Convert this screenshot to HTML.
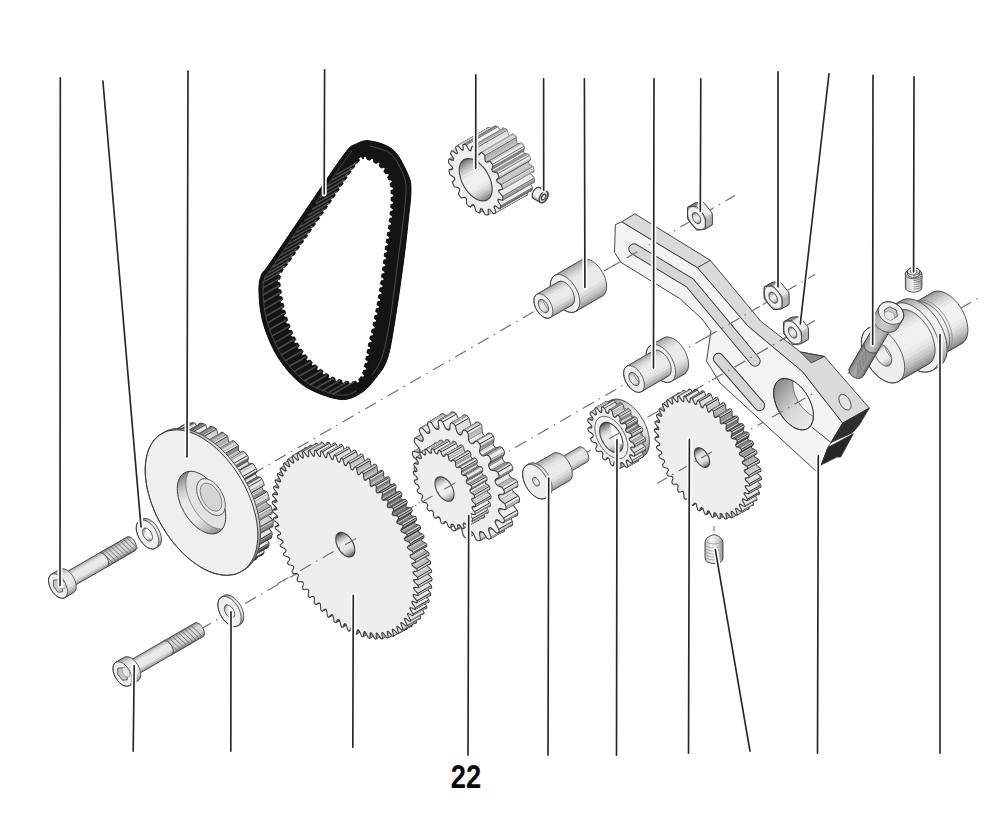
<!DOCTYPE html>
<html><head><meta charset="utf-8"><style>
html,body{margin:0;padding:0;background:#fff;}
svg{display:block;}
.num{font-family:"Liberation Sans",sans-serif;font-weight:bold;}
</style></head><body>
<svg width="1000" height="825" viewBox="0 0 1000 825">
<rect width="1000" height="825" fill="#fff"/>
<line x1="140.0" y1="538.9" x2="735.0" y2="195.4" stroke="#707070" stroke-width="1.2" stroke-dasharray="12.5 6 1.5 6"/>
<line x1="200.0" y1="629.6" x2="815.0" y2="274.5" stroke="#707070" stroke-width="1.2" stroke-dasharray="12.5 6 1.5 6"/>
<line x1="580.0" y1="456.3" x2="815.0" y2="320.6" stroke="#707070" stroke-width="1.2" stroke-dasharray="12.5 6 1.5 6"/>
<line x1="690.0" y1="464.5" x2="980.0" y2="297.1" stroke="#707070" stroke-width="1.2" stroke-dasharray="12.5 6 1.5 6"/>
<path d="M369.6 140.8 373.1 141.4 377.1 142.3 381.3 143.6 385.5 145.3 389.5 147.3 393 149.8 396 152.9 398.9 156.8 401.4 161.1 403.7 165.4 405.7 169.6 407.4 173.2 408.7 176.2 409.6 178.6 410.3 180.8 410.7 183.2 410.9 185.9 411 189.4 410.9 193.6 410.6 198.2 410.2 203.2 409.6 208.6 408.9 214.2 408.3 220 407.7 225.8 407.1 231.8 406.4 237.9 405.7 244.5 404.8 251.7 403.8 259.6 402.6 268.7 401.1 279 399.6 289.9 398 300.7 396.4 311 395 320 393.7 327.9 392.5 335.2 391.4 341.9 390.2 348 388.9 353.5 387.4 358.6 385.7 363 384 366.6 382.1 369.7 380.1 372.5 378 375.2 375.8 378 373.5 380.9 371.1 383.8 368.6 386.6 366 389.2 363.2 391.5 360.2 393.5 357.2 395.3 354.1 396.9 350.8 398.2 347.3 399.2 343.4 399.6 339 399.3 333.9 398.3 328 396.7 321.8 394.6 315.5 392 309.4 389.1 304 385.8 299.1 382.1 294.5 378 290.2 373.5 286.1 368.7 282.3 363.7 278.8 358.6 275.5 353.2 272.5 347.4 269.7 341.4 267.3 335.3 265.1 329.4 263.3 323.7 261.9 318.2 260.8 312.6 260 307.1 259.5 301.9 259.2 297 259 292.7 258.9 289 259 285.7 259.3 282.9 259.7 280.2 260.4 277.7 261.3 275.2 262 273.4 262.5 272.6 263.2 271.9 264.5 270.5 267 267.3 271 261.6 277.3 252.3 285.6 240 295 226 304.7 211.7 313.6 198.4 321 187.6 326.8 179.1 331.8 171.7 336.2 165.4 339.9 160.1 343.2 155.5 346.2 151.6 348.6 148.7 350.2 146.9 351.4 146 352.4 145.5 353.6 145.1 355.2 144.4 357.2 143.4 359.3 142.5 361.5 141.6 363.9 140.9 366.6 140.6zM364 156.4 365.2 156.5 366.4 156.6 367 159.4 367.9 159.6 368.9 160 369.8 160.3 371.8 158.3 372.8 158.8 373.7 159.2 373.4 162 374.3 162.5 375.2 163 376 163.6 378.3 162 379.2 162.7 380.1 163.4 379.2 166 379.9 166.7 380.6 167.4 381.3 168.1 383.9 167.2 384.6 168 385.3 168.8 383.8 171.2 384.4 172 385 172.9 385.6 173.7 388.3 173.2 388.8 174.1 389.4 175 387.6 177.2 388 178 388.4 179 388.8 179.9 391.6 179.9 392 181 392.3 182 390 183.7 390.2 184.7 390.4 185.7 390.6 186.6 393.2 187.4 393.4 188.4 393.4 189.4 390.9 190.6 391 191.6 391 192.6 391.1 193.6 393.7 194.6 393.7 195.6 393.7 196.6 391.1 197.6 391.1 198.6 391.1 199.6 391 200.6 393.6 201.7 393.6 202.8 393.5 203.8 390.9 204.6 390.8 205.6 390.7 206.6 390.7 207.6 393.2 208.8 393.1 209.8 393 210.9 390.3 211.6 390.2 212.6 390.1 213.6 390 214.6 392.5 215.9 392.4 216.9 392.3 217.9 389.6 218.6 389.5 219.6 389.3 220.6 389.2 221.6 391.6 222.9 391.5 223.9 391.4 224.9 388.6 225.5 388.5 226.5 388.4 227.5 388.2 228.5 390.6 229.9 390.5 230.9 390.3 231.9 387.6 232.5 387.5 233.5 387.3 234.4 387.2 235.4 389.6 236.8 389.4 237.8 389.3 238.8 386.6 239.4 386.4 240.4 386.3 241.4 386.1 242.4 388.5 243.7 388.4 244.7 388.2 245.7 385.5 246.3 385.4 247.3 385.2 248.3 385.1 249.3 387.5 250.6 387.4 251.6 387.3 252.6 384.6 253.3 384.4 254.3 384.3 255.2 384.2 256.2 386.6 257.6 386.5 258.5 386.4 259.5 383.7 260.2 383.6 261.2 383.4 262.2 383.3 263.2 385.8 264.5 385.6 265.5 385.5 266.5 382.8 267.2 382.7 268.2 382.6 269.1 382.4 270.1 384.9 271.5 384.8 272.5 384.6 273.4 381.9 274.1 381.8 275.1 381.7 276.1 381.5 277.1 384 278.4 383.9 279.4 383.7 280.4 381 281.1 380.9 282.1 380.7 283 380.6 284 383 285.4 382.9 286.4 382.7 287.4 380 288 379.8 289 379.7 290 379.5 291 381.9 292.4 381.8 293.4 381.6 294.4 378.9 294.9 378.7 295.9 378.5 296.9 378.3 297.9 380.7 299.3 380.5 300.3 380.3 301.3 377.6 301.8 377.4 302.8 377.2 303.8 377.1 304.8 379.4 306.2 379.2 307.2 379 308.2 376.3 308.7 376.1 309.7 375.9 310.6 375.7 311.6 378 313.1 377.8 314.1 377.7 315.1 374.9 315.6 374.7 316.5 374.5 317.5 374.3 318.5 376.7 320 376.4 321 376.2 322 373.5 322.4 373.3 323.4 373.1 324.4 372.9 325.4 375.2 326.9 375 327.9 374.8 328.8 372 329.3 371.8 330.2 371.6 331.2 371.3 332.2 373.6 333.7 373.4 334.7 373.2 335.7 370.4 336.1 370.2 337.1 370 338 369.8 339 372.1 340.6 371.9 341.5 371.6 342.5 368.9 342.9 368.7 343.9 368.5 344.9 368.2 345.9 370.6 347.4 370.4 348.3 370.2 349.3 367.5 349.8 367.3 350.8 367.1 351.7 366.9 352.7 369.3 354.2 369.1 355.2 369 356.1 366.2 356.7 366.1 357.7 365.9 358.7 365.7 359.6 368.1 361.1 367.9 362.1 367.8 363.1 365 363.6 364.8 364.6 364.6 365.5 364.4 366.5 366.8 368.1 366.5 369.1 366.2 370.1 363.5 370.4 363.2 371.4 362.9 372.3 362.5 373.3 364.5 375.2 364 376.2 363.5 377.2 360.7 376.8 360.2 377.7 359.5 378.4 358.8 379.1 359.6 381.8 358.6 382.5 357.5 383.1 355.4 381.2 354.5 381.6 353.5 381.8 352.5 381.9 351.5 384.6 350.4 384.5 349.2 384.5 348.6 381.7 347.6 381.6 346.6 381.4 345.6 381.1 344 383.4 343.1 383.2 342.1 383 341.7 380.2 340.7 380 339.8 379.7 338.8 379.4 337.1 381.6 336.1 381.3 335 380.9 335 378.2 334.1 377.8 333.2 377.4 332.3 377 330.2 378.9 329.2 378.4 328.3 377.8 328.7 375.1 327.9 374.5 327 374 326.2 373.4 323.9 375 323.1 374.4 322.2 373.8 323 371.1 322.2 370.5 321.4 369.9 320.6 369.3 318.2 370.7 317.4 370 316.6 369.4 317.5 366.7 316.7 366.1 316 365.4 315.2 364.8 312.7 366 312 365.3 311.2 364.6 312.3 362.1 311.5 361.4 310.8 360.7 310.1 360 307.6 361 306.9 360.3 306.2 359.6 307.4 357.1 306.7 356.3 306.1 355.5 305.5 354.8 302.8 355.6 302.1 354.8 301.5 353.9 303 351.6 302.4 350.8 301.9 349.9 301.3 349.1 298.5 349.7 298 348.8 297.5 347.9 299.2 345.7 298.6 344.9 298.1 344 297.6 343.1 294.9 343.5 294.4 342.6 293.9 341.7 295.8 339.6 295.3 338.7 294.9 337.8 294.4 336.9 291.7 337.1 291.2 336.2 290.8 335.3 292.8 333.3 292.4 332.4 292 331.4 291.6 330.5 288.8 330.6 288.4 329.6 288 328.7 290.1 326.8 289.7 325.9 289.4 324.9 289 324 286.2 323.9 285.9 322.9 285.6 322 287.7 320.2 287.4 319.3 287.1 318.3 286.8 317.3 284.1 317.1 283.8 316.1 283.5 315.2 285.7 313.5 285.5 312.5 285.2 311.6 285 310.6 282.2 310.2 282 309.3 281.8 308.3 284 306.7 283.8 305.7 283.6 304.7 283.4 303.8 280.7 303.3 280.5 302.3 280.2 301.3 282.6 299.8 282.4 298.9 282.2 297.9 282 296.9 279.3 296.4 279.1 295.4 278.9 294.4 281.3 292.9 281.2 292 281 291 280.8 290 278.1 289.4 278 288.4 277.8 287.4 280.3 286 280.1 285 280 284 279.9 283 277.3 282.2 277.2 281 277.3 280 279.9 279 280 278.1 280.2 277.1 280.4 276.1 278.2 274.4 278.5 273.4 278.9 272.3 281.7 272.3 282.1 271.4 282.6 270.5 283.1 269.7 281.7 267.3 282.4 266.5 283 265.7 285.7 266.6 286.3 265.8 286.9 265 287.5 264.2 286 261.9 286.6 261.1 287.2 260.3 289.9 261 290.5 260.2 291 259.4 291.6 258.5 290.1 256.2 290.6 255.4 291.2 254.6 293.9 255.2 294.5 254.4 295 253.6 295.6 252.8 294 250.5 294.6 249.6 295.2 248.8 297.9 249.5 298.4 248.7 299 247.8 299.6 247 298 244.7 298.6 243.9 299.1 243.1 301.8 243.7 302.4 242.9 303 242.1 303.6 241.2 302 238.9 302.5 238.1 303.1 237.3 305.8 237.9 306.4 237.1 307 236.3 307.5 235.5 306 233.2 306.5 232.3 307.1 231.5 309.8 232.2 310.4 231.3 310.9 230.5 311.5 229.7 309.9 227.4 310.5 226.6 311.1 225.7 313.8 226.4 314.3 225.6 314.9 224.8 315.5 223.9 313.9 221.6 314.5 220.8 315 220 317.8 220.6 318.3 219.8 318.9 219 319.5 218.2 317.9 215.9 318.5 215 319 214.2 321.7 214.9 322.3 214 322.9 213.2 323.4 212.4 321.9 210.1 322.4 209.3 323 208.4 325.7 209.1 326.3 208.3 326.8 207.4 327.4 206.6 325.8 204.3 326.4 203.5 327 202.7 329.7 203.3 330.2 202.5 330.8 201.7 331.4 200.8 329.8 198.5 330.4 197.7 330.9 196.9 333.6 197.5 334.2 196.7 334.8 195.9 335.3 195 333.7 192.8 334.3 191.9 334.8 191.1 337.6 191.7 338.1 190.9 338.7 190.1 339.2 189.2 337.6 187 338.2 186.1 338.7 185.3 341.4 185.9 342 185.1 342.6 184.2 343.1 183.4 341.5 181.1 342 180.3 342.6 179.5 345.3 180 345.8 179.2 346.4 178.4 347 177.5 345.3 175.3 345.9 174.4 346.4 173.6 349.2 174.2 349.7 173.4 350.3 172.5 350.9 171.7 349.3 169.4 349.9 168.6 350.5 167.7 353.2 168.5 353.8 167.7 354.4 166.9 355 166 353.5 163.7 354.2 162.9 354.8 162.1 357.5 162.9 358.1 162.1 358.7 161.4 359.4 160.7 358.7 157.9 360 157.1 361.5 156.7 363 159.1z" fill="#141414" fill-rule="evenodd" stroke="#000" stroke-width=".9"/>
<path d="M353.6 382.1 332.4 394.3M346.7 382.1 327.6 393.1M339.9 380.5 321.7 391M333.2 378.3 315.9 388.3M327 375 309.7 385M321.3 371 304 381M315.9 366.6 299 376.3M310.7 361.9 293.8 371.6M305.9 356.8 289.4 366.3M301.6 351.3 285.5 360.5M297.8 345.4 281.3 354.9M294.4 339.2 278 348.7M291.5 332.9 275.1 342.4M288.9 326.4 272 336.1M286.5 319.8 269.7 329.5M284.6 313 267.3 323M283 306.2 265.7 316.2M281.5 299.4 264.2 309.4M280.3 292.5 263.4 302.2M279.3 285.5 262.8 295M279.2 278.6 262.7 288.1M281.2 271.9 262.6 282.6M285.4 266.3 264.2 278.5M289.6 260.7 268.4 272.9M293.6 254.9 272.4 267.2M297.6 249.2 276.4 261.4M301.6 243.4 280.3 255.6M305.5 237.6 284.3 249.9M309.5 231.8 288.3 244.1M313.5 226.1 292.3 238.3M317.5 220.3 296.2 232.6M321.4 214.5 300.2 226.8M325.4 208.8 304.2 221M329.4 203 308.2 215.2M333.3 197.2 312.1 209.5M337.3 191.4 316 203.7M341.1 185.6 319.9 197.8M345 179.7 323.8 192M348.9 173.9 327.6 186.1M352.9 168.2 331.7 180.4M357.2 162.6 336 174.9" fill="none" stroke="#4a4a4a" stroke-width="1.6"/>
<path d="M352.1 151 351.2 152.1 350.3 153.2 349.4 154.3 348.6 155.4 347.6 156.6 346.8 157.8 345.9 159 345 160.2 344.1 161.4 343.3 162.6 342.4 163.8 341.6 165 340.7 166.2 339.9 167.5 339 168.7 338.2 169.9 337.3 171.2 336.5 172.4 335.6 173.6 334.8 174.9 333.9 176.1 333.1 177.3 332.2 178.6 331.4 179.8 330.5 181.1 329.7 182.3 328.8 183.5 328 184.8 327.2 186 326.3 187.3 325.5 188.5 324.6 189.8 323.8 191 322.9 192.2 322.1 193.5 321.2 194.7 320.4 196 319.5 197.2 318.7 198.4 317.9 199.7 317 200.9 316.2 202.2" fill="none" stroke="#505050" stroke-width=".9"/>
<path d="M302.7 222.1 301.9 223.3 301 224.6 300.2 225.8 299.4 227.1 298.5 228.3 297.7 229.6 296.9 230.8 296 232.1 295.2 233.3 294.3 234.6 293.5 235.8 292.7 237 291.8 238.3 291 239.5 290.1 240.8 289.3 242 288.5 243.3 287.6 244.5 286.8 245.8 285.9 247 285.1 248.3 284.3 249.5 283.4 250.8 282.6 252 281.7 253.2 280.9 254.5 280 255.7 279.2 257 278.4 258.2 277.5 259.5 276.7 260.7 275.8 262 275 263.2 274.1 264.5 273.2 265.7 272.4 267 271.5 268.2 270.6 269.5 269.6 270.8 268.7 272 267.6 273.3 266.5 274.5 265.9 275.1 265.6 275.8 265.1 277 264.7 278.3 264.3 279.5 263.9 280.8 263.7 282.1 263.5 283.3 263.3 284.7 263.2 286 263.2 287.4 263.1 288.8 263.1 290.2 263.2 291.7 263.2 293.1 263.3 294.6 263.4 296.1 263.4 297.5 263.5 299 263.6 300.5 263.8 301.9 263.9 303.4 264 304.9 264.2 306.3 264.4 307.7 264.6 309.2 264.8 310.6 265 312 265.2 313.4 265.5 314.9 265.8 316.3 266.1 317.6 266.4 319 266.8 320.5 267.2 321.9 267.5 323.2 268 324.6 268.4 326 268.9 327.4 269.4 328.7 269.9 330.1 270.4 331.5 270.9 332.9 271.4 334.2 271.9 335.6 272.5 337 273.1 338.4 273.6 339.7 274.2 341 274.8 342.3 275.4 343.7 276 345 276.6 346.3 277.3 347.5 278 348.9 278.7 350.2 279.3 351.4 280.1 352.6 280.8 353.9 281.6 355.2 282.3 356.3 283.1 357.5 284 358.7 284.8 360 285.6 361.1 286.5 362.3 287.4 363.4 288.3 364.6 289.1 365.8 290 366.8 291 368 291.9 369.1 292.9 370.2 293.8 371.2 294.8 372.3 295.8 373.3 296.8 374.4 297.8 375.3 298.8 376.3 299.9 377.3 301 378.2 302 379.1 303.1 379.9 304.3 380.8 305.5 381.7 306.5 382.4 307.7 383.1 309 383.9 310.3 384.7 311.4 385.4 312.6 385.9 313.9 386.6 315.3 387.3 316.6 387.9 317.8 388.5 319.1 389 320.5 389.6 321.9 390.1 323.2 390.7 324.5 391.1 325.9 391.6 327.3 392.1 328.7 392.5 330 392.9 331.4 393.3 332.8 393.7 334.2 394.1 335.5 394.4 336.9 394.6 338.4 394.9 339.6 395.1 340.8 395.2 342.3 395.3 343.4 395.3 344.6 395.2 346 395.1 347.1 394.9 348.4 394.5 349.6 394.2 350.7 393.7 352 393.2 353.2 392.6 354.4 391.9 355.7 391.3 356.9 390.5" fill="none" stroke="#505050" stroke-width=".9"/>
<path d="M370 146 372.4 146.7 375.8 147.6 379.8 148.8 383.9 150.1 387.8 151.9 391 154 393.6 156.7 396 159.9 398.1 163.5 400 167.2 401.6 170.8 403 174 404.1 176.7 404.9 179 405.4 181.2 405.8 183.6 406 186.5 406 190 405.9 194.3 405.5 199.3 405 204.6 404.4 210.3 403.7 216.1 403 222 402.3 227.7 401.6 233.4 400.8 239.2 400 245.5 399 252.3 398 260 396.8 269 395.6 279.2 394.2 290.1 392.8 300.9 391.4 311.1 390 320 388.7 327.7 387.4 334.7 386.2 341 384.9 346.8 383.5 352.1 382 357 380.2 361.5 378.1 365.7 376 369.3 374 372.4 372.2 375" fill="none" stroke="#555" stroke-width=".9"/>
<path fill="#bbb" stroke="#2a2a2a" stroke-width="2" stroke-linejoin="round" d="M165.1 461.6 165.1 460 165.5 458.6 169.3 459.5 169.7 458.3 169.6 456.7 166.1 452.5 166 450.8 166.3 449.4 166.6 448 167.3 446.9 171.2 448.8 171.8 447.8 172 446.4 169 441.8 169.2 440.2 169.8 439.1 170.4 437.9 171.3 437.2 175.2 440 176 439.4 176.5 438.2 174.1 433.2 174.6 431.9 175.4 431.1 176.2 430.3 177.4 429.9 181 433.5 182.1 433.2 182.8 432.3 181.1 427.3 181.9 426.3 182.9 425.8 183.9 425.3 185.2 425.3 188.6 429.6 189.8 429.7 190.7 429.1 189.8 424.2 190.8 423.5 192 423.4 193.2 423.3 194.6 423.7 197.4 428.5 198.7 428.9 199.8 428.6 199.7 424 200.9 423.8 202.2 424.1 203.6 424.3 205 425.1 207.2 430.1 208.5 430.9 209.8 431 210.5 426.9 211.8 427.1 213.2 427.7 214.6 428.4 216 429.5 217.5 434.5 218.8 435.6 220.1 436 221.6 432.7 223 433.2 224.4 434.2 225.8 435.2 227.2 436.6 227.9 441.4 229.1 442.7 230.4 443.5 232.6 441.1 234.1 442 235.4 443.2 236.7 444.5 237.9 446.1 237.8 450.6 238.9 452.1 240.2 453.2 243 451.7 244.4 452.9 245.7 454.4 246.9 455.9 247.9 457.7 247 461.6 247.9 463.2 249.1 464.5 252.4 464.1 253.7 465.6 254.7 467.3 255.8 469 256.5 470.8 254.9 473.9 255.5 475.6 256.6 477.2 260.3 477.8 261.4 479.5 262.3 481.2 263.1 483 263.6 484.9 261.2 487.1 261.6 488.8 262.5 490.4 266.4 492.1 267.3 493.9 267.9 495.7 268.4 497.5 268.6 499.3 265.7 500.5 265.8 502.1 266.5 503.8 270.4 506.4 271 508.3 271.3 510 271.6 511.8 271.5 513.4 268.1 513.6 268 515 268.4 516.7 272.1 520.1 272.5 522 272.5 523.6 272.5 525.2 272.1 526.6 268.4 525.7 268 526.9 268.1 528.5 271.5 532.7 271.6 534.4 271.3 535.8 271 537.2 270.4 538.3 266.5 536.4 265.8 537.4 265.7 538.8 268.6 543.4 268.4 545 267.9 546.1 267.3 547.3 266.4 548 262.5 545.2 261.6 545.8 261.2 547 263.6 552 263.1 553.3 262.3 554.1 261.4 554.9 260.3 555.3 256.6 551.7 255.5 552 254.9 552.9 256.5 557.9 255.8 558.9 254.7 559.4 253.7 559.9 252.4 559.9 249.1 555.6 247.9 555.5 247 556.1 247.9 561 246.9 561.7 245.7 561.8 244.4 561.9 243 561.5 240.2 556.7 238.9 556.3 237.8 556.6 237.9 561.2 236.7 561.4 235.4 561.1 234.1 560.9 232.6 560.1 230.4 555.1 229.1 554.3 227.9 554.2 227.2 558.3 225.8 558.1 224.4 557.5 223 556.8 221.6 555.7 220.1 550.7 218.8 549.6 217.5 549.2 216 552.5 214.6 552 213.2 551 211.8 550 210.5 548.6 209.8 543.8 208.5 542.5 207.2 541.7 205 544.1 203.6 543.2 202.2 542 200.9 540.7 199.7 539.1 199.8 534.6 198.7 533.1 197.4 532 194.6 533.5 193.2 532.3 192 530.8 190.8 529.3 189.8 527.5 190.7 523.6 189.8 522 188.6 520.7 185.2 521.1 183.9 519.6 182.9 517.9 181.9 516.2 181.1 514.4 182.8 511.3 182.1 509.6 181 508 177.4 507.4 176.2 505.7 175.4 504 174.6 502.2 174.1 500.3 176.5 498.1 176 496.4 175.2 494.8 171.3 493.1 170.4 491.3 169.8 489.5 169.2 487.7 169 485.9 172 484.7 171.8 483.1 171.2 481.4 167.3 478.8 166.6 476.9 166.3 475.2 166 473.4 166.1 471.8 169.6 471.6 169.7 470.2 169.3 468.5 165.5 465.1 165.1 463.2z"/>
<g stroke-linejoin="round">
<path fill="none" stroke="#2a2a2a" stroke-width=".90" d="M154.3 494.4 169 485.9"/>
<path fill="#424242" stroke="#424242" stroke-width=".6" d="M154.3 494.4 157.3 493.2 172 484.7 169 485.9z"/>
<path fill="none" stroke="#2a2a2a" stroke-width=".90" d="M190.3 552.6 205 544.1M157.3 493.2 172 484.7"/>
<path fill="#333333" stroke="#333333" stroke-width=".6" d="M192.5 550.2 190.3 552.6 205 544.1 207.2 541.7z"/>
<path fill="none" stroke="#2a2a2a" stroke-width=".90" d="M151.4 480.3 166.1 471.8M192.5 550.2 207.2 541.7"/>
<path fill="#545454" stroke="#545454" stroke-width=".6" d="M151.4 480.3 154.8 480.1 169.6 471.6 166.1 471.8z"/>
<path fill="none" stroke="#2a2a2a" stroke-width=".90" d="M201.3 561 216 552.5M154.8 480.1 169.6 471.6"/>
<path fill="#4b4b4b" stroke="#4b4b4b" stroke-width=".6" d="M202.8 557.7 201.3 561 216 552.5 217.5 549.2z"/>
<path fill="none" stroke="#2a2a2a" stroke-width=".90" d="M202.8 557.7 217.5 549.2M150.8 467.1 165.5 458.6"/>
<path fill="#727272" stroke="#727272" stroke-width=".6" d="M150.8 467.1 154.6 468 169.3 459.5 165.5 458.6z"/>
<path fill="none" stroke="#2a2a2a" stroke-width=".90" d="M154.6 468 169.3 459.5M212.4 566.8 227.2 558.3"/>
<path fill="#6f6f6f" stroke="#6f6f6f" stroke-width=".6" d="M213.2 562.7 212.4 566.8 227.2 558.3 227.9 554.2z"/>
<path fill="none" stroke="#2a2a2a" stroke-width=".90" d="M213.2 562.7 227.9 554.2M152.6 455.4 167.3 446.9"/>
<path fill="#969696" stroke="#969696" stroke-width=".6" d="M152.6 455.4 156.5 457.3 171.2 448.8 167.3 446.9z"/>
<path fill="none" stroke="#2a2a2a" stroke-width=".90" d="M156.5 457.3 171.2 448.8M223.2 569.7 237.9 561.2"/>
<path fill="#999999" stroke="#999999" stroke-width=".6" d="M223.1 565.1 223.2 569.7 237.9 561.2 237.8 556.6z"/>
<path fill="none" stroke="#2a2a2a" stroke-width=".90" d="M223.1 565.1 237.8 556.6M156.6 445.7 171.3 437.2"/>
<path fill="#bababa" stroke="#bababa" stroke-width=".6" d="M156.6 445.7 160.4 448.5 175.2 440 171.3 437.2z"/>
<path fill="none" stroke="#2a2a2a" stroke-width=".90" d="M160.4 448.5 175.2 440M232.2 570.2 246.9 561.7"/>
<path fill="#333333" stroke="#333333" stroke-width=".6" d="M233.2 569.5 232.2 570.2 246.9 561.7 247.9 561z"/>
<path fill="none" stroke="#2a2a2a" stroke-width=".90" d="M233.2 569.5 247.9 561"/>
<path fill="#bdbdbd" stroke="#bdbdbd" stroke-width=".6" d="M232.2 564.6 233.2 569.5 247.9 561 247 556.1z"/>
<path fill="none" stroke="#2a2a2a" stroke-width=".90" d="M232.2 564.6 247 556.1"/>
<path fill="#333333" stroke="#333333" stroke-width=".6" d="M233.1 564 232.2 564.6 247 556.1 247.9 555.5z"/>
<path fill="none" stroke="#2a2a2a" stroke-width=".90" d="M233.1 564 247.9 555.5M161.5 438.8 176.2 430.3"/>
<path fill="#454545" stroke="#454545" stroke-width=".6" d="M161.5 438.8 162.6 438.4 177.4 429.9 176.2 430.3z"/>
<path fill="none" stroke="#2a2a2a" stroke-width=".90" d="M162.6 438.4 177.4 429.9"/>
<path fill="#d8d8d8" stroke="#d8d8d8" stroke-width=".6" d="M162.6 438.4 166.3 442 181 433.5 177.4 429.9z"/>
<path fill="none" stroke="#2a2a2a" stroke-width=".90" d="M166.3 442 181 433.5"/>
<path fill="#454545" stroke="#454545" stroke-width=".6" d="M166.3 442 167.4 441.7 182.1 433.2 181 433.5z"/>
<path fill="none" stroke="#2a2a2a" stroke-width=".90" d="M167.4 441.7 182.1 433.2M241.1 567.4 255.8 558.9"/>
<path fill="#363636" stroke="#363636" stroke-width=".6" d="M241.8 566.4 241.1 567.4 255.8 558.9 256.5 557.9z"/>
<path fill="none" stroke="#2a2a2a" stroke-width=".90" d="M241.8 566.4 256.5 557.9"/>
<path fill="#dbdbdb" stroke="#dbdbdb" stroke-width=".6" d="M240.1 561.4 241.8 566.4 256.5 557.9 254.9 552.9z"/>
<path fill="none" stroke="#2a2a2a" stroke-width=".90" d="M240.1 561.4 254.9 552.9M167.1 434.8 181.9 426.3"/>
<path fill="#393939" stroke="#393939" stroke-width=".6" d="M240.8 560.5 240.1 561.4 254.9 552.9 255.5 552z"/>
<path fill="#3f3f3f" stroke="#3f3f3f" stroke-width=".6" d="M167.1 434.8 168.2 434.3 182.9 425.8 181.9 426.3z"/>
<path fill="none" stroke="#2a2a2a" stroke-width=".90" d="M240.8 560.5 255.5 552"/>
<path fill="#424242" stroke="#424242" stroke-width=".6" d="M168.2 434.3 169.2 433.8 183.9 425.3 182.9 425.8z"/>
<path fill="none" stroke="#2a2a2a" stroke-width=".90" d="M169.2 433.8 183.9 425.3"/>
<path fill="#5a5a5a" stroke="#5a5a5a" stroke-width=".6" d="M169.2 433.8 170.5 433.8 185.2 425.3 183.9 425.3z"/>
<path fill="none" stroke="#2a2a2a" stroke-width=".90" d="M170.5 433.8 185.2 425.3"/>
<path fill="#e7e7e7" stroke="#e7e7e7" stroke-width=".6" d="M170.5 433.8 173.8 438.1 188.6 429.6 185.2 425.3z"/>
<path fill="none" stroke="#2a2a2a" stroke-width=".90" d="M173.8 438.1 188.6 429.6M246.7 563.4 261.4 554.9"/>
<path fill="#5d5d5d" stroke="#5d5d5d" stroke-width=".6" d="M173.8 438.1 175.1 438.2 189.8 429.7 188.6 429.6z"/>
<path fill="#333333" stroke="#333333" stroke-width=".6" d="M247.5 562.6 246.7 563.4 261.4 554.9 262.3 554.1z"/>
<path fill="none" stroke="#2a2a2a" stroke-width=".90" d="M175.1 438.2 189.8 429.7"/>
<path fill="#333333" stroke="#333333" stroke-width=".6" d="M248.3 561.8 247.5 562.6 262.3 554.1 263.1 553.3z"/>
<path fill="none" stroke="#2a2a2a" stroke-width=".90" d="M248.3 561.8 263.1 553.3"/>
<path fill="#515151" stroke="#515151" stroke-width=".6" d="M248.8 560.5 248.3 561.8 263.1 553.3 263.6 552z"/>
<path fill="none" stroke="#2a2a2a" stroke-width=".90" d="M248.8 560.5 263.6 552"/>
<path fill="#e7e7e7" stroke="#e7e7e7" stroke-width=".6" d="M246.5 555.5 248.8 560.5 263.6 552 261.2 547z"/>
<path fill="none" stroke="#2a2a2a" stroke-width=".90" d="M246.5 555.5 261.2 547"/>
<path fill="#575757" stroke="#575757" stroke-width=".6" d="M246.9 554.3 246.5 555.5 261.2 547 261.6 545.8z"/>
<path fill="none" stroke="#2a2a2a" stroke-width=".90" d="M176 432 190.8 423.5M246.9 554.3 261.6 545.8"/>
<path fill="#515151" stroke="#515151" stroke-width=".6" d="M176 432 177.3 431.9 192 423.4 190.8 423.5z"/>
<path fill="#333333" stroke="#333333" stroke-width=".6" d="M247.8 553.7 246.9 554.3 261.6 545.8 262.5 545.2z"/>
<path fill="none" stroke="#2a2a2a" stroke-width=".90" d="M247.8 553.7 262.5 545.2"/>
<path fill="#545454" stroke="#545454" stroke-width=".6" d="M177.3 431.9 178.5 431.8 193.2 423.3 192 423.4z"/>
<path fill="none" stroke="#2a2a2a" stroke-width=".90" d="M178.5 431.8 193.2 423.3"/>
<path fill="#7b7b7b" stroke="#7b7b7b" stroke-width=".6" d="M178.5 431.8 179.9 432.2 194.6 423.7 193.2 423.3z"/>
<path fill="none" stroke="#2a2a2a" stroke-width=".90" d="M179.9 432.2 194.6 423.7M251.6 556.5 266.4 548"/>
<path fill="#e7e7e7" stroke="#e7e7e7" stroke-width=".6" d="M179.9 432.2 182.7 437 197.4 428.5 194.6 423.7z"/>
<path fill="none" stroke="#2a2a2a" stroke-width=".90" d="M182.7 437 197.4 428.5"/>
<path fill="#7e7e7e" stroke="#7e7e7e" stroke-width=".6" d="M182.7 437 184 437.4 198.7 428.9 197.4 428.5z"/>
<path fill="#333333" stroke="#333333" stroke-width=".6" d="M252.6 555.8 251.6 556.5 266.4 548 267.3 547.3z"/>
<path fill="none" stroke="#2a2a2a" stroke-width=".90" d="M184 437.4 198.7 428.9M252.6 555.8 267.3 547.3"/>
<path fill="#484848" stroke="#484848" stroke-width=".6" d="M184 437.4 185.1 437.1 199.8 428.6 198.7 428.9z"/>
<path fill="#454545" stroke="#454545" stroke-width=".6" d="M253.1 554.6 252.6 555.8 267.3 547.3 267.9 546.1z"/>
<path fill="none" stroke="#2a2a2a" stroke-width=".90" d="M185.1 437.1 199.8 428.6"/>
<path fill="#484848" stroke="#484848" stroke-width=".6" d="M253.7 553.5 253.1 554.6 267.9 546.1 268.4 545z"/>
<path fill="none" stroke="#2a2a2a" stroke-width=".90" d="M253.7 553.5 268.4 545"/>
<path fill="#787878" stroke="#787878" stroke-width=".6" d="M253.9 551.9 253.7 553.5 268.4 545 268.6 543.4z"/>
<path fill="none" stroke="#2a2a2a" stroke-width=".90" d="M250.9 547.3 265.7 538.8"/>
<path fill="#e7e7e7" stroke="#e7e7e7" stroke-width=".6" d="M250.9 547.3 253.9 551.9 268.6 543.4 265.7 538.8z"/>
<path fill="none" stroke="#2a2a2a" stroke-width=".90" d="M185 432.5 199.7 424M253.9 551.9 268.6 543.4"/>
<path fill="#7e7e7e" stroke="#7e7e7e" stroke-width=".6" d="M251.1 545.9 250.9 547.3 265.7 538.8 265.8 537.4z"/>
<path fill="#4b4b4b" stroke="#4b4b4b" stroke-width=".6" d="M185 432.5 186.2 432.3 200.9 423.8 199.7 424z"/>
<path fill="none" stroke="#2a2a2a" stroke-width=".90" d="M251.1 545.9 265.8 537.4"/>
<path fill="#393939" stroke="#393939" stroke-width=".6" d="M251.7 544.9 251.1 545.9 265.8 537.4 266.5 536.4z"/>
<path fill="none" stroke="#2a2a2a" stroke-width=".90" d="M186.2 432.3 200.9 423.8M251.7 544.9 266.5 536.4"/>
<path fill="#6c6c6c" stroke="#6c6c6c" stroke-width=".6" d="M186.2 432.3 187.5 432.6 202.2 424.1 200.9 423.8z"/>
<path fill="#727272" stroke="#727272" stroke-width=".6" d="M187.5 432.6 188.8 432.8 203.6 424.3 202.2 424.1z"/>
<path fill="none" stroke="#2a2a2a" stroke-width=".90" d="M188.8 432.8 203.6 424.3M192.5 438.6 207.2 430.1"/>
<path fill="#9f9f9f" stroke="#9f9f9f" stroke-width=".6" d="M188.8 432.8 190.3 433.6 205 425.1 203.6 424.3z"/>
<path fill="#e7e7e7" stroke="#e7e7e7" stroke-width=".6" d="M190.3 433.6 192.5 438.6 207.2 430.1 205 425.1z"/>
<path fill="#a2a2a2" stroke="#a2a2a2" stroke-width=".6" d="M192.5 438.6 193.8 439.4 208.5 430.9 207.2 430.1z"/>
<path fill="none" stroke="#2a2a2a" stroke-width=".90" d="M190.3 433.6 205 425.1M255.6 546.8 270.4 538.3M193.8 439.4 208.5 430.9"/>
<path fill="#3c3c3c" stroke="#3c3c3c" stroke-width=".6" d="M256.3 545.7 255.6 546.8 270.4 538.3 271 537.2z"/>
<path fill="#606060" stroke="#606060" stroke-width=".6" d="M193.8 439.4 195 439.5 209.8 431 208.5 430.9z"/>
<path fill="none" stroke="#2a2a2a" stroke-width=".90" d="M256.3 545.7 271 537.2M195 439.5 209.8 431"/>
<path fill="#696969" stroke="#696969" stroke-width=".6" d="M256.6 544.3 256.3 545.7 271 537.2 271.3 535.8z"/>
<path fill="#6c6c6c" stroke="#6c6c6c" stroke-width=".6" d="M256.9 542.9 256.6 544.3 271.3 535.8 271.6 534.4z"/>
<path fill="none" stroke="#2a2a2a" stroke-width=".90" d="M253.4 537 268.1 528.5M256.9 542.9 271.6 534.4"/>
<path fill="#a5a5a5" stroke="#a5a5a5" stroke-width=".6" d="M253.2 535.4 253.4 537 268.1 528.5 268 526.9z"/>
<path fill="#e7e7e7" stroke="#e7e7e7" stroke-width=".6" d="M253.4 537 256.8 541.2 271.5 532.7 268.1 528.5z"/>
<path fill="#9f9f9f" stroke="#9f9f9f" stroke-width=".6" d="M256.8 541.2 256.9 542.9 271.6 534.4 271.5 532.7z"/>
<path fill="none" stroke="#2a2a2a" stroke-width=".90" d="M253.2 535.4 268 526.9M195.8 435.4 210.5 426.9M256.8 541.2 271.5 532.7"/>
<path fill="#5a5a5a" stroke="#5a5a5a" stroke-width=".6" d="M253.6 534.2 253.2 535.4 268 526.9 268.4 525.7z"/>
<path fill="#636363" stroke="#636363" stroke-width=".6" d="M195.8 435.4 197.1 435.6 211.8 427.1 210.5 426.9z"/>
<path fill="none" stroke="#2a2a2a" stroke-width=".90" d="M253.6 534.2 268.4 525.7M197.1 435.6 211.8 427.1"/>
<path fill="#909090" stroke="#909090" stroke-width=".6" d="M197.1 435.6 198.5 436.2 213.2 427.7 211.8 427.1z"/>
<path fill="none" stroke="#2a2a2a" stroke-width=".90" d="M202.8 443 217.5 434.5"/>
<path fill="#939393" stroke="#939393" stroke-width=".6" d="M198.5 436.2 199.9 436.9 214.6 428.4 213.2 427.7z"/>
<path fill="#c6c6c6" stroke="#c6c6c6" stroke-width=".6" d="M202.8 443 204.1 444.1 218.8 435.6 217.5 434.5z"/>
<path fill="none" stroke="#2a2a2a" stroke-width=".90" d="M199.9 436.9 214.6 428.4M204.1 444.1 218.8 435.6"/>
<path fill="#d5d5d5" stroke="#d5d5d5" stroke-width=".6" d="M201.3 438 202.8 443 217.5 434.5 216 429.5z"/>
<path fill="#c0c0c0" stroke="#c0c0c0" stroke-width=".6" d="M199.9 436.9 201.3 438 216 429.5 214.6 428.4z"/>
<path fill="#818181" stroke="#818181" stroke-width=".6" d="M204.1 444.1 205.4 444.5 220.1 436 218.8 435.6z"/>
<path fill="none" stroke="#2a2a2a" stroke-width=".90" d="M201.3 438 216 429.5M257.4 535.1 272.1 526.6M205.4 444.5 220.1 436"/>
<path fill="#5d5d5d" stroke="#5d5d5d" stroke-width=".6" d="M257.8 533.7 257.4 535.1 272.1 526.6 272.5 525.2z"/>
<path fill="none" stroke="#2a2a2a" stroke-width=".90" d="M257.8 533.7 272.5 525.2"/>
<path fill="#909090" stroke="#909090" stroke-width=".6" d="M257.8 532.1 257.8 533.7 272.5 525.2 272.5 523.6z"/>
<path fill="none" stroke="#2a2a2a" stroke-width=".90" d="M253.6 525.2 268.4 516.7"/>
<path fill="#c9c9c9" stroke="#c9c9c9" stroke-width=".6" d="M253.2 523.5 253.6 525.2 268.4 516.7 268 515z"/>
<path fill="none" stroke="#2a2a2a" stroke-width=".90" d="M253.2 523.5 268 515"/>
<path fill="#969696" stroke="#969696" stroke-width=".6" d="M257.8 530.5 257.8 532.1 272.5 523.6 272.5 522z"/>
<path fill="#d2d2d2" stroke="#d2d2d2" stroke-width=".6" d="M253.6 525.2 257.4 528.6 272.1 520.1 268.4 516.7z"/>
<path fill="#818181" stroke="#818181" stroke-width=".6" d="M253.4 522.1 253.2 523.5 268 515 268.1 513.6z"/>
<path fill="none" stroke="#2a2a2a" stroke-width=".90" d="M257.8 530.5 272.5 522"/>
<path fill="#c3c3c3" stroke="#c3c3c3" stroke-width=".6" d="M257.4 528.6 257.8 530.5 272.5 522 272.1 520.1z"/>
<path fill="none" stroke="#2a2a2a" stroke-width=".90" d="M253.4 522.1 268.1 513.6M206.9 441.2 221.6 432.7M257.4 528.6 272.1 520.1"/>
<path fill="#878787" stroke="#878787" stroke-width=".6" d="M206.9 441.2 208.3 441.7 223 433.2 221.6 432.7z"/>
<path fill="none" stroke="#2a2a2a" stroke-width=".90" d="M208.3 441.7 223 433.2M213.2 449.9 227.9 441.4"/>
<path fill="#e1e1e1" stroke="#e1e1e1" stroke-width=".6" d="M213.2 449.9 214.4 451.2 229.1 442.7 227.9 441.4z"/>
<path fill="#b4b4b4" stroke="#b4b4b4" stroke-width=".6" d="M208.3 441.7 209.7 442.7 224.4 434.2 223 433.2z"/>
<path fill="none" stroke="#2a2a2a" stroke-width=".90" d="M214.4 451.2 229.1 442.7"/>
<path fill="#a5a5a5" stroke="#a5a5a5" stroke-width=".6" d="M214.4 451.2 215.7 452 230.4 443.5 229.1 442.7z"/>
<path fill="#b4b4b4" stroke="#b4b4b4" stroke-width=".6" d="M212.4 445.1 213.2 449.9 227.9 441.4 227.2 436.6z"/>
<path fill="#bababa" stroke="#bababa" stroke-width=".6" d="M209.7 442.7 211.1 443.7 225.8 435.2 224.4 434.2z"/>
<path fill="none" stroke="#2a2a2a" stroke-width=".90" d="M215.7 452 230.4 443.5M211.1 443.7 225.8 435.2"/>
<path fill="#dedede" stroke="#dedede" stroke-width=".6" d="M211.1 443.7 212.4 445.1 227.2 436.6 225.8 435.2z"/>
<path fill="none" stroke="#2a2a2a" stroke-width=".90" d="M212.4 445.1 227.2 436.6M256.8 521.9 271.5 513.4M251.7 512.3 266.5 503.8"/>
<path fill="#848484" stroke="#848484" stroke-width=".6" d="M256.9 520.3 256.8 521.9 271.5 513.4 271.6 511.8z"/>
<path fill="#e4e4e4" stroke="#e4e4e4" stroke-width=".6" d="M251.1 510.6 251.7 512.3 266.5 503.8 265.8 502.1z"/>
<path fill="none" stroke="#2a2a2a" stroke-width=".90" d="M251.1 510.6 265.8 502.1M256.9 520.3 271.6 511.8"/>
<path fill="#a8a8a8" stroke="#a8a8a8" stroke-width=".6" d="M250.9 509 251.1 510.6 265.8 502.1 265.7 500.5z"/>
<path fill="#b7b7b7" stroke="#b7b7b7" stroke-width=".6" d="M256.6 518.5 256.9 520.3 271.6 511.8 271.3 510z"/>
<path fill="none" stroke="#2a2a2a" stroke-width=".90" d="M250.9 509 265.7 500.5"/>
<path fill="#b1b1b1" stroke="#b1b1b1" stroke-width=".6" d="M251.7 512.3 255.6 514.9 270.4 506.4 266.5 503.8z"/>
<path fill="#bababa" stroke="#bababa" stroke-width=".6" d="M256.3 516.8 256.6 518.5 271.3 510 271 508.3z"/>
<path fill="none" stroke="#2a2a2a" stroke-width=".90" d="M256.3 516.8 271 508.3M223.1 459.1 237.8 450.6"/>
<path fill="#e1e1e1" stroke="#e1e1e1" stroke-width=".6" d="M255.6 514.9 256.3 516.8 271 508.3 270.4 506.4z"/>
<path fill="#e7e7e7" stroke="#e7e7e7" stroke-width=".6" d="M223.1 459.1 224.2 460.6 238.9 452.1 237.8 450.6z"/>
<path fill="none" stroke="#2a2a2a" stroke-width=".90" d="M224.2 460.6 238.9 452.1M217.9 449.6 232.6 441.1M255.6 514.9 270.4 506.4"/>
<path fill="#c9c9c9" stroke="#c9c9c9" stroke-width=".6" d="M224.2 460.6 225.5 461.7 240.2 453.2 238.9 452.1z"/>
<path fill="#ababab" stroke="#ababab" stroke-width=".6" d="M217.9 449.6 219.3 450.5 234.1 442 232.6 441.1z"/>
<path fill="none" stroke="#2a2a2a" stroke-width=".90" d="M225.5 461.7 240.2 453.2M219.3 450.5 234.1 442"/>
<path fill="#8d8d8d" stroke="#8d8d8d" stroke-width=".6" d="M223.2 454.6 223.1 459.1 237.8 450.6 237.9 446.1z"/>
<path fill="#d5d5d5" stroke="#d5d5d5" stroke-width=".6" d="M219.3 450.5 220.7 451.7 235.4 443.2 234.1 442z"/>
<path fill="none" stroke="#2a2a2a" stroke-width=".90" d="M247.8 498.9 262.5 490.4"/>
<path fill="#e7e7e7" stroke="#e7e7e7" stroke-width=".6" d="M246.9 497.3 247.8 498.9 262.5 490.4 261.6 488.8z"/>
<path fill="none" stroke="#2a2a2a" stroke-width=".90" d="M246.9 497.3 261.6 488.8"/>
<path fill="#cccccc" stroke="#cccccc" stroke-width=".6" d="M246.5 495.6 246.9 497.3 261.6 488.8 261.2 487.1z"/>
<path fill="#d8d8d8" stroke="#d8d8d8" stroke-width=".6" d="M220.7 451.7 222 453 236.7 444.5 235.4 443.2z"/>
<path fill="none" stroke="#2a2a2a" stroke-width=".90" d="M246.5 495.6 261.2 487.1M222 453 236.7 444.5"/>
<path fill="#e7e7e7" stroke="#e7e7e7" stroke-width=".6" d="M222 453 223.2 454.6 237.9 446.1 236.7 444.5z"/>
<path fill="none" stroke="#2a2a2a" stroke-width=".90" d="M223.2 454.6 237.9 446.1M253.9 507.8 268.6 499.3"/>
<path fill="#3f3f3f" stroke="#3f3f3f" stroke-width=".6" d="M225.5 461.7 228.3 460.2 243 451.7 240.2 453.2z"/>
<path fill="none" stroke="#2a2a2a" stroke-width=".90" d="M233.1 471.7 247.9 463.2"/>
<path fill="#e7e7e7" stroke="#e7e7e7" stroke-width=".6" d="M232.2 470.1 233.1 471.7 247.9 463.2 247 461.6z"/>
<path fill="none" stroke="#2a2a2a" stroke-width=".90" d="M232.2 470.1 247 461.6"/>
<path fill="#e1e1e1" stroke="#e1e1e1" stroke-width=".6" d="M233.1 471.7 234.3 473 249.1 464.5 247.9 463.2z"/>
<path fill="#aeaeae" stroke="#aeaeae" stroke-width=".6" d="M253.7 506 253.9 507.8 268.6 499.3 268.4 497.5z"/>
<path fill="#8d8d8d" stroke="#8d8d8d" stroke-width=".6" d="M247.8 498.9 251.6 500.6 266.4 492.1 262.5 490.4z"/>
<path fill="none" stroke="#2a2a2a" stroke-width=".90" d="M234.3 473 249.1 464.5M240.8 484.1 255.5 475.6"/>
<path fill="#e7e7e7" stroke="#e7e7e7" stroke-width=".6" d="M240.8 484.1 241.9 485.7 256.6 477.2 255.5 475.6z"/>
<path fill="#e4e4e4" stroke="#e4e4e4" stroke-width=".6" d="M240.1 482.4 240.8 484.1 255.5 475.6 254.9 473.9z"/>
<path fill="none" stroke="#2a2a2a" stroke-width=".90" d="M241.9 485.7 256.6 477.2M253.7 506 268.4 497.5M240.1 482.4 254.9 473.9"/>
<path fill="#d8d8d8" stroke="#d8d8d8" stroke-width=".6" d="M253.1 504.2 253.7 506 268.4 497.5 267.9 495.7z"/>
<path fill="#333333" stroke="#333333" stroke-width=".6" d="M248.8 493.4 246.5 495.6 261.2 487.1 263.6 484.9z"/>
<path fill="#dbdbdb" stroke="#dbdbdb" stroke-width=".6" d="M252.6 502.4 253.1 504.2 267.9 495.7 267.3 493.9z"/>
<path fill="#666666" stroke="#666666" stroke-width=".6" d="M233.2 466.2 232.2 470.1 247 461.6 247.9 457.7z"/>
<path fill="none" stroke="#2a2a2a" stroke-width=".90" d="M252.6 502.4 267.3 493.9"/>
<path fill="#e7e7e7" stroke="#e7e7e7" stroke-width=".6" d="M251.6 500.6 252.6 502.4 267.3 493.9 266.4 492.1z"/>
<path fill="none" stroke="#2a2a2a" stroke-width=".90" d="M228.3 460.2 243 451.7M251.6 500.6 266.4 492.1"/>
<path fill="#cccccc" stroke="#cccccc" stroke-width=".6" d="M228.3 460.2 229.7 461.4 244.4 452.9 243 451.7z"/>
<path fill="#4e4e4e" stroke="#4e4e4e" stroke-width=".6" d="M234.3 473 237.7 472.6 252.4 464.1 249.1 464.5z"/>
<path fill="#696969" stroke="#696969" stroke-width=".6" d="M241.9 485.7 245.6 486.3 260.3 477.8 256.6 477.2z"/>
<path fill="none" stroke="#2a2a2a" stroke-width=".90" d="M229.7 461.4 244.4 452.9"/>
<path fill="#424242" stroke="#424242" stroke-width=".6" d="M241.8 479.3 240.1 482.4 254.9 473.9 256.5 470.8z"/>
<path fill="#e7e7e7" stroke="#e7e7e7" stroke-width=".6" d="M229.7 461.4 230.9 462.9 245.7 454.4 244.4 452.9zM230.9 462.9 232.2 464.4 246.9 455.9 245.7 454.4z"/>
<path fill="none" stroke="#2a2a2a" stroke-width=".90" d="M233.2 466.2 247.9 457.7M248.8 493.4 263.6 484.9"/>
<path fill="#e7e7e7" stroke="#e7e7e7" stroke-width=".6" d="M232.2 464.4 233.2 466.2 247.9 457.7 246.9 455.9z"/>
<path fill="none" stroke="#2a2a2a" stroke-width=".90" d="M232.2 464.4 246.9 455.9"/>
<path fill="#cfcfcf" stroke="#cfcfcf" stroke-width=".6" d="M248.3 491.5 248.8 493.4 263.6 484.9 263.1 483z"/>
<path fill="none" stroke="#2a2a2a" stroke-width=".90" d="M248.3 491.5 263.1 483"/>
<path fill="#e7e7e7" stroke="#e7e7e7" stroke-width=".6" d="M247.5 489.7 248.3 491.5 263.1 483 262.3 481.2z"/>
<path fill="none" stroke="#2a2a2a" stroke-width=".90" d="M237.7 472.6 252.4 464.1M245.6 486.3 260.3 477.8"/>
<path fill="#e7e7e7" stroke="#e7e7e7" stroke-width=".6" d="M246.7 488 247.5 489.7 262.3 481.2 261.4 479.5zM245.6 486.3 246.7 488 261.4 479.5 260.3 477.8z"/>
<path fill="none" stroke="#2a2a2a" stroke-width=".90" d="M246.7 488 261.4 479.5"/>
<path fill="#e4e4e4" stroke="#e4e4e4" stroke-width=".6" d="M237.7 472.6 239 474.1 253.7 465.6 252.4 464.1z"/>
<path fill="none" stroke="#2a2a2a" stroke-width=".90" d="M241.8 479.3 256.5 470.8"/>
<path fill="#e7e7e7" stroke="#e7e7e7" stroke-width=".6" d="M241.1 477.5 241.8 479.3 256.5 470.8 255.8 469z"/>
<path fill="none" stroke="#2a2a2a" stroke-width=".90" d="M239 474.1 253.7 465.6"/>
<path fill="#e7e7e7" stroke="#e7e7e7" stroke-width=".6" d="M239 474.1 240 475.8 254.7 467.3 253.7 465.6zM240 475.8 241.1 477.5 255.8 469 254.7 467.3z"/>
<path fill="none" stroke="#2a2a2a" stroke-width=".90" d="M241.1 477.5 255.8 469"/>
</g>
<path d="M150.4 470.1 150.4 468.5 150.8 467.1 154.6 468 155 466.8 154.8 465.2 151.4 461 151.3 459.3 151.6 457.9 151.9 456.5 152.6 455.4 156.5 457.3 157.1 456.3 157.3 454.9 154.3 450.3 154.5 448.7 155 447.6 155.6 446.4 156.6 445.7 160.4 448.5 161.3 447.9 161.7 446.7 159.4 441.7 159.8 440.4 160.7 439.6 161.5 438.8 162.6 438.4 166.3 442 167.4 441.7 168.1 440.8 166.4 435.8 167.1 434.8 168.2 434.3 169.2 433.8 170.5 433.8 173.8 438.1 175.1 438.2 176 437.6 175 432.7 176 432 177.3 431.9 178.5 431.8 179.9 432.2 182.7 437 184 437.4 185.1 437.1 185 432.5 186.2 432.3 187.5 432.6 188.8 432.8 190.3 433.6 192.5 438.6 193.8 439.4 195 439.5 195.8 435.4 197.1 435.6 198.5 436.2 199.9 436.9 201.3 438 202.8 443 204.1 444.1 205.4 444.5 206.9 441.2 208.3 441.7 209.7 442.7 211.1 443.7 212.4 445.1 213.2 449.9 214.4 451.2 215.7 452 217.9 449.6 219.3 450.5 220.7 451.7 222 453 223.2 454.6 223.1 459.1 224.2 460.6 225.5 461.7 228.3 460.2 229.7 461.4 230.9 462.9 232.2 464.4 233.2 466.2 232.2 470.1 233.1 471.7 234.3 473 237.7 472.6 239 474.1 240 475.8 241.1 477.5 241.8 479.3 240.1 482.4 240.8 484.1 241.9 485.7 245.6 486.3 246.7 488 247.5 489.7 248.3 491.5 248.8 493.4 246.5 495.6 246.9 497.3 247.8 498.9 251.6 500.6 252.6 502.4 253.1 504.2 253.7 506 253.9 507.8 250.9 509 251.1 510.6 251.7 512.3 255.6 514.9 256.3 516.8 256.6 518.5 256.9 520.3 256.8 521.9 253.4 522.1 253.2 523.5 253.6 525.2 257.4 528.6 257.8 530.5 257.8 532.1 257.8 533.7 257.4 535.1 253.6 534.2 253.2 535.4 253.4 537 256.8 541.2 256.9 542.9 256.6 544.3 256.3 545.7 255.6 546.8 251.7 544.9 251.1 545.9 250.9 547.3 253.9 551.9 253.7 553.5 253.1 554.6 252.6 555.8 251.6 556.5 247.8 553.7 246.9 554.3 246.5 555.5 248.8 560.5 248.3 561.8 247.5 562.6 246.7 563.4 245.6 563.8 241.9 560.2 240.8 560.5 240.1 561.4 241.8 566.4 241.1 567.4 240 567.9 239 568.4 237.7 568.4 234.3 564.1 233.1 564 232.2 564.6 233.2 569.5 232.2 570.2 230.9 570.3 229.7 570.4 228.3 570 225.5 565.2 224.2 564.8 223.1 565.1 223.2 569.7 222 569.9 220.7 569.6 219.3 569.4 217.9 568.6 215.7 563.6 214.4 562.8 213.2 562.7 212.4 566.8 211.1 566.6 209.7 566 208.3 565.3 206.9 564.2 205.4 559.2 204.1 558.1 202.8 557.7 201.3 561 199.9 560.5 198.5 559.5 197.1 558.5 195.8 557.1 195 552.3 193.8 551 192.5 550.2 190.3 552.6 188.8 551.7 187.5 550.5 186.2 549.2 185 547.6 185.1 543.1 184 541.6 182.7 540.5 179.9 542 178.5 540.8 177.3 539.3 176 537.8 175 536 176 532.1 175.1 530.5 173.8 529.2 170.5 529.6 169.2 528.1 168.2 526.4 167.1 524.7 166.4 522.9 168.1 519.8 167.4 518.1 166.3 516.5 162.6 515.9 161.5 514.2 160.7 512.5 159.8 510.7 159.4 508.8 161.7 506.6 161.3 504.9 160.4 503.3 156.6 501.6 155.6 499.8 155 498 154.5 496.2 154.3 494.4 157.3 493.2 157.1 491.6 156.5 489.9 152.6 487.3 151.9 485.4 151.6 483.7 151.3 481.9 151.4 480.3 154.8 480.1 155 478.7 154.6 477 150.8 473.6 150.4 471.7z" fill="#eeeeee" fill-rule="evenodd" stroke="#404040" stroke-width="1.1" stroke-linejoin="round"/>
<g stroke-width=".7" stroke-linejoin="round">
<path fill="#818181" stroke="#818181" d="M161.7 433.7 164.4 432.3 167 430.8 164.3 432.2z"/>
<path fill="#787878" stroke="#787878" d="M243.8 569.9 241.3 571.5 243.9 570 246.4 568.4zM246.2 568 243.8 569.9 246.4 568.4 248.8 566.5zM248.3 565.7 246.2 568 248.8 566.5 250.9 564.2z"/>
<path fill="#848484" stroke="#848484" d="M164.4 432.3 167.2 431.2 169.8 429.7 167 430.8zM253.5 557.5 252 560.5 254.6 559 256.1 556z"/>
<path fill="#878787" stroke="#878787" d="M167.2 431.2 170.2 430.5 172.8 429 169.8 429.7z"/>
<path fill="#8a8a8a" stroke="#8a8a8a" d="M170.2 430.5 173.4 430.1 176 428.6 172.8 429zM254.8 554.3 253.5 557.5 256.1 556 257.4 552.8z"/>
<path fill="#7b7b7b" stroke="#7b7b7b" d="M250.2 563.2 248.3 565.7 250.9 564.2 252.8 561.7z"/>
<path fill="#909090" stroke="#909090" d="M173.4 430.1 176.6 429.9 179.2 428.4 176 428.6z"/>
<path fill="#7e7e7e" stroke="#7e7e7e" d="M252 560.5 250.2 563.2 252.8 561.7 254.6 559z"/>
<path fill="#939393" stroke="#939393" d="M176.6 429.9 180 430.1 182.6 428.6 179.2 428.4zM255.9 550.8 254.8 554.3 257.4 552.8 258.5 549.3z"/>
<path fill="#999999" stroke="#999999" d="M180 430.1 183.4 430.6 186 429.1 182.6 428.6zM256.7 547.2 255.9 550.8 258.5 549.3 259.3 545.7z"/>
<path fill="#a2a2a2" stroke="#a2a2a2" d="M183.4 430.6 186.9 431.4 189.5 429.9 186 429.1zM257.3 543.3 256.7 547.2 259.3 545.7 259.9 541.8z"/>
<path fill="#a8a8a8" stroke="#a8a8a8" d="M186.9 431.4 190.5 432.5 193.1 431 189.5 429.9z"/>
<path fill="#aeaeae" stroke="#aeaeae" d="M190.5 432.5 194.2 433.9 196.8 432.4 193.1 431z"/>
<path fill="#b7b7b7" stroke="#b7b7b7" d="M194.2 433.9 197.8 435.6 200.4 434.1 196.8 432.4z"/>
<path fill="#ababab" stroke="#ababab" d="M257.7 539.3 257.3 543.3 259.9 541.8 260.3 537.8z"/>
<path fill="#bdbdbd" stroke="#bdbdbd" d="M197.8 435.6 201.5 437.6 204.1 436.1 200.4 434.1z"/>
<path fill="#b1b1b1" stroke="#b1b1b1" d="M257.8 535.1 257.7 539.3 260.3 537.8 260.4 533.6z"/>
<path fill="#c6c6c6" stroke="#c6c6c6" d="M201.5 437.6 205.2 439.9 207.8 438.4 204.1 436.1z"/>
<path fill="#bababa" stroke="#bababa" d="M257.7 530.8 257.8 535.1 260.4 533.6 260.3 529.3z"/>
<path fill="#cccccc" stroke="#cccccc" d="M205.2 439.9 208.8 442.4 211.4 440.9 207.8 438.4z"/>
<path fill="#c3c3c3" stroke="#c3c3c3" d="M257.3 526.3 257.7 530.8 260.3 529.3 259.9 524.8z"/>
<path fill="#d2d2d2" stroke="#d2d2d2" d="M208.8 442.4 212.5 445.2 215.1 443.7 211.4 440.9z"/>
<path fill="#c9c9c9" stroke="#c9c9c9" d="M256.7 521.8 257.3 526.3 259.9 524.8 259.3 520.3z"/>
<path fill="#d8d8d8" stroke="#d8d8d8" d="M212.5 445.2 216.1 448.2 218.7 446.7 215.1 443.7zM254.8 512.5 255.9 517.2 258.5 515.7 257.4 511z"/>
<path fill="#cfcfcf" stroke="#cfcfcf" d="M255.9 517.2 256.7 521.8 259.3 520.3 258.5 515.7z"/>
<path fill="#dedede" stroke="#dedede" d="M216.1 448.2 219.6 451.5 222.2 450 218.7 446.7zM253.5 507.8 254.8 512.5 257.4 511 256.1 506.3z"/>
<path fill="#e4e4e4" stroke="#e4e4e4" d="M219.6 451.5 223 455 225.6 453.5 222.2 450zM252 503 253.5 507.8 256.1 506.3 254.6 501.5z"/>
<path fill="#eaeaea" stroke="#eaeaea" d="M223 455 226.4 458.7 229 457.2 225.6 453.5zM226.4 458.7 229.6 462.6 232.2 461.1 229 457.2zM229.6 462.6 232.8 466.6 235.4 465.1 232.2 461.1zM248.3 493.5 250.2 498.2 252.8 496.7 250.9 492zM232.8 466.6 235.8 470.8 238.4 469.3 235.4 465.1zM246.2 488.8 248.3 493.5 250.9 492 248.8 487.3zM235.8 470.8 238.6 475.2 241.2 473.7 238.4 469.3zM243.8 484.2 246.2 488.8 248.8 487.3 246.4 482.7zM238.6 475.2 241.3 479.6 243.9 478.1 241.2 473.7zM241.3 479.6 243.8 484.2 246.4 482.7 243.9 478.1z"/>
<path fill="#e7e7e7" stroke="#e7e7e7" d="M250.2 498.2 252 503 254.6 501.5 252.8 496.7z"/>
</g>
<clipPath id="c18"><path d="M177.3 488.6 177.4 485.9 177.7 483.4 178.3 481.1 179.1 479 180.1 477.1 181.3 475.4 182.8 474 184.4 472.9 186.1 472.1 188 471.5 190.1 471.3 192.2 471.4 194.5 471.7 196.8 472.4 199.1 473.4 201.5 474.6 203.9 476.1 206.2 477.9 208.5 479.9 210.8 482.1 212.9 484.5 215 487.1 216.9 489.8 218.6 492.7 220.2 495.7 221.7 498.7 222.9 501.7 223.9 504.8 224.7 507.9 225.3 510.9 225.6 513.8 225.7 516.6 225.6 519.3 225.3 521.8 224.7 524.1 223.9 526.2 222.9 528.1 221.7 529.8 220.2 531.2 218.6 532.3 216.9 533.1 215 533.7 212.9 533.9 210.8 533.8 208.5 533.5 206.2 532.8 203.9 531.8 201.5 530.6 199.1 529.1 196.8 527.3 194.5 525.3 192.2 523.1 190.1 520.7 188 518.1 186.1 515.4 184.4 512.5 182.8 509.5 181.3 506.5 180.1 503.5 179.1 500.4 178.3 497.3 177.7 494.3 177.4 491.4z"/></clipPath>
<g clip-path="url(#c18)">
<path fill="#fff" d="M177.3 488.6 177.4 485.9 177.7 483.4 178.3 481.1 179.1 479 180.1 477.1 181.3 475.4 182.8 474 184.4 472.9 186.1 472.1 188 471.5 190.1 471.3 192.2 471.4 194.5 471.7 196.8 472.4 199.1 473.4 201.5 474.6 203.9 476.1 206.2 477.9 208.5 479.9 210.8 482.1 212.9 484.5 215 487.1 216.9 489.8 218.6 492.7 220.2 495.7 221.7 498.7 222.9 501.7 223.9 504.8 224.7 507.9 225.3 510.9 225.6 513.8 225.7 516.6 225.6 519.3 225.3 521.8 224.7 524.1 223.9 526.2 222.9 528.1 221.7 529.8 220.2 531.2 218.6 532.3 216.9 533.1 215 533.7 212.9 533.9 210.8 533.8 208.5 533.5 206.2 532.8 203.9 531.8 201.5 530.6 199.1 529.1 196.8 527.3 194.5 525.3 192.2 523.1 190.1 520.7 188 518.1 186.1 515.4 184.4 512.5 182.8 509.5 181.3 506.5 180.1 503.5 179.1 500.4 178.3 497.3 177.7 494.3 177.4 491.4z"/>
<g stroke-width=".7" stroke-linejoin="round">
<path fill="#eaeaea" stroke="#eaeaea" d="M184.4 512.5 182.8 509.5 191.4 504.5 193 507.5zM186.1 515.4 184.4 512.5 193 507.5 194.8 510.4zM188 518.1 186.1 515.4 194.8 510.4 196.7 513.1zM182.8 509.5 181.3 506.5 190 501.5 191.4 504.5zM181.3 506.5 180.1 503.5 188.8 498.5 190 501.5zM190.1 520.7 188 518.1 196.7 513.1 198.7 515.7zM192.2 523.1 190.1 520.7 198.7 515.7 200.9 518.1z"/>
<path fill="#e4e4e4" stroke="#e4e4e4" d="M180.1 503.5 179.1 500.4 187.8 495.4 188.8 498.5zM194.5 525.3 192.2 523.1 200.9 518.1 203.1 520.3z"/>
<path fill="#dbdbdb" stroke="#dbdbdb" d="M179.1 500.4 178.3 497.3 187 492.3 187.8 495.4zM196.8 527.3 194.5 525.3 203.1 520.3 205.4 522.3z"/>
<path fill="#d2d2d2" stroke="#d2d2d2" d="M178.3 497.3 177.7 494.3 186.4 489.3 187 492.3zM199.1 529.1 196.8 527.3 205.4 522.3 207.8 524.1z"/>
<path fill="#c6c6c6" stroke="#c6c6c6" d="M177.7 494.3 177.4 491.4 186 486.4 186.4 489.3zM201.5 530.6 199.1 529.1 207.8 524.1 210.2 525.6z"/>
<path fill="#bdbdbd" stroke="#bdbdbd" d="M177.4 491.4 177.3 488.6 185.9 483.6 186 486.4zM203.9 531.8 201.5 530.6 210.2 525.6 212.5 526.8z"/>
<path fill="#b1b1b1" stroke="#b1b1b1" d="M177.3 488.6 177.4 485.9 186 480.9 185.9 483.6zM206.2 532.8 203.9 531.8 212.5 526.8 214.9 527.8z"/>
<path fill="#a5a5a5" stroke="#a5a5a5" d="M177.4 485.9 177.7 483.4 186.4 478.4 186 480.9zM208.5 533.5 206.2 532.8 214.9 527.8 217.2 528.5z"/>
<path fill="#999999" stroke="#999999" d="M177.7 483.4 178.3 481.1 187 476.1 186.4 478.4z"/>
<path fill="#8d8d8d" stroke="#8d8d8d" d="M178.3 481.1 179.1 479 187.8 474 187 476.1z"/>
<path fill="#9c9c9c" stroke="#9c9c9c" d="M210.8 533.8 208.5 533.5 217.2 528.5 219.4 528.8z"/>
<path fill="#848484" stroke="#848484" d="M179.1 479 180.1 477.1 188.8 472.1 187.8 474zM216.9 533.1 215 533.7 223.6 528.7 225.5 528.1z"/>
<path fill="#939393" stroke="#939393" d="M212.9 533.9 210.8 533.8 219.4 528.8 221.6 528.9z"/>
<path fill="#7b7b7b" stroke="#7b7b7b" d="M180.1 477.1 181.3 475.4 190 470.4 188.8 472.1z"/>
<path fill="#8a8a8a" stroke="#8a8a8a" d="M215 533.7 212.9 533.9 221.6 528.9 223.6 528.7z"/>
<path fill="#787878" stroke="#787878" d="M181.3 475.4 182.8 474 191.4 469 190 470.4zM182.8 474 184.4 472.9 193 467.9 191.4 469z"/>
<path fill="#818181" stroke="#818181" d="M218.6 532.3 216.9 533.1 225.5 528.1 227.3 527.3z"/>
</g>
<path fill="#e2e2e2" stroke="#555" stroke-width=".6" d="M185.9 483.6 186 480.9 186.4 478.4 187 476.1 187.8 474 188.8 472.1 190 470.4 191.4 469 193 467.9 194.8 467.1 196.7 466.5 198.7 466.3 200.9 466.4 203.1 466.7 205.4 467.4 207.8 468.4 210.2 469.6 212.5 471.1 214.9 472.9 217.2 474.9 219.4 477.1 221.6 479.5 223.6 482.1 225.5 484.8 227.3 487.7 228.9 490.7 230.3 493.7 231.5 496.7 232.6 499.8 233.4 502.9 233.9 505.9 234.3 508.8 234.4 511.6 234.3 514.3 233.9 516.8 233.4 519.1 232.6 521.2 231.5 523.1 230.3 524.8 228.9 526.2 227.3 527.3 225.5 528.1 223.6 528.7 221.6 528.9 219.4 528.8 217.2 528.5 214.9 527.8 212.5 526.8 210.2 525.6 207.8 524.1 205.4 522.3 203.1 520.3 200.9 518.1 198.7 515.7 196.7 513.1 194.8 510.4 193 507.5 191.4 504.5 190 501.5 188.8 498.5 187.8 495.4 187 492.3 186.4 489.3 186 486.4z"/>
</g>
<path d="M145.2 470.1 145.3 465.9 145.7 461.9 146.3 458 147.1 454.4 148.2 450.9 149.5 447.7 151 444.7 152.8 442 154.7 439.5 156.8 437.2 159.2 435.3 161.7 433.7 164.4 432.3 167.2 431.2 170.2 430.5 173.4 430.1 176.6 429.9 180 430.1 183.4 430.6 186.9 431.4 190.5 432.5 194.2 433.9 197.8 435.6 201.5 437.6 205.2 439.9 208.8 442.4 212.5 445.2 216.1 448.2 219.6 451.5 223 455 226.4 458.7 229.6 462.6 232.8 466.6 235.8 470.8 238.6 475.2 241.3 479.6 243.8 484.2 246.2 488.8 248.3 493.5 250.2 498.2 252 503 253.5 507.8 254.8 512.5 255.9 517.2 256.7 521.8 257.3 526.3 257.7 530.8 257.8 535.1 257.7 539.3 257.3 543.3 256.7 547.2 255.9 550.8 254.8 554.3 253.5 557.5 252 560.5 250.2 563.2 248.3 565.7 246.2 568 243.8 569.9 241.3 571.5 238.6 572.9 235.8 574 232.8 574.7 229.6 575.1 226.4 575.3 223 575.1 219.6 574.6 216.1 573.8 212.5 572.7 208.8 571.3 205.2 569.6 201.5 567.6 197.8 565.3 194.2 562.8 190.5 560 186.9 557 183.4 553.7 180 550.2 176.6 546.5 173.4 542.6 170.2 538.6 167.2 534.4 164.4 530 161.7 525.6 159.2 521 156.8 516.4 154.7 511.7 152.8 507 151 502.2 149.5 497.4 148.2 492.7 147.1 488 146.3 483.4 145.7 478.9 145.3 474.4zM177.3 488.6 177.4 485.9 177.7 483.4 178.3 481.1 179.1 479 180.1 477.1 181.3 475.4 182.8 474 184.4 472.9 186.1 472.1 188 471.5 190.1 471.3 192.2 471.4 194.5 471.7 196.8 472.4 199.1 473.4 201.5 474.6 203.9 476.1 206.2 477.9 208.5 479.9 210.8 482.1 212.9 484.5 215 487.1 216.9 489.8 218.6 492.7 220.2 495.7 221.7 498.7 222.9 501.7 223.9 504.8 224.7 507.9 225.3 510.9 225.6 513.8 225.7 516.6 225.6 519.3 225.3 521.8 224.7 524.1 223.9 526.2 222.9 528.1 221.7 529.8 220.2 531.2 218.6 532.3 216.9 533.1 215 533.7 212.9 533.9 210.8 533.8 208.5 533.5 206.2 532.8 203.9 531.8 201.5 530.6 199.1 529.1 196.8 527.3 194.5 525.3 192.2 523.1 190.1 520.7 188 518.1 186.1 515.4 184.4 512.5 182.8 509.5 181.3 506.5 180.1 503.5 179.1 500.4 178.3 497.3 177.7 494.3 177.4 491.4z" fill="#efefef" fill-rule="evenodd" stroke="#3a3a3a" stroke-width="1" stroke-linejoin="round"/>
<path fill="none" stroke="#3a3a3a" stroke-width=".90" stroke-linejoin="round" d="M145.2 470.1 145.3 465.9 145.7 461.9 146.3 458 147.1 454.4 148.2 450.9 149.5 447.7 151 444.7 152.8 441.9 154.7 439.5 156.8 437.2 159.2 435.3 161.7 433.7 164.3 432.2 167 430.8 169.8 429.8 172.8 429 175.9 428.6 179.2 428.4 182.6 428.6 186 429.1 189.5 429.9 193.1 431 196.8 432.4 200.4 434.1 204.1 436.1 207.8 438.4 211.4 440.9 215.1 443.7 218.7 446.7 222.2 450 225.6 453.5 229 457.2 232.2 461.1 235.4 465.1 238.4 469.3 241.2 473.7 243.9 478.1 246.4 482.7 248.8 487.3 250.9 492 252.8 496.8 254.6 501.5 256.1 506.2 257.4 511 258.5 515.7 259.3 520.3 259.9 524.8 260.3 529.3 260.4 533.6 260.3 537.8 259.9 541.8 259.3 545.7 258.5 549.3 257.4 552.8 256.1 556 254.6 559 252.8 561.8 250.9 564.2 248.8 566.5 246.4 568.4 243.9 570 241.3 571.5 238.6 572.9 235.8 574 232.8 574.7 229.7 575.1 226.4 575.3 223 575.1 219.6 574.6 216.1 573.8 212.5 572.7 208.8 571.3 205.2 569.6 201.5 567.6 197.8 565.3 194.2 562.8 190.5 560 186.9 557 183.4 553.7 180 550.2 176.6 546.5 173.3 542.6 170.2 538.6 167.2 534.4 164.4 530 161.7 525.6 159.2 521 156.8 516.4 154.7 511.7 152.8 506.9 151 502.2 149.5 497.4 148.2 492.7 147.1 488 146.3 483.4 145.7 478.9 145.3 474.4z"/>
<path d="M196.7 488.9 196.9 486.4 197.4 484.2 198.3 482.3 199.5 480.7 200.9 479.6 202.6 478.9 204.5 478.7 206.6 478.9 208.8 479.5 211 480.6 213.3 482.1 215.4 484 217.5 486.1 219.4 488.6 221.1 491.3 222.6 494.1 223.8 497 224.6 499.8 225.1 502.7 225.3 505.4 225.1 507.8 224.6 510 223.8 511.9 222.6 513.5 221.1 514.6 219.4 515.3 217.5 515.5 215.4 515.3 213.3 514.7 211 513.6 208.8 512.1 206.6 510.2 204.5 508.1 202.6 505.6 200.9 502.9 199.5 500.1 198.3 497.2 197.4 494.4 196.9 491.5z" fill="#e9e9e9" stroke="#3a3a3a" stroke-width="0.8"/>
<path d="M200.2 490.9 200.3 489 200.7 487.3 201.4 485.9 202.3 484.7 203.4 483.8 204.7 483.3 206.1 483.1 207.7 483.3 209.3 483.8 211 484.6 212.7 485.7 214.4 487.1 215.9 488.8 217.4 490.7 218.7 492.7 219.8 494.8 220.7 497 221.3 499.2 221.7 501.3 221.9 503.4 221.7 505.2 221.3 506.9 220.7 508.3 219.8 509.5 218.7 510.4 217.4 510.9 215.9 511.1 214.4 510.9 212.7 510.4 211 509.6 209.3 508.5 207.7 507.1 206.1 505.4 204.7 503.5 203.4 501.5 202.3 499.4 201.4 497.2 200.7 495 200.3 492.9z" fill="#d6d6d6" stroke="#555" stroke-width="0.7"/>
<path fill="#bbb" stroke="#2a2a2a" stroke-width="2.2" stroke-linejoin="round" d="M285.1 495 285.6 494.1 288.3 494.6 289.8 494.5 289.9 493.4 288.5 491.4 285.8 488.5 285.4 487.1 286 486.4 288.8 487.2 290.4 487.3 290.5 486.3 289.2 484.2 286.7 481.1 286.4 479.7 287.1 479.1 290 480.3 291.6 480.6 291.8 479.7 290.6 477.5 288.3 474.2 288.1 472.9 288.8 472.4 291.7 473.9 293.4 474.4 293.7 473.5 292.6 471.3 290.4 467.9 290.4 466.6 291.2 466.2 294 468 295.8 468.7 296.2 468 295.2 465.7 293.2 462.2 293.2 460.9 294.1 460.7 297 462.8 298.7 463.7 299.2 463.1 298.4 460.8 296.6 457.2 296.7 456 297.7 455.9 300.5 458.3 302.2 459.4 302.8 458.8 302.1 456.6 300.5 452.9 300.8 451.8 301.8 451.8 304.5 454.5 306.2 455.7 306.8 455.3 306.3 453.1 305 449.3 305.3 448.3 306.4 448.5 309 451.4 310.7 452.8 311.4 452.5 311 450.3 309.9 446.6 310.4 445.7 311.4 446 313.9 449.1 315.6 450.7 316.3 450.5 316.2 448.3 315.3 444.7 315.8 443.9 316.9 444.3 319.3 447.6 320.9 449.3 321.6 449.2 321.7 447.2 321.1 443.6 321.7 442.9 322.8 443.5 325 446.9 326.5 448.8 327.3 448.8 327.5 446.9 327.2 443.4 327.9 442.8 329 443.5 331 447 332.4 449 333.3 449.1 333.6 447.3 333.6 444 334.4 443.5 335.5 444.3 337.2 448 338.5 450.1 339.4 450.3 339.9 448.6 340.2 445.5 341 445.1 342.1 446 343.6 449.7 344.9 451.9 345.8 452.2 346.5 450.7 347 447.8 347.9 447.5 348.9 448.6 350.2 452.3 351.3 454.5 352.2 454.9 353.1 453.6 353.8 450.9 354.8 450.8 355.8 451.9 356.9 455.6 357.8 457.8 358.8 458.4 359.7 457.2 360.8 454.7 361.8 454.8 362.7 456 363.5 459.6 364.3 461.9 365.3 462.5 366.4 461.6 367.7 459.4 368.7 459.6 369.6 460.8 370.1 464.4 370.8 466.6 371.7 467.4 372.9 466.6 374.5 464.7 375.5 465 376.4 466.4 376.6 469.8 377.1 472 378 472.9 379.4 472.3 381.1 470.7 382.2 471.2 383 472.5 383 475.8 383.3 478 384.2 478.9 385.6 478.6 387.6 477.3 388.7 477.9 389.4 479.3 389.1 482.4 389.3 484.5 390.1 485.5 391.6 485.4 393.8 484.4 394.9 485.1 395.5 486.6 394.9 489.5 394.9 491.5 395.7 492.6 397.3 492.7 399.6 492.1 400.7 492.9 401.3 494.3 400.4 497 400.3 498.9 401 500 402.7 500.3 405.1 500.1 406.2 501 406.6 502.4 405.5 504.9 405.2 506.7 405.9 507.8 407.6 508.3 410.2 508.4 411.3 509.5 411.6 510.9 410.2 513 409.8 514.7 410.4 515.9 412.1 516.6 414.8 517.1 415.8 518.2 416 519.6 414.5 521.4 413.8 522.9 414.4 524.1 416.1 525.1 418.9 525.9 419.9 527.1 420 528.4 418.2 529.9 417.4 531.3 417.9 532.5 419.6 533.6 422.4 534.8 423.3 536 423.3 537.3 421.3 538.5 420.4 539.7 420.8 540.9 422.5 542.2 425.4 543.7 426.2 545 426.1 546.2 423.9 547.1 422.9 548.1 423.2 549.3 424.9 550.8 427.7 552.6 428.5 553.9 428.3 555.1 426 555.6 424.8 556.4 425 557.6 426.6 559.2 429.5 561.3 430.1 562.7 429.8 563.8 427.3 563.9 426 564.5 426.2 565.7 427.8 567.4 430.5 569.8 431.1 571.2 430.7 572.2 428.1 572 426.7 572.4 426.7 573.5 428.3 575.4 431 578 431.5 579.5 431 580.3 428.3 579.8 426.7 579.9 426.7 581 428.1 583 430.7 585.9 431.1 587.3 430.5 588 427.8 587.2 426.2 587.1 426 588.1 427.3 590.2 429.8 593.3 430.1 594.7 429.5 595.3 426.6 594.1 425 593.8 424.8 594.7 426 596.9 428.3 600.2 428.5 601.5 427.7 602 424.9 600.5 423.2 600 422.9 600.9 423.9 603.1 426.1 606.5 426.2 607.8 425.4 608.2 422.5 606.4 420.8 605.7 420.4 606.4 421.3 608.7 423.3 612.2 423.3 613.5 422.4 613.7 419.6 611.6 417.9 610.7 417.4 611.3 418.2 613.6 420 617.2 419.9 618.4 418.9 618.5 416.1 616.1 414.4 615 413.8 615.6 414.5 617.8 416 621.5 415.8 622.6 414.8 622.6 412.1 619.9 410.4 618.7 409.8 619.1 410.2 621.3 411.6 625.1 411.3 626.1 410.2 625.9 407.6 623 405.9 621.6 405.2 621.9 405.5 624.1 406.6 627.8 406.2 628.7 405.1 628.4 402.7 625.3 401 623.7 400.3 623.9 400.4 626.1 401.3 629.7 400.7 630.5 399.6 630.1 397.3 626.8 395.7 625.1 394.9 625.2 394.9 627.2 395.5 630.8 394.9 631.5 393.8 630.9 391.6 627.5 390.1 625.6 389.3 625.6 389.1 627.5 389.4 631 388.7 631.6 387.6 630.9 385.6 627.4 384.2 625.4 383.3 625.3 383 627.1 383 630.4 382.2 630.9 381.1 630.1 379.4 626.4 378 624.3 377.1 624.1 376.6 625.8 376.4 628.9 375.5 629.3 374.5 628.4 372.9 624.7 371.7 622.5 370.8 622.2 370.1 623.7 369.6 626.6 368.7 626.9 367.7 625.8 366.4 622.1 365.3 619.9 364.3 619.5 363.5 620.8 362.7 623.5 361.8 623.6 360.8 622.5 359.7 618.8 358.8 616.6 357.8 616 356.9 617.2 355.8 619.7 354.8 619.6 353.8 618.4 353.1 614.8 352.2 612.5 351.3 611.9 350.2 612.8 348.9 615 347.9 614.8 347 613.6 346.5 610 345.8 607.8 344.9 607 343.6 607.8 342.1 609.7 341 609.4 340.2 608 339.9 604.6 339.4 602.4 338.5 601.5 337.2 602.1 335.5 603.7 334.4 603.2 333.6 601.9 333.6 598.6 333.3 596.4 332.4 595.5 331 595.8 329 597.1 327.9 596.5 327.2 595.1 327.5 592 327.3 589.9 326.5 588.9 325 589 322.8 590 321.7 589.3 321.1 587.8 321.7 584.9 321.6 582.9 320.9 581.8 319.3 581.7 316.9 582.3 315.8 581.5 315.3 580.1 316.2 577.4 316.3 575.5 315.6 574.4 313.9 574.1 311.4 574.3 310.4 573.4 309.9 572 311 569.5 311.4 567.7 310.7 566.6 309 566.1 306.4 566 305.3 564.9 305 563.5 306.3 561.4 306.8 559.7 306.2 558.5 304.5 557.8 301.8 557.3 300.8 556.2 300.5 554.8 302.1 553 302.8 551.5 302.2 550.3 300.5 549.3 297.7 548.5 296.7 547.3 296.6 546 298.4 544.5 299.2 543.1 298.7 541.9 297 540.8 294.1 539.6 293.2 538.4 293.2 537.1 295.2 535.9 296.2 534.7 295.8 533.5 294 532.2 291.2 530.7 290.4 529.4 290.4 528.2 292.6 527.3 293.7 526.3 293.4 525.1 291.7 523.6 288.8 521.8 288.1 520.5 288.3 519.3 290.6 518.8 291.8 518 291.6 516.8 290 515.2 287.1 513.1 286.4 511.7 286.7 510.6 289.2 510.5 290.5 509.9 290.4 508.7 288.8 507 286 504.6 285.4 503.2 285.8 502.2 288.5 502.4 289.9 502 289.8 500.9 288.3 499 285.6 496.4z"/>
<g stroke-linejoin="round">
<path fill="none" stroke="#2a2a2a" stroke-width="1.00" d="M316 604.6 329 597.1M277.5 535.7 290.4 528.2"/>
<path fill="#333333" stroke="#333333" stroke-width=".6" d="M318 603.3 316 604.6 329 597.1 331 595.8z"/>
<path fill="#424242" stroke="#424242" stroke-width=".6" d="M277.5 535.7 279.6 534.8 292.6 527.3 290.4 528.2z"/>
<path fill="none" stroke="#2a2a2a" stroke-width="1.00" d="M322.5 611.2 335.5 603.7M318 603.3 331 595.8M279.6 534.8 292.6 527.3"/>
<path fill="#333333" stroke="#333333" stroke-width=".6" d="M324.2 609.6 322.5 611.2 335.5 603.7 337.2 602.1z"/>
<path fill="none" stroke="#2a2a2a" stroke-width="1.00" d="M275.3 526.8 288.3 519.3M324.2 609.6 337.2 602.1"/>
<path fill="#484848" stroke="#484848" stroke-width=".6" d="M275.3 526.8 277.6 526.3 290.6 518.8 288.3 519.3z"/>
<path fill="none" stroke="#2a2a2a" stroke-width="1.00" d="M329.1 617.2 342.1 609.7M277.6 526.3 290.6 518.8"/>
<path fill="#333333" stroke="#333333" stroke-width=".6" d="M330.7 615.3 329.1 617.2 342.1 609.7 343.6 607.8z"/>
<path fill="none" stroke="#2a2a2a" stroke-width="1.00" d="M273.7 518.1 286.7 510.6"/>
<path fill="#515151" stroke="#515151" stroke-width=".6" d="M273.7 518.1 276.2 518 289.2 510.5 286.7 510.6z"/>
<path fill="#333333" stroke="#333333" stroke-width=".6" d="M331.9 614.5 330.7 615.3 343.6 607.8 344.9 607z"/>
<path fill="none" stroke="#2a2a2a" stroke-width="1.00" d="M335.9 622.5 348.9 615M331.9 614.5 344.9 607"/>
<path fill="#3f3f3f" stroke="#3f3f3f" stroke-width=".6" d="M337.2 620.3 335.9 622.5 348.9 615 350.2 612.8z"/>
<path fill="#424242" stroke="#424242" stroke-width=".6" d="M276.2 518 277.6 517.4 290.5 509.9 289.2 510.5z"/>
<path fill="none" stroke="#2a2a2a" stroke-width="1.00" d="M272.9 509.7 285.8 502.2M277.6 517.4 290.5 509.9"/>
<path fill="#606060" stroke="#606060" stroke-width=".6" d="M272.9 509.7 275.5 509.9 288.5 502.4 285.8 502.2z"/>
<path fill="#333333" stroke="#333333" stroke-width=".6" d="M338.3 619.4 337.2 620.3 350.2 612.8 351.3 611.9z"/>
<path fill="none" stroke="#2a2a2a" stroke-width="1.00" d="M338.3 619.4 351.3 611.9M342.8 627.2 355.8 619.7"/>
<path fill="#484848" stroke="#484848" stroke-width=".6" d="M275.5 509.9 276.9 509.5 289.9 502 288.5 502.4z"/>
<path fill="#4e4e4e" stroke="#4e4e4e" stroke-width=".6" d="M343.9 624.7 342.8 627.2 355.8 619.7 356.9 617.2z"/>
<path fill="none" stroke="#2a2a2a" stroke-width="1.00" d="M276.9 509.5 289.9 502M272.6 501.6 285.6 494.1"/>
<path fill="#333333" stroke="#333333" stroke-width=".6" d="M344.8 623.5 343.9 624.7 356.9 617.2 357.8 616z"/>
<path fill="#6c6c6c" stroke="#6c6c6c" stroke-width=".6" d="M272.6 501.6 275.3 502.1 288.3 494.6 285.6 494.1z"/>
<path fill="none" stroke="#2a2a2a" stroke-width="1.00" d="M344.8 623.5 357.8 616M349.7 631 362.7 623.5"/>
<path fill="#515151" stroke="#515151" stroke-width=".6" d="M275.3 502.1 276.8 502 289.8 494.5 288.3 494.6z"/>
<path fill="#5d5d5d" stroke="#5d5d5d" stroke-width=".6" d="M350.5 628.3 349.7 631 362.7 623.5 363.5 620.8z"/>
<path fill="none" stroke="#2a2a2a" stroke-width="1.00" d="M276.8 502 289.8 494.5M273 493.9 286 486.4"/>
<path fill="#3f3f3f" stroke="#3f3f3f" stroke-width=".6" d="M351.3 627 350.5 628.3 363.5 620.8 364.3 619.5z"/>
<path fill="#7e7e7e" stroke="#7e7e7e" stroke-width=".6" d="M273 493.9 275.8 494.7 288.8 487.2 286 486.4z"/>
<path fill="none" stroke="#2a2a2a" stroke-width="1.00" d="M351.3 627 364.3 619.5M356.6 634.1 369.6 626.6"/>
<path fill="#5d5d5d" stroke="#5d5d5d" stroke-width=".6" d="M275.8 494.7 277.4 494.8 290.4 487.3 288.8 487.2z"/>
<path fill="#6f6f6f" stroke="#6f6f6f" stroke-width=".6" d="M357.1 631.2 356.6 634.1 369.6 626.6 370.1 623.7z"/>
<path fill="none" stroke="#2a2a2a" stroke-width="1.00" d="M277.4 494.8 290.4 487.3M274.1 486.6 287.1 479.1"/>
<path fill="#4b4b4b" stroke="#4b4b4b" stroke-width=".6" d="M357.8 629.7 357.1 631.2 370.1 623.7 370.8 622.2z"/>
<path fill="none" stroke="#2a2a2a" stroke-width="1.00" d="M357.8 629.7 370.8 622.2"/>
<path fill="#8d8d8d" stroke="#8d8d8d" stroke-width=".6" d="M274.1 486.6 277 487.8 290 480.3 287.1 479.1z"/>
<path fill="none" stroke="#2a2a2a" stroke-width="1.00" d="M363.4 636.4 376.4 628.9"/>
<path fill="#696969" stroke="#696969" stroke-width=".6" d="M277 487.8 278.6 488.1 291.6 480.6 290 480.3z"/>
<path fill="none" stroke="#2a2a2a" stroke-width="1.00" d="M278.6 488.1 291.6 480.6"/>
<path fill="#818181" stroke="#818181" stroke-width=".6" d="M363.6 633.3 363.4 636.4 376.4 628.9 376.6 625.8z"/>
<path fill="#5a5a5a" stroke="#5a5a5a" stroke-width=".6" d="M364.2 631.6 363.6 633.3 376.6 625.8 377.1 624.1z"/>
<path fill="none" stroke="#2a2a2a" stroke-width="1.00" d="M275.8 479.9 288.8 472.4M364.2 631.6 377.1 624.1"/>
<path fill="#9f9f9f" stroke="#9f9f9f" stroke-width=".6" d="M275.8 479.9 278.7 481.4 291.7 473.9 288.8 472.4z"/>
<path fill="none" stroke="#2a2a2a" stroke-width="1.00" d="M369.2 638.4 382.2 630.9"/>
<path fill="#333333" stroke="#333333" stroke-width=".6" d="M370 637.9 369.2 638.4 382.2 630.9 383 630.4z"/>
<path fill="#7b7b7b" stroke="#7b7b7b" stroke-width=".6" d="M278.7 481.4 280.4 481.9 293.4 474.4 291.7 473.9z"/>
<path fill="none" stroke="#2a2a2a" stroke-width="1.00" d="M370 637.9 383 630.4M280.4 481.9 293.4 474.4"/>
<path fill="#939393" stroke="#939393" stroke-width=".6" d="M370 634.6 370 637.9 383 630.4 383 627.1z"/>
<path fill="none" stroke="#2a2a2a" stroke-width="1.00" d="M277.4 474.1 290.4 466.6"/>
<path fill="#424242" stroke="#424242" stroke-width=".6" d="M277.4 474.1 278.2 473.7 291.2 466.2 290.4 466.6z"/>
<path fill="#6c6c6c" stroke="#6c6c6c" stroke-width=".6" d="M370.3 632.8 370 634.6 383 627.1 383.3 625.3z"/>
<path fill="none" stroke="#2a2a2a" stroke-width="1.00" d="M278.2 473.7 291.2 466.2M370.3 632.8 383.3 625.3"/>
<path fill="#aeaeae" stroke="#aeaeae" stroke-width=".6" d="M278.2 473.7 281.1 475.5 294 468 291.2 466.2z"/>
<path fill="none" stroke="#2a2a2a" stroke-width="1.00" d="M375.7 639.1 388.7 631.6"/>
<path fill="#8a8a8a" stroke="#8a8a8a" stroke-width=".6" d="M281.1 475.5 282.8 476.2 295.8 468.7 294 468z"/>
<path fill="#333333" stroke="#333333" stroke-width=".6" d="M376.4 638.5 375.7 639.1 388.7 631.6 389.4 631z"/>
<path fill="none" stroke="#2a2a2a" stroke-width="1.00" d="M376.4 638.5 389.4 631M282.8 476.2 295.8 468.7"/>
<path fill="#a5a5a5" stroke="#a5a5a5" stroke-width=".6" d="M376.1 635 376.4 638.5 389.4 631 389.1 627.5z"/>
<path fill="none" stroke="#2a2a2a" stroke-width="1.00" d="M280.3 468.4 293.2 460.9"/>
<path fill="#7e7e7e" stroke="#7e7e7e" stroke-width=".6" d="M376.3 633.1 376.1 635 389.1 627.5 389.3 625.6z"/>
<path fill="#484848" stroke="#484848" stroke-width=".6" d="M280.3 468.4 281.2 468.2 294.1 460.7 293.2 460.9z"/>
<path fill="none" stroke="#2a2a2a" stroke-width="1.00" d="M376.3 633.1 389.3 625.6M281.2 468.2 294.1 460.7"/>
<path fill="#bdbdbd" stroke="#bdbdbd" stroke-width=".6" d="M281.2 468.2 284 470.3 297 462.8 294.1 460.7z"/>
<path fill="none" stroke="#2a2a2a" stroke-width="1.00" d="M381.9 639 394.9 631.5"/>
<path fill="#9c9c9c" stroke="#9c9c9c" stroke-width=".6" d="M284 470.3 285.7 471.2 298.7 463.7 297 462.8z"/>
<path fill="#333333" stroke="#333333" stroke-width=".6" d="M382.5 638.3 381.9 639 394.9 631.5 395.5 630.8z"/>
<path fill="none" stroke="#2a2a2a" stroke-width="1.00" d="M285.7 471.2 298.7 463.7M382.5 638.3 395.5 630.8"/>
<path fill="#b7b7b7" stroke="#b7b7b7" stroke-width=".6" d="M381.9 634.7 382.5 638.3 395.5 630.8 394.9 627.2z"/>
<path fill="#909090" stroke="#909090" stroke-width=".6" d="M381.9 632.7 381.9 634.7 394.9 627.2 394.9 625.2z"/>
<path fill="none" stroke="#2a2a2a" stroke-width="1.00" d="M283.7 463.5 296.7 456"/>
<path fill="#515151" stroke="#515151" stroke-width=".6" d="M283.7 463.5 284.7 463.4 297.7 455.9 296.7 456z"/>
<path fill="none" stroke="#2a2a2a" stroke-width="1.00" d="M381.9 632.7 394.9 625.2M284.7 463.4 297.7 455.9"/>
<path fill="#cccccc" stroke="#cccccc" stroke-width=".6" d="M284.7 463.4 287.5 465.8 300.5 458.3 297.7 455.9z"/>
<path fill="#ababab" stroke="#ababab" stroke-width=".6" d="M287.5 465.8 289.2 466.9 302.2 459.4 300.5 458.3z"/>
<path fill="none" stroke="#2a2a2a" stroke-width="1.00" d="M387.7 638 400.7 630.5M289.2 466.9 302.2 459.4"/>
<path fill="#3f3f3f" stroke="#3f3f3f" stroke-width=".6" d="M388.3 637.2 387.7 638 400.7 630.5 401.3 629.7z"/>
<path fill="none" stroke="#2a2a2a" stroke-width="1.00" d="M388.3 637.2 401.3 629.7"/>
<path fill="#c6c6c6" stroke="#c6c6c6" stroke-width=".6" d="M387.4 633.6 388.3 637.2 401.3 629.7 400.4 626.1z"/>
<path fill="#a2a2a2" stroke="#a2a2a2" stroke-width=".6" d="M387.3 631.4 387.4 633.6 400.4 626.1 400.3 623.9z"/>
<path fill="none" stroke="#2a2a2a" stroke-width="1.00" d="M287.8 459.3 300.8 451.8M387.3 631.4 400.3 623.9"/>
<path fill="#5d5d5d" stroke="#5d5d5d" stroke-width=".6" d="M287.8 459.3 288.8 459.3 301.8 451.8 300.8 451.8z"/>
<path fill="none" stroke="#2a2a2a" stroke-width="1.00" d="M288.8 459.3 301.8 451.8"/>
<path fill="#d8d8d8" stroke="#d8d8d8" stroke-width=".6" d="M288.8 459.3 291.5 462 304.5 454.5 301.8 451.8z"/>
<path fill="#bababa" stroke="#bababa" stroke-width=".6" d="M291.5 462 293.2 463.2 306.2 455.7 304.5 454.5z"/>
<path fill="none" stroke="#2a2a2a" stroke-width="1.00" d="M293.2 463.2 306.2 455.7M393.2 636.2 406.2 628.7"/>
<path fill="#4b4b4b" stroke="#4b4b4b" stroke-width=".6" d="M393.6 635.3 393.2 636.2 406.2 628.7 406.6 627.8z"/>
<path fill="none" stroke="#2a2a2a" stroke-width="1.00" d="M393.6 635.3 406.6 627.8"/>
<path fill="#d5d5d5" stroke="#d5d5d5" stroke-width=".6" d="M392.6 631.6 393.6 635.3 406.6 627.8 405.5 624.1z"/>
<path fill="#b4b4b4" stroke="#b4b4b4" stroke-width=".6" d="M392.2 629.4 392.6 631.6 405.5 624.1 405.2 621.9z"/>
<path fill="none" stroke="#2a2a2a" stroke-width="1.00" d="M392.2 629.4 405.2 621.9M292.3 455.8 305.3 448.3"/>
<path fill="#696969" stroke="#696969" stroke-width=".6" d="M292.3 455.8 293.4 456 306.4 448.5 305.3 448.3z"/>
<path fill="none" stroke="#2a2a2a" stroke-width="1.00" d="M293.4 456 306.4 448.5"/>
<path fill="#e4e4e4" stroke="#e4e4e4" stroke-width=".6" d="M293.4 456 296 458.9 309 451.4 306.4 448.5z"/>
<path fill="#c9c9c9" stroke="#c9c9c9" stroke-width=".6" d="M296 458.9 297.7 460.3 310.7 452.8 309 451.4z"/>
<path fill="none" stroke="#2a2a2a" stroke-width="1.00" d="M297.7 460.3 310.7 452.8"/>
<path fill="#3f3f3f" stroke="#3f3f3f" stroke-width=".6" d="M297.7 460.3 298.4 460 311.4 452.5 310.7 452.8z"/>
<path fill="none" stroke="#2a2a2a" stroke-width="1.00" d="M398.3 633.6 411.3 626.1M298.4 460 311.4 452.5"/>
<path fill="#5a5a5a" stroke="#5a5a5a" stroke-width=".6" d="M398.6 632.6 398.3 633.6 411.3 626.1 411.6 625.1z"/>
<path fill="none" stroke="#2a2a2a" stroke-width="1.00" d="M398.6 632.6 411.6 625.1"/>
<path fill="#e1e1e1" stroke="#e1e1e1" stroke-width=".6" d="M397.2 628.8 398.6 632.6 411.6 625.1 410.2 621.3z"/>
<path fill="#c3c3c3" stroke="#c3c3c3" stroke-width=".6" d="M396.8 626.6 397.2 628.8 410.2 621.3 409.8 619.1z"/>
<path fill="none" stroke="#2a2a2a" stroke-width="1.00" d="M396.8 626.6 409.8 619.1"/>
<path fill="#333333" stroke="#333333" stroke-width=".6" d="M397.4 626.2 396.8 626.6 409.8 619.1 410.4 618.7z"/>
<path fill="none" stroke="#2a2a2a" stroke-width="1.00" d="M297.4 453.2 310.4 445.7M397.4 626.2 410.4 618.7"/>
<path fill="#7b7b7b" stroke="#7b7b7b" stroke-width=".6" d="M297.4 453.2 298.5 453.5 311.4 446 310.4 445.7z"/>
<path fill="none" stroke="#2a2a2a" stroke-width="1.00" d="M298.5 453.5 311.4 446"/>
<path fill="#e7e7e7" stroke="#e7e7e7" stroke-width=".6" d="M298.5 453.5 300.9 456.6 313.9 449.1 311.4 446z"/>
<path fill="#d8d8d8" stroke="#d8d8d8" stroke-width=".6" d="M300.9 456.6 302.6 458.2 315.6 450.7 313.9 449.1z"/>
<path fill="none" stroke="#2a2a2a" stroke-width="1.00" d="M302.6 458.2 315.6 450.7"/>
<path fill="#454545" stroke="#454545" stroke-width=".6" d="M302.6 458.2 303.3 458 316.3 450.5 315.6 450.7z"/>
<path fill="none" stroke="#2a2a2a" stroke-width="1.00" d="M303.3 458 316.3 450.5M402.8 630.1 415.8 622.6"/>
<path fill="#6c6c6c" stroke="#6c6c6c" stroke-width=".6" d="M403 629 402.8 630.1 415.8 622.6 416 621.5z"/>
<path fill="none" stroke="#2a2a2a" stroke-width="1.00" d="M403 629 416 621.5"/>
<path fill="#e7e7e7" stroke="#e7e7e7" stroke-width=".6" d="M401.5 625.3 403 629 416 621.5 414.5 617.8z"/>
<path fill="#d2d2d2" stroke="#d2d2d2" stroke-width=".6" d="M400.8 623.1 401.5 625.3 414.5 617.8 413.8 615.6z"/>
<path fill="none" stroke="#2a2a2a" stroke-width="1.00" d="M400.8 623.1 413.8 615.6"/>
<path fill="#333333" stroke="#333333" stroke-width=".6" d="M401.4 622.5 400.8 623.1 413.8 615.6 414.4 615z"/>
<path fill="none" stroke="#2a2a2a" stroke-width="1.00" d="M401.4 622.5 414.4 615M302.9 451.4 315.8 443.9"/>
<path fill="#8a8a8a" stroke="#8a8a8a" stroke-width=".6" d="M302.9 451.4 303.9 451.8 316.9 444.3 315.8 443.9z"/>
<path fill="none" stroke="#2a2a2a" stroke-width="1.00" d="M303.9 451.8 316.9 444.3"/>
<path fill="#e7e7e7" stroke="#e7e7e7" stroke-width=".6" d="M303.9 451.8 306.3 455.1 319.3 447.6 316.9 444.3z"/>
<path fill="#e1e1e1" stroke="#e1e1e1" stroke-width=".6" d="M306.3 455.1 307.9 456.8 320.9 449.3 319.3 447.6z"/>
<path fill="none" stroke="#2a2a2a" stroke-width="1.00" d="M307.9 456.8 320.9 449.3"/>
<path fill="#4b4b4b" stroke="#4b4b4b" stroke-width=".6" d="M307.9 456.8 308.7 456.7 321.6 449.2 320.9 449.3z"/>
<path fill="none" stroke="#2a2a2a" stroke-width="1.00" d="M308.7 456.7 321.6 449.2M406.9 625.9 419.9 618.4"/>
<path fill="#7e7e7e" stroke="#7e7e7e" stroke-width=".6" d="M407 624.7 406.9 625.9 419.9 618.4 420 617.2z"/>
<path fill="none" stroke="#2a2a2a" stroke-width="1.00" d="M407 624.7 420 617.2"/>
<path fill="#e7e7e7" stroke="#e7e7e7" stroke-width=".6" d="M405.2 621.1 407 624.7 420 617.2 418.2 613.6z"/>
<path fill="#dedede" stroke="#dedede" stroke-width=".6" d="M404.4 618.8 405.2 621.1 418.2 613.6 417.4 611.3z"/>
<path fill="none" stroke="#2a2a2a" stroke-width="1.00" d="M404.4 618.8 417.4 611.3"/>
<path fill="#393939" stroke="#393939" stroke-width=".6" d="M404.9 618.2 404.4 618.8 417.4 611.3 417.9 610.7z"/>
<path fill="none" stroke="#2a2a2a" stroke-width="1.00" d="M404.9 618.2 417.9 610.7M308.7 450.4 321.7 442.9"/>
<path fill="#9c9c9c" stroke="#9c9c9c" stroke-width=".6" d="M308.7 450.4 309.8 451 322.8 443.5 321.7 442.9z"/>
<path fill="none" stroke="#2a2a2a" stroke-width="1.00" d="M309.8 451 322.8 443.5"/>
<path fill="#e7e7e7" stroke="#e7e7e7" stroke-width=".6" d="M309.8 451 312 454.4 325 446.9 322.8 443.5zM312 454.4 313.5 456.3 326.5 448.8 325 446.9z"/>
<path fill="none" stroke="#2a2a2a" stroke-width="1.00" d="M313.5 456.3 326.5 448.8"/>
<path fill="#575757" stroke="#575757" stroke-width=".6" d="M313.5 456.3 314.3 456.3 327.3 448.8 326.5 448.8z"/>
<path fill="none" stroke="#2a2a2a" stroke-width="1.00" d="M314.3 456.3 327.3 448.8M410.3 621 423.3 613.5"/>
<path fill="#909090" stroke="#909090" stroke-width=".6" d="M410.4 619.7 410.3 621 423.3 613.5 423.3 612.2z"/>
<path fill="none" stroke="#2a2a2a" stroke-width="1.00" d="M410.4 619.7 423.3 612.2"/>
<path fill="#e7e7e7" stroke="#e7e7e7" stroke-width=".6" d="M408.4 616.2 410.4 619.7 423.3 612.2 421.3 608.7zM407.4 613.9 408.4 616.2 421.3 608.7 420.4 606.4z"/>
<path fill="none" stroke="#2a2a2a" stroke-width="1.00" d="M407.4 613.9 420.4 606.4"/>
<path fill="#454545" stroke="#454545" stroke-width=".6" d="M407.8 613.2 407.4 613.9 420.4 606.4 420.8 605.7z"/>
<path fill="none" stroke="#2a2a2a" stroke-width="1.00" d="M407.8 613.2 420.8 605.7M314.9 450.3 327.9 442.8"/>
<path fill="#ababab" stroke="#ababab" stroke-width=".6" d="M314.9 450.3 316 451 329 443.5 327.9 442.8z"/>
<path fill="#e7e7e7" stroke="#e7e7e7" stroke-width=".6" d="M316 451 318 454.5 331 447 329 443.5z"/>
<path fill="none" stroke="#2a2a2a" stroke-width="1.00" d="M316 451 329 443.5"/>
<path fill="#e7e7e7" stroke="#e7e7e7" stroke-width=".6" d="M318 454.5 319.4 456.5 332.4 449 331 447z"/>
<path fill="none" stroke="#2a2a2a" stroke-width="1.00" d="M319.4 456.5 332.4 449"/>
<path fill="#636363" stroke="#636363" stroke-width=".6" d="M319.4 456.5 320.3 456.6 333.3 449.1 332.4 449z"/>
<path fill="none" stroke="#2a2a2a" stroke-width="1.00" d="M320.3 456.6 333.3 449.1M413.2 615.3 426.2 607.8"/>
<path fill="#a2a2a2" stroke="#a2a2a2" stroke-width=".6" d="M413.1 614 413.2 615.3 426.2 607.8 426.1 606.5z"/>
<path fill="#e7e7e7" stroke="#e7e7e7" stroke-width=".6" d="M409.9 608.4 411 610.6 423.9 603.1 422.9 600.9zM411 610.6 413.1 614 426.1 606.5 423.9 603.1z"/>
<path fill="none" stroke="#2a2a2a" stroke-width="1.00" d="M409.9 608.4 422.9 600.9M413.1 614 426.1 606.5"/>
<path fill="#545454" stroke="#545454" stroke-width=".6" d="M410.2 607.5 409.9 608.4 422.9 600.9 423.2 600z"/>
<path fill="none" stroke="#2a2a2a" stroke-width="1.00" d="M410.2 607.5 423.2 600M321.4 451 334.4 443.5"/>
<path fill="#bababa" stroke="#bababa" stroke-width=".6" d="M321.4 451 322.5 451.8 335.5 444.3 334.4 443.5z"/>
<path fill="#e7e7e7" stroke="#e7e7e7" stroke-width=".6" d="M324.2 455.5 325.6 457.6 338.5 450.1 337.2 448z"/>
<path fill="none" stroke="#2a2a2a" stroke-width="1.00" d="M325.6 457.6 338.5 450.1"/>
<path fill="#e7e7e7" stroke="#e7e7e7" stroke-width=".6" d="M322.5 451.8 324.2 455.5 337.2 448 335.5 444.3z"/>
<path fill="none" stroke="#2a2a2a" stroke-width="1.00" d="M322.5 451.8 335.5 444.3"/>
<path fill="#727272" stroke="#727272" stroke-width=".6" d="M325.6 457.6 326.4 457.8 339.4 450.3 338.5 450.1z"/>
<path fill="none" stroke="#2a2a2a" stroke-width="1.00" d="M326.4 457.8 339.4 450.3M414.8 609.5 427.7 602"/>
<path fill="#333333" stroke="#333333" stroke-width=".6" d="M415.5 609 414.8 609.5 427.7 602 428.5 601.5z"/>
<path fill="none" stroke="#2a2a2a" stroke-width="1.00" d="M415.5 609 428.5 601.5"/>
<path fill="#e7e7e7" stroke="#e7e7e7" stroke-width=".6" d="M411.8 602.2 413 604.4 426 596.9 424.8 594.7z"/>
<path fill="none" stroke="#2a2a2a" stroke-width="1.00" d="M411.8 602.2 424.8 594.7"/>
<path fill="#b4b4b4" stroke="#b4b4b4" stroke-width=".6" d="M415.3 607.7 415.5 609 428.5 601.5 428.3 600.2z"/>
<path fill="#e7e7e7" stroke="#e7e7e7" stroke-width=".6" d="M413 604.4 415.3 607.7 428.3 600.2 426 596.9z"/>
<path fill="#666666" stroke="#666666" stroke-width=".6" d="M412 601.3 411.8 602.2 424.8 594.7 425 593.8z"/>
<path fill="none" stroke="#2a2a2a" stroke-width="1.00" d="M415.3 607.7 428.3 600.2M412 601.3 425 593.8M327.2 453 340.2 445.5"/>
<path fill="#424242" stroke="#424242" stroke-width=".6" d="M327.2 453 328 452.6 341 445.1 340.2 445.5z"/>
<path fill="none" stroke="#2a2a2a" stroke-width="1.00" d="M331.9 459.4 344.9 451.9"/>
<path fill="#e7e7e7" stroke="#e7e7e7" stroke-width=".6" d="M330.7 457.2 331.9 459.4 344.9 451.9 343.6 449.7z"/>
<path fill="none" stroke="#2a2a2a" stroke-width="1.00" d="M328 452.6 341 445.1"/>
<path fill="#e7e7e7" stroke="#e7e7e7" stroke-width=".6" d="M329.1 453.5 330.7 457.2 343.6 449.7 342.1 446z"/>
<path fill="#c9c9c9" stroke="#c9c9c9" stroke-width=".6" d="M328 452.6 329.1 453.5 342.1 446 341 445.1z"/>
<path fill="#848484" stroke="#848484" stroke-width=".6" d="M331.9 459.4 332.8 459.7 345.8 452.2 344.9 451.9z"/>
<path fill="none" stroke="#2a2a2a" stroke-width="1.00" d="M329.1 453.5 342.1 446M332.8 459.7 345.8 452.2M416.5 602.8 429.5 595.3"/>
<path fill="#333333" stroke="#333333" stroke-width=".6" d="M417.2 602.2 416.5 602.8 429.5 595.3 430.1 594.7z"/>
<path fill="none" stroke="#2a2a2a" stroke-width="1.00" d="M413 595.6 426 588.1"/>
<path fill="#e7e7e7" stroke="#e7e7e7" stroke-width=".6" d="M413 595.6 414.4 597.7 427.3 590.2 426 588.1z"/>
<path fill="none" stroke="#2a2a2a" stroke-width="1.00" d="M417.2 602.2 430.1 594.7"/>
<path fill="#787878" stroke="#787878" stroke-width=".6" d="M413.2 594.6 413 595.6 426 588.1 426.2 587.1z"/>
<path fill="#e7e7e7" stroke="#e7e7e7" stroke-width=".6" d="M414.4 597.7 416.9 600.8 429.8 593.3 427.3 590.2z"/>
<path fill="#c3c3c3" stroke="#c3c3c3" stroke-width=".6" d="M416.9 600.8 417.2 602.2 430.1 594.7 429.8 593.3z"/>
<path fill="none" stroke="#2a2a2a" stroke-width="1.00" d="M413.2 594.6 426.2 587.1M416.9 600.8 429.8 593.3M334 455.3 347 447.8M338.3 462 351.3 454.5"/>
<path fill="#484848" stroke="#484848" stroke-width=".6" d="M334 455.3 334.9 455 347.9 447.5 347 447.8z"/>
<path fill="#e7e7e7" stroke="#e7e7e7" stroke-width=".6" d="M337.2 459.8 338.3 462 351.3 454.5 350.2 452.3z"/>
<path fill="#939393" stroke="#939393" stroke-width=".6" d="M338.3 462 339.3 462.4 352.2 454.9 351.3 454.5z"/>
<path fill="none" stroke="#2a2a2a" stroke-width="1.00" d="M334.9 455 347.9 447.5"/>
<path fill="#dedede" stroke="#dedede" stroke-width=".6" d="M335.9 456.1 337.2 459.8 350.2 452.3 348.9 448.6z"/>
<path fill="none" stroke="#2a2a2a" stroke-width="1.00" d="M339.3 462.4 352.2 454.9"/>
<path fill="#d8d8d8" stroke="#d8d8d8" stroke-width=".6" d="M334.9 455 335.9 456.1 348.9 448.6 347.9 447.5z"/>
<path fill="none" stroke="#2a2a2a" stroke-width="1.00" d="M335.9 456.1 348.9 448.6M417.6 595.5 430.5 588M413.7 588.5 426.7 581"/>
<path fill="#e7e7e7" stroke="#e7e7e7" stroke-width=".6" d="M413.7 588.5 415.1 590.5 428.1 583 426.7 581z"/>
<path fill="#333333" stroke="#333333" stroke-width=".6" d="M418.1 594.8 417.6 595.5 430.5 588 431.1 587.3z"/>
<path fill="#8a8a8a" stroke="#8a8a8a" stroke-width=".6" d="M413.8 587.4 413.7 588.5 426.7 581 426.7 579.9z"/>
<path fill="none" stroke="#2a2a2a" stroke-width="1.00" d="M413.8 587.4 426.7 579.9"/>
<path fill="#e1e1e1" stroke="#e1e1e1" stroke-width=".6" d="M415.1 590.5 417.7 593.4 430.7 585.9 428.1 583z"/>
<path fill="none" stroke="#2a2a2a" stroke-width="1.00" d="M418.1 594.8 431.1 587.3"/>
<path fill="#d2d2d2" stroke="#d2d2d2" stroke-width=".6" d="M417.7 593.4 418.1 594.8 431.1 587.3 430.7 585.9z"/>
<path fill="none" stroke="#2a2a2a" stroke-width="1.00" d="M417.7 593.4 430.7 585.9M344.8 465.3 357.8 457.8M340.9 458.4 353.8 450.9"/>
<path fill="#e7e7e7" stroke="#e7e7e7" stroke-width=".6" d="M343.9 463.1 344.8 465.3 357.8 457.8 356.9 455.6z"/>
<path fill="#a5a5a5" stroke="#a5a5a5" stroke-width=".6" d="M344.8 465.3 345.8 465.9 358.8 458.4 357.8 457.8z"/>
<path fill="#545454" stroke="#545454" stroke-width=".6" d="M340.9 458.4 341.8 458.3 354.8 450.8 353.8 450.9z"/>
<path fill="none" stroke="#2a2a2a" stroke-width="1.00" d="M345.8 465.9 358.8 458.4"/>
<path fill="#d2d2d2" stroke="#d2d2d2" stroke-width=".6" d="M342.8 459.4 343.9 463.1 356.9 455.6 355.8 451.9z"/>
<path fill="none" stroke="#2a2a2a" stroke-width="1.00" d="M341.8 458.3 354.8 450.8"/>
<path fill="#e1e1e1" stroke="#e1e1e1" stroke-width=".6" d="M341.8 458.3 342.8 459.4 355.8 451.9 354.8 450.8z"/>
<path fill="none" stroke="#2a2a2a" stroke-width="1.00" d="M342.8 459.4 355.8 451.9M413.8 581 426.7 573.5"/>
<path fill="#e7e7e7" stroke="#e7e7e7" stroke-width=".6" d="M413.8 581 415.3 582.9 428.3 575.4 426.7 573.5z"/>
<path fill="#9c9c9c" stroke="#9c9c9c" stroke-width=".6" d="M413.7 579.9 413.8 581 426.7 573.5 426.7 572.4z"/>
<path fill="none" stroke="#2a2a2a" stroke-width="1.00" d="M418 587.8 431 580.3M413.7 579.9 426.7 572.4"/>
<path fill="#3f3f3f" stroke="#3f3f3f" stroke-width=".6" d="M418.5 587 418 587.8 431 580.3 431.5 579.5z"/>
<path fill="#d8d8d8" stroke="#d8d8d8" stroke-width=".6" d="M415.3 582.9 418 585.5 431 578 428.3 575.4z"/>
<path fill="none" stroke="#2a2a2a" stroke-width="1.00" d="M418.5 587 431.5 579.5"/>
<path fill="#dedede" stroke="#dedede" stroke-width=".6" d="M418 585.5 418.5 587 431.5 579.5 431 578z"/>
<path fill="none" stroke="#2a2a2a" stroke-width="1.00" d="M418 585.5 431 578M351.3 469.4 364.3 461.9"/>
<path fill="#e1e1e1" stroke="#e1e1e1" stroke-width=".6" d="M350.5 467.1 351.3 469.4 364.3 461.9 363.5 459.6z"/>
<path fill="#b4b4b4" stroke="#b4b4b4" stroke-width=".6" d="M351.3 469.4 352.3 470 365.3 462.5 364.3 461.9z"/>
<path fill="none" stroke="#2a2a2a" stroke-width="1.00" d="M347.8 462.2 360.8 454.7M352.3 470 365.3 462.5"/>
<path fill="#606060" stroke="#606060" stroke-width=".6" d="M347.8 462.2 348.8 462.3 361.8 454.8 360.8 454.7z"/>
<path fill="#c3c3c3" stroke="#c3c3c3" stroke-width=".6" d="M349.7 463.5 350.5 467.1 363.5 459.6 362.7 456z"/>
<path fill="none" stroke="#2a2a2a" stroke-width="1.00" d="M348.8 462.3 361.8 454.8"/>
<path fill="#e7e7e7" stroke="#e7e7e7" stroke-width=".6" d="M348.8 462.3 349.7 463.5 362.7 456 361.8 454.8z"/>
<path fill="none" stroke="#2a2a2a" stroke-width="1.00" d="M349.7 463.5 362.7 456M413.2 573.2 426.2 565.7"/>
<path fill="#aeaeae" stroke="#aeaeae" stroke-width=".6" d="M413 572 413.2 573.2 426.2 565.7 426 564.5z"/>
<path fill="#e4e4e4" stroke="#e4e4e4" stroke-width=".6" d="M413.2 573.2 414.8 574.9 427.8 567.4 426.2 565.7z"/>
<path fill="none" stroke="#2a2a2a" stroke-width="1.00" d="M413 572 426 564.5M417.7 579.7 430.7 572.2"/>
<path fill="#c9c9c9" stroke="#c9c9c9" stroke-width=".6" d="M414.8 574.9 417.6 577.3 430.5 569.8 427.8 567.4z"/>
<path fill="#4e4e4e" stroke="#4e4e4e" stroke-width=".6" d="M418.1 578.7 417.7 579.7 430.7 572.2 431.1 571.2z"/>
<path fill="none" stroke="#2a2a2a" stroke-width="1.00" d="M418.1 578.7 431.1 571.2M357.8 474.1 370.8 466.6"/>
<path fill="#e7e7e7" stroke="#e7e7e7" stroke-width=".6" d="M417.6 577.3 418.1 578.7 431.1 571.2 430.5 569.8z"/>
<path fill="none" stroke="#2a2a2a" stroke-width="1.00" d="M417.6 577.3 430.5 569.8"/>
<path fill="#c3c3c3" stroke="#c3c3c3" stroke-width=".6" d="M357.8 474.1 358.7 474.9 371.7 467.4 370.8 466.6z"/>
<path fill="#d5d5d5" stroke="#d5d5d5" stroke-width=".6" d="M357.1 471.9 357.8 474.1 370.8 466.6 370.1 464.4z"/>
<path fill="none" stroke="#2a2a2a" stroke-width="1.00" d="M358.7 474.9 371.7 467.4M354.7 466.9 367.7 459.4"/>
<path fill="#b4b4b4" stroke="#b4b4b4" stroke-width=".6" d="M356.6 468.3 357.1 471.9 370.1 464.4 369.6 460.8z"/>
<path fill="#6c6c6c" stroke="#6c6c6c" stroke-width=".6" d="M354.7 466.9 355.7 467.1 368.7 459.6 367.7 459.4z"/>
<path fill="none" stroke="#2a2a2a" stroke-width="1.00" d="M412 565.1 425 557.6"/>
<path fill="#bdbdbd" stroke="#bdbdbd" stroke-width=".6" d="M411.8 563.9 412 565.1 425 557.6 424.8 556.4z"/>
<path fill="none" stroke="#2a2a2a" stroke-width="1.00" d="M355.7 467.1 368.7 459.6"/>
<path fill="#d8d8d8" stroke="#d8d8d8" stroke-width=".6" d="M412 565.1 413.6 566.7 426.6 559.2 425 557.6z"/>
<path fill="#e7e7e7" stroke="#e7e7e7" stroke-width=".6" d="M355.7 467.1 356.6 468.3 369.6 460.8 368.7 459.6z"/>
<path fill="none" stroke="#2a2a2a" stroke-width="1.00" d="M411.8 563.9 424.8 556.4M356.6 468.3 369.6 460.8"/>
<path fill="#333333" stroke="#333333" stroke-width=".6" d="M413 563.1 411.8 563.9 424.8 556.4 426 555.6z"/>
<path fill="none" stroke="#2a2a2a" stroke-width="1.00" d="M416.9 571.3 429.8 563.8"/>
<path fill="#bababa" stroke="#bababa" stroke-width=".6" d="M413.6 566.7 416.5 568.8 429.5 561.3 426.6 559.2z"/>
<path fill="none" stroke="#2a2a2a" stroke-width="1.00" d="M364.2 479.5 377.1 472"/>
<path fill="#606060" stroke="#606060" stroke-width=".6" d="M417.2 570.2 416.9 571.3 429.8 563.8 430.1 562.7z"/>
<path fill="#d2d2d2" stroke="#d2d2d2" stroke-width=".6" d="M364.2 479.5 365 480.4 378 472.9 377.1 472z"/>
<path fill="#c6c6c6" stroke="#c6c6c6" stroke-width=".6" d="M363.6 477.3 364.2 479.5 377.1 472 376.6 469.8z"/>
<path fill="none" stroke="#2a2a2a" stroke-width="1.00" d="M365 480.4 378 472.9M413 563.1 426 555.6M417.2 570.2 430.1 562.7"/>
<path fill="#e7e7e7" stroke="#e7e7e7" stroke-width=".6" d="M416.5 568.8 417.2 570.2 430.1 562.7 429.5 561.3z"/>
<path fill="none" stroke="#2a2a2a" stroke-width="1.00" d="M416.5 568.8 429.5 561.3"/>
<path fill="#424242" stroke="#424242" stroke-width=".6" d="M365 480.4 366.4 479.8 379.4 472.3 378 472.9z"/>
<path fill="none" stroke="#2a2a2a" stroke-width="1.00" d="M410.2 556.8 423.2 549.3M361.5 472.2 374.5 464.7"/>
<path fill="#cccccc" stroke="#cccccc" stroke-width=".6" d="M409.9 555.6 410.2 556.8 423.2 549.3 422.9 548.1z"/>
<path fill="#a2a2a2" stroke="#a2a2a2" stroke-width=".6" d="M363.4 473.9 363.6 477.3 376.6 469.8 376.4 466.4z"/>
<path fill="none" stroke="#2a2a2a" stroke-width="1.00" d="M409.9 555.6 422.9 548.1"/>
<path fill="#cccccc" stroke="#cccccc" stroke-width=".6" d="M410.2 556.8 411.9 558.3 424.9 550.8 423.2 549.3z"/>
<path fill="#7e7e7e" stroke="#7e7e7e" stroke-width=".6" d="M361.5 472.2 362.6 472.5 375.5 465 374.5 464.7z"/>
<path fill="none" stroke="#2a2a2a" stroke-width="1.00" d="M366.4 479.8 379.4 472.3M362.6 472.5 375.5 465"/>
<path fill="#e7e7e7" stroke="#e7e7e7" stroke-width=".6" d="M362.6 472.5 363.4 473.9 376.4 466.4 375.5 465z"/>
<path fill="none" stroke="#2a2a2a" stroke-width="1.00" d="M363.4 473.9 376.4 466.4"/>
<path fill="#333333" stroke="#333333" stroke-width=".6" d="M411 554.6 409.9 555.6 422.9 548.1 423.9 547.1z"/>
<path fill="none" stroke="#2a2a2a" stroke-width="1.00" d="M370.3 485.5 383.3 478"/>
<path fill="#dedede" stroke="#dedede" stroke-width=".6" d="M370.3 485.5 371.2 486.4 384.2 478.9 383.3 478z"/>
<path fill="none" stroke="#2a2a2a" stroke-width="1.00" d="M371.2 486.4 384.2 478.9"/>
<path fill="#b7b7b7" stroke="#b7b7b7" stroke-width=".6" d="M370 483.3 370.3 485.5 383.3 478 383 475.8z"/>
<path fill="#ababab" stroke="#ababab" stroke-width=".6" d="M411.9 558.3 414.8 560.1 427.7 552.6 424.9 550.8z"/>
<path fill="none" stroke="#2a2a2a" stroke-width="1.00" d="M415.3 562.6 428.3 555.1M411 554.6 423.9 547.1"/>
<path fill="#6f6f6f" stroke="#6f6f6f" stroke-width=".6" d="M415.5 561.4 415.3 562.6 428.3 555.1 428.5 553.9z"/>
<path fill="#484848" stroke="#484848" stroke-width=".6" d="M371.2 486.4 372.6 486.1 385.6 478.6 384.2 478.9z"/>
<path fill="none" stroke="#2a2a2a" stroke-width="1.00" d="M407.8 548.4 420.8 540.9"/>
<path fill="#dbdbdb" stroke="#dbdbdb" stroke-width=".6" d="M407.4 547.2 407.8 548.4 420.8 540.9 420.4 539.7z"/>
<path fill="none" stroke="#2a2a2a" stroke-width="1.00" d="M415.5 561.4 428.5 553.9"/>
<path fill="#e7e7e7" stroke="#e7e7e7" stroke-width=".6" d="M414.8 560.1 415.5 561.4 428.5 553.9 427.7 552.6z"/>
<path fill="none" stroke="#2a2a2a" stroke-width="1.00" d="M414.8 560.1 427.7 552.6M407.4 547.2 420.4 539.7"/>
<path fill="#bdbdbd" stroke="#bdbdbd" stroke-width=".6" d="M407.8 548.4 409.5 549.7 422.5 542.2 420.8 540.9z"/>
<path fill="#909090" stroke="#909090" stroke-width=".6" d="M370 480 370 483.3 383 475.8 383 472.5z"/>
<path fill="none" stroke="#2a2a2a" stroke-width="1.00" d="M372.6 486.1 385.6 478.6M368.1 478.2 381.1 470.7M376.3 492 389.3 484.5"/>
<path fill="#333333" stroke="#333333" stroke-width=".6" d="M408.4 546 407.4 547.2 420.4 539.7 421.3 538.5z"/>
<path fill="#e7e7e7" stroke="#e7e7e7" stroke-width=".6" d="M376.3 492 377.1 493 390.1 485.5 389.3 484.5z"/>
<path fill="#8d8d8d" stroke="#8d8d8d" stroke-width=".6" d="M368.1 478.2 369.2 478.7 382.2 471.2 381.1 470.7z"/>
<path fill="none" stroke="#2a2a2a" stroke-width="1.00" d="M377.1 493 390.1 485.5"/>
<path fill="#a5a5a5" stroke="#a5a5a5" stroke-width=".6" d="M376.1 489.9 376.3 492 389.3 484.5 389.1 482.4z"/>
<path fill="none" stroke="#2a2a2a" stroke-width="1.00" d="M370 480 383 472.5"/>
<path fill="#e7e7e7" stroke="#e7e7e7" stroke-width=".6" d="M369.2 478.7 370 480 383 472.5 382.2 471.2z"/>
<path fill="none" stroke="#2a2a2a" stroke-width="1.00" d="M369.2 478.7 382.2 471.2M404.9 540 417.9 532.5"/>
<path fill="#9c9c9c" stroke="#9c9c9c" stroke-width=".6" d="M409.5 549.7 412.4 551.2 425.4 543.7 422.5 542.2z"/>
<path fill="#e4e4e4" stroke="#e4e4e4" stroke-width=".6" d="M404.4 538.8 404.9 540 417.9 532.5 417.4 531.3z"/>
<path fill="#545454" stroke="#545454" stroke-width=".6" d="M377.1 493 378.6 492.9 391.6 485.4 390.1 485.5z"/>
<path fill="none" stroke="#2a2a2a" stroke-width="1.00" d="M404.4 538.8 417.4 531.3M413.1 553.7 426.1 546.2"/>
<path fill="#aeaeae" stroke="#aeaeae" stroke-width=".6" d="M404.9 540 406.6 541.1 419.6 533.6 417.9 532.5z"/>
<path fill="none" stroke="#2a2a2a" stroke-width="1.00" d="M381.9 499 394.9 491.5"/>
<path fill="#818181" stroke="#818181" stroke-width=".6" d="M413.2 552.5 413.1 553.7 426.1 546.2 426.2 545z"/>
<path fill="#e7e7e7" stroke="#e7e7e7" stroke-width=".6" d="M381.9 499 382.7 500.1 395.7 492.6 394.9 491.5z"/>
<path fill="none" stroke="#2a2a2a" stroke-width="1.00" d="M382.7 500.1 395.7 492.6"/>
<path fill="#3f3f3f" stroke="#3f3f3f" stroke-width=".6" d="M405.2 537.4 404.4 538.8 417.4 531.3 418.2 529.9z"/>
<path fill="none" stroke="#2a2a2a" stroke-width="1.00" d="M412.4 551.2 425.4 543.7"/>
<path fill="#e7e7e7" stroke="#e7e7e7" stroke-width=".6" d="M412.4 551.2 413.2 552.5 426.2 545 425.4 543.7z"/>
<path fill="none" stroke="#2a2a2a" stroke-width="1.00" d="M413.2 552.5 426.2 545"/>
<path fill="#7e7e7e" stroke="#7e7e7e" stroke-width=".6" d="M376.4 486.8 376.1 489.9 389.1 482.4 389.4 479.3z"/>
<path fill="#939393" stroke="#939393" stroke-width=".6" d="M381.9 497 381.9 499 394.9 491.5 394.9 489.5z"/>
<path fill="none" stroke="#2a2a2a" stroke-width="1.00" d="M401.4 531.6 414.4 524.1"/>
<path fill="#333333" stroke="#333333" stroke-width=".6" d="M410.4 544.8 408.4 546 421.3 538.5 423.3 537.3z"/>
<path fill="#e7e7e7" stroke="#e7e7e7" stroke-width=".6" d="M400.8 530.4 401.4 531.6 414.4 524.1 413.8 522.9z"/>
<path fill="none" stroke="#2a2a2a" stroke-width="1.00" d="M400.8 530.4 413.8 522.9M374.6 484.8 387.6 477.3"/>
<path fill="#606060" stroke="#606060" stroke-width=".6" d="M382.7 500.1 384.3 500.2 397.3 492.7 395.7 492.6z"/>
<path fill="none" stroke="#2a2a2a" stroke-width="1.00" d="M387.3 506.4 400.3 498.9"/>
<path fill="#e7e7e7" stroke="#e7e7e7" stroke-width=".6" d="M387.3 506.4 388 507.5 401 500 400.3 498.9z"/>
<path fill="none" stroke="#2a2a2a" stroke-width="1.00" d="M388 507.5 401 500"/>
<path fill="#9f9f9f" stroke="#9f9f9f" stroke-width=".6" d="M401.4 531.6 403.1 532.6 416.1 525.1 414.4 524.1zM374.6 484.8 375.7 485.4 388.7 477.9 387.6 477.3z"/>
<path fill="none" stroke="#2a2a2a" stroke-width="1.00" d="M397.4 523.4 410.4 515.9"/>
<path fill="#e7e7e7" stroke="#e7e7e7" stroke-width=".6" d="M396.8 522.2 397.4 523.4 410.4 515.9 409.8 514.7z"/>
<path fill="none" stroke="#2a2a2a" stroke-width="1.00" d="M396.8 522.2 409.8 514.7"/>
<path fill="#8a8a8a" stroke="#8a8a8a" stroke-width=".6" d="M406.6 541.1 409.4 542.3 422.4 534.8 419.6 533.6z"/>
<path fill="#4e4e4e" stroke="#4e4e4e" stroke-width=".6" d="M401.5 528.9 400.8 530.4 413.8 522.9 414.5 521.4z"/>
<path fill="none" stroke="#2a2a2a" stroke-width="1.00" d="M376.4 486.8 389.4 479.3M392.2 514.2 405.2 506.7"/>
<path fill="#e7e7e7" stroke="#e7e7e7" stroke-width=".6" d="M392.2 514.2 392.9 515.3 405.9 507.8 405.2 506.7z"/>
<path fill="none" stroke="#2a2a2a" stroke-width="1.00" d="M392.9 515.3 405.9 507.8"/>
<path fill="#e7e7e7" stroke="#e7e7e7" stroke-width=".6" d="M375.7 485.4 376.4 486.8 389.4 479.3 388.7 477.9z"/>
<path fill="#424242" stroke="#424242" stroke-width=".6" d="M378.6 492.9 380.8 491.9 393.8 484.4 391.6 485.4z"/>
<path fill="none" stroke="#2a2a2a" stroke-width="1.00" d="M375.7 485.4 388.7 477.9"/>
<path fill="#818181" stroke="#818181" stroke-width=".6" d="M387.4 504.5 387.3 506.4 400.3 498.9 400.4 497z"/>
<path fill="#6c6c6c" stroke="#6c6c6c" stroke-width=".6" d="M388 507.5 389.7 507.8 402.7 500.3 401 500z"/>
<path fill="none" stroke="#2a2a2a" stroke-width="1.00" d="M410.4 544.8 423.3 537.3"/>
<path fill="#8d8d8d" stroke="#8d8d8d" stroke-width=".6" d="M397.4 523.4 399.1 524.1 412.1 516.6 410.4 515.9z"/>
<path fill="#606060" stroke="#606060" stroke-width=".6" d="M397.2 520.5 396.8 522.2 409.8 514.7 410.2 513z"/>
<path fill="#6f6f6f" stroke="#6f6f6f" stroke-width=".6" d="M392.6 512.4 392.2 514.2 405.2 506.7 405.5 504.9z"/>
<path fill="#7e7e7e" stroke="#7e7e7e" stroke-width=".6" d="M392.9 515.3 394.6 515.8 407.6 508.3 405.9 507.8z"/>
<path fill="#6c6c6c" stroke="#6c6c6c" stroke-width=".6" d="M382.5 494.1 381.9 497 394.9 489.5 395.5 486.6z"/>
<path fill="#939393" stroke="#939393" stroke-width=".6" d="M410.3 543.5 410.4 544.8 423.3 537.3 423.3 536z"/>
<path fill="#333333" stroke="#333333" stroke-width=".6" d="M407 535.9 405.2 537.4 418.2 529.9 420 528.4z"/>
<path fill="none" stroke="#2a2a2a" stroke-width="1.00" d="M409.4 542.3 422.4 534.8"/>
<path fill="#e7e7e7" stroke="#e7e7e7" stroke-width=".6" d="M409.4 542.3 410.3 543.5 423.3 536 422.4 534.8z"/>
<path fill="none" stroke="#2a2a2a" stroke-width="1.00" d="M410.3 543.5 423.3 536M380.8 491.9 393.8 484.4"/>
<path fill="#7b7b7b" stroke="#7b7b7b" stroke-width=".6" d="M403.1 532.6 405.9 533.4 418.9 525.9 416.1 525.1z"/>
<path fill="#484848" stroke="#484848" stroke-width=".6" d="M384.3 500.2 386.7 499.6 399.6 492.1 397.3 492.7z"/>
<path fill="#aeaeae" stroke="#aeaeae" stroke-width=".6" d="M380.8 491.9 381.9 492.6 394.9 485.1 393.8 484.4z"/>
<path fill="none" stroke="#2a2a2a" stroke-width="1.00" d="M382.5 494.1 395.5 486.6"/>
<path fill="#5a5a5a" stroke="#5a5a5a" stroke-width=".6" d="M388.3 501.8 387.4 504.5 400.4 497 401.3 494.3z"/>
<path fill="#e7e7e7" stroke="#e7e7e7" stroke-width=".6" d="M381.9 492.6 382.5 494.1 395.5 486.6 394.9 485.1z"/>
<path fill="#333333" stroke="#333333" stroke-width=".6" d="M403 527.1 401.5 528.9 414.5 521.4 416 519.6z"/>
<path fill="none" stroke="#2a2a2a" stroke-width="1.00" d="M381.9 492.6 394.9 485.1M407 535.9 420 528.4"/>
<path fill="#696969" stroke="#696969" stroke-width=".6" d="M399.1 524.1 401.8 524.6 414.8 517.1 412.1 516.6z"/>
<path fill="#515151" stroke="#515151" stroke-width=".6" d="M389.7 507.8 392.1 507.6 405.1 500.1 402.7 500.3z"/>
<path fill="#a5a5a5" stroke="#a5a5a5" stroke-width=".6" d="M406.9 534.6 407 535.9 420 528.4 419.9 527.1z"/>
<path fill="none" stroke="#2a2a2a" stroke-width="1.00" d="M405.9 533.4 418.9 525.9"/>
<path fill="#4b4b4b" stroke="#4b4b4b" stroke-width=".6" d="M393.6 509.9 392.6 512.4 405.5 504.9 406.6 502.4z"/>
<path fill="#3f3f3f" stroke="#3f3f3f" stroke-width=".6" d="M398.6 518.4 397.2 520.5 410.2 513 411.6 510.9z"/>
<path fill="#5d5d5d" stroke="#5d5d5d" stroke-width=".6" d="M394.6 515.8 397.2 515.9 410.2 508.4 407.6 508.3z"/>
<path fill="#e7e7e7" stroke="#e7e7e7" stroke-width=".6" d="M405.9 533.4 406.9 534.6 419.9 527.1 418.9 525.9z"/>
<path fill="none" stroke="#2a2a2a" stroke-width="1.00" d="M406.9 534.6 419.9 527.1M386.7 499.6 399.6 492.1"/>
<path fill="#bdbdbd" stroke="#bdbdbd" stroke-width=".6" d="M386.7 499.6 387.7 500.4 400.7 492.9 399.6 492.1z"/>
<path fill="none" stroke="#2a2a2a" stroke-width="1.00" d="M388.3 501.8 401.3 494.3"/>
<path fill="#e1e1e1" stroke="#e1e1e1" stroke-width=".6" d="M387.7 500.4 388.3 501.8 401.3 494.3 400.7 492.9z"/>
<path fill="none" stroke="#2a2a2a" stroke-width="1.00" d="M403 527.1 416 519.6M387.7 500.4 400.7 492.9M401.8 524.6 414.8 517.1"/>
<path fill="#b7b7b7" stroke="#b7b7b7" stroke-width=".6" d="M402.8 525.7 403 527.1 416 519.6 415.8 518.2z"/>
<path fill="none" stroke="#2a2a2a" stroke-width="1.00" d="M392.1 507.6 405.1 500.1"/>
<path fill="#e4e4e4" stroke="#e4e4e4" stroke-width=".6" d="M401.8 524.6 402.8 525.7 415.8 518.2 414.8 517.1z"/>
<path fill="none" stroke="#2a2a2a" stroke-width="1.00" d="M393.6 509.9 406.6 502.4M398.6 518.4 411.6 510.9M402.8 525.7 415.8 518.2M397.2 515.9 410.2 508.4"/>
<path fill="#cccccc" stroke="#cccccc" stroke-width=".6" d="M392.1 507.6 393.2 508.5 406.2 501 405.1 500.1z"/>
<path fill="#d5d5d5" stroke="#d5d5d5" stroke-width=".6" d="M393.2 508.5 393.6 509.9 406.6 502.4 406.2 501z"/>
<path fill="#c6c6c6" stroke="#c6c6c6" stroke-width=".6" d="M398.3 517 398.6 518.4 411.6 510.9 411.3 509.5z"/>
<path fill="#d8d8d8" stroke="#d8d8d8" stroke-width=".6" d="M397.2 515.9 398.3 517 411.3 509.5 410.2 508.4z"/>
<path fill="none" stroke="#2a2a2a" stroke-width="1.00" d="M393.2 508.5 406.2 501M398.3 517 411.3 509.5"/>
</g>
<clipPath id="c19"><path d="M335.8 539.2 335.9 537.5 336.2 536.1 336.8 534.8 337.6 533.8 338.6 533 339.7 532.6 341 532.4 342.4 532.5 343.8 533 345.3 533.7 346.8 534.7 348.2 535.9 349.6 537.4 350.9 539 352 540.8 353 542.7 353.8 544.6 354.4 546.5 354.7 548.4 354.8 550.2 354.7 551.9 354.4 553.3 353.8 554.6 353 555.6 352 556.4 350.9 556.8 349.6 557 348.2 556.9 346.8 556.4 345.3 555.7 343.8 554.7 342.4 553.5 341 552 339.7 550.4 338.6 548.6 337.6 546.7 336.8 544.8 336.2 542.9 335.9 541z"/></clipPath>
<g clip-path="url(#c19)">
<path fill="#fff" d="M335.8 539.2 335.9 537.5 336.2 536.1 336.8 534.8 337.6 533.8 338.6 533 339.7 532.6 341 532.4 342.4 532.5 343.8 533 345.3 533.7 346.8 534.7 348.2 535.9 349.6 537.4 350.9 539 352 540.8 353 542.7 353.8 544.6 354.4 546.5 354.7 548.4 354.8 550.2 354.7 551.9 354.4 553.3 353.8 554.6 353 555.6 352 556.4 350.9 556.8 349.6 557 348.2 556.9 346.8 556.4 345.3 555.7 343.8 554.7 342.4 553.5 341 552 339.7 550.4 338.6 548.6 337.6 546.7 336.8 544.8 336.2 542.9 335.9 541z"/>
<g stroke-width=".7" stroke-linejoin="round">
<path fill="#e7e7e7" stroke="#e7e7e7" d="M338.6 548.6 337.6 546.7 350.6 539.2 351.6 541.1zM339.7 550.4 338.6 548.6 351.6 541.1 352.7 542.9zM341 552 339.7 550.4 352.7 542.9 354 544.5zM337.6 546.7 336.8 544.8 349.8 537.3 350.6 539.2z"/>
<path fill="#dedede" stroke="#dedede" d="M342.4 553.5 341 552 354 544.5 355.3 546z"/>
<path fill="#d5d5d5" stroke="#d5d5d5" d="M336.8 544.8 336.2 542.9 349.2 535.4 349.8 537.3z"/>
<path fill="#bdbdbd" stroke="#bdbdbd" d="M336.2 542.9 335.9 541 348.9 533.5 349.2 535.4z"/>
<path fill="#cccccc" stroke="#cccccc" d="M343.8 554.7 342.4 553.5 355.3 546 356.8 547.2z"/>
<path fill="#a2a2a2" stroke="#a2a2a2" d="M335.9 541 335.8 539.2 348.8 531.7 348.9 533.5z"/>
<path fill="#b1b1b1" stroke="#b1b1b1" d="M345.3 555.7 343.8 554.7 356.8 547.2 358.3 548.2z"/>
<path fill="#848484" stroke="#848484" d="M335.8 539.2 335.9 537.5 348.9 530 348.8 531.7z"/>
<path fill="#969696" stroke="#969696" d="M346.8 556.4 345.3 555.7 358.3 548.2 359.8 548.9z"/>
<path fill="#666666" stroke="#666666" d="M335.9 537.5 336.2 536.1 349.2 528.6 348.9 530z"/>
<path fill="#7b7b7b" stroke="#7b7b7b" d="M348.2 556.9 346.8 556.4 359.8 548.9 361.2 549.4z"/>
<path fill="#4b4b4b" stroke="#4b4b4b" d="M336.2 536.1 336.8 534.8 349.8 527.3 349.2 528.6z"/>
<path fill="#636363" stroke="#636363" d="M349.6 557 348.2 556.9 361.2 549.4 362.6 549.5z"/>
<path fill="#363636" stroke="#363636" d="M336.8 534.8 337.6 533.8 350.6 526.3 349.8 527.3z"/>
<path fill="#4e4e4e" stroke="#4e4e4e" d="M350.9 556.8 349.6 557 362.6 549.5 363.9 549.3z"/>
<path fill="#333333" stroke="#333333" d="M337.6 533.8 338.6 533 351.6 525.5 350.6 526.3z"/>
<path fill="#424242" stroke="#424242" d="M352 556.4 350.9 556.8 363.9 549.3 365 548.9z"/>
</g>
</g>
<path d="M272.1 502.5 272.6 501.6 275.3 502.1 276.8 502 276.9 500.9 275.5 498.9 272.9 496 272.5 494.6 273 493.9 275.8 494.7 277.4 494.8 277.6 493.8 276.2 491.7 273.7 488.6 273.4 487.2 274.1 486.6 277 487.8 278.6 488.1 278.8 487.2 277.6 485 275.3 481.7 275.1 480.4 275.8 479.9 278.7 481.4 280.4 481.9 280.7 481 279.6 478.8 277.5 475.4 277.4 474.1 278.2 473.7 281.1 475.5 282.8 476.2 283.2 475.5 282.2 473.2 280.2 469.7 280.3 468.4 281.2 468.2 284 470.3 285.7 471.2 286.2 470.6 285.4 468.3 283.6 464.7 283.7 463.5 284.7 463.4 287.5 465.8 289.2 466.9 289.8 466.3 289.1 464.1 287.6 460.4 287.8 459.3 288.8 459.3 291.5 462 293.2 463.2 293.8 462.8 293.4 460.6 292 456.8 292.3 455.8 293.4 456 296 458.9 297.7 460.3 298.4 460 298 457.8 297 454.1 297.4 453.2 298.5 453.5 300.9 456.6 302.6 458.2 303.3 458 303.2 455.8 302.3 452.2 302.9 451.4 303.9 451.8 306.3 455.1 307.9 456.8 308.7 456.7 308.7 454.7 308.1 451.1 308.7 450.4 309.8 451 312 454.4 313.5 456.3 314.3 456.3 314.5 454.4 314.2 450.9 314.9 450.3 316 451 318 454.5 319.4 456.5 320.3 456.6 320.6 454.8 320.6 451.5 321.4 451 322.5 451.8 324.2 455.5 325.6 457.6 326.4 457.8 327 456.1 327.2 453 328 452.6 329.1 453.5 330.7 457.2 331.9 459.4 332.8 459.7 333.5 458.2 334 455.3 334.9 455 335.9 456.1 337.2 459.8 338.3 462 339.3 462.4 340.1 461.1 340.9 458.4 341.8 458.3 342.8 459.4 343.9 463.1 344.8 465.3 345.8 465.9 346.7 464.7 347.8 462.2 348.8 462.3 349.7 463.5 350.5 467.1 351.3 469.4 352.3 470 353.4 469.1 354.7 466.9 355.7 467.1 356.6 468.3 357.1 471.9 357.8 474.1 358.7 474.9 359.9 474.1 361.5 472.2 362.6 472.5 363.4 473.9 363.6 477.3 364.2 479.5 365 480.4 366.4 479.8 368.1 478.2 369.2 478.7 370 480 370 483.3 370.3 485.5 371.2 486.4 372.6 486.1 374.6 484.8 375.7 485.4 376.4 486.8 376.1 489.9 376.3 492 377.1 493 378.6 492.9 380.8 491.9 381.9 492.6 382.5 494.1 381.9 497 381.9 499 382.7 500.1 384.3 500.2 386.7 499.6 387.7 500.4 388.3 501.8 387.4 504.5 387.3 506.4 388 507.5 389.7 507.8 392.1 507.6 393.2 508.5 393.6 509.9 392.6 512.4 392.2 514.2 392.9 515.3 394.6 515.8 397.2 515.9 398.3 517 398.6 518.4 397.2 520.5 396.8 522.2 397.4 523.4 399.1 524.1 401.8 524.6 402.8 525.7 403 527.1 401.5 528.9 400.8 530.4 401.4 531.6 403.1 532.6 405.9 533.4 406.9 534.6 407 535.9 405.2 537.4 404.4 538.8 404.9 540 406.6 541.1 409.4 542.3 410.3 543.5 410.4 544.8 408.4 546 407.4 547.2 407.8 548.4 409.5 549.7 412.4 551.2 413.2 552.5 413.1 553.7 411 554.6 409.9 555.6 410.2 556.8 411.9 558.3 414.8 560.1 415.5 561.4 415.3 562.6 413 563.1 411.8 563.9 412 565.1 413.6 566.7 416.5 568.8 417.2 570.2 416.9 571.3 414.4 571.4 413 572 413.2 573.2 414.8 574.9 417.6 577.3 418.1 578.7 417.7 579.7 415.1 579.5 413.7 579.9 413.8 581 415.3 582.9 418 585.5 418.5 587 418 587.8 415.3 587.3 413.8 587.4 413.7 588.5 415.1 590.5 417.7 593.4 418.1 594.8 417.6 595.5 414.8 594.7 413.2 594.6 413 595.6 414.4 597.7 416.9 600.8 417.2 602.2 416.5 602.8 413.6 601.6 412 601.3 411.8 602.2 413 604.4 415.3 607.7 415.5 609 414.8 609.5 411.9 608 410.2 607.5 409.9 608.4 411 610.6 413.1 614 413.2 615.3 412.4 615.7 409.5 613.9 407.8 613.2 407.4 613.9 408.4 616.2 410.4 619.7 410.3 621 409.4 621.2 406.6 619.1 404.9 618.2 404.4 618.8 405.2 621.1 407 624.7 406.9 625.9 405.9 626 403.1 623.6 401.4 622.5 400.8 623.1 401.5 625.3 403 629 402.8 630.1 401.8 630.1 399.1 627.4 397.4 626.2 396.8 626.6 397.2 628.8 398.6 632.6 398.3 633.6 397.2 633.4 394.6 630.5 392.9 629.1 392.2 629.4 392.6 631.6 393.6 635.3 393.2 636.2 392.1 635.9 389.7 632.8 388 631.2 387.3 631.4 387.4 633.6 388.3 637.2 387.7 638 386.7 637.6 384.3 634.3 382.7 632.6 381.9 632.7 381.9 634.7 382.5 638.3 381.9 639 380.8 638.4 378.6 635 377.1 633.1 376.3 633.1 376.1 635 376.4 638.5 375.7 639.1 374.6 638.4 372.6 634.9 371.2 632.9 370.3 632.8 370 634.6 370 637.9 369.2 638.4 368.1 637.6 366.4 633.9 365 631.8 364.2 631.6 363.6 633.3 363.4 636.4 362.6 636.8 361.5 635.9 359.9 632.2 358.7 630 357.8 629.7 357.1 631.2 356.6 634.1 355.7 634.4 354.7 633.3 353.4 629.6 352.3 627.4 351.3 627 350.5 628.3 349.7 631 348.8 631.1 347.8 630 346.7 626.3 345.8 624.1 344.8 623.5 343.9 624.7 342.8 627.2 341.8 627.1 340.9 625.9 340.1 622.3 339.3 620 338.3 619.4 337.2 620.3 335.9 622.5 334.9 622.3 334 621.1 333.5 617.5 332.8 615.3 331.9 614.5 330.7 615.3 329.1 617.2 328 616.9 327.2 615.5 327 612.1 326.4 609.9 325.6 609 324.2 609.6 322.5 611.2 321.4 610.7 320.6 609.4 320.6 606.1 320.3 603.9 319.4 603 318 603.3 316 604.6 314.9 604 314.2 602.6 314.5 599.5 314.3 597.4 313.5 596.4 312 596.5 309.8 597.5 308.7 596.8 308.1 595.3 308.7 592.4 308.7 590.4 307.9 589.3 306.3 589.2 303.9 589.8 302.9 589 302.3 587.6 303.2 584.9 303.3 583 302.6 581.9 300.9 581.6 298.5 581.8 297.4 580.9 297 579.5 298 577 298.4 575.2 297.7 574.1 296 573.6 293.4 573.5 292.3 572.4 292 571 293.4 568.9 293.8 567.2 293.2 566 291.5 565.3 288.8 564.8 287.8 563.7 287.6 562.3 289.1 560.5 289.8 559 289.2 557.8 287.5 556.8 284.7 556 283.7 554.8 283.6 553.5 285.4 552 286.2 550.6 285.7 549.4 284 548.3 281.2 547.1 280.3 545.9 280.2 544.6 282.2 543.4 283.2 542.2 282.8 541 281.1 539.7 278.2 538.2 277.4 536.9 277.5 535.7 279.6 534.8 280.7 533.8 280.4 532.6 278.7 531.1 275.8 529.3 275.1 528 275.3 526.8 277.6 526.3 278.8 525.5 278.6 524.3 277 522.7 274.1 520.6 273.4 519.2 273.7 518.1 276.2 518 277.6 517.4 277.4 516.2 275.8 514.5 273 512.1 272.5 510.7 272.9 509.7 275.5 509.9 276.9 509.5 276.8 508.4 275.3 506.5 272.6 503.9zM335.8 539.2 335.9 537.5 336.2 536.1 336.8 534.8 337.6 533.8 338.6 533 339.7 532.6 341 532.4 342.4 532.5 343.8 533 345.3 533.7 346.8 534.7 348.2 535.9 349.6 537.4 350.9 539 352 540.8 353 542.7 353.8 544.6 354.4 546.5 354.7 548.4 354.8 550.2 354.7 551.9 354.4 553.3 353.8 554.6 353 555.6 352 556.4 350.9 556.8 349.6 557 348.2 556.9 346.8 556.4 345.3 555.7 343.8 554.7 342.4 553.5 341 552 339.7 550.4 338.6 548.6 337.6 546.7 336.8 544.8 336.2 542.9 335.9 541z" fill="#eeeeee" fill-rule="evenodd" stroke="#404040" stroke-width="1.1" stroke-linejoin="round"/>
<line x1="356.0" y1="538.5" x2="274.0" y2="585.9" stroke="#707070" stroke-width="1.2" stroke-dasharray="12.5 6 1.5 6"/>
<g stroke-width=".7" stroke-linejoin="round">
<path fill="#7b7b7b" stroke="#7b7b7b" d="M99.7 552.8 101.3 552.8 129 536.8 127.4 536.8z"/>
<path fill="#6c6c6c" stroke="#6c6c6c" d="M108.4 565.1 107.6 566.4 135.3 550.4 136.1 549.1z"/>
<path fill="#9c9c9c" stroke="#9c9c9c" d="M101.3 552.8 103 553.5 130.7 537.5 129 536.8z"/>
<path fill="#8d8d8d" stroke="#8d8d8d" d="M108.7 563.2 108.4 565.1 136.1 549.1 136.4 547.2z"/>
<path fill="#bdbdbd" stroke="#bdbdbd" d="M103 553.5 104.8 554.8 132.5 538.8 130.7 537.5z"/>
<path fill="#b4b4b4" stroke="#b4b4b4" d="M108.4 561.1 108.7 563.2 136.4 547.2 136.1 545.1z"/>
<path fill="#d8d8d8" stroke="#d8d8d8" d="M104.8 554.8 106.3 556.7 134.1 540.7 132.5 538.8zM106.3 556.7 107.6 558.8 135.3 542.8 134.1 540.7z"/>
<path fill="#d2d2d2" stroke="#d2d2d2" d="M107.6 558.8 108.4 561.1 136.1 545.1 135.3 542.8z"/>
</g>
<path d="M97.4 556.8 97.7 554.9 98.5 553.6 99.7 552.8 101.3 552.8 103 553.5 104.8 554.8 106.3 556.7 107.6 558.8 108.4 561.1 108.7 563.2 108.4 565.1 107.6 566.4 106.3 567.2 104.8 567.2 103 566.5 101.3 565.2 99.7 563.3 98.5 561.2 97.7 558.9z" fill="#c8c8c8" fill-rule="evenodd" stroke="#3a3a3a" stroke-width=".80" stroke-linejoin="round"/>
<path fill="none" stroke="#3a3a3a" stroke-width=".80" stroke-linejoin="round" d="M97.4 556.8 97.7 554.9 98.5 553.5 99.7 552.8 126.2 537.5 127.4 536.8 129 536.8 130.8 537.5 132.5 538.8 134.1 540.6 135.3 542.8 136.1 545.1 136.4 547.2 136.1 549.1 135.3 550.5 107.6 566.5 106.3 567.2 104.8 567.2 103 566.5 101.3 565.2 99.7 563.4 98.5 561.2 97.7 558.9z"/>
<g stroke-width=".7" stroke-linejoin="round">
<path fill="#999999" stroke="#999999" d="M63.4 573.8 64.9 573.8 101.3 552.8 99.7 552.8z"/>
<path fill="#8a8a8a" stroke="#8a8a8a" d="M72 586.1 71.2 587.4 107.6 566.4 108.4 565.1z"/>
<path fill="#b4b4b4" stroke="#b4b4b4" d="M64.9 573.8 66.7 574.5 103 553.5 101.3 552.8z"/>
<path fill="#a8a8a8" stroke="#a8a8a8" d="M72.3 584.2 72 586.1 108.4 565.1 108.7 563.2z"/>
<path fill="#d5d5d5" stroke="#d5d5d5" d="M66.7 574.5 68.4 575.8 104.8 554.8 103 553.5z"/>
<path fill="#cccccc" stroke="#cccccc" d="M72 582.1 72.3 584.2 108.7 563.2 108.4 561.1z"/>
<path fill="#eaeaea" stroke="#eaeaea" d="M68.4 575.8 70 577.7 106.3 556.7 104.8 554.8zM70 577.7 71.2 579.8 107.6 558.8 106.3 556.7z"/>
<path fill="#e7e7e7" stroke="#e7e7e7" d="M71.2 579.8 72 582.1 108.4 561.1 107.6 558.8z"/>
</g>
<path d="M61 577.8 61.3 575.9 62.1 574.6 63.4 573.8 64.9 573.8 66.7 574.5 68.4 575.8 70 577.7 71.2 579.8 72 582.1 72.3 584.2 72 586.1 71.2 587.4 70 588.2 68.4 588.2 66.7 587.5 64.9 586.2 63.4 584.3 62.1 582.2 61.3 579.9z" fill="#d8d8d8" fill-rule="evenodd" stroke="#3a3a3a" stroke-width=".80" stroke-linejoin="round"/>
<path fill="none" stroke="#3a3a3a" stroke-width=".80" stroke-linejoin="round" d="M61 577.8 61.3 575.9 62.1 574.5 63.4 573.8 99.7 552.8 101.3 552.8 103 553.5 104.8 554.8 106.3 556.6 107.6 558.8 108.4 561.1 108.7 563.2 108.4 565.1 107.6 566.5 70 588.2 68.4 588.2 66.7 587.5 64.9 586.2 63.4 584.4 62.1 582.2 61.3 579.9z"/>
<path stroke="#6a6a6a" stroke-width=".9" d="M101.4 551.8 113.3 563.2"/>
<path stroke="#6a6a6a" stroke-width=".9" d="M104.5 550 116.4 561.4"/>
<path stroke="#6a6a6a" stroke-width=".9" d="M107.6 548.2 119.6 559.6"/>
<path stroke="#6a6a6a" stroke-width=".9" d="M110.8 546.4 122.7 557.8"/>
<path stroke="#6a6a6a" stroke-width=".9" d="M113.9 544.6 125.8 556"/>
<path stroke="#6a6a6a" stroke-width=".9" d="M117 542.8 128.9 554.2"/>
<path stroke="#6a6a6a" stroke-width=".9" d="M120.1 541 132 552.4"/>
<path stroke="#6a6a6a" stroke-width=".9" d="M123.2 539.2 135.1 550.6"/>
<path stroke="#6a6a6a" stroke-width=".9" d="M126.4 537.4 138.3 548.8"/>
<g stroke-width=".7" stroke-linejoin="round">
<path fill="#8d8d8d" stroke="#8d8d8d" d="M51.3 574.3 53.2 573.7 61.9 568.7 59.9 569.3z"/>
<path fill="#818181" stroke="#818181" d="M66.2 596.3 64.7 597.7 73.4 592.7 74.9 591.3z"/>
<path fill="#9f9f9f" stroke="#9f9f9f" d="M53.2 573.7 55.5 574 64.2 569 61.9 568.7z"/>
<path fill="#909090" stroke="#909090" d="M67.2 594.2 66.2 596.3 74.9 591.3 75.9 589.2z"/>
<path fill="#b7b7b7" stroke="#b7b7b7" d="M55.5 574 58 575 66.7 570 64.2 569z"/>
<path fill="#ababab" stroke="#ababab" d="M67.5 591.5 67.2 594.2 75.9 589.2 76.2 586.5z"/>
<path fill="#d2d2d2" stroke="#d2d2d2" d="M58 575 60.5 576.8 69.1 571.8 66.7 570z"/>
<path fill="#c9c9c9" stroke="#c9c9c9" d="M67.2 588.5 67.5 591.5 76.2 586.5 75.9 583.5z"/>
<path fill="#e7e7e7" stroke="#e7e7e7" d="M60.5 576.8 62.8 579.2 71.4 574.2 69.1 571.8z"/>
<path fill="#e1e1e1" stroke="#e1e1e1" d="M66.2 585.3 67.2 588.5 75.9 583.5 74.9 580.3z"/>
<path fill="#eaeaea" stroke="#eaeaea" d="M62.8 579.2 64.7 582.1 73.4 577.1 71.4 574.2zM64.7 582.1 66.2 585.3 74.9 580.3 73.4 577.1z"/>
</g>
<path d="M48.5 580.5 48.8 577.8 49.8 575.7 51.3 574.3 53.2 573.7 55.5 574 58 575 60.5 576.8 62.8 579.2 64.7 582.1 66.2 585.3 67.2 588.5 67.5 591.5 67.2 594.2 66.2 596.3 64.7 597.7 62.8 598.3 60.5 598 58 597 55.5 595.2 53.2 592.8 51.3 589.9 49.8 586.7 48.8 583.5z" fill="#eeeeee" fill-rule="evenodd" stroke="#3a3a3a" stroke-width=".80" stroke-linejoin="round"/>
<path fill="none" stroke="#3a3a3a" stroke-width=".80" stroke-linejoin="round" d="M48.5 580.5 48.8 577.8 49.8 575.7 51.3 574.3 59.9 569.3 61.9 568.7 64.2 569 66.7 570 69.1 571.8 71.4 574.2 73.4 577.1 74.9 580.3 75.9 583.5 76.2 586.5 75.9 589.2 74.9 591.3 73.4 592.7 64.7 597.7 62.8 598.3 60.5 598 58 597 55.5 595.2 53.2 592.8 51.3 589.9 49.8 586.7 48.8 583.5z"/>
<path fill="#c8c8c8" stroke="#3a3a3a" stroke-width=".8" stroke-linejoin="round" d="M53.4 580.2 58 579.8 62.6 585.6 62.6 591.8 58 592.2 53.4 586.4z"/>
<path fill="#e8e8e8" stroke="#777" stroke-width=".6" d="M57.7 579.4 61.5 579 65.2 583.7 65.2 588.6 61.5 589 57.7 584.3z"/>
<g stroke-width=".7" stroke-linejoin="round">
<path fill="#7b7b7b" stroke="#7b7b7b" d="M164.2 640.8 165.8 640.8 197 622.8 195.4 622.8z"/>
<path fill="#6c6c6c" stroke="#6c6c6c" d="M172.9 653.1 172.1 654.4 203.3 636.4 204.1 635.1z"/>
<path fill="#9c9c9c" stroke="#9c9c9c" d="M165.8 640.8 167.5 641.5 198.7 623.5 197 622.8z"/>
<path fill="#8d8d8d" stroke="#8d8d8d" d="M173.2 651.2 172.9 653.1 204.1 635.1 204.3 633.2z"/>
<path fill="#bdbdbd" stroke="#bdbdbd" d="M167.5 641.5 169.3 642.8 200.4 624.8 198.7 623.5z"/>
<path fill="#b4b4b4" stroke="#b4b4b4" d="M172.9 649.1 173.2 651.2 204.3 633.2 204.1 631.1z"/>
<path fill="#d8d8d8" stroke="#d8d8d8" d="M169.3 642.8 170.8 644.7 202 626.7 200.4 624.8zM170.8 644.7 172.1 646.8 203.3 628.8 202 626.7z"/>
<path fill="#d2d2d2" stroke="#d2d2d2" d="M172.1 646.8 172.9 649.1 204.1 631.1 203.3 628.8z"/>
</g>
<path d="M161.9 644.8 162.2 642.9 163 641.6 164.2 640.8 165.8 640.8 167.5 641.5 169.3 642.8 170.8 644.7 172.1 646.8 172.9 649.1 173.2 651.2 172.9 653.1 172.1 654.4 170.8 655.2 169.3 655.2 167.5 654.5 165.8 653.2 164.2 651.3 163 649.2 162.2 646.9z" fill="#c8c8c8" fill-rule="evenodd" stroke="#3a3a3a" stroke-width=".80" stroke-linejoin="round"/>
<path fill="none" stroke="#3a3a3a" stroke-width=".80" stroke-linejoin="round" d="M161.9 644.8 162.2 642.9 163 641.5 164.2 640.8 195.4 622.8 197 622.8 198.7 623.5 200.4 624.8 202 626.6 203.3 628.8 204.1 631.1 204.3 633.2 204.1 635.1 203.3 636.5 202 637.2 172.1 654.5 170.8 655.2 169.3 655.2 167.5 654.5 165.8 653.2 164.2 651.4 163 649.2 162.2 646.9z"/>
<g stroke-width=".7" stroke-linejoin="round">
<path fill="#999999" stroke="#999999" d="M127.9 661.8 129.4 661.8 165.8 640.8 164.2 640.8z"/>
<path fill="#8a8a8a" stroke="#8a8a8a" d="M136.5 674.1 135.7 675.4 172.1 654.4 172.9 653.1z"/>
<path fill="#b4b4b4" stroke="#b4b4b4" d="M129.4 661.8 131.2 662.5 167.5 641.5 165.8 640.8z"/>
<path fill="#a8a8a8" stroke="#a8a8a8" d="M136.8 672.2 136.5 674.1 172.9 653.1 173.2 651.2z"/>
<path fill="#d5d5d5" stroke="#d5d5d5" d="M131.2 662.5 132.9 663.8 169.3 642.8 167.5 641.5z"/>
<path fill="#cccccc" stroke="#cccccc" d="M136.5 670.1 136.8 672.2 173.2 651.2 172.9 649.1z"/>
<path fill="#eaeaea" stroke="#eaeaea" d="M132.9 663.8 134.5 665.7 170.8 644.7 169.3 642.8zM134.5 665.7 135.7 667.8 172.1 646.8 170.8 644.7z"/>
<path fill="#e7e7e7" stroke="#e7e7e7" d="M135.7 667.8 136.5 670.1 172.9 649.1 172.1 646.8z"/>
</g>
<path d="M125.5 665.8 125.8 663.9 126.6 662.6 127.9 661.8 129.4 661.8 131.2 662.5 132.9 663.8 134.5 665.7 135.7 667.8 136.5 670.1 136.8 672.2 136.5 674.1 135.7 675.4 134.5 676.2 132.9 676.2 131.2 675.5 129.4 674.2 127.9 672.3 126.6 670.2 125.8 667.9z" fill="#d8d8d8" fill-rule="evenodd" stroke="#3a3a3a" stroke-width=".80" stroke-linejoin="round"/>
<path fill="none" stroke="#3a3a3a" stroke-width=".80" stroke-linejoin="round" d="M125.5 665.8 125.8 663.9 126.6 662.5 127.8 661.8 164.2 640.8 165.8 640.8 167.5 641.5 169.3 642.8 170.8 644.6 172.1 646.8 172.9 649.1 173.2 651.2 172.9 653.1 172.1 654.5 134.5 676.2 132.9 676.2 131.2 675.5 129.4 674.2 127.8 672.4 126.6 670.2 125.8 667.9z"/>
<path stroke="#6a6a6a" stroke-width=".9" d="M165.9 639.8 177.8 651.2"/>
<path stroke="#6a6a6a" stroke-width=".9" d="M169 638 180.9 649.4"/>
<path stroke="#6a6a6a" stroke-width=".9" d="M172.1 636.2 184.1 647.6"/>
<path stroke="#6a6a6a" stroke-width=".9" d="M175.3 634.4 187.2 645.8"/>
<path stroke="#6a6a6a" stroke-width=".9" d="M178.4 632.6 190.3 644"/>
<path stroke="#6a6a6a" stroke-width=".9" d="M181.5 630.8 193.4 642.2"/>
<path stroke="#6a6a6a" stroke-width=".9" d="M184.6 629 196.5 640.4"/>
<path stroke="#6a6a6a" stroke-width=".9" d="M187.7 627.2 199.6 638.6"/>
<path stroke="#6a6a6a" stroke-width=".9" d="M190.9 625.4 202.8 636.8"/>
<g stroke-width=".7" stroke-linejoin="round">
<path fill="#8d8d8d" stroke="#8d8d8d" d="M115.8 662.3 117.7 661.7 126.4 656.7 124.4 657.3z"/>
<path fill="#818181" stroke="#818181" d="M130.8 684.3 129.2 685.7 137.9 680.7 139.4 679.3z"/>
<path fill="#9f9f9f" stroke="#9f9f9f" d="M117.7 661.7 120 662 128.7 657 126.4 656.7z"/>
<path fill="#909090" stroke="#909090" d="M131.7 682.2 130.8 684.3 139.4 679.3 140.4 677.2z"/>
<path fill="#b7b7b7" stroke="#b7b7b7" d="M120 662 122.5 663 131.2 658 128.7 657z"/>
<path fill="#ababab" stroke="#ababab" d="M132 679.5 131.7 682.2 140.4 677.2 140.7 674.5z"/>
<path fill="#d2d2d2" stroke="#d2d2d2" d="M122.5 663 125 664.8 133.6 659.8 131.2 658z"/>
<path fill="#c9c9c9" stroke="#c9c9c9" d="M131.7 676.5 132 679.5 140.7 674.5 140.4 671.5z"/>
<path fill="#e7e7e7" stroke="#e7e7e7" d="M125 664.8 127.3 667.2 135.9 662.2 133.6 659.8z"/>
<path fill="#e1e1e1" stroke="#e1e1e1" d="M130.8 673.3 131.7 676.5 140.4 671.5 139.4 668.3z"/>
<path fill="#eaeaea" stroke="#eaeaea" d="M127.3 667.2 129.2 670.1 137.9 665.1 135.9 662.2zM129.2 670.1 130.8 673.3 139.4 668.3 137.9 665.1z"/>
</g>
<path d="M113 668.5 113.3 665.8 114.2 663.7 115.8 662.3 117.7 661.7 120 662 122.5 663 125 664.8 127.3 667.2 129.2 670.1 130.8 673.3 131.7 676.5 132 679.5 131.7 682.2 130.8 684.3 129.2 685.7 127.3 686.3 125 686 122.5 685 120 683.2 117.7 680.8 115.8 677.9 114.2 674.7 113.3 671.5z" fill="#eeeeee" fill-rule="evenodd" stroke="#3a3a3a" stroke-width=".80" stroke-linejoin="round"/>
<path fill="none" stroke="#3a3a3a" stroke-width=".80" stroke-linejoin="round" d="M113 668.5 113.3 665.8 114.2 663.7 115.8 662.3 124.4 657.3 126.4 656.7 128.7 657 131.2 658 133.6 659.8 135.9 662.2 137.9 665.1 139.4 668.3 140.4 671.5 140.7 674.5 140.4 677.2 139.4 679.3 137.9 680.7 129.2 685.7 127.3 686.3 125 686 122.5 685 120 683.2 117.7 680.8 115.8 677.9 114.2 674.7 113.3 671.5z"/>
<path fill="#c8c8c8" stroke="#3a3a3a" stroke-width=".8" stroke-linejoin="round" d="M117.8 668.2 122.5 667.8 127.2 673.6 127.2 679.8 122.5 680.2 117.8 674.4z"/>
<path fill="#e8e8e8" stroke="#777" stroke-width=".6" d="M122.2 667.4 126 667 129.7 671.7 129.7 676.6 126 677 122.2 672.3z"/>
<g stroke-width=".7" stroke-linejoin="round">
<path fill="#939393" stroke="#939393" d="M140.5 520.3 142.6 520 145.2 518.5 143.1 518.8z"/>
<path fill="#848484" stroke="#848484" d="M157.6 546 156.3 547.7 158.9 546.2 160.2 544.5z"/>
<path fill="#a2a2a2" stroke="#a2a2a2" d="M142.6 520 145 520.4 147.6 518.9 145.2 518.5z"/>
<path fill="#969696" stroke="#969696" d="M158.5 543.7 157.6 546 160.2 544.5 161.1 542.2z"/>
<path fill="#bababa" stroke="#bababa" d="M145 520.4 147.5 521.5 150.1 520 147.6 518.9z"/>
<path fill="#aeaeae" stroke="#aeaeae" d="M158.8 541 158.5 543.7 161.1 542.2 161.4 539.5z"/>
<path fill="#cfcfcf" stroke="#cfcfcf" d="M147.5 521.5 150 523.3 152.6 521.8 150.1 520z"/>
<path fill="#c6c6c6" stroke="#c6c6c6" d="M158.5 537.9 158.8 541 161.4 539.5 161.1 536.4z"/>
<path fill="#e4e4e4" stroke="#e4e4e4" d="M150 523.3 152.4 525.6 155 524.1 152.6 521.8z"/>
<path fill="#dedede" stroke="#dedede" d="M157.6 534.7 158.5 537.9 161.1 536.4 160.2 533.2z"/>
<path fill="#eaeaea" stroke="#eaeaea" d="M152.4 525.6 154.5 528.4 157.1 526.9 155 524.1zM156.3 531.5 157.6 534.7 160.2 533.2 158.9 530zM154.5 528.4 156.3 531.5 158.9 530 157.1 526.9z"/>
</g>
<clipPath id="c20"><path d="M142.5 531.6 142.9 529.6 143.9 528.3 145.6 528 147.5 528.7 149.4 530.3 151.1 532.4 152.1 535 152.5 537.4 152.1 539.4 151.1 540.7 149.4 541 147.5 540.3 145.6 538.7 143.9 536.6 142.9 534z"/></clipPath>
<g clip-path="url(#c20)">
<path fill="#fff" d="M142.5 531.6 142.9 529.6 143.9 528.3 145.6 528 147.5 528.7 149.4 530.3 151.1 532.4 152.1 535 152.5 537.4 152.1 539.4 151.1 540.7 149.4 541 147.5 540.3 145.6 538.7 143.9 536.6 142.9 534z"/>
<g stroke-width=".7" stroke-linejoin="round">
<path fill="#eaeaea" stroke="#eaeaea" d="M143.9 536.6 142.9 534 145.5 532.5 146.5 535.1zM145.6 538.7 143.9 536.6 146.5 535.1 148.2 537.2z"/>
<path fill="#cfcfcf" stroke="#cfcfcf" d="M142.9 534 142.5 531.6 145.1 530.1 145.5 532.5z"/>
<path fill="#d8d8d8" stroke="#d8d8d8" d="M147.5 540.3 145.6 538.7 148.2 537.2 150.1 538.8z"/>
<path fill="#a5a5a5" stroke="#a5a5a5" d="M142.5 531.6 142.9 529.6 145.5 528.1 145.1 530.1z"/>
<path fill="#b1b1b1" stroke="#b1b1b1" d="M149.4 541 147.5 540.3 150.1 538.8 152 539.5z"/>
<path fill="#818181" stroke="#818181" d="M142.9 529.6 143.9 528.3 146.5 526.8 145.5 528.1z"/>
<path fill="#909090" stroke="#909090" d="M151.1 540.7 149.4 541 152 539.5 153.6 539.2z"/>
</g>
</g>
<path d="M136.2 528 136.5 525.3 137.4 523 138.7 521.3 140.5 520.3 142.6 520 145 520.4 147.5 521.5 150 523.3 152.4 525.6 154.5 528.4 156.3 531.5 157.6 534.7 158.5 537.9 158.8 541 158.5 543.7 157.6 546 156.3 547.7 154.5 548.7 152.4 549 150 548.6 147.5 547.5 145 545.7 142.6 543.4 140.5 540.6 138.7 537.5 137.4 534.3 136.5 531.1zM142.5 531.6 142.9 529.6 143.9 528.3 145.6 528 147.5 528.7 149.4 530.3 151.1 532.4 152.1 535 152.5 537.4 152.1 539.4 151.1 540.7 149.4 541 147.5 540.3 145.6 538.7 143.9 536.6 142.9 534z" fill="#eeeeee" fill-rule="evenodd" stroke="#3a3a3a" stroke-width=".80" stroke-linejoin="round"/>
<path fill="none" stroke="#3a3a3a" stroke-width=".80" stroke-linejoin="round" d="M136.2 528 136.5 525.3 137.4 523 138.7 521.3 140.5 520.3 143.1 518.8 145.2 518.5 147.6 518.9 150.1 520 152.6 521.8 155 524.1 157.1 526.9 158.9 530 160.2 533.2 161.1 536.4 161.4 539.5 161.1 542.2 160.2 544.5 158.9 546.2 157.1 547.2 154.5 548.7 152.4 549 150 548.6 147.5 547.5 145 545.7 142.6 543.4 140.5 540.6 138.7 537.5 137.4 534.3 136.5 531.1z"/>
<g stroke-width=".7" stroke-linejoin="round">
<path fill="#818181" stroke="#818181" d="M239.5 624.2 238 625.7 240.6 624.2 242.1 622.7z"/>
<path fill="#909090" stroke="#909090" d="M221.9 596.8 224 596.4 226.6 594.9 224.5 595.3z"/>
<path fill="#8d8d8d" stroke="#8d8d8d" d="M240.6 622.2 239.5 624.2 242.1 622.7 243.2 620.7z"/>
<path fill="#9f9f9f" stroke="#9f9f9f" d="M224 596.4 226.4 596.7 229 595.2 226.6 594.9z"/>
<path fill="#a2a2a2" stroke="#a2a2a2" d="M241.1 619.7 240.6 622.2 243.2 620.7 243.7 618.2z"/>
<path fill="#b4b4b4" stroke="#b4b4b4" d="M226.4 596.7 228.9 597.7 231.5 596.2 229 595.2z"/>
<path fill="#bababa" stroke="#bababa" d="M241.1 616.8 241.1 619.7 243.7 618.2 243.7 615.3z"/>
<path fill="#c9c9c9" stroke="#c9c9c9" d="M228.9 597.7 231.4 599.3 234 597.8 231.5 596.2z"/>
<path fill="#d2d2d2" stroke="#d2d2d2" d="M240.6 613.6 241.1 616.8 243.7 615.3 243.2 612.1z"/>
<path fill="#dedede" stroke="#dedede" d="M231.4 599.3 233.8 601.5 236.4 600 234 597.8z"/>
<path fill="#e4e4e4" stroke="#e4e4e4" d="M239.5 610.3 240.6 613.6 243.2 612.1 242.1 608.8z"/>
<path fill="#eaeaea" stroke="#eaeaea" d="M233.8 601.5 236.1 604.1 238.7 602.6 236.4 600zM238 607.1 239.5 610.3 242.1 608.8 240.6 605.6zM236.1 604.1 238 607.1 240.6 605.6 238.7 602.6z"/>
</g>
<clipPath id="c21"><path d="M224.3 608.5 224.7 606.4 225.8 605.1 227.5 604.8 229.5 605.5 231.5 607.1 233.2 609.4 234.3 612 234.7 614.5 234.3 616.6 233.2 617.9 231.5 618.2 229.5 617.5 227.5 615.9 225.8 613.6 224.7 611z"/></clipPath>
<g clip-path="url(#c21)">
<path fill="#fff" d="M224.3 608.5 224.7 606.4 225.8 605.1 227.5 604.8 229.5 605.5 231.5 607.1 233.2 609.4 234.3 612 234.7 614.5 234.3 616.6 233.2 617.9 231.5 618.2 229.5 617.5 227.5 615.9 225.8 613.6 224.7 611z"/>
<g stroke-width=".7" stroke-linejoin="round">
<path fill="#eaeaea" stroke="#eaeaea" d="M225.8 613.6 224.7 611 227.3 609.5 228.4 612.1zM227.5 615.9 225.8 613.6 228.4 612.1 230.1 614.4z"/>
<path fill="#cfcfcf" stroke="#cfcfcf" d="M224.7 611 224.3 608.5 226.9 607 227.3 609.5z"/>
<path fill="#d8d8d8" stroke="#d8d8d8" d="M229.5 617.5 227.5 615.9 230.1 614.4 232.1 616z"/>
<path fill="#a5a5a5" stroke="#a5a5a5" d="M224.3 608.5 224.7 606.4 227.3 604.9 226.9 607z"/>
<path fill="#b1b1b1" stroke="#b1b1b1" d="M231.5 618.2 229.5 617.5 232.1 616 234.1 616.7z"/>
<path fill="#818181" stroke="#818181" d="M224.7 606.4 225.8 605.1 228.4 603.6 227.3 604.9z"/>
<path fill="#909090" stroke="#909090" d="M233.2 617.9 231.5 618.2 234.1 616.7 235.8 616.4z"/>
</g>
</g>
<path d="M217.8 604.8 218.1 602 218.9 599.7 220.2 598 221.9 596.8 224 596.4 226.4 596.7 228.9 597.7 231.4 599.3 233.8 601.5 236.1 604.1 238 607.1 239.5 610.3 240.6 613.6 241.1 616.8 241.1 619.7 240.6 622.2 239.5 624.2 238 625.7 236.1 626.5 233.8 626.5 231.4 625.9 228.9 624.6 226.4 622.7 224 620.3 221.9 617.4 220.2 614.3 218.9 611 218.1 607.8zM224.3 608.5 224.7 606.4 225.8 605.1 227.5 604.8 229.5 605.5 231.5 607.1 233.2 609.4 234.3 612 234.7 614.5 234.3 616.6 233.2 617.9 231.5 618.2 229.5 617.5 227.5 615.9 225.8 613.6 224.7 611z" fill="#eeeeee" fill-rule="evenodd" stroke="#3a3a3a" stroke-width=".80" stroke-linejoin="round"/>
<path fill="none" stroke="#3a3a3a" stroke-width=".80" stroke-linejoin="round" d="M217.8 604.8 218.1 602 218.9 599.7 220.2 598 221.9 596.8 224.5 595.3 226.6 594.9 229 595.2 231.5 596.1 234 597.8 236.4 600 238.7 602.6 240.6 605.6 242.1 608.8 243.2 612.1 243.7 615.2 243.7 618.2 243.2 620.7 242.1 622.7 240.6 624.2 238 625.7 236.1 626.5 233.8 626.5 231.4 625.9 228.9 624.6 226.4 622.7 224 620.3 221.9 617.4 220.2 614.3 218.9 611 218.1 607.8z"/>
<path fill="#bbb" stroke="#4a4a4a" stroke-width="1.8" stroke-linejoin="round" d="M479.7 142.9 479.8 141.9 480.2 141 482.6 141.9 484.4 142.4 484.7 141.7 484.8 140.8 483.5 138.6 481.7 135.6 481.9 134.6 482.3 133.8 482.7 133.1 483.4 132.6 485.8 134.5 487.6 135.7 488.2 135.4 488.5 134.7 487.8 132.4 486.7 129.2 487.2 128.5 487.8 128.2 488.5 127.8 489.4 127.8 491.5 130.4 493.2 132.2 493.9 132.2 494.5 131.9 494.4 129.8 494.1 126.8 494.8 126.5 495.7 126.5 496.5 126.6 497.5 127 499.1 130 500.4 132.3 501.2 132.7 502 132.7 502.5 131 503 128.5 503.9 128.7 504.8 129.1 505.8 129.6 506.7 130.4 507.6 133.5 508.4 135.9 509.2 136.6 510 137 511.1 135.9 512.4 134.3 513.4 134.8 514.3 135.6 515.2 136.5 516 137.6 516.1 140.4 516.2 142.6 516.9 143.5 517.7 144.2 519.2 143.9 521.1 143.3 522 144.2 522.8 145.3 523.6 146.4 524.2 147.7 523.4 149.9 522.9 151.6 523.4 152.7 524 153.6 525.8 154.1 528.1 154.6 528.9 155.8 529.4 157 529.9 158.2 530.2 159.4 528.7 160.7 527.7 161.9 527.9 162.9 528.3 163.9 530.1 165.2 532.6 166.7 533.1 168 533.3 169.2 533.5 170.4 533.5 171.5 531.4 171.7 529.9 172.1 529.8 173 530 174 531.7 175.9 533.9 178.3 534.1 179.5 534 180.5 533.9 181.5 533.5 182.4 531.2 181.5 529.4 181 529 181.7 528.9 182.6 530.2 184.8 532 187.8 531.9 188.8 531.5 189.6 531 190.3 530.4 190.8 528 188.9 526.1 187.7 525.6 188 525.2 188.7 525.9 191 527.1 194.2 526.6 194.9 525.9 195.2 525.2 195.6 524.4 195.6 522.2 193 520.6 191.2 519.8 191.2 519.2 191.5 519.4 193.6 519.7 196.6 519 196.9 518.1 196.9 517.2 196.8 516.3 196.4 514.6 193.4 513.4 191.1 512.6 190.7 511.8 190.7 511.3 192.4 510.8 194.9 509.9 194.7 508.9 194.3 508 193.8 507 193 506.1 189.9 505.4 187.5 504.6 186.8 503.8 186.4 502.7 187.5 501.4 189.1 500.4 188.6 499.5 187.8 498.6 186.9 497.7 185.8 497.7 183 497.6 180.8 496.9 179.9 496.1 179.2 494.6 179.5 492.6 180.1 491.7 179.2 490.9 178.1 490.2 177 489.6 175.7 490.4 173.5 490.9 171.8 490.4 170.7 489.7 169.8 488 169.3 485.6 168.8 484.9 167.6 484.3 166.4 483.8 165.2 483.5 164 485 162.7 486.1 161.5 485.9 160.5 485.4 159.5 483.6 158.2 481.2 156.7 480.7 155.4 480.4 154.2 480.2 153 480.3 151.9 482.3 151.7 483.8 151.3 483.9 150.4 483.7 149.4 482.1 147.5 479.8 145.1 479.7 143.9z"/>
<g stroke-linejoin="round">
<path fill="none" stroke="#4a4a4a" stroke-width=".80" d="M470.2 207.1 501.4 189.1M449.1 169.9 480.3 151.9"/>
<path fill="#666666" stroke="#666666" stroke-width=".6" d="M471.5 205.5 470.2 207.1 501.4 189.1 502.7 187.5z"/>
<path fill="#7b7b7b" stroke="#7b7b7b" stroke-width=".6" d="M449.1 169.9 451.2 169.7 482.3 151.7 480.3 151.9z"/>
<path fill="#636363" stroke="#636363" stroke-width=".6" d="M472.6 204.4 471.5 205.5 502.7 187.5 503.8 186.4z"/>
<path fill="#757575" stroke="#757575" stroke-width=".6" d="M451.2 169.7 452.7 169.3 483.8 151.3 482.3 151.7z"/>
<path fill="none" stroke="#4a4a4a" stroke-width=".80" d="M472.6 204.4 503.8 186.4M452.7 169.3 483.8 151.3M479.6 212.9 510.8 194.9M449 159 480.2 141"/>
<path fill="#909090" stroke="#909090" stroke-width=".6" d="M480.1 210.4 479.6 212.9 510.8 194.9 511.3 192.4z"/>
<path fill="#a2a2a2" stroke="#a2a2a2" stroke-width=".6" d="M449 159 451.4 159.9 482.6 141.9 480.2 141z"/>
<path fill="#878787" stroke="#878787" stroke-width=".6" d="M480.6 208.7 480.1 210.4 511.3 192.4 511.8 190.7z"/>
<path fill="#9c9c9c" stroke="#9c9c9c" stroke-width=".6" d="M451.4 159.9 453.2 160.4 484.4 142.4 482.6 141.9z"/>
<path fill="none" stroke="#4a4a4a" stroke-width=".80" d="M480.6 208.7 511.8 190.7M453.2 160.4 484.4 142.4M488.5 214.6 519.7 196.6M452.2 150.6 483.4 132.6"/>
<path fill="#c3c3c3" stroke="#c3c3c3" stroke-width=".6" d="M488.2 211.6 488.5 214.6 519.7 196.6 519.4 193.6z"/>
<path fill="#d2d2d2" stroke="#d2d2d2" stroke-width=".6" d="M452.2 150.6 454.6 152.5 485.8 134.5 483.4 132.6z"/>
<path fill="#bababa" stroke="#bababa" stroke-width=".6" d="M488.1 209.5 488.2 211.6 519.4 193.6 519.2 191.5z"/>
<path fill="#c9c9c9" stroke="#c9c9c9" stroke-width=".6" d="M454.6 152.5 456.4 153.7 487.6 135.7 485.8 134.5z"/>
<path fill="none" stroke="#4a4a4a" stroke-width=".80" d="M488.1 209.5 519.2 191.5M456.4 153.7 487.6 135.7"/>
<path fill="#6f6f6f" stroke="#6f6f6f" stroke-width=".6" d="M456.4 153.7 457 153.4 488.2 135.4 487.6 135.7z"/>
<path fill="none" stroke="#4a4a4a" stroke-width=".80" d="M457 153.4 488.2 135.4M494.7 213.2 525.9 195.2"/>
<path fill="#636363" stroke="#636363" stroke-width=".6" d="M495.4 212.9 494.7 213.2 525.9 195.2 526.6 194.9z"/>
<path fill="none" stroke="#4a4a4a" stroke-width=".80" d="M456.7 146.2 487.8 128.2M495.4 212.9 526.6 194.9"/>
<path fill="#6f6f6f" stroke="#6f6f6f" stroke-width=".6" d="M456.7 146.2 457.4 145.8 488.5 127.8 487.8 128.2z"/>
<path fill="#696969" stroke="#696969" stroke-width=".6" d="M495.9 212.2 495.4 212.9 526.6 194.9 527.1 194.2z"/>
<path fill="none" stroke="#4a4a4a" stroke-width=".80" d="M457.4 145.8 488.5 127.8M495.9 212.2 527.1 194.2"/>
<path fill="#818181" stroke="#818181" stroke-width=".6" d="M457.4 145.8 458.2 145.8 489.4 127.8 488.5 127.8z"/>
<path fill="#eaeaea" stroke="#eaeaea" stroke-width=".6" d="M494.8 209 495.9 212.2 527.1 194.2 525.9 191z"/>
<path fill="none" stroke="#4a4a4a" stroke-width=".80" d="M458.2 145.8 489.4 127.8"/>
<path fill="#f0f0f0" stroke="#f0f0f0" stroke-width=".6" d="M458.2 145.8 460.3 148.4 491.5 130.4 489.4 127.8z"/>
<path fill="#e4e4e4" stroke="#e4e4e4" stroke-width=".6" d="M494 206.7 494.8 209 525.9 191 525.2 188.7z"/>
<path fill="none" stroke="#4a4a4a" stroke-width=".80" d="M494 206.7 525.2 188.7"/>
<path fill="#f0f0f0" stroke="#f0f0f0" stroke-width=".6" d="M460.3 148.4 462 150.2 493.2 132.2 491.5 130.4z"/>
<path fill="#6f6f6f" stroke="#6f6f6f" stroke-width=".6" d="M494.4 206 494 206.7 525.2 188.7 525.6 188z"/>
<path fill="none" stroke="#4a4a4a" stroke-width=".80" d="M462 150.2 493.2 132.2M494.4 206 525.6 188"/>
<path fill="#878787" stroke="#878787" stroke-width=".6" d="M462 150.2 462.7 150.2 493.9 132.2 493.2 132.2z"/>
<path fill="none" stroke="#4a4a4a" stroke-width=".80" d="M462.7 150.2 493.9 132.2"/>
<path fill="#6f6f6f" stroke="#6f6f6f" stroke-width=".6" d="M462.7 150.2 463.3 149.9 494.5 131.9 493.9 132.2z"/>
<path fill="none" stroke="#4a4a4a" stroke-width=".80" d="M463.3 149.9 494.5 131.9M499.2 208.8 530.4 190.8"/>
<path fill="#636363" stroke="#636363" stroke-width=".6" d="M499.8 208.3 499.2 208.8 530.4 190.8 531 190.3z"/>
<path fill="none" stroke="#4a4a4a" stroke-width=".80" d="M462.9 144.8 494.1 126.8M499.8 208.3 531 190.3"/>
<path fill="#6f6f6f" stroke="#6f6f6f" stroke-width=".6" d="M462.9 144.8 463.6 144.5 494.8 126.5 494.1 126.8zM500.3 207.6 499.8 208.3 531 190.3 531.5 189.6z"/>
<path fill="none" stroke="#4a4a4a" stroke-width=".80" d="M463.6 144.5 494.8 126.5"/>
<path fill="#848484" stroke="#848484" stroke-width=".6" d="M463.6 144.5 464.5 144.5 495.7 126.5 494.8 126.5z"/>
<path fill="#727272" stroke="#727272" stroke-width=".6" d="M500.7 206.8 500.3 207.6 531.5 189.6 531.9 188.8z"/>
<path fill="none" stroke="#4a4a4a" stroke-width=".80" d="M500.7 206.8 531.9 188.8"/>
<path fill="#878787" stroke="#878787" stroke-width=".6" d="M464.5 144.5 465.4 144.6 496.5 126.6 495.7 126.5z"/>
<path fill="#969696" stroke="#969696" stroke-width=".6" d="M500.8 205.8 500.7 206.8 531.9 188.8 532 187.8z"/>
<path fill="none" stroke="#4a4a4a" stroke-width=".80" d="M465.4 144.6 496.5 126.6"/>
<path fill="#f0f0f0" stroke="#f0f0f0" stroke-width=".6" d="M497.8 200.6 499 202.8 530.2 184.8 528.9 182.6z"/>
<path fill="none" stroke="#4a4a4a" stroke-width=".80" d="M497.8 200.6 528.9 182.6"/>
<path fill="#f0f0f0" stroke="#f0f0f0" stroke-width=".6" d="M499 202.8 500.8 205.8 532 187.8 530.2 184.8z"/>
<path fill="none" stroke="#4a4a4a" stroke-width=".80" d="M500.8 205.8 532 187.8"/>
<path fill="#ababab" stroke="#ababab" stroke-width=".6" d="M465.4 144.6 466.3 145 497.5 127 496.5 126.6z"/>
<path fill="#9f9f9f" stroke="#9f9f9f" stroke-width=".6" d="M497.9 199.7 497.8 200.6 528.9 182.6 529 181.7z"/>
<path fill="none" stroke="#4a4a4a" stroke-width=".80" d="M469.2 150.3 500.4 132.3"/>
<path fill="#f0f0f0" stroke="#f0f0f0" stroke-width=".6" d="M467.9 148 469.2 150.3 500.4 132.3 499.1 130zM466.3 145 467.9 148 499.1 130 497.5 127z"/>
<path fill="none" stroke="#4a4a4a" stroke-width=".80" d="M497.9 199.7 529 181.7M466.3 145 497.5 127"/>
<path fill="#b1b1b1" stroke="#b1b1b1" stroke-width=".6" d="M469.2 150.3 470 150.7 501.2 132.7 500.4 132.3z"/>
<path fill="#727272" stroke="#727272" stroke-width=".6" d="M498.2 199 497.9 199.7 529 181.7 529.4 181z"/>
<path fill="none" stroke="#4a4a4a" stroke-width=".80" d="M470 150.7 501.2 132.7M498.2 199 529.4 181"/>
<path fill="#878787" stroke="#878787" stroke-width=".6" d="M470 150.7 470.8 150.7 502 132.7 501.2 132.7z"/>
<path fill="none" stroke="#4a4a4a" stroke-width=".80" d="M470.8 150.7 502 132.7M502.4 200.4 533.5 182.4"/>
<path fill="#787878" stroke="#787878" stroke-width=".6" d="M502.7 199.5 502.4 200.4 533.5 182.4 533.9 181.5z"/>
<path fill="none" stroke="#4a4a4a" stroke-width=".80" d="M471.8 146.5 503 128.5M502.7 199.5 533.9 181.5"/>
<path fill="#8d8d8d" stroke="#8d8d8d" stroke-width=".6" d="M471.8 146.5 472.7 146.7 503.9 128.7 503 128.5z"/>
<path fill="#9f9f9f" stroke="#9f9f9f" stroke-width=".6" d="M502.8 198.5 502.7 199.5 533.9 181.5 534 180.5z"/>
<path fill="none" stroke="#4a4a4a" stroke-width=".80" d="M498.9 192 530 174M472.7 146.7 503.9 128.7"/>
<path fill="#d2d2d2" stroke="#d2d2d2" stroke-width=".6" d="M498.7 191 498.9 192 530 174 529.8 173z"/>
<path fill="#f0f0f0" stroke="#f0f0f0" stroke-width=".6" d="M498.9 192 500.5 193.9 531.7 175.9 530 174z"/>
<path fill="none" stroke="#4a4a4a" stroke-width=".80" d="M477.2 153.9 508.4 135.9"/>
<path fill="#b1b1b1" stroke="#b1b1b1" stroke-width=".6" d="M472.7 146.7 473.7 147.1 504.8 129.1 503.9 128.7z"/>
<path fill="none" stroke="#4a4a4a" stroke-width=".80" d="M498.7 191 529.8 173"/>
<path fill="#dedede" stroke="#dedede" stroke-width=".6" d="M477.2 153.9 478 154.6 509.2 136.6 508.4 135.9z"/>
<path fill="#a2a2a2" stroke="#a2a2a2" stroke-width=".6" d="M502.9 197.5 502.8 198.5 534 180.5 534.1 179.5z"/>
<path fill="#e7e7e7" stroke="#e7e7e7" stroke-width=".6" d="M476.4 151.5 477.2 153.9 508.4 135.9 507.6 133.5z"/>
<path fill="#a2a2a2" stroke="#a2a2a2" stroke-width=".6" d="M498.7 190.1 498.7 191 529.8 173 529.9 172.1z"/>
<path fill="none" stroke="#4a4a4a" stroke-width=".80" d="M478 154.6 509.2 136.6M502.9 197.5 534.1 179.5M498.7 190.1 529.9 172.1"/>
<path fill="#eaeaea" stroke="#eaeaea" stroke-width=".6" d="M500.5 193.9 502.7 196.3 533.9 178.3 531.7 175.9z"/>
<path fill="#b4b4b4" stroke="#b4b4b4" stroke-width=".6" d="M478 154.6 478.8 155 510 137 509.2 136.6zM473.7 147.1 474.6 147.6 505.8 129.6 504.8 129.1z"/>
<path fill="#c9c9c9" stroke="#c9c9c9" stroke-width=".6" d="M502.7 196.3 502.9 197.5 534.1 179.5 533.9 178.3z"/>
<path fill="none" stroke="#4a4a4a" stroke-width=".80" d="M478.8 155 510 137M474.6 147.6 505.8 129.6M502.7 196.3 533.9 178.3"/>
<path fill="#e1e1e1" stroke="#e1e1e1" stroke-width=".6" d="M475.6 148.4 476.4 151.5 507.6 133.5 506.7 130.4z"/>
<path fill="#d8d8d8" stroke="#d8d8d8" stroke-width=".6" d="M474.6 147.6 475.6 148.4 506.7 130.4 505.8 129.6z"/>
<path fill="none" stroke="#4a4a4a" stroke-width=".80" d="M475.6 148.4 506.7 130.4M497.1 181.9 528.3 163.9"/>
<path fill="#f0f0f0" stroke="#f0f0f0" stroke-width=".6" d="M496.7 180.9 497.1 181.9 528.3 163.9 527.9 162.9z"/>
<path fill="none" stroke="#4a4a4a" stroke-width=".80" d="M496.7 180.9 527.9 162.9M485 160.6 516.2 142.6"/>
<path fill="#f0f0f0" stroke="#f0f0f0" stroke-width=".6" d="M485 160.6 485.7 161.5 516.9 143.5 516.2 142.6z"/>
<path fill="none" stroke="#4a4a4a" stroke-width=".80" d="M485.7 161.5 516.9 143.5"/>
<path fill="#d2d2d2" stroke="#d2d2d2" stroke-width=".6" d="M496.5 179.9 496.7 180.9 527.9 162.9 527.7 161.9z"/>
<path fill="#e1e1e1" stroke="#e1e1e1" stroke-width=".6" d="M485.7 161.5 486.5 162.2 517.7 144.2 516.9 143.5z"/>
<path fill="none" stroke="#4a4a4a" stroke-width=".80" d="M496.5 179.9 527.7 161.9"/>
<path fill="#cccccc" stroke="#cccccc" stroke-width=".6" d="M497.1 181.9 499 183.2 530.1 165.2 528.3 163.9z"/>
<path fill="none" stroke="#4a4a4a" stroke-width=".80" d="M486.5 162.2 517.7 144.2"/>
<path fill="#bababa" stroke="#bababa" stroke-width=".6" d="M484.9 158.4 485 160.6 516.2 142.6 516.1 140.4z"/>
<path fill="none" stroke="#4a4a4a" stroke-width=".80" d="M502.3 189.5 533.5 171.5"/>
<path fill="#ababab" stroke="#ababab" stroke-width=".6" d="M502.4 188.4 502.3 189.5 533.5 171.5 533.5 170.4z"/>
<path fill="none" stroke="#4a4a4a" stroke-width=".80" d="M481.2 152.3 512.4 134.3"/>
<path fill="#636363" stroke="#636363" stroke-width=".6" d="M497.5 178.7 496.5 179.9 527.7 161.9 528.7 160.7z"/>
<path fill="none" stroke="#4a4a4a" stroke-width=".80" d="M502.4 188.4 533.5 170.4"/>
<path fill="#bdbdbd" stroke="#bdbdbd" stroke-width=".6" d="M481.2 152.3 482.2 152.8 513.4 134.8 512.4 134.3z"/>
<path fill="none" stroke="#4a4a4a" stroke-width=".80" d="M492.2 170.7 523.4 152.7"/>
<path fill="#787878" stroke="#787878" stroke-width=".6" d="M486.5 162.2 488 161.9 519.2 143.9 517.7 144.2z"/>
<path fill="#f0f0f0" stroke="#f0f0f0" stroke-width=".6" d="M492.2 170.7 492.8 171.6 524 153.6 523.4 152.7zM491.7 169.6 492.2 170.7 523.4 152.7 522.9 151.6z"/>
<path fill="none" stroke="#4a4a4a" stroke-width=".80" d="M492.8 171.6 524 153.6M491.7 169.6 522.9 151.6"/>
<path fill="#cfcfcf" stroke="#cfcfcf" stroke-width=".6" d="M502.1 187.2 502.4 188.4 533.5 170.4 533.3 169.2z"/>
<path fill="none" stroke="#4a4a4a" stroke-width=".80" d="M482.2 152.8 513.4 134.8"/>
<path fill="#c3c3c3" stroke="#c3c3c3" stroke-width=".6" d="M499 183.2 501.4 184.7 532.6 166.7 530.1 165.2z"/>
<path fill="#dedede" stroke="#dedede" stroke-width=".6" d="M482.2 152.8 483.1 153.6 514.3 135.6 513.4 134.8z"/>
<path fill="#b1b1b1" stroke="#b1b1b1" stroke-width=".6" d="M484.8 155.6 484.9 158.4 516.1 140.4 516 137.6z"/>
<path fill="#d5d5d5" stroke="#d5d5d5" stroke-width=".6" d="M501.9 186 502.1 187.2 533.3 169.2 533.1 168z"/>
<path fill="none" stroke="#4a4a4a" stroke-width=".80" d="M501.9 186 533.1 168"/>
<path fill="#9c9c9c" stroke="#9c9c9c" stroke-width=".6" d="M492.8 171.6 494.6 172.1 525.8 154.1 524 153.6z"/>
<path fill="#878787" stroke="#878787" stroke-width=".6" d="M492.2 167.9 491.7 169.6 522.9 151.6 523.4 149.9z"/>
<path fill="#e1e1e1" stroke="#e1e1e1" stroke-width=".6" d="M483.1 153.6 484 154.5 515.2 136.5 514.3 135.6z"/>
<path fill="#f0f0f0" stroke="#f0f0f0" stroke-width=".6" d="M501.4 184.7 501.9 186 533.1 168 532.6 166.7z"/>
<path fill="none" stroke="#4a4a4a" stroke-width=".80" d="M501.4 184.7 532.6 166.7M484 154.5 515.2 136.5"/>
<path fill="#f0f0f0" stroke="#f0f0f0" stroke-width=".6" d="M484 154.5 484.8 155.6 516 137.6 515.2 136.5z"/>
<path fill="none" stroke="#4a4a4a" stroke-width=".80" d="M484.8 155.6 516 137.6"/>
<path fill="#636363" stroke="#636363" stroke-width=".6" d="M499.1 177.4 497.5 178.7 528.7 160.7 530.2 159.4z"/>
<path fill="#727272" stroke="#727272" stroke-width=".6" d="M488 161.9 489.9 161.3 521.1 143.3 519.2 143.9z"/>
<path fill="#939393" stroke="#939393" stroke-width=".6" d="M494.6 172.1 496.9 172.6 528.1 154.6 525.8 154.1z"/>
<path fill="#7e7e7e" stroke="#7e7e7e" stroke-width=".6" d="M493 165.7 492.2 167.9 523.4 149.9 524.2 147.7z"/>
<path fill="none" stroke="#4a4a4a" stroke-width=".80" d="M499.1 177.4 530.2 159.4M489.9 161.3 521.1 143.3"/>
<path fill="#dbdbdb" stroke="#dbdbdb" stroke-width=".6" d="M498.8 176.2 499.1 177.4 530.2 159.4 529.9 158.2z"/>
<path fill="#e7e7e7" stroke="#e7e7e7" stroke-width=".6" d="M489.9 161.3 490.8 162.2 522 144.2 521.1 143.3z"/>
<path fill="none" stroke="#4a4a4a" stroke-width=".80" d="M498.8 176.2 529.9 158.2"/>
<path fill="#f0f0f0" stroke="#f0f0f0" stroke-width=".6" d="M498.2 175 498.8 176.2 529.9 158.2 529.4 157z"/>
<path fill="none" stroke="#4a4a4a" stroke-width=".80" d="M490.8 162.2 522 144.2"/>
<path fill="#f0f0f0" stroke="#f0f0f0" stroke-width=".6" d="M490.8 162.2 491.6 163.3 522.8 145.3 522 144.2z"/>
<path fill="none" stroke="#4a4a4a" stroke-width=".80" d="M496.9 172.6 528.1 154.6"/>
<path fill="#f0f0f0" stroke="#f0f0f0" stroke-width=".6" d="M497.7 173.8 498.2 175 529.4 157 528.9 155.8zM496.9 172.6 497.7 173.8 528.9 155.8 528.1 154.6z"/>
<path fill="none" stroke="#4a4a4a" stroke-width=".80" d="M493 165.7 524.2 147.7M497.7 173.8 528.9 155.8"/>
<path fill="#f0f0f0" stroke="#f0f0f0" stroke-width=".6" d="M491.6 163.3 492.4 164.4 523.6 146.4 522.8 145.3zM492.4 164.4 493 165.7 524.2 147.7 523.6 146.4z"/>
<path fill="none" stroke="#4a4a4a" stroke-width=".80" d="M492.4 164.4 523.6 146.4"/>
</g>
<clipPath id="c22"><path d="M459.2 170.2 459.4 167.3 460.1 164.8 461 162.6 462.4 160.8 464.1 159.5 466 158.7 468.2 158.5 470.6 158.7 473.1 159.4 475.7 160.7 478.3 162.4 480.8 164.6 483.2 167.1 485.4 169.9 487.3 173 489 176.2 490.4 179.5 491.3 182.9 492 186.1 492.2 189.2 492 192.1 491.3 194.6 490.4 196.8 489 198.6 487.3 199.9 485.4 200.7 483.2 200.9 480.8 200.7 478.3 200 475.7 198.7 473.1 197 470.6 194.8 468.2 192.3 466 189.5 464.1 186.4 462.4 183.2 461 179.9 460.1 176.5 459.4 173.3z"/></clipPath>
<g clip-path="url(#c22)">
<path fill="#fff" d="M459.2 170.2 459.4 167.3 460.1 164.8 461 162.6 462.4 160.8 464.1 159.5 466 158.7 468.2 158.5 470.6 158.7 473.1 159.4 475.7 160.7 478.3 162.4 480.8 164.6 483.2 167.1 485.4 169.9 487.3 173 489 176.2 490.4 179.5 491.3 182.9 492 186.1 492.2 189.2 492 192.1 491.3 194.6 490.4 196.8 489 198.6 487.3 199.9 485.4 200.7 483.2 200.9 480.8 200.7 478.3 200 475.7 198.7 473.1 197 470.6 194.8 468.2 192.3 466 189.5 464.1 186.4 462.4 183.2 461 179.9 460.1 176.5 459.4 173.3z"/>
<g stroke-width=".7" stroke-linejoin="round">
<path fill="#f0f0f0" stroke="#f0f0f0" d="M466 189.5 464.1 186.4 495.2 168.4 497.2 171.5zM464.1 186.4 462.4 183.2 493.6 165.2 495.2 168.4zM462.4 183.2 461 179.9 492.2 161.9 493.6 165.2zM468.2 192.3 466 189.5 497.2 171.5 499.4 174.3z"/>
<path fill="#e4e4e4" stroke="#e4e4e4" d="M461 179.9 460.1 176.5 491.2 158.5 492.2 161.9z"/>
<path fill="#eaeaea" stroke="#eaeaea" d="M470.6 194.8 468.2 192.3 499.4 174.3 501.8 176.8z"/>
<path fill="#dbdbdb" stroke="#dbdbdb" d="M473.1 197 470.6 194.8 501.8 176.8 504.3 179z"/>
<path fill="#cfcfcf" stroke="#cfcfcf" d="M460.1 176.5 459.4 173.3 490.6 155.3 491.2 158.5z"/>
<path fill="#bababa" stroke="#bababa" d="M459.4 173.3 459.2 170.2 490.4 152.2 490.6 155.3z"/>
<path fill="#c9c9c9" stroke="#c9c9c9" d="M475.7 198.7 473.1 197 504.3 179 506.9 180.7z"/>
<path fill="#a2a2a2" stroke="#a2a2a2" d="M459.2 170.2 459.4 167.3 490.6 149.3 490.4 152.2z"/>
<path fill="#b1b1b1" stroke="#b1b1b1" d="M478.3 200 475.7 198.7 506.9 180.7 509.5 182z"/>
<path fill="#8d8d8d" stroke="#8d8d8d" d="M459.4 167.3 460.1 164.8 491.2 146.8 490.6 149.3z"/>
<path fill="#9c9c9c" stroke="#9c9c9c" d="M480.8 200.7 478.3 200 509.5 182 512 182.7z"/>
<path fill="#787878" stroke="#787878" d="M460.1 164.8 461 162.6 492.2 144.6 491.2 146.8z"/>
<path fill="#8a8a8a" stroke="#8a8a8a" d="M483.2 200.9 480.8 200.7 512 182.7 514.3 182.9z"/>
<path fill="#666666" stroke="#666666" d="M461 162.6 462.4 160.8 493.6 142.8 492.2 144.6z"/>
<path fill="#7b7b7b" stroke="#7b7b7b" d="M485.4 200.7 483.2 200.9 514.3 182.9 516.5 182.7z"/>
<path fill="#636363" stroke="#636363" d="M462.4 160.8 464.1 159.5 495.2 141.5 493.6 142.8z"/>
<path fill="#6f6f6f" stroke="#6f6f6f" d="M487.3 199.9 485.4 200.7 516.5 182.7 518.5 181.9z"/>
</g>
</g>
<path d="M448.6 160.9 448.7 159.9 449 159 451.4 159.9 453.2 160.4 453.5 159.7 453.6 158.8 452.4 156.6 450.6 153.6 450.7 152.6 451.1 151.8 451.6 151.1 452.2 150.6 454.6 152.5 456.4 153.7 457 153.4 457.4 152.7 456.6 150.4 455.5 147.2 456 146.5 456.7 146.2 457.4 145.8 458.2 145.8 460.3 148.4 462 150.2 462.7 150.2 463.3 149.9 463.2 147.8 462.9 144.8 463.6 144.5 464.5 144.5 465.4 144.6 466.3 145 467.9 148 469.2 150.3 470 150.7 470.8 150.7 471.3 149 471.8 146.5 472.7 146.7 473.7 147.1 474.6 147.6 475.6 148.4 476.4 151.5 477.2 153.9 478 154.6 478.8 155 479.9 153.9 481.2 152.3 482.2 152.8 483.1 153.6 484 154.5 484.8 155.6 484.9 158.4 485 160.6 485.7 161.5 486.5 162.2 488 161.9 489.9 161.3 490.8 162.2 491.6 163.3 492.4 164.4 493 165.7 492.2 167.9 491.7 169.6 492.2 170.7 492.8 171.6 494.6 172.1 496.9 172.6 497.7 173.8 498.2 175 498.8 176.2 499.1 177.4 497.5 178.7 496.5 179.9 496.7 180.9 497.1 181.9 499 183.2 501.4 184.7 501.9 186 502.1 187.2 502.4 188.4 502.3 189.5 500.2 189.7 498.7 190.1 498.7 191 498.9 192 500.5 193.9 502.7 196.3 502.9 197.5 502.8 198.5 502.7 199.5 502.4 200.4 500 199.5 498.2 199 497.9 199.7 497.8 200.6 499 202.8 500.8 205.8 500.7 206.8 500.3 207.6 499.8 208.3 499.2 208.8 496.8 206.9 495 205.7 494.4 206 494 206.7 494.8 209 495.9 212.2 495.4 212.9 494.7 213.2 494 213.6 493.2 213.6 491.1 211 489.4 209.2 488.7 209.2 488.1 209.5 488.2 211.6 488.5 214.6 487.8 214.9 486.9 214.9 486 214.8 485.1 214.4 483.5 211.4 482.2 209.1 481.4 208.7 480.6 208.7 480.1 210.4 479.6 212.9 478.7 212.7 477.7 212.3 476.8 211.8 475.8 211 475 207.9 474.2 205.5 473.4 204.8 472.6 204.4 471.5 205.5 470.2 207.1 469.2 206.6 468.3 205.8 467.4 204.9 466.6 203.8 466.5 201 466.4 198.8 465.7 197.9 464.9 197.2 463.4 197.5 461.5 198.1 460.6 197.2 459.8 196.1 459 195 458.4 193.7 459.2 191.5 459.7 189.8 459.2 188.7 458.6 187.8 456.8 187.3 454.5 186.8 453.7 185.6 453.2 184.4 452.6 183.2 452.3 182 453.9 180.7 454.9 179.5 454.7 178.5 454.3 177.5 452.4 176.2 450 174.7 449.5 173.4 449.3 172.2 449 171 449.1 169.9 451.2 169.7 452.7 169.3 452.7 168.4 452.5 167.4 450.9 165.5 448.7 163.1 448.5 161.9zM459.2 170.2 459.4 167.3 460.1 164.8 461 162.6 462.4 160.8 464.1 159.5 466 158.7 468.2 158.5 470.6 158.7 473.1 159.4 475.7 160.7 478.3 162.4 480.8 164.6 483.2 167.1 485.4 169.9 487.3 173 489 176.2 490.4 179.5 491.3 182.9 492 186.1 492.2 189.2 492 192.1 491.3 194.6 490.4 196.8 489 198.6 487.3 199.9 485.4 200.7 483.2 200.9 480.8 200.7 478.3 200 475.7 198.7 473.1 197 470.6 194.8 468.2 192.3 466 189.5 464.1 186.4 462.4 183.2 461 179.9 460.1 176.5 459.4 173.3z" fill="#eeeeee" fill-rule="evenodd" stroke="#404040" stroke-width="1.1" stroke-linejoin="round"/>
<g stroke-width=".7" stroke-linejoin="round">
<path fill="#9c9c9c" stroke="#9c9c9c" d="M540 202.2 539.3 201.1 532.4 197.1 533 198.2z"/>
<path fill="#ababab" stroke="#ababab" d="M545 191.3 546.2 191.3 539.3 187.3 538.1 187.3z"/>
<path fill="#bababa" stroke="#bababa" d="M539.3 201.1 539.1 199.6 532.2 195.6 532.4 197.1z"/>
<path fill="#c3c3c3" stroke="#c3c3c3" d="M543.6 191.8 545 191.3 538.1 187.3 536.7 187.8z"/>
<path fill="#d8d8d8" stroke="#d8d8d8" d="M539.1 199.6 539.3 197.9 532.4 193.9 532.2 195.6z"/>
<path fill="#e1e1e1" stroke="#e1e1e1" d="M542.2 192.9 543.6 191.8 536.7 187.8 535.3 188.9z"/>
<path fill="#f0f0f0" stroke="#f0f0f0" d="M539.3 197.9 540 196 533 192 532.4 193.9z"/>
<path fill="#f6f6f6" stroke="#f6f6f6" d="M541 194.3 542.2 192.9 535.3 188.9 534 190.3zM540 196 541 194.3 534 190.3 533 192z"/>
</g>
<clipPath id="c23"><path d="M541.3 198.3 541.5 197.2 542 196.1 542.7 195.1 543.6 194.4 544.5 194.1 545.2 194.2 545.7 194.8 545.9 195.7 545.7 196.8 545.2 197.9 544.5 198.9 543.6 199.6 542.7 199.9 542 199.8 541.5 199.2z"/></clipPath>
<g clip-path="url(#c23)">
<path fill="#fff" d="M541.3 198.3 541.5 197.2 542 196.1 542.7 195.1 543.6 194.4 544.5 194.1 545.2 194.2 545.7 194.8 545.9 195.7 545.7 196.8 545.2 197.9 544.5 198.9 543.6 199.6 542.7 199.9 542 199.8 541.5 199.2z"/>
<g stroke-width=".7" stroke-linejoin="round">
<path fill="#f6f6f6" stroke="#f6f6f6" d="M545.7 196.8 545.2 197.9 542.6 196.4 543.1 195.3zM545.2 197.9 544.5 198.9 541.9 197.4 542.6 196.4z"/>
<path fill="#dbdbdb" stroke="#dbdbdb" d="M545.9 195.7 545.7 196.8 543.1 195.3 543.3 194.2z"/>
<path fill="#e4e4e4" stroke="#e4e4e4" d="M544.5 198.9 543.6 199.6 541 198.1 541.9 197.4z"/>
<path fill="#b4b4b4" stroke="#b4b4b4" d="M545.7 194.8 545.9 195.7 543.3 194.2 543.1 193.3z"/>
<path fill="#c0c0c0" stroke="#c0c0c0" d="M543.6 199.6 542.7 199.9 540.1 198.4 541 198.1z"/>
<path fill="#969696" stroke="#969696" d="M545.2 194.2 545.7 194.8 543.1 193.3 542.6 192.7z"/>
<path fill="#a2a2a2" stroke="#a2a2a2" d="M542.7 199.9 542 199.8 539.4 198.3 540.1 198.4z"/>
</g>
<path fill="#d8d8d8" stroke="#555" stroke-width=".6" d="M538.8 196.8 538.9 195.7 539.4 194.6 540.1 193.6 541 192.9 541.9 192.6 542.6 192.7 543.1 193.3 543.3 194.2 543.1 195.3 542.6 196.4 541.9 197.4 541 198.1 540.1 198.4 539.4 198.3 538.9 197.7z"/>
</g>
<path d="M539.1 199.6 539.3 197.9 540 196 541 194.3 542.2 192.9 543.6 191.8 545 191.3 546.2 191.3 547.2 191.8 547.9 192.9 548.1 194.4 547.9 196.1 547.2 198 546.2 199.7 545 201.1 543.6 202.2 542.2 202.7 541 202.7 540 202.2 539.3 201.1zM541.3 198.3 541.5 197.2 542 196.1 542.7 195.1 543.6 194.4 544.5 194.1 545.2 194.2 545.7 194.8 545.9 195.7 545.7 196.8 545.2 197.9 544.5 198.9 543.6 199.6 542.7 199.9 542 199.8 541.5 199.2z" fill="#cfcfcf" fill-rule="evenodd" stroke="#3a3a3a" stroke-width="1.1" stroke-linejoin="round"/>
<path fill="none" stroke="#3a3a3a" stroke-width="1.1" stroke-linejoin="round" d="M532.2 195.6 532.4 193.9 533 192.1 534 190.3 535.3 188.9 536.7 187.8 538.1 187.2 539.3 187.3 546.2 191.3 547.2 191.8 547.9 192.9 548.1 194.4 547.9 196.1 547.2 197.9 546.2 199.7 545 201.1 543.6 202.2 542.2 202.8 541 202.7 534 198.7 533 198.2 532.4 197.1z"/>
<g stroke-width=".7" stroke-linejoin="round">
<path fill="#8d8d8d" stroke="#8d8d8d" d="M577.2 310.1 575.7 311.4 602.5 295.9 604.1 294.6z"/>
<path fill="#969696" stroke="#969696" d="M555.3 275.1 557.3 274.6 584.2 259.1 582.2 259.6z"/>
<path fill="#909090" stroke="#909090" d="M578.5 308.2 577.2 310.1 604.1 294.6 605.3 292.7z"/>
<path fill="#9f9f9f" stroke="#9f9f9f" d="M557.3 274.6 559.6 274.6 586.4 259.1 584.2 259.1zM579.3 306 578.5 308.2 605.3 292.7 606.1 290.5z"/>
<path fill="#aeaeae" stroke="#aeaeae" d="M559.6 274.6 561.9 275.1 588.8 259.6 586.4 259.1zM579.7 303.4 579.3 306 606.1 290.5 606.6 287.9z"/>
<path fill="#bdbdbd" stroke="#bdbdbd" d="M561.9 275.1 564.4 276.2 591.3 260.7 588.8 259.6z"/>
<path fill="#c0c0c0" stroke="#c0c0c0" d="M579.7 300.5 579.7 303.4 606.6 287.9 606.6 285z"/>
<path fill="#cccccc" stroke="#cccccc" d="M564.4 276.2 566.9 277.7 593.8 262.2 591.3 260.7z"/>
<path fill="#cfcfcf" stroke="#cfcfcf" d="M579.3 297.4 579.7 300.5 606.6 285 606.1 281.9z"/>
<path fill="#dbdbdb" stroke="#dbdbdb" d="M566.9 277.7 569.4 279.7 596.2 264.2 593.8 262.2z"/>
<path fill="#dedede" stroke="#dedede" d="M578.5 294.2 579.3 297.4 606.1 281.9 605.3 278.7z"/>
<path fill="#e7e7e7" stroke="#e7e7e7" d="M569.4 279.7 571.7 282.1 598.5 266.6 596.2 264.2z"/>
<path fill="#eaeaea" stroke="#eaeaea" d="M577.2 291 578.5 294.2 605.3 278.7 604.1 275.5zM571.7 282.1 573.8 284.9 600.7 269.4 598.5 266.6zM575.7 287.9 577.2 291 604.1 275.5 602.5 272.4zM573.8 284.9 575.7 287.9 602.5 272.4 600.7 269.4z"/>
</g>
<path d="M550.3 285 550.5 282.2 551.2 279.8 552.2 277.8 553.6 276.2 555.3 275.1 557.3 274.6 559.6 274.6 561.9 275.1 564.4 276.2 566.9 277.7 569.4 279.7 571.7 282.1 573.8 284.9 575.7 287.9 577.2 291 578.5 294.2 579.3 297.4 579.7 300.5 579.7 303.4 579.3 306 578.5 308.2 577.2 310.1 575.7 311.4 573.8 312.2 571.7 312.5 569.4 312.2 566.9 311.4 564.4 310.1 561.9 308.3 559.6 306.1 557.3 303.5 555.3 300.6 553.6 297.6 552.2 294.4 551.2 291.1 550.5 288z" fill="#eeeeee" fill-rule="evenodd" stroke="#3a3a3a" stroke-width=".80" stroke-linejoin="round"/>
<path fill="none" stroke="#3a3a3a" stroke-width=".80" stroke-linejoin="round" d="M550.3 285 550.5 282.2 551.2 279.8 552.2 277.8 553.6 276.2 555.3 275.1 582.2 259.6 584.2 259.1 586.4 259.1 588.8 259.6 591.3 260.6 593.8 262.2 596.2 264.2 598.5 266.6 600.6 269.4 602.5 272.4 604.1 275.5 605.3 278.7 606.1 281.9 606.6 285 606.6 287.9 606.1 290.5 605.3 292.8 604.1 294.6 602.5 295.9 575.7 311.4 573.8 312.2 571.7 312.5 569.4 312.2 566.9 311.4 564.4 310.1 562 308.3 559.6 306.1 557.3 303.5 555.3 300.6 553.6 297.6 552.2 294.4 551.2 291.1 550.5 288z"/>
<g stroke-width=".7" stroke-linejoin="round">
<path fill="#969696" stroke="#969696" d="M536.7 294.3 538.6 293.7 560.3 281.2 558.3 281.8z"/>
<path fill="#8d8d8d" stroke="#8d8d8d" d="M551.6 316.3 550.1 317.7 571.8 305.2 573.3 303.8z"/>
<path fill="#a5a5a5" stroke="#a5a5a5" d="M538.6 293.7 540.9 294 562.6 281.5 560.3 281.2z"/>
<path fill="#999999" stroke="#999999" d="M552.6 314.2 551.6 316.3 573.3 303.8 574.3 301.7z"/>
<path fill="#bdbdbd" stroke="#bdbdbd" d="M540.9 294 543.4 295 565.1 282.5 562.6 281.5z"/>
<path fill="#b1b1b1" stroke="#b1b1b1" d="M552.9 311.5 552.6 314.2 574.3 301.7 574.6 299z"/>
<path fill="#d5d5d5" stroke="#d5d5d5" d="M543.4 295 545.9 296.8 567.5 284.3 565.1 282.5z"/>
<path fill="#cccccc" stroke="#cccccc" d="M552.6 308.5 552.9 311.5 574.6 299 574.3 296z"/>
<path fill="#e7e7e7" stroke="#e7e7e7" d="M545.9 296.8 548.2 299.2 569.8 286.7 567.5 284.3z"/>
<path fill="#e1e1e1" stroke="#e1e1e1" d="M551.6 305.3 552.6 308.5 574.3 296 573.3 292.8z"/>
<path fill="#eaeaea" stroke="#eaeaea" d="M548.2 299.2 550.1 302.1 571.8 289.6 569.8 286.7zM550.1 302.1 551.6 305.3 573.3 292.8 571.8 289.6z"/>
</g>
<clipPath id="c24"><path d="M538.2 303 538.6 300.9 539.7 299.6 541.4 299.3 543.4 300 545.4 301.6 547.1 303.9 548.2 306.5 548.6 309 548.2 311.1 547.1 312.4 545.4 312.7 543.4 312 541.4 310.4 539.7 308.1 538.6 305.5z"/></clipPath>
<g clip-path="url(#c24)">
<path fill="#fff" d="M538.2 303 538.6 300.9 539.7 299.6 541.4 299.3 543.4 300 545.4 301.6 547.1 303.9 548.2 306.5 548.6 309 548.2 311.1 547.1 312.4 545.4 312.7 543.4 312 541.4 310.4 539.7 308.1 538.6 305.5z"/>
<g stroke-width=".7" stroke-linejoin="round">
<path fill="#eaeaea" stroke="#eaeaea" d="M539.7 308.1 538.6 305.5 543.8 302.5 544.9 305.1zM541.4 310.4 539.7 308.1 544.9 305.1 546.6 307.4z"/>
<path fill="#d2d2d2" stroke="#d2d2d2" d="M538.6 305.5 538.2 303 543.4 300 543.8 302.5z"/>
<path fill="#dbdbdb" stroke="#dbdbdb" d="M543.4 312 541.4 310.4 546.6 307.4 548.6 309z"/>
<path fill="#ababab" stroke="#ababab" d="M538.2 303 538.6 300.9 543.8 297.9 543.4 300z"/>
<path fill="#b7b7b7" stroke="#b7b7b7" d="M545.4 312.7 543.4 312 548.6 309 550.6 309.7z"/>
<path fill="#8d8d8d" stroke="#8d8d8d" d="M538.6 300.9 539.7 299.6 544.9 296.6 543.8 297.9z"/>
<path fill="#999999" stroke="#999999" d="M547.1 312.4 545.4 312.7 550.6 309.7 552.3 309.4z"/>
</g>
<path fill="#d8d8d8" stroke="#555" stroke-width=".6" d="M543.4 300 543.8 297.9 544.9 296.6 546.6 296.3 548.6 297 550.6 298.6 552.3 300.9 553.4 303.5 553.8 306 553.4 308.1 552.3 309.4 550.6 309.7 548.6 309 546.6 307.4 544.9 305.1 543.8 302.5z"/>
</g>
<path d="M533.9 300.5 534.2 297.8 535.1 295.7 536.7 294.3 538.6 293.7 540.9 294 543.4 295 545.9 296.8 548.2 299.2 550.1 302.1 551.6 305.3 552.6 308.5 552.9 311.5 552.6 314.2 551.6 316.3 550.1 317.7 548.2 318.3 545.9 318 543.4 317 540.9 315.2 538.6 312.8 536.7 309.9 535.1 306.7 534.2 303.5zM538.2 303 538.6 300.9 539.7 299.6 541.4 299.3 543.4 300 545.4 301.6 547.1 303.9 548.2 306.5 548.6 309 548.2 311.1 547.1 312.4 545.4 312.7 543.4 312 541.4 310.4 539.7 308.1 538.6 305.5z" fill="#eeeeee" fill-rule="evenodd" stroke="#3a3a3a" stroke-width=".80" stroke-linejoin="round"/>
<path fill="none" stroke="#3a3a3a" stroke-width=".80" stroke-linejoin="round" d="M533.9 300.5 534.2 297.8 535.1 295.7 536.7 294.3 558.3 281.8 560.3 281.2 562.6 281.4 565 282.5 567.5 284.3 569.8 286.7 571.8 289.6 573.3 292.8 574.2 296 574.6 299 574.2 301.7 573.3 303.8 571.8 305.2 550.1 317.7 548.2 318.3 545.9 318.1 543.4 317 540.9 315.2 538.6 312.8 536.7 309.9 535.1 306.7 534.2 303.5z"/>
<g stroke-width=".7" stroke-linejoin="round">
<path fill="#8d8d8d" stroke="#8d8d8d" d="M673 380.1 671.5 381.4 684.5 373.9 686 372.6z"/>
<path fill="#969696" stroke="#969696" d="M651.1 345.1 653.1 344.6 666.1 337.1 664.1 337.6z"/>
<path fill="#909090" stroke="#909090" d="M674.3 378.2 673 380.1 686 372.6 687.3 370.7z"/>
<path fill="#9f9f9f" stroke="#9f9f9f" d="M653.1 344.6 655.4 344.6 668.3 337.1 666.1 337.1zM675.1 376 674.3 378.2 687.3 370.7 688.1 368.5z"/>
<path fill="#aeaeae" stroke="#aeaeae" d="M655.4 344.6 657.7 345.1 670.7 337.6 668.3 337.1zM675.5 373.4 675.1 376 688.1 368.5 688.5 365.9z"/>
<path fill="#bdbdbd" stroke="#bdbdbd" d="M657.7 345.1 660.2 346.2 673.2 338.7 670.7 337.6z"/>
<path fill="#c0c0c0" stroke="#c0c0c0" d="M675.5 370.5 675.5 373.4 688.5 365.9 688.5 363z"/>
<path fill="#cccccc" stroke="#cccccc" d="M660.2 346.2 662.7 347.7 675.7 340.2 673.2 338.7z"/>
<path fill="#cfcfcf" stroke="#cfcfcf" d="M675.1 367.4 675.5 370.5 688.5 363 688.1 359.9z"/>
<path fill="#dbdbdb" stroke="#dbdbdb" d="M662.7 347.7 665.2 349.7 678.1 342.2 675.7 340.2z"/>
<path fill="#dedede" stroke="#dedede" d="M674.3 364.2 675.1 367.4 688.1 359.9 687.3 356.7z"/>
<path fill="#e7e7e7" stroke="#e7e7e7" d="M665.2 349.7 667.5 352.1 680.5 344.6 678.1 342.2z"/>
<path fill="#eaeaea" stroke="#eaeaea" d="M673 361 674.3 364.2 687.3 356.7 686 353.5zM667.5 352.1 669.6 354.9 682.6 347.4 680.5 344.6zM671.5 357.9 673 361 686 353.5 684.5 350.4zM669.6 354.9 671.5 357.9 684.5 350.4 682.6 347.4z"/>
</g>
<path d="M646.1 355 646.3 352.2 647 349.8 648 347.8 649.4 346.2 651.1 345.1 653.1 344.6 655.4 344.6 657.7 345.1 660.2 346.2 662.7 347.7 665.2 349.7 667.5 352.1 669.6 354.9 671.5 357.9 673 361 674.3 364.2 675.1 367.4 675.5 370.5 675.5 373.4 675.1 376 674.3 378.2 673 380.1 671.5 381.4 669.6 382.2 667.5 382.5 665.2 382.2 662.7 381.4 660.2 380.1 657.7 378.3 655.4 376.1 653.1 373.5 651.1 370.6 649.4 367.6 648 364.4 647 361.1 646.3 358z" fill="#eeeeee" fill-rule="evenodd" stroke="#3a3a3a" stroke-width=".80" stroke-linejoin="round"/>
<path fill="none" stroke="#3a3a3a" stroke-width=".80" stroke-linejoin="round" d="M646.1 355 646.3 352.2 647 349.8 648 347.8 649.4 346.2 651.1 345.1 664.1 337.6 666.1 337.1 668.4 337.1 670.7 337.6 673.2 338.6 675.7 340.2 678.1 342.2 680.5 344.6 682.6 347.4 684.5 350.4 686 353.5 687.2 356.7 688.1 359.9 688.5 363 688.5 365.9 688.1 368.5 687.2 370.8 686 372.6 684.5 373.9 671.5 381.4 669.6 382.2 667.5 382.5 665.2 382.2 662.7 381.4 660.2 380.1 657.8 378.3 655.4 376.1 653.1 373.5 651.1 370.6 649.4 367.6 648 364.4 647 361.1 646.3 358z"/>
<g stroke-width=".7" stroke-linejoin="round">
<path fill="#939393" stroke="#939393" d="M626.2 366.6 628.1 365.7 654.9 350.2 653.1 351.1z"/>
<path fill="#8d8d8d" stroke="#8d8d8d" d="M643.2 389.9 641.8 391.4 668.6 375.9 670 374.4z"/>
<path fill="#9f9f9f" stroke="#9f9f9f" d="M628.1 365.7 630.3 365.7 657.2 350.2 654.9 350.2z"/>
<path fill="#9c9c9c" stroke="#9c9c9c" d="M644.1 387.7 643.2 389.9 670 374.4 670.9 372.2z"/>
<path fill="#b1b1b1" stroke="#b1b1b1" d="M630.3 365.7 632.7 366.4 659.6 350.9 657.2 350.2z"/>
<path fill="#b4b4b4" stroke="#b4b4b4" d="M644.4 385 644.1 387.7 670.9 372.2 671.2 369.5z"/>
<path fill="#c9c9c9" stroke="#c9c9c9" d="M632.7 366.4 635.3 367.8 662.1 352.3 659.6 350.9z"/>
<path fill="#cccccc" stroke="#cccccc" d="M644.1 382 644.4 385 671.2 369.5 670.9 366.5z"/>
<path fill="#dedede" stroke="#dedede" d="M635.3 367.8 637.7 369.9 664.5 354.4 662.1 352.3z"/>
<path fill="#e1e1e1" stroke="#e1e1e1" d="M643.2 378.7 644.1 382 670.9 366.5 670 363.2z"/>
<path fill="#eaeaea" stroke="#eaeaea" d="M637.7 369.9 639.9 372.5 666.8 357 664.5 354.4zM641.8 375.5 643.2 378.7 670 363.2 668.6 360zM639.9 372.5 641.8 375.5 668.6 360 666.8 357z"/>
</g>
<clipPath id="c25"><path d="M628.8 376 629.2 373.9 630.3 372.6 632 372.3 634 373 636 374.6 637.7 376.9 638.8 379.5 639.2 382 638.8 384.1 637.7 385.4 636 385.7 634 385 632 383.4 630.3 381.1 629.2 378.5z"/></clipPath>
<g clip-path="url(#c25)">
<path fill="#fff" d="M628.8 376 629.2 373.9 630.3 372.6 632 372.3 634 373 636 374.6 637.7 376.9 638.8 379.5 639.2 382 638.8 384.1 637.7 385.4 636 385.7 634 385 632 383.4 630.3 381.1 629.2 378.5z"/>
<g stroke-width=".7" stroke-linejoin="round">
<path fill="#eaeaea" stroke="#eaeaea" d="M630.3 381.1 629.2 378.5 634.4 375.5 635.5 378.1zM632 383.4 630.3 381.1 635.5 378.1 637.2 380.4z"/>
<path fill="#d2d2d2" stroke="#d2d2d2" d="M629.2 378.5 628.8 376 634 373 634.4 375.5z"/>
<path fill="#dbdbdb" stroke="#dbdbdb" d="M634 385 632 383.4 637.2 380.4 639.2 382z"/>
<path fill="#ababab" stroke="#ababab" d="M628.8 376 629.2 373.9 634.4 370.9 634 373z"/>
<path fill="#b7b7b7" stroke="#b7b7b7" d="M636 385.7 634 385 639.2 382 641.2 382.7z"/>
<path fill="#8d8d8d" stroke="#8d8d8d" d="M629.2 373.9 630.3 372.6 635.5 369.6 634.4 370.9z"/>
<path fill="#999999" stroke="#999999" d="M637.7 385.4 636 385.7 641.2 382.7 642.9 382.4z"/>
</g>
<path fill="#d8d8d8" stroke="#555" stroke-width=".6" d="M634 373 634.4 370.9 635.5 369.6 637.2 369.3 639.2 370 641.2 371.6 642.9 373.9 644 376.5 644.4 379 644 381.1 642.9 382.4 641.2 382.7 639.2 382 637.2 380.4 635.5 378.1 634.4 375.5z"/>
</g>
<path d="M623.6 373 623.9 370.3 624.8 368.1 626.2 366.6 628.1 365.7 630.3 365.7 632.7 366.4 635.3 367.8 637.7 369.9 639.9 372.5 641.8 375.5 643.2 378.7 644.1 382 644.4 385 644.1 387.7 643.2 389.9 641.8 391.4 639.9 392.3 637.7 392.3 635.3 391.6 632.7 390.2 630.3 388.1 628.1 385.5 626.2 382.5 624.8 379.3 623.9 376zM628.8 376 629.2 373.9 630.3 372.6 632 372.3 634 373 636 374.6 637.7 376.9 638.8 379.5 639.2 382 638.8 384.1 637.7 385.4 636 385.7 634 385 632 383.4 630.3 381.1 629.2 378.5z" fill="#eeeeee" fill-rule="evenodd" stroke="#3a3a3a" stroke-width=".80" stroke-linejoin="round"/>
<path fill="none" stroke="#3a3a3a" stroke-width=".80" stroke-linejoin="round" d="M623.6 373 623.9 370.3 624.8 368.1 626.2 366.6 653.1 351.1 654.9 350.2 657.2 350.1 659.6 350.9 662.1 352.3 664.5 354.4 666.8 357 668.6 360 670 363.2 670.9 366.4 671.2 369.5 670.9 372.2 670 374.4 668.6 375.9 641.8 391.4 639.9 392.3 637.7 392.4 635.2 391.6 632.8 390.2 630.3 388.1 628.1 385.5 626.2 382.5 624.8 379.3 623.9 376.1z"/>
<path fill="#bbb" stroke="#2e2e2e" stroke-width="2.2" stroke-linejoin="round" d="M425.4 446 425.6 444.5 426.8 443.8 431.3 445.3 432.6 444.8 432.8 443.7 432.9 442.4 431.9 440.3 427.9 435.5 427.1 433.2 427.3 431.9 427.8 430.7 429.3 430.6 433.9 433.7 435.4 433.8 436 433 436.4 432 435.9 429.9 432.6 424.3 432.2 422.1 432.9 421.1 433.7 420.3 435.4 420.8 439.7 425.2 441.3 426 442.1 425.5 442.8 424.8 442.8 422.9 440.5 417 440.6 415.1 441.6 414.5 442.7 414.2 444.4 415.3 448.1 420.7 449.7 421.9 450.7 421.9 451.6 421.6 452 420 451 414.2 451.6 412.7 452.8 412.7 454 412.9 455.7 414.5 458.4 420.4 459.9 422 461 422.4 462.1 422.6 462.9 421.4 463.2 416.3 464.3 415.3 465.6 415.7 466.9 416.4 468.3 418.4 469.9 424.3 471.1 426.3 472.2 427 473.4 427.6 474.6 427 476.1 422.9 477.5 422.5 478.9 423.4 480.2 424.5 481.3 426.7 481.5 432.2 482.4 434.3 483.4 435.3 484.5 436.3 486 436.3 488.7 433.6 490.4 433.8 491.6 435.1 492.8 436.5 493.5 438.8 492.4 443.4 492.8 445.4 493.8 446.7 494.7 448 496.4 448.6 500 447.4 501.8 448.3 502.8 449.9 503.8 451.5 503.9 453.6 501.7 456.9 501.6 458.8 502.3 460.3 503.1 461.7 504.7 462.8 509 463.4 510.7 464.8 511.6 466.5 512.2 468.2 511.8 470 508.5 471.8 508 473.3 508.4 474.8 509 476.3 510.5 477.9 515.1 480.1 516.6 482 517.1 483.7 517.4 485.4 516.6 486.7 512.5 486.8 511.5 487.9 511.6 489.2 511.9 490.6 513.1 492.6 517.7 496.2 518.9 498.4 519 500 518.9 501.5 517.7 502.2 513.1 500.7 511.9 501.2 511.6 502.3 511.5 503.6 512.5 505.7 516.6 510.5 517.4 512.8 517.1 514.1 516.6 515.3 515.1 515.4 510.5 512.3 509 512.2 508.4 513 508 514 508.5 516.1 511.8 521.7 512.2 523.9 511.6 524.9 510.7 525.7 509 525.2 504.7 520.8 503.1 520 502.3 520.5 501.6 521.2 501.7 523.1 503.9 529 503.8 530.9 502.8 531.5 501.8 531.8 500 530.7 496.4 525.3 494.7 524.1 493.8 524.1 492.8 524.4 492.4 526 493.5 531.8 492.8 533.3 491.6 533.3 490.4 533.1 488.7 531.5 486 525.6 484.5 524 483.4 523.6 482.4 523.4 481.5 524.6 481.3 529.7 480.2 530.7 478.9 530.3 477.5 529.6 476.1 527.6 474.6 521.7 473.4 519.7 472.2 519 471.1 518.4 469.9 519 468.3 523.1 466.9 523.5 465.6 522.6 464.3 521.5 463.2 519.3 462.9 513.8 462.1 511.7 461 510.7 459.9 509.7 458.4 509.7 455.7 512.4 454 512.2 452.8 510.9 451.6 509.5 451 507.2 452 502.6 451.6 500.6 450.7 499.3 449.7 498 448.1 497.4 444.4 498.6 442.7 497.7 441.6 496.1 440.6 494.5 440.5 492.4 442.8 489.1 442.8 487.2 442.1 485.7 441.3 484.3 439.7 483.2 435.4 482.6 433.7 481.2 432.9 479.5 432.2 477.8 432.6 476 435.9 474.2 436.4 472.7 436 471.2 435.4 469.7 433.9 468.1 429.3 465.9 427.8 464 427.3 462.3 427.1 460.6 427.9 459.3 431.9 459.2 432.9 458.1 432.8 456.8 432.6 455.4 431.3 453.4 426.8 449.8 425.6 447.6z"/>
<g stroke-linejoin="round">
<path fill="none" stroke="#2e2e2e" stroke-width="1.00" d="M419.6 483.5 432.6 476M442.7 519.9 455.7 512.4"/>
<path fill="#787878" stroke="#787878" stroke-width=".6" d="M419.6 483.5 422.9 481.7 435.9 474.2 432.6 476z"/>
<path fill="#6f6f6f" stroke="#6f6f6f" stroke-width=".6" d="M445.4 517.2 442.7 519.9 455.7 512.4 458.4 509.7z"/>
<path fill="none" stroke="#2e2e2e" stroke-width="1.00" d="M422.9 481.7 435.9 474.2M414.9 466.8 427.9 459.3M445.4 517.2 458.4 509.7"/>
<path fill="#878787" stroke="#878787" stroke-width=".6" d="M414.9 466.8 419 466.7 431.9 459.2 427.9 459.3z"/>
<path fill="none" stroke="#2e2e2e" stroke-width="1.00" d="M455.3 530.6 468.3 523.1M419 466.7 431.9 459.2"/>
<path fill="#878787" stroke="#878787" stroke-width=".6" d="M456.9 526.5 455.3 530.6 468.3 523.1 469.9 519z"/>
<path fill="none" stroke="#2e2e2e" stroke-width="1.00" d="M456.9 526.5 469.9 519M413.8 451.3 426.8 443.8"/>
<path fill="#a8a8a8" stroke="#a8a8a8" stroke-width=".6" d="M413.8 451.3 418.3 452.8 431.3 445.3 426.8 443.8z"/>
<path fill="none" stroke="#2e2e2e" stroke-width="1.00" d="M467.2 538.2 480.2 530.7M418.3 452.8 431.3 445.3"/>
<path fill="#6f6f6f" stroke="#6f6f6f" stroke-width=".6" d="M468.3 537.2 467.2 538.2 480.2 530.7 481.3 529.7z"/>
<path fill="#7b7b7b" stroke="#7b7b7b" stroke-width=".6" d="M418.3 452.8 419.6 452.3 432.6 444.8 431.3 445.3z"/>
<path fill="none" stroke="#2e2e2e" stroke-width="1.00" d="M468.3 537.2 481.3 529.7M419.6 452.3 432.6 444.8"/>
<path fill="#ababab" stroke="#ababab" stroke-width=".6" d="M468.5 532.1 468.3 537.2 481.3 529.7 481.5 524.6z"/>
<path fill="none" stroke="#2e2e2e" stroke-width="1.00" d="M468.5 532.1 481.5 524.6M414.8 438.2 427.8 430.7"/>
<path fill="#727272" stroke="#727272" stroke-width=".6" d="M469.4 530.9 468.5 532.1 481.5 524.6 482.4 523.4z"/>
<path fill="#848484" stroke="#848484" stroke-width=".6" d="M414.8 438.2 416.3 438.1 429.3 430.6 427.8 430.7z"/>
<path fill="none" stroke="#2e2e2e" stroke-width="1.00" d="M469.4 530.9 482.4 523.4M416.3 438.1 429.3 430.6"/>
<path fill="#cccccc" stroke="#cccccc" stroke-width=".6" d="M416.3 438.1 420.9 441.2 433.9 433.7 429.3 430.6z"/>
<path fill="none" stroke="#2e2e2e" stroke-width="1.00" d="M420.9 441.2 433.9 433.7"/>
<path fill="#909090" stroke="#909090" stroke-width=".6" d="M420.9 441.2 422.4 441.3 435.4 433.8 433.9 433.7z"/>
<path fill="none" stroke="#2e2e2e" stroke-width="1.00" d="M479.8 540.8 492.8 533.3M422.4 441.3 435.4 433.8"/>
<path fill="#818181" stroke="#818181" stroke-width=".6" d="M480.5 539.3 479.8 540.8 492.8 533.3 493.5 531.8z"/>
<path fill="none" stroke="#2e2e2e" stroke-width="1.00" d="M480.5 539.3 493.5 531.8"/>
<path fill="#d2d2d2" stroke="#d2d2d2" stroke-width=".6" d="M479.4 533.5 480.5 539.3 493.5 531.8 492.4 526z"/>
<path fill="none" stroke="#2e2e2e" stroke-width="1.00" d="M479.4 533.5 492.4 526"/>
<path fill="#909090" stroke="#909090" stroke-width=".6" d="M479.8 531.9 479.4 533.5 492.4 526 492.8 524.4z"/>
<path fill="none" stroke="#2e2e2e" stroke-width="1.00" d="M479.8 531.9 492.8 524.4M420.7 427.8 433.7 420.3"/>
<path fill="#a2a2a2" stroke="#a2a2a2" stroke-width=".6" d="M420.7 427.8 422.4 428.3 435.4 420.8 433.7 420.3z"/>
<path fill="none" stroke="#2e2e2e" stroke-width="1.00" d="M422.4 428.3 435.4 420.8"/>
<path fill="#eaeaea" stroke="#eaeaea" stroke-width=".6" d="M422.4 428.3 426.7 432.7 439.7 425.2 435.4 420.8z"/>
<path fill="none" stroke="#2e2e2e" stroke-width="1.00" d="M426.7 432.7 439.7 425.2"/>
<path fill="#b1b1b1" stroke="#b1b1b1" stroke-width=".6" d="M426.7 432.7 428.3 433.5 441.3 426 439.7 425.2z"/>
<path fill="none" stroke="#2e2e2e" stroke-width="1.00" d="M428.3 433.5 441.3 426M489.8 539 502.8 531.5"/>
<path fill="#6f6f6f" stroke="#6f6f6f" stroke-width=".6" d="M490.8 538.4 489.8 539 502.8 531.5 503.8 530.9z"/>
<path fill="none" stroke="#2e2e2e" stroke-width="1.00" d="M490.8 538.4 503.8 530.9"/>
<path fill="#a8a8a8" stroke="#a8a8a8" stroke-width=".6" d="M490.9 536.5 490.8 538.4 503.8 530.9 503.9 529z"/>
<path fill="none" stroke="#2e2e2e" stroke-width="1.00" d="M490.9 536.5 503.9 529"/>
<path fill="#ededed" stroke="#ededed" stroke-width=".6" d="M488.7 530.6 490.9 536.5 503.9 529 501.7 523.1z"/>
<path fill="none" stroke="#2e2e2e" stroke-width="1.00" d="M488.7 530.6 501.7 523.1"/>
<path fill="#b7b7b7" stroke="#b7b7b7" stroke-width=".6" d="M488.6 528.7 488.7 530.6 501.7 523.1 501.6 521.2z"/>
<path fill="none" stroke="#2e2e2e" stroke-width="1.00" d="M488.6 528.7 501.6 521.2"/>
<path fill="#6f6f6f" stroke="#6f6f6f" stroke-width=".6" d="M489.3 528 488.6 528.7 501.6 521.2 502.3 520.5z"/>
<path fill="none" stroke="#2e2e2e" stroke-width="1.00" d="M428.6 422 441.6 414.5"/>
<path fill="#6f6f6f" stroke="#6f6f6f" stroke-width=".6" d="M490.1 527.5 489.3 528 502.3 520.5 503.1 520z"/>
<path fill="none" stroke="#2e2e2e" stroke-width="1.00" d="M490.1 527.5 503.1 520"/>
<path fill="#7e7e7e" stroke="#7e7e7e" stroke-width=".6" d="M428.6 422 429.7 421.7 442.7 414.2 441.6 414.5z"/>
<path fill="none" stroke="#2e2e2e" stroke-width="1.00" d="M429.7 421.7 442.7 414.2"/>
<path fill="#c6c6c6" stroke="#c6c6c6" stroke-width=".6" d="M429.7 421.7 431.4 422.8 444.4 415.3 442.7 414.2z"/>
<path fill="none" stroke="#2e2e2e" stroke-width="1.00" d="M431.4 422.8 444.4 415.3"/>
<path fill="#f0f0f0" stroke="#f0f0f0" stroke-width=".6" d="M431.4 422.8 435.1 428.2 448.1 420.7 444.4 415.3z"/>
<path fill="none" stroke="#2e2e2e" stroke-width="1.00" d="M435.1 428.2 448.1 420.7"/>
<path fill="#d5d5d5" stroke="#d5d5d5" stroke-width=".6" d="M435.1 428.2 436.7 429.4 449.7 421.9 448.1 420.7z"/>
<path fill="none" stroke="#2e2e2e" stroke-width="1.00" d="M436.7 429.4 449.7 421.9"/>
<path fill="#878787" stroke="#878787" stroke-width=".6" d="M436.7 429.4 437.7 429.4 450.7 421.9 449.7 421.9z"/>
<path fill="none" stroke="#2e2e2e" stroke-width="1.00" d="M497.8 533.2 510.7 525.7"/>
<path fill="#7e7e7e" stroke="#7e7e7e" stroke-width=".6" d="M437.7 429.4 438.6 429.1 451.6 421.6 450.7 421.9z"/>
<path fill="#6f6f6f" stroke="#6f6f6f" stroke-width=".6" d="M498.6 532.4 497.8 533.2 510.7 525.7 511.6 524.9z"/>
<path fill="none" stroke="#2e2e2e" stroke-width="1.00" d="M438.6 429.1 451.6 421.6"/>
<path fill="#757575" stroke="#757575" stroke-width=".6" d="M499.2 531.4 498.6 532.4 511.6 524.9 512.2 523.9z"/>
<path fill="none" stroke="#2e2e2e" stroke-width="1.00" d="M499.2 531.4 512.2 523.9"/>
<path fill="#cfcfcf" stroke="#cfcfcf" stroke-width=".6" d="M498.9 529.2 499.2 531.4 512.2 523.9 511.8 521.7z"/>
<path fill="none" stroke="#2e2e2e" stroke-width="1.00" d="M495.6 523.6 508.5 516.1"/>
<path fill="#f0f0f0" stroke="#f0f0f0" stroke-width=".6" d="M495.6 523.6 498.9 529.2 511.8 521.7 508.5 516.1z"/>
<path fill="none" stroke="#2e2e2e" stroke-width="1.00" d="M498.9 529.2 511.8 521.7"/>
<path fill="#dbdbdb" stroke="#dbdbdb" stroke-width=".6" d="M495 521.5 495.6 523.6 508.5 516.1 508 514z"/>
<path fill="none" stroke="#2e2e2e" stroke-width="1.00" d="M495 521.5 508 514"/>
<path fill="#848484" stroke="#848484" stroke-width=".6" d="M495.5 520.5 495 521.5 508 514 508.4 513z"/>
<path fill="#757575" stroke="#757575" stroke-width=".6" d="M496 519.7 495.5 520.5 508.4 513 509 512.2z"/>
<path fill="none" stroke="#2e2e2e" stroke-width="1.00" d="M496 519.7 509 512.2M438.6 420.2 451.6 412.7"/>
<path fill="#878787" stroke="#878787" stroke-width=".6" d="M438.6 420.2 439.8 420.2 452.8 412.7 451.6 412.7z"/>
<path fill="#969696" stroke="#969696" stroke-width=".6" d="M439.8 420.2 441.1 420.4 454 412.9 452.8 412.7z"/>
<path fill="none" stroke="#2e2e2e" stroke-width="1.00" d="M441.1 420.4 454 412.9M445.4 427.9 458.4 420.4"/>
<path fill="#f0f0f0" stroke="#f0f0f0" stroke-width=".6" d="M445.4 427.9 446.9 429.5 459.9 422 458.4 420.4z"/>
<path fill="#e7e7e7" stroke="#e7e7e7" stroke-width=".6" d="M441.1 420.4 442.7 422 455.7 414.5 454 412.9z"/>
<path fill="#f0f0f0" stroke="#f0f0f0" stroke-width=".6" d="M442.7 422 445.4 427.9 458.4 420.4 455.7 414.5z"/>
<path fill="none" stroke="#2e2e2e" stroke-width="1.00" d="M446.9 429.5 459.9 422M442.7 422 455.7 414.5"/>
<path fill="#a5a5a5" stroke="#a5a5a5" stroke-width=".6" d="M446.9 429.5 448 429.9 461 422.4 459.9 422z"/>
<path fill="#969696" stroke="#969696" stroke-width=".6" d="M448 429.9 449.1 430.1 462.1 422.6 461 422.4z"/>
<path fill="none" stroke="#2e2e2e" stroke-width="1.00" d="M449.1 430.1 462.1 422.6M503.6 522.8 516.6 515.3"/>
<path fill="#848484" stroke="#848484" stroke-width=".6" d="M504.1 521.6 503.6 522.8 516.6 515.3 517.1 514.1z"/>
<path fill="none" stroke="#2e2e2e" stroke-width="1.00" d="M499.5 513.2 512.5 505.7"/>
<path fill="#f0f0f0" stroke="#f0f0f0" stroke-width=".6" d="M498.6 511.1 499.5 513.2 512.5 505.7 511.5 503.6z"/>
<path fill="#969696" stroke="#969696" stroke-width=".6" d="M504.4 520.3 504.1 521.6 517.1 514.1 517.4 512.8z"/>
<path fill="none" stroke="#2e2e2e" stroke-width="1.00" d="M498.6 511.1 511.5 503.6"/>
<path fill="#f0f0f0" stroke="#f0f0f0" stroke-width=".6" d="M499.5 513.2 503.6 518 516.6 510.5 512.5 505.7z"/>
<path fill="#a8a8a8" stroke="#a8a8a8" stroke-width=".6" d="M498.7 509.8 498.6 511.1 511.5 503.6 511.6 502.3z"/>
<path fill="none" stroke="#2e2e2e" stroke-width="1.00" d="M504.4 520.3 517.4 512.8"/>
<path fill="#eaeaea" stroke="#eaeaea" stroke-width=".6" d="M503.6 518 504.4 520.3 517.4 512.8 516.6 510.5z"/>
<path fill="none" stroke="#2e2e2e" stroke-width="1.00" d="M503.6 518 516.6 510.5"/>
<path fill="#999999" stroke="#999999" stroke-width=".6" d="M498.9 508.7 498.7 509.8 511.6 502.3 511.9 501.2z"/>
<path fill="none" stroke="#2e2e2e" stroke-width="1.00" d="M498.9 508.7 511.9 501.2M451.3 422.8 464.3 415.3M456.9 431.8 469.9 424.3"/>
<path fill="#f0f0f0" stroke="#f0f0f0" stroke-width=".6" d="M456.9 431.8 458.1 433.8 471.1 426.3 469.9 424.3z"/>
<path fill="none" stroke="#2e2e2e" stroke-width="1.00" d="M458.1 433.8 471.1 426.3"/>
<path fill="#a5a5a5" stroke="#a5a5a5" stroke-width=".6" d="M451.3 422.8 452.6 423.2 465.6 415.7 464.3 415.3z"/>
<path fill="#c9c9c9" stroke="#c9c9c9" stroke-width=".6" d="M458.1 433.8 459.2 434.5 472.2 427 471.1 426.3z"/>
<path fill="#dedede" stroke="#dedede" stroke-width=".6" d="M455.3 425.9 456.9 431.8 469.9 424.3 468.3 418.4z"/>
<path fill="#b7b7b7" stroke="#b7b7b7" stroke-width=".6" d="M452.6 423.2 453.9 423.9 466.9 416.4 465.6 415.7z"/>
<path fill="#bababa" stroke="#bababa" stroke-width=".6" d="M459.2 434.5 460.4 435.1 473.4 427.6 472.2 427z"/>
<path fill="none" stroke="#2e2e2e" stroke-width="1.00" d="M460.4 435.1 473.4 427.6M453.9 423.9 466.9 416.4"/>
<path fill="#f0f0f0" stroke="#f0f0f0" stroke-width=".6" d="M453.9 423.9 455.3 425.9 468.3 418.4 466.9 416.4z"/>
<path fill="none" stroke="#2e2e2e" stroke-width="1.00" d="M455.3 425.9 468.3 418.4"/>
<path fill="#787878" stroke="#787878" stroke-width=".6" d="M460.4 435.1 461.6 434.5 474.6 427 473.4 427.6z"/>
<path fill="none" stroke="#2e2e2e" stroke-width="1.00" d="M504.7 509.7 517.7 502.2M461.6 434.5 474.6 427"/>
<path fill="#6f6f6f" stroke="#6f6f6f" stroke-width=".6" d="M505.9 509 504.7 509.7 517.7 502.2 518.9 501.5z"/>
<path fill="none" stroke="#2e2e2e" stroke-width="1.00" d="M498.9 498.1 511.9 490.6"/>
<path fill="#f0f0f0" stroke="#f0f0f0" stroke-width=".6" d="M498.9 498.1 500.2 500.1 513.1 492.6 511.9 490.6z"/>
<path fill="none" stroke="#2e2e2e" stroke-width="1.00" d="M500.2 500.1 513.1 492.6"/>
<path fill="#cfcfcf" stroke="#cfcfcf" stroke-width=".6" d="M498.7 496.7 498.9 498.1 511.9 490.6 511.6 489.2z"/>
<path fill="none" stroke="#2e2e2e" stroke-width="1.00" d="M505.9 509 518.9 501.5"/>
<path fill="#c0c0c0" stroke="#c0c0c0" stroke-width=".6" d="M498.6 495.4 498.7 496.7 511.6 489.2 511.5 487.9z"/>
<path fill="#a8a8a8" stroke="#a8a8a8" stroke-width=".6" d="M506 507.5 505.9 509 518.9 501.5 519 500z"/>
<path fill="none" stroke="#2e2e2e" stroke-width="1.00" d="M498.6 495.4 511.5 487.9"/>
<path fill="#d8d8d8" stroke="#d8d8d8" stroke-width=".6" d="M500.2 500.1 504.7 503.7 517.7 496.2 513.1 492.6z"/>
<path fill="#6f6f6f" stroke="#6f6f6f" stroke-width=".6" d="M499.5 494.3 498.6 495.4 511.5 487.9 512.5 486.8z"/>
<path fill="#bdbdbd" stroke="#bdbdbd" stroke-width=".6" d="M505.9 505.9 506 507.5 519 500 518.9 498.4z"/>
<path fill="none" stroke="#2e2e2e" stroke-width="1.00" d="M505.9 505.9 518.9 498.4"/>
<path fill="#f0f0f0" stroke="#f0f0f0" stroke-width=".6" d="M504.7 503.7 505.9 505.9 518.9 498.4 517.7 496.2z"/>
<path fill="none" stroke="#2e2e2e" stroke-width="1.00" d="M504.7 503.7 517.7 496.2M499.5 494.3 512.5 486.8M469.4 441.8 482.4 434.3"/>
<path fill="#f0f0f0" stroke="#f0f0f0" stroke-width=".6" d="M468.5 439.7 469.4 441.8 482.4 434.3 481.5 432.2z"/>
<path fill="#e7e7e7" stroke="#e7e7e7" stroke-width=".6" d="M469.4 441.8 470.4 442.8 483.4 435.3 482.4 434.3z"/>
<path fill="none" stroke="#2e2e2e" stroke-width="1.00" d="M463.1 430.4 476.1 422.9M468.5 439.7 481.5 432.2"/>
<path fill="#dbdbdb" stroke="#dbdbdb" stroke-width=".6" d="M470.4 442.8 471.6 443.8 484.5 436.3 483.4 435.3z"/>
<path fill="none" stroke="#2e2e2e" stroke-width="1.00" d="M471.6 443.8 484.5 436.3"/>
<path fill="#7e7e7e" stroke="#7e7e7e" stroke-width=".6" d="M463.1 430.4 464.5 430 477.5 422.5 476.1 422.9z"/>
<path fill="#8a8a8a" stroke="#8a8a8a" stroke-width=".6" d="M471.6 443.8 473 443.8 486 436.3 484.5 436.3z"/>
<path fill="#bdbdbd" stroke="#bdbdbd" stroke-width=".6" d="M468.3 434.2 468.5 439.7 481.5 432.2 481.3 426.7z"/>
<path fill="none" stroke="#2e2e2e" stroke-width="1.00" d="M464.5 430 477.5 422.5M496 483.8 509 476.3"/>
<path fill="#c9c9c9" stroke="#c9c9c9" stroke-width=".6" d="M464.5 430 465.9 430.9 478.9 423.4 477.5 422.5z"/>
<path fill="none" stroke="#2e2e2e" stroke-width="1.00" d="M473 443.8 486 436.3"/>
<path fill="#ededed" stroke="#ededed" stroke-width=".6" d="M495.5 482.3 496 483.8 509 476.3 508.4 474.8z"/>
<path fill="#eaeaea" stroke="#eaeaea" stroke-width=".6" d="M496 483.8 497.5 485.4 510.5 477.9 509 476.3z"/>
<path fill="#e1e1e1" stroke="#e1e1e1" stroke-width=".6" d="M495 480.8 495.5 482.3 508.4 474.8 508 473.3z"/>
<path fill="none" stroke="#2e2e2e" stroke-width="1.00" d="M497.5 485.4 510.5 477.9M495 480.8 508 473.3"/>
<path fill="#dbdbdb" stroke="#dbdbdb" stroke-width=".6" d="M465.9 430.9 467.2 432 480.2 424.5 478.9 423.4z"/>
<path fill="none" stroke="#2e2e2e" stroke-width="1.00" d="M468.3 434.2 481.3 426.7"/>
<path fill="#f0f0f0" stroke="#f0f0f0" stroke-width=".6" d="M467.2 432 468.3 434.2 481.3 426.7 480.2 424.5z"/>
<path fill="none" stroke="#2e2e2e" stroke-width="1.00" d="M467.2 432 480.2 424.5"/>
<path fill="#8a8a8a" stroke="#8a8a8a" stroke-width=".6" d="M495.6 479.3 495 480.8 508 473.3 508.5 471.8z"/>
<path fill="none" stroke="#2e2e2e" stroke-width="1.00" d="M503.6 494.2 516.6 486.7M479.8 452.9 492.8 445.4"/>
<path fill="#f0f0f0" stroke="#f0f0f0" stroke-width=".6" d="M479.8 452.9 480.8 454.2 493.8 446.7 492.8 445.4zM480.8 454.2 481.8 455.5 494.7 448 493.8 446.7z"/>
<path fill="#d5d5d5" stroke="#d5d5d5" stroke-width=".6" d="M479.4 450.9 479.8 452.9 492.8 445.4 492.4 443.4z"/>
<path fill="none" stroke="#2e2e2e" stroke-width="1.00" d="M481.8 455.5 494.7 448M495.6 479.3 508.5 471.8"/>
<path fill="#b7b7b7" stroke="#b7b7b7" stroke-width=".6" d="M497.5 485.4 502.1 487.6 515.1 480.1 510.5 477.9z"/>
<path fill="#787878" stroke="#787878" stroke-width=".6" d="M504.4 492.9 503.6 494.2 516.6 486.7 517.4 485.4z"/>
<path fill="none" stroke="#2e2e2e" stroke-width="1.00" d="M479.4 450.9 492.4 443.4M490.1 469.2 503.1 461.7"/>
<path fill="#f0f0f0" stroke="#f0f0f0" stroke-width=".6" d="M489.3 467.8 490.1 469.2 503.1 461.7 502.3 460.3zM488.6 466.3 489.3 467.8 502.3 460.3 501.6 458.8z"/>
<path fill="none" stroke="#2e2e2e" stroke-width="1.00" d="M488.6 466.3 501.6 458.8"/>
<path fill="#ababab" stroke="#ababab" stroke-width=".6" d="M481.8 455.5 483.4 456.1 496.4 448.6 494.7 448z"/>
<path fill="#cfcfcf" stroke="#cfcfcf" stroke-width=".6" d="M490.1 469.2 491.8 470.3 504.7 462.8 503.1 461.7z"/>
<path fill="none" stroke="#2e2e2e" stroke-width="1.00" d="M504.4 492.9 517.4 485.4"/>
<path fill="#b1b1b1" stroke="#b1b1b1" stroke-width=".6" d="M488.7 464.4 488.6 466.3 501.6 458.8 501.7 456.9z"/>
<path fill="none" stroke="#2e2e2e" stroke-width="1.00" d="M483.4 456.1 496.4 448.6"/>
<path fill="#cfcfcf" stroke="#cfcfcf" stroke-width=".6" d="M504.1 491.2 504.4 492.9 517.4 485.4 517.1 483.7z"/>
<path fill="none" stroke="#2e2e2e" stroke-width="1.00" d="M491.8 470.3 504.7 462.8M488.7 464.4 501.7 456.9M502.1 487.6 515.1 480.1"/>
<path fill="#e1e1e1" stroke="#e1e1e1" stroke-width=".6" d="M503.6 489.5 504.1 491.2 517.1 483.7 516.6 482z"/>
<path fill="#f0f0f0" stroke="#f0f0f0" stroke-width=".6" d="M502.1 487.6 503.6 489.5 516.6 482 515.1 480.1z"/>
<path fill="#939393" stroke="#939393" stroke-width=".6" d="M480.5 446.3 479.4 450.9 492.4 443.4 493.5 438.8z"/>
<path fill="none" stroke="#2e2e2e" stroke-width="1.00" d="M503.6 489.5 516.6 482M475.7 441.1 488.7 433.6"/>
<path fill="#969696" stroke="#969696" stroke-width=".6" d="M475.7 441.1 477.4 441.3 490.4 433.8 488.7 433.6z"/>
<path fill="#939393" stroke="#939393" stroke-width=".6" d="M491.8 470.3 496 470.9 509 463.4 504.7 462.8z"/>
<path fill="#7b7b7b" stroke="#7b7b7b" stroke-width=".6" d="M483.4 456.1 487 454.9 500 447.4 496.4 448.6z"/>
<path fill="none" stroke="#2e2e2e" stroke-width="1.00" d="M477.4 441.3 490.4 433.8"/>
<path fill="#757575" stroke="#757575" stroke-width=".6" d="M490.9 461.1 488.7 464.4 501.7 456.9 503.9 453.6z"/>
<path fill="none" stroke="#2e2e2e" stroke-width="1.00" d="M480.5 446.3 493.5 438.8"/>
<path fill="#e7e7e7" stroke="#e7e7e7" stroke-width=".6" d="M477.4 441.3 478.6 442.6 491.6 435.1 490.4 433.8z"/>
<path fill="#e1e1e1" stroke="#e1e1e1" stroke-width=".6" d="M479.8 444 480.5 446.3 493.5 438.8 492.8 436.5z"/>
<path fill="none" stroke="#2e2e2e" stroke-width="1.00" d="M498.9 477.5 511.8 470"/>
<path fill="#f0f0f0" stroke="#f0f0f0" stroke-width=".6" d="M478.6 442.6 479.8 444 492.8 436.5 491.6 435.1z"/>
<path fill="none" stroke="#2e2e2e" stroke-width="1.00" d="M479.8 444 492.8 436.5"/>
<path fill="#999999" stroke="#999999" stroke-width=".6" d="M499.2 475.7 498.9 477.5 511.8 470 512.2 468.2z"/>
<path fill="none" stroke="#2e2e2e" stroke-width="1.00" d="M496 470.9 509 463.4M487 454.9 500 447.4M499.2 475.7 512.2 468.2"/>
<path fill="#dbdbdb" stroke="#dbdbdb" stroke-width=".6" d="M496 470.9 497.8 472.3 510.7 464.8 509 463.4z"/>
<path fill="#ededed" stroke="#ededed" stroke-width=".6" d="M498.6 474 499.2 475.7 512.2 468.2 511.6 466.5z"/>
<path fill="none" stroke="#2e2e2e" stroke-width="1.00" d="M490.9 461.1 503.9 453.6"/>
<path fill="#f0f0f0" stroke="#f0f0f0" stroke-width=".6" d="M497.8 472.3 498.6 474 511.6 466.5 510.7 464.8z"/>
<path fill="#bababa" stroke="#bababa" stroke-width=".6" d="M487 454.9 488.8 455.8 501.8 448.3 500 447.4z"/>
<path fill="none" stroke="#2e2e2e" stroke-width="1.00" d="M497.8 472.3 510.7 464.8"/>
<path fill="#c0c0c0" stroke="#c0c0c0" stroke-width=".6" d="M490.8 459 490.9 461.1 503.9 453.6 503.8 451.5z"/>
<path fill="none" stroke="#2e2e2e" stroke-width="1.00" d="M488.8 455.8 501.8 448.3"/>
<path fill="#f0f0f0" stroke="#f0f0f0" stroke-width=".6" d="M488.8 455.8 489.8 457.4 502.8 449.9 501.8 448.3z"/>
<path fill="none" stroke="#2e2e2e" stroke-width="1.00" d="M490.8 459 503.8 451.5"/>
<path fill="#f0f0f0" stroke="#f0f0f0" stroke-width=".6" d="M489.8 457.4 490.8 459 503.8 451.5 502.8 449.9z"/>
</g>
<path d="M412.5 453.5 412.6 452 413.8 451.3 418.3 452.8 419.6 452.3 419.8 451.2 419.9 449.9 419 447.8 414.9 443 414.1 440.7 414.4 439.4 414.8 438.2 416.3 438.1 420.9 441.2 422.4 441.3 423 440.5 423.4 439.5 422.9 437.4 419.6 431.8 419.2 429.6 419.9 428.6 420.7 427.8 422.4 428.3 426.7 432.7 428.3 433.5 429.1 433 429.8 432.3 429.8 430.4 427.5 424.5 427.7 422.6 428.6 422 429.7 421.7 431.4 422.8 435.1 428.2 436.7 429.4 437.7 429.4 438.6 429.1 439 427.5 438 421.7 438.6 420.2 439.8 420.2 441.1 420.4 442.7 422 445.4 427.9 446.9 429.5 448 429.9 449.1 430.1 449.9 428.9 450.2 423.8 451.3 422.8 452.6 423.2 453.9 423.9 455.3 425.9 456.9 431.8 458.1 433.8 459.2 434.5 460.4 435.1 461.6 434.5 463.1 430.4 464.5 430 465.9 430.9 467.2 432 468.3 434.2 468.5 439.7 469.4 441.8 470.4 442.8 471.6 443.8 473 443.8 475.7 441.1 477.4 441.3 478.6 442.6 479.8 444 480.5 446.3 479.4 450.9 479.8 452.9 480.8 454.2 481.8 455.5 483.4 456.1 487 454.9 488.8 455.8 489.8 457.4 490.8 459 490.9 461.1 488.7 464.4 488.6 466.3 489.3 467.8 490.1 469.2 491.8 470.3 496 470.9 497.8 472.3 498.6 474 499.2 475.7 498.9 477.5 495.6 479.3 495 480.8 495.5 482.3 496 483.8 497.5 485.4 502.1 487.6 503.6 489.5 504.1 491.2 504.4 492.9 503.6 494.2 499.5 494.3 498.6 495.4 498.7 496.7 498.9 498.1 500.2 500.1 504.7 503.7 505.9 505.9 506 507.5 505.9 509 504.7 509.7 500.2 508.2 498.9 508.7 498.7 509.8 498.6 511.1 499.5 513.2 503.6 518 504.4 520.3 504.1 521.6 503.6 522.8 502.1 522.9 497.5 519.8 496 519.7 495.5 520.5 495 521.5 495.6 523.6 498.9 529.2 499.2 531.4 498.6 532.4 497.8 533.2 496 532.7 491.8 528.3 490.1 527.5 489.3 528 488.6 528.7 488.7 530.6 490.9 536.5 490.8 538.4 489.8 539 488.8 539.3 487 538.2 483.4 532.8 481.8 531.6 480.8 531.6 479.8 531.9 479.4 533.5 480.5 539.3 479.8 540.8 478.6 540.8 477.4 540.6 475.7 539 473 533.1 471.6 531.5 470.4 531.1 469.4 530.9 468.5 532.1 468.3 537.2 467.2 538.2 465.9 537.8 464.5 537.1 463.1 535.1 461.6 529.2 460.4 527.2 459.2 526.5 458.1 525.9 456.9 526.5 455.3 530.6 453.9 531 452.6 530.1 451.3 529 450.2 526.8 449.9 521.3 449.1 519.2 448 518.2 446.9 517.2 445.4 517.2 442.7 519.9 441.1 519.7 439.8 518.4 438.6 517 438 514.7 439 510.1 438.6 508.1 437.7 506.8 436.7 505.5 435.1 504.9 431.4 506.1 429.7 505.2 428.6 503.6 427.7 502 427.5 499.9 429.8 496.6 429.8 494.7 429.1 493.2 428.3 491.8 426.7 490.7 422.4 490.1 420.7 488.7 419.9 487 419.2 485.3 419.6 483.5 422.9 481.7 423.4 480.2 423 478.7 422.4 477.2 420.9 475.6 416.3 473.4 414.8 471.5 414.4 469.8 414.1 468.1 414.9 466.8 419 466.7 419.9 465.6 419.8 464.3 419.6 462.9 418.3 460.9 413.8 457.3 412.6 455.1z" fill="#eeeeee" fill-rule="evenodd" stroke="#404040" stroke-width="1.1" stroke-linejoin="round"/>
<path fill="#bbb" stroke="#2e2e2e" stroke-width="2.2" stroke-linejoin="round" d="M428.7 455.7 428.9 455 429.7 454.8 431.8 455.8 432.7 455.8 432.9 455.2 433.1 454.6 432.7 453.3 431.1 450.8 430.8 449.5 431 448.8 431.4 448.3 432.4 448.5 434.4 450 435.4 450.3 435.8 449.9 436.1 449.4 435.9 448.2 434.7 445.5 434.6 444.3 435 443.8 435.6 443.5 436.6 443.9 438.5 446 439.5 446.5 440 446.4 440.4 446 440.5 444.9 439.8 442.3 439.9 441.2 440.5 440.9 441.1 440.8 442.1 441.6 443.8 444 444.7 444.8 445.3 444.8 445.9 444.7 446.2 443.8 445.9 441.2 446.3 440.4 447 440.3 447.7 440.5 448.6 441.4 450 444.1 450.8 445.1 451.5 445.3 452.1 445.4 452.6 444.7 452.9 442.5 453.4 441.9 454.2 442.1 454.9 442.4 455.8 443.6 456.7 446.3 457.4 447.4 458.1 447.9 458.7 448.1 459.4 447.8 460.2 445.9 460.9 445.6 461.7 446 462.4 446.6 463.1 447.9 463.5 450.5 464.1 451.7 464.7 452.3 465.4 452.8 466.2 452.7 467.4 451.4 468.3 451.4 469.1 452 469.7 452.8 470.2 454.1 470.1 456.4 470.5 457.7 471.1 458.4 471.7 459 472.6 459.2 474.2 458.5 475.2 458.9 475.8 459.6 476.4 460.5 476.7 461.8 476.1 463.8 476.2 465 476.7 465.8 477.3 466.5 478.2 467 480.1 467 481.1 467.6 481.7 468.5 482.1 469.4 482.1 470.6 481.1 472.1 481 473.2 481.4 474 481.8 474.9 482.7 475.6 484.8 476.2 485.8 477.1 486.2 478 486.5 479 486.3 480 484.8 480.9 484.5 481.8 484.7 482.6 485 483.5 485.9 484.5 488 485.7 488.9 486.7 489.2 487.7 489.3 488.7 488.8 489.4 487 489.7 486.5 490.3 486.6 491.1 486.7 492 487.5 493.1 489.5 494.8 490.3 496.1 490.4 497 490.3 497.8 489.7 498.3 487.7 497.9 487 498.3 486.8 499 486.9 499.8 487.4 501 489.3 503.2 489.8 504.5 489.8 505.3 489.5 506 488.7 506.2 486.6 505.2 485.8 505.2 485.5 505.8 485.4 506.4 485.8 507.7 487.3 510.2 487.7 511.5 487.4 512.2 487 512.7 486.1 512.5 484 511 483.1 510.7 482.7 511.1 482.4 511.6 482.5 512.8 483.7 515.5 483.8 516.7 483.4 517.2 482.9 517.5 481.9 517.1 479.9 515 479 514.5 478.4 514.6 478 515 478 516.1 478.7 518.7 478.5 519.8 478 520.1 477.3 520.2 476.3 519.4 474.7 517 473.7 516.2 473.1 516.2 472.6 516.3 472.3 517.2 472.5 519.8 472.1 520.6 471.5 520.7 470.8 520.5 469.8 519.6 468.5 516.9 467.6 515.9 467 515.7 466.3 515.6 465.8 516.3 465.6 518.5 465 519.1 464.3 518.9 463.5 518.6 462.7 517.4 461.8 514.7 461.1 513.6 460.4 513.1 459.7 512.9 459 513.2 458.3 515.1 457.5 515.4 456.8 515 456 514.4 455.4 513.1 454.9 510.5 454.4 509.3 453.7 508.7 453 508.2 452.2 508.3 451 509.6 450.1 509.6 449.4 509 448.7 508.2 448.2 506.9 448.3 504.6 448 503.3 447.4 502.6 446.7 502 445.8 501.8 444.3 502.5 443.3 502.1 442.6 501.4 442 500.5 441.8 499.2 442.3 497.2 442.2 496 441.7 495.2 441.2 494.5 440.2 494 438.3 494 437.3 493.4 436.8 492.5 436.3 491.6 436.3 490.4 437.4 488.9 437.4 487.8 437.1 487 436.6 486.1 435.7 485.4 433.7 484.8 432.7 483.9 432.2 483 431.9 482 432.2 481 433.6 480.1 433.9 479.2 433.7 478.4 433.4 477.5 432.5 476.5 430.4 475.3 429.6 474.3 429.3 473.3 429.2 472.3 429.6 471.6 431.4 471.3 431.9 470.7 431.9 469.9 431.7 469 431 467.9 428.9 466.2 428.2 464.9 428.1 464 428.1 463.2 428.8 462.7 430.8 463.1 431.5 462.7 431.6 462 431.6 461.2 431 460 429.1 457.8 428.6 456.5z"/>
<g stroke-linejoin="round">
<path fill="none" stroke="#2e2e2e" stroke-width="1.00" d="M436.3 518.1 451 509.6M414.9 480.1 429.6 471.6"/>
<path fill="#636363" stroke="#636363" stroke-width=".6" d="M437.5 516.8 436.3 518.1 451 509.6 452.2 508.3z"/>
<path fill="#787878" stroke="#787878" stroke-width=".6" d="M414.9 480.1 416.7 479.8 431.4 471.3 429.6 471.6z"/>
<path fill="none" stroke="#2e2e2e" stroke-width="1.00" d="M437.5 516.8 452.2 508.3M416.7 479.8 431.4 471.3M443.6 523.6 458.3 515.1M414.1 471.2 428.8 462.7"/>
<path fill="#7b7b7b" stroke="#7b7b7b" stroke-width=".6" d="M444.3 521.7 443.6 523.6 458.3 515.1 459 513.2z"/>
<path fill="#939393" stroke="#939393" stroke-width=".6" d="M414.1 471.2 416.1 471.6 430.8 463.1 428.8 462.7z"/>
<path fill="none" stroke="#2e2e2e" stroke-width="1.00" d="M444.3 521.7 459 513.2"/>
<path fill="#636363" stroke="#636363" stroke-width=".6" d="M445 521.4 444.3 521.7 459 513.2 459.7 512.9z"/>
<path fill="none" stroke="#2e2e2e" stroke-width="1.00" d="M416.1 471.6 430.8 463.1M445 521.4 459.7 512.9"/>
<path fill="#6f6f6f" stroke="#6f6f6f" stroke-width=".6" d="M416.1 471.6 416.8 471.2 431.5 462.7 430.8 463.1z"/>
<path fill="none" stroke="#2e2e2e" stroke-width="1.00" d="M416.8 471.2 431.5 462.7M450.3 527.6 465 519.1"/>
<path fill="#636363" stroke="#636363" stroke-width=".6" d="M450.9 527 450.3 527.6 465 519.1 465.6 518.5z"/>
<path fill="none" stroke="#2e2e2e" stroke-width="1.00" d="M414.2 463.5 428.9 455M450.9 527 465.6 518.5"/>
<path fill="#757575" stroke="#757575" stroke-width=".6" d="M414.2 463.5 415 463.3 429.7 454.8 428.9 455z"/>
<path fill="#9c9c9c" stroke="#9c9c9c" stroke-width=".6" d="M451.1 524.8 450.9 527 465.6 518.5 465.8 516.3z"/>
<path fill="none" stroke="#2e2e2e" stroke-width="1.00" d="M415 463.3 429.7 454.8M451.1 524.8 465.8 516.3"/>
<path fill="#b1b1b1" stroke="#b1b1b1" stroke-width=".6" d="M415 463.3 417.1 464.3 431.8 455.8 429.7 454.8z"/>
<path fill="#666666" stroke="#666666" stroke-width=".6" d="M451.6 524.1 451.1 524.8 465.8 516.3 466.3 515.6z"/>
<path fill="none" stroke="#2e2e2e" stroke-width="1.00" d="M417.1 464.3 431.8 455.8M451.6 524.1 466.3 515.6"/>
<path fill="#7e7e7e" stroke="#7e7e7e" stroke-width=".6" d="M417.1 464.3 417.9 464.3 432.7 455.8 431.8 455.8z"/>
<path fill="none" stroke="#2e2e2e" stroke-width="1.00" d="M417.9 464.3 432.7 455.8M457.4 529.1 472.1 520.6"/>
<path fill="#787878" stroke="#787878" stroke-width=".6" d="M457.8 528.3 457.4 529.1 472.1 520.6 472.5 519.8z"/>
<path fill="none" stroke="#2e2e2e" stroke-width="1.00" d="M457.8 528.3 472.5 519.8M416.7 456.8 431.4 448.3"/>
<path fill="#8d8d8d" stroke="#8d8d8d" stroke-width=".6" d="M416.7 456.8 417.6 457 432.4 448.5 431.4 448.3z"/>
<path fill="#c0c0c0" stroke="#c0c0c0" stroke-width=".6" d="M457.6 525.7 457.8 528.3 472.5 519.8 472.3 517.2z"/>
<path fill="none" stroke="#2e2e2e" stroke-width="1.00" d="M417.6 457 432.4 448.5M457.6 525.7 472.3 517.2"/>
<path fill="#d2d2d2" stroke="#d2d2d2" stroke-width=".6" d="M417.6 457 419.7 458.5 434.4 450 432.4 448.5z"/>
<path fill="#848484" stroke="#848484" stroke-width=".6" d="M457.8 524.8 457.6 525.7 472.3 517.2 472.6 516.3z"/>
<path fill="none" stroke="#2e2e2e" stroke-width="1.00" d="M457.8 524.8 472.6 516.3M419.7 458.5 434.4 450"/>
<path fill="#999999" stroke="#999999" stroke-width=".6" d="M419.7 458.5 420.6 458.8 435.4 450.3 434.4 450z"/>
<path fill="none" stroke="#2e2e2e" stroke-width="1.00" d="M420.6 458.8 435.4 450.3M463.8 528.3 478.5 519.8"/>
<path fill="#999999" stroke="#999999" stroke-width=".6" d="M464 527.2 463.8 528.3 478.5 519.8 478.7 518.7z"/>
<path fill="none" stroke="#2e2e2e" stroke-width="1.00" d="M420.3 452.3 435 443.8"/>
<path fill="#6f6f6f" stroke="#6f6f6f" stroke-width=".6" d="M420.3 452.3 420.9 452 435.6 443.5 435 443.8z"/>
<path fill="none" stroke="#2e2e2e" stroke-width="1.00" d="M464 527.2 478.7 518.7M420.9 452 435.6 443.5"/>
<path fill="#dedede" stroke="#dedede" stroke-width=".6" d="M463.2 524.6 464 527.2 478.7 518.7 478 516.1z"/>
<path fill="#aeaeae" stroke="#aeaeae" stroke-width=".6" d="M420.9 452 421.9 452.4 436.6 443.9 435.6 443.5z"/>
<path fill="none" stroke="#2e2e2e" stroke-width="1.00" d="M463.2 524.6 478 516.1M421.9 452.4 436.6 443.9"/>
<path fill="#a5a5a5" stroke="#a5a5a5" stroke-width=".6" d="M463.3 523.5 463.2 524.6 478 516.1 478 515z"/>
<path fill="#eaeaea" stroke="#eaeaea" stroke-width=".6" d="M421.9 452.4 423.8 454.5 438.5 446 436.6 443.9z"/>
<path fill="none" stroke="#2e2e2e" stroke-width="1.00" d="M463.3 523.5 478 515"/>
<path fill="#636363" stroke="#636363" stroke-width=".6" d="M463.7 523.1 463.3 523.5 478 515 478.4 514.6z"/>
<path fill="none" stroke="#2e2e2e" stroke-width="1.00" d="M423.8 454.5 438.5 446M463.7 523.1 478.4 514.6"/>
<path fill="#bababa" stroke="#bababa" stroke-width=".6" d="M423.8 454.5 424.7 455 439.5 446.5 438.5 446z"/>
<path fill="none" stroke="#2e2e2e" stroke-width="1.00" d="M424.7 455 439.5 446.5"/>
<path fill="#727272" stroke="#727272" stroke-width=".6" d="M424.7 455 425.3 454.9 440 446.4 439.5 446.5z"/>
<path fill="none" stroke="#2e2e2e" stroke-width="1.00" d="M425.3 454.9 440 446.4M468.7 525.7 483.4 517.2"/>
<path fill="#666666" stroke="#666666" stroke-width=".6" d="M469.1 525.2 468.7 525.7 483.4 517.2 483.8 516.7z"/>
<path fill="none" stroke="#2e2e2e" stroke-width="1.00" d="M425.2 449.7 439.9 441.2M469.1 525.2 483.8 516.7"/>
<path fill="#6f6f6f" stroke="#6f6f6f" stroke-width=".6" d="M425.2 449.7 425.7 449.4 440.5 440.9 439.9 441.2z"/>
<path fill="#bdbdbd" stroke="#bdbdbd" stroke-width=".6" d="M469 524 469.1 525.2 483.8 516.7 483.7 515.5z"/>
<path fill="none" stroke="#2e2e2e" stroke-width="1.00" d="M469 524 483.7 515.5"/>
<path fill="#7b7b7b" stroke="#7b7b7b" stroke-width=".6" d="M425.7 449.4 426.4 449.3 441.1 440.8 440.5 440.9z"/>
<path fill="#f0f0f0" stroke="#f0f0f0" stroke-width=".6" d="M467.8 521.3 469 524 483.7 515.5 482.5 512.8z"/>
<path fill="none" stroke="#2e2e2e" stroke-width="1.00" d="M467.8 521.3 482.5 512.8M426.4 449.3 441.1 440.8"/>
<path fill="#c9c9c9" stroke="#c9c9c9" stroke-width=".6" d="M467.6 520.1 467.8 521.3 482.5 512.8 482.4 511.6z"/>
<path fill="#cfcfcf" stroke="#cfcfcf" stroke-width=".6" d="M426.4 449.3 427.4 450.1 442.1 441.6 441.1 440.8z"/>
<path fill="none" stroke="#2e2e2e" stroke-width="1.00" d="M467.6 520.1 482.4 511.6M427.4 450.1 442.1 441.6"/>
<path fill="#6f6f6f" stroke="#6f6f6f" stroke-width=".6" d="M467.9 519.6 467.6 520.1 482.4 511.6 482.7 511.1z"/>
<path fill="#f0f0f0" stroke="#f0f0f0" stroke-width=".6" d="M427.4 450.1 429.1 452.5 443.8 444 442.1 441.6z"/>
<path fill="none" stroke="#2e2e2e" stroke-width="1.00" d="M429.1 452.5 443.8 444"/>
<path fill="#d8d8d8" stroke="#d8d8d8" stroke-width=".6" d="M429.1 452.5 430 453.3 444.7 444.8 443.8 444z"/>
<path fill="#636363" stroke="#636363" stroke-width=".6" d="M468.4 519.2 467.9 519.6 482.7 511.1 483.1 510.7z"/>
<path fill="none" stroke="#2e2e2e" stroke-width="1.00" d="M430 453.3 444.7 444.8M468.4 519.2 483.1 510.7"/>
<path fill="#878787" stroke="#878787" stroke-width=".6" d="M430 453.3 430.6 453.3 445.3 444.8 444.7 444.8z"/>
<path fill="#757575" stroke="#757575" stroke-width=".6" d="M430.6 453.3 431.2 453.2 445.9 444.7 445.3 444.8z"/>
<path fill="none" stroke="#2e2e2e" stroke-width="1.00" d="M431.2 453.2 445.9 444.7M472.3 521.2 487 512.7"/>
<path fill="#666666" stroke="#666666" stroke-width=".6" d="M472.7 520.7 472.3 521.2 487 512.7 487.4 512.2z"/>
<path fill="#7e7e7e" stroke="#7e7e7e" stroke-width=".6" d="M472.9 520 472.7 520.7 487.4 512.2 487.7 511.5z"/>
<path fill="none" stroke="#2e2e2e" stroke-width="1.00" d="M431.6 448.9 446.3 440.4M472.9 520 487.7 511.5"/>
<path fill="#7e7e7e" stroke="#7e7e7e" stroke-width=".6" d="M431.6 448.9 432.2 448.8 447 440.3 446.3 440.4z"/>
<path fill="#dbdbdb" stroke="#dbdbdb" stroke-width=".6" d="M472.6 518.7 472.9 520 487.7 511.5 487.3 510.2z"/>
<path fill="none" stroke="#2e2e2e" stroke-width="1.00" d="M471 516.2 485.8 507.7"/>
<path fill="#f0f0f0" stroke="#f0f0f0" stroke-width=".6" d="M471 516.2 472.6 518.7 487.3 510.2 485.8 507.7z"/>
<path fill="none" stroke="#2e2e2e" stroke-width="1.00" d="M472.6 518.7 487.3 510.2"/>
<path fill="#e7e7e7" stroke="#e7e7e7" stroke-width=".6" d="M470.6 514.9 471 516.2 485.8 507.7 485.4 506.4z"/>
<path fill="none" stroke="#2e2e2e" stroke-width="1.00" d="M470.6 514.9 485.4 506.4"/>
<path fill="#969696" stroke="#969696" stroke-width=".6" d="M432.2 448.8 433 449 447.7 440.5 447 440.3z"/>
<path fill="#8d8d8d" stroke="#8d8d8d" stroke-width=".6" d="M470.8 514.3 470.6 514.9 485.4 506.4 485.5 505.8z"/>
<path fill="none" stroke="#2e2e2e" stroke-width="1.00" d="M433 449 447.7 440.5"/>
<path fill="#e7e7e7" stroke="#e7e7e7" stroke-width=".6" d="M433 449 433.9 449.9 448.6 441.4 447.7 440.5z"/>
<path fill="none" stroke="#2e2e2e" stroke-width="1.00" d="M435.2 452.6 450 444.1"/>
<path fill="#f0f0f0" stroke="#f0f0f0" stroke-width=".6" d="M433.9 449.9 435.2 452.6 450 444.1 448.6 441.4zM435.2 452.6 436.1 453.6 450.8 445.1 450 444.1z"/>
<path fill="none" stroke="#2e2e2e" stroke-width="1.00" d="M433.9 449.9 448.6 441.4"/>
<path fill="#757575" stroke="#757575" stroke-width=".6" d="M471.1 513.7 470.8 514.3 485.5 505.8 485.8 505.2z"/>
<path fill="none" stroke="#2e2e2e" stroke-width="1.00" d="M436.1 453.6 450.8 445.1M471.1 513.7 485.8 505.2"/>
<path fill="#a2a2a2" stroke="#a2a2a2" stroke-width=".6" d="M436.1 453.6 436.8 453.8 451.5 445.3 450.8 445.1z"/>
<path fill="#8d8d8d" stroke="#8d8d8d" stroke-width=".6" d="M436.8 453.8 437.4 453.9 452.1 445.4 451.5 445.3z"/>
<path fill="none" stroke="#2e2e2e" stroke-width="1.00" d="M437.4 453.9 452.1 445.4M474.8 514.5 489.5 506"/>
<path fill="#848484" stroke="#848484" stroke-width=".6" d="M475.1 513.8 474.8 514.5 489.5 506 489.8 505.3z"/>
<path fill="none" stroke="#2e2e2e" stroke-width="1.00" d="M472.7 509.5 487.4 501"/>
<path fill="#f0f0f0" stroke="#f0f0f0" stroke-width=".6" d="M472.1 508.3 472.7 509.5 487.4 501 486.9 499.8z"/>
<path fill="none" stroke="#2e2e2e" stroke-width="1.00" d="M472.1 508.3 486.9 499.8"/>
<path fill="#a2a2a2" stroke="#a2a2a2" stroke-width=".6" d="M475.1 513 475.1 513.8 489.8 505.3 489.8 504.5z"/>
<path fill="none" stroke="#2e2e2e" stroke-width="1.00" d="M438.7 450.4 453.4 441.9"/>
<path fill="#f0f0f0" stroke="#f0f0f0" stroke-width=".6" d="M472.7 509.5 474.6 511.7 489.3 503.2 487.4 501z"/>
<path fill="#b1b1b1" stroke="#b1b1b1" stroke-width=".6" d="M472.1 507.5 472.1 508.3 486.9 499.8 486.8 499z"/>
<path fill="none" stroke="#2e2e2e" stroke-width="1.00" d="M475.1 513 489.8 504.5"/>
<path fill="#999999" stroke="#999999" stroke-width=".6" d="M438.7 450.4 439.5 450.6 454.2 442.1 453.4 441.9z"/>
<path fill="#f0f0f0" stroke="#f0f0f0" stroke-width=".6" d="M474.6 511.7 475.1 513 489.8 504.5 489.3 503.2z"/>
<path fill="none" stroke="#2e2e2e" stroke-width="1.00" d="M474.6 511.7 489.3 503.2M441.9 454.8 456.7 446.3"/>
<path fill="#969696" stroke="#969696" stroke-width=".6" d="M472.2 506.8 472.1 507.5 486.8 499 487 498.3z"/>
<path fill="#f0f0f0" stroke="#f0f0f0" stroke-width=".6" d="M441.9 454.8 442.7 455.9 457.4 447.4 456.7 446.3z"/>
<path fill="none" stroke="#2e2e2e" stroke-width="1.00" d="M442.7 455.9 457.4 447.4"/>
<path fill="#b4b4b4" stroke="#b4b4b4" stroke-width=".6" d="M439.5 450.6 440.2 450.9 454.9 442.4 454.2 442.1z"/>
<path fill="none" stroke="#2e2e2e" stroke-width="1.00" d="M472.2 506.8 487 498.3"/>
<path fill="#c3c3c3" stroke="#c3c3c3" stroke-width=".6" d="M442.7 455.9 443.3 456.4 458.1 447.9 457.4 447.4z"/>
<path fill="#e7e7e7" stroke="#e7e7e7" stroke-width=".6" d="M441 452.1 441.9 454.8 456.7 446.3 455.8 443.6z"/>
<path fill="none" stroke="#2e2e2e" stroke-width="1.00" d="M440.2 450.9 454.9 442.4"/>
<path fill="#f0f0f0" stroke="#f0f0f0" stroke-width=".6" d="M440.2 450.9 441 452.1 455.8 443.6 454.9 442.4z"/>
<path fill="none" stroke="#2e2e2e" stroke-width="1.00" d="M441 452.1 455.8 443.6"/>
<path fill="#ababab" stroke="#ababab" stroke-width=".6" d="M443.3 456.4 444 456.6 458.7 448.1 458.1 447.9z"/>
<path fill="none" stroke="#2e2e2e" stroke-width="1.00" d="M444 456.6 458.7 448.1M474.9 506.8 489.7 498.3"/>
<path fill="#636363" stroke="#636363" stroke-width=".6" d="M475.6 506.3 474.9 506.8 489.7 498.3 490.3 497.8z"/>
<path fill="none" stroke="#2e2e2e" stroke-width="1.00" d="M472 500.5 486.7 492M445.4 454.4 460.2 445.9"/>
<path fill="#f0f0f0" stroke="#f0f0f0" stroke-width=".6" d="M472 500.5 472.8 501.6 487.5 493.1 486.7 492z"/>
<path fill="none" stroke="#2e2e2e" stroke-width="1.00" d="M472.8 501.6 487.5 493.1"/>
<path fill="#d2d2d2" stroke="#d2d2d2" stroke-width=".6" d="M471.8 499.6 472 500.5 486.7 492 486.6 491.1z"/>
<path fill="none" stroke="#2e2e2e" stroke-width="1.00" d="M475.6 506.3 490.3 497.8"/>
<path fill="#a5a5a5" stroke="#a5a5a5" stroke-width=".6" d="M475.6 505.5 475.6 506.3 490.3 497.8 490.4 497z"/>
<path fill="#727272" stroke="#727272" stroke-width=".6" d="M445.4 454.4 446.2 454.1 460.9 445.6 460.2 445.9z"/>
<path fill="#bababa" stroke="#bababa" stroke-width=".6" d="M471.8 498.8 471.8 499.6 486.6 491.1 486.5 490.3z"/>
<path fill="none" stroke="#2e2e2e" stroke-width="1.00" d="M449.4 460.2 464.1 451.7"/>
<path fill="#dbdbdb" stroke="#dbdbdb" stroke-width=".6" d="M472.8 501.6 474.8 503.3 489.5 494.8 487.5 493.1z"/>
<path fill="#f0f0f0" stroke="#f0f0f0" stroke-width=".6" d="M448.8 459 449.4 460.2 464.1 451.7 463.5 450.5z"/>
<path fill="none" stroke="#2e2e2e" stroke-width="1.00" d="M448.8 459 463.5 450.5"/>
<path fill="#e1e1e1" stroke="#e1e1e1" stroke-width=".6" d="M449.4 460.2 450 460.8 464.7 452.3 464.1 451.7z"/>
<path fill="none" stroke="#2e2e2e" stroke-width="1.00" d="M471.8 498.8 486.5 490.3"/>
<path fill="#c6c6c6" stroke="#c6c6c6" stroke-width=".6" d="M475.5 504.6 475.6 505.5 490.4 497 490.3 496.1z"/>
<path fill="none" stroke="#2e2e2e" stroke-width="1.00" d="M446.2 454.1 460.9 445.6"/>
<path fill="#cccccc" stroke="#cccccc" stroke-width=".6" d="M450 460.8 450.7 461.3 465.4 452.8 464.7 452.3z"/>
<path fill="none" stroke="#2e2e2e" stroke-width="1.00" d="M474.8 503.3 489.5 494.8"/>
<path fill="#f0f0f0" stroke="#f0f0f0" stroke-width=".6" d="M474.8 503.3 475.5 504.6 490.3 496.1 489.5 494.8z"/>
<path fill="none" stroke="#2e2e2e" stroke-width="1.00" d="M475.5 504.6 490.3 496.1"/>
<path fill="#636363" stroke="#636363" stroke-width=".6" d="M472.3 498.2 471.8 498.8 486.5 490.3 487 489.7z"/>
<path fill="#bababa" stroke="#bababa" stroke-width=".6" d="M446.2 454.1 447 454.5 461.7 446 460.9 445.6z"/>
<path fill="#cccccc" stroke="#cccccc" stroke-width=".6" d="M448.4 456.4 448.8 459 463.5 450.5 463.1 447.9z"/>
<path fill="none" stroke="#2e2e2e" stroke-width="1.00" d="M450.7 461.3 465.4 452.8M472.3 498.2 487 489.7"/>
<path fill="#d5d5d5" stroke="#d5d5d5" stroke-width=".6" d="M447 454.5 447.7 455.1 462.4 446.6 461.7 446z"/>
<path fill="#7b7b7b" stroke="#7b7b7b" stroke-width=".6" d="M450.7 461.3 451.5 461.2 466.2 452.7 465.4 452.8z"/>
<path fill="none" stroke="#2e2e2e" stroke-width="1.00" d="M448.4 456.4 463.1 447.9"/>
<path fill="#f0f0f0" stroke="#f0f0f0" stroke-width=".6" d="M447.7 455.1 448.4 456.4 463.1 447.9 462.4 446.6z"/>
<path fill="none" stroke="#2e2e2e" stroke-width="1.00" d="M447.7 455.1 462.4 446.6M451.5 461.2 466.2 452.7M470.3 492 485 483.5"/>
<path fill="#ededed" stroke="#ededed" stroke-width=".6" d="M470 491.1 470.3 492 485 483.5 484.7 482.6zM470.3 492 471.2 493 485.9 484.5 485 483.5z"/>
<path fill="none" stroke="#2e2e2e" stroke-width="1.00" d="M471.2 493 485.9 484.5"/>
<path fill="#dbdbdb" stroke="#dbdbdb" stroke-width=".6" d="M469.8 490.3 470 491.1 484.7 482.6 484.5 481.8z"/>
<path fill="none" stroke="#2e2e2e" stroke-width="1.00" d="M455.8 466.2 470.5 457.7M474.1 497.9 488.8 489.4"/>
<path fill="#f0f0f0" stroke="#f0f0f0" stroke-width=".6" d="M455.8 466.2 456.3 466.9 471.1 458.4 470.5 457.7z"/>
<path fill="none" stroke="#2e2e2e" stroke-width="1.00" d="M469.8 490.3 484.5 481.8"/>
<path fill="#e1e1e1" stroke="#e1e1e1" stroke-width=".6" d="M455.4 464.9 455.8 466.2 470.5 457.7 470.1 456.4z"/>
<path fill="#e7e7e7" stroke="#e7e7e7" stroke-width=".6" d="M456.3 466.9 457 467.5 471.7 459 471.1 458.4z"/>
<path fill="none" stroke="#2e2e2e" stroke-width="1.00" d="M455.4 464.9 470.1 456.4M457 467.5 471.7 459"/>
<path fill="#6c6c6c" stroke="#6c6c6c" stroke-width=".6" d="M474.6 497.2 474.1 497.9 488.8 489.4 489.3 488.7z"/>
<path fill="#7e7e7e" stroke="#7e7e7e" stroke-width=".6" d="M470.1 489.4 469.8 490.3 484.5 481.8 484.8 480.9z"/>
<path fill="none" stroke="#2e2e2e" stroke-width="1.00" d="M452.7 459.9 467.4 451.4"/>
<path fill="#bdbdbd" stroke="#bdbdbd" stroke-width=".6" d="M471.2 493 473.3 494.2 488 485.7 485.9 484.5z"/>
<path fill="#969696" stroke="#969696" stroke-width=".6" d="M457 467.5 457.9 467.7 472.6 459.2 471.7 459z"/>
<path fill="none" stroke="#2e2e2e" stroke-width="1.00" d="M470.1 489.4 484.8 480.9M474.6 497.2 489.3 488.7"/>
<path fill="#848484" stroke="#848484" stroke-width=".6" d="M452.7 459.9 453.6 459.9 468.3 451.4 467.4 451.4z"/>
<path fill="#ababab" stroke="#ababab" stroke-width=".6" d="M455.5 462.6 455.4 464.9 470.1 456.4 470.2 454.1z"/>
<path fill="#c9c9c9" stroke="#c9c9c9" stroke-width=".6" d="M474.4 496.2 474.6 497.2 489.3 488.7 489.2 487.7z"/>
<path fill="none" stroke="#2e2e2e" stroke-width="1.00" d="M457.9 467.7 472.6 459.2M473.3 494.2 488 485.7M467.1 483.4 481.8 474.9"/>
<path fill="#f0f0f0" stroke="#f0f0f0" stroke-width=".6" d="M466.6 482.5 467.1 483.4 481.8 474.9 481.4 474z"/>
<path fill="none" stroke="#2e2e2e" stroke-width="1.00" d="M453.6 459.9 468.3 451.4"/>
<path fill="#e4e4e4" stroke="#e4e4e4" stroke-width=".6" d="M474.1 495.2 474.4 496.2 489.2 487.7 488.9 486.7z"/>
<path fill="#f0f0f0" stroke="#f0f0f0" stroke-width=".6" d="M473.3 494.2 474.1 495.2 488.9 486.7 488 485.7zM466.3 481.7 466.6 482.5 481.4 474 481 473.2z"/>
<path fill="none" stroke="#2e2e2e" stroke-width="1.00" d="M461.5 473.5 476.2 465"/>
<path fill="#f0f0f0" stroke="#f0f0f0" stroke-width=".6" d="M461.5 473.5 462 474.3 476.7 465.8 476.2 465z"/>
<path fill="none" stroke="#2e2e2e" stroke-width="1.00" d="M466.3 481.7 481 473.2M474.1 495.2 488.9 486.7"/>
<path fill="#f0f0f0" stroke="#f0f0f0" stroke-width=".6" d="M462 474.3 462.6 475 477.3 466.5 476.7 465.8z"/>
<path fill="#d8d8d8" stroke="#d8d8d8" stroke-width=".6" d="M453.6 459.9 454.3 460.5 469.1 452 468.3 451.4z"/>
<path fill="#d5d5d5" stroke="#d5d5d5" stroke-width=".6" d="M467.1 483.4 468 484.1 482.7 475.6 481.8 474.9z"/>
<path fill="none" stroke="#2e2e2e" stroke-width="1.00" d="M462.6 475 477.3 466.5M455.5 462.6 470.2 454.1"/>
<path fill="#c3c3c3" stroke="#c3c3c3" stroke-width=".6" d="M461.4 472.3 461.5 473.5 476.2 465 476.1 463.8z"/>
<path fill="#636363" stroke="#636363" stroke-width=".6" d="M471.5 488.5 470.1 489.4 484.8 480.9 486.3 480z"/>
<path fill="none" stroke="#2e2e2e" stroke-width="1.00" d="M468 484.1 482.7 475.6"/>
<path fill="#9f9f9f" stroke="#9f9f9f" stroke-width=".6" d="M466.4 480.6 466.3 481.7 481 473.2 481.1 472.1z"/>
<path fill="#eaeaea" stroke="#eaeaea" stroke-width=".6" d="M455 461.3 455.5 462.6 470.2 454.1 469.7 452.8z"/>
<path fill="#ededed" stroke="#ededed" stroke-width=".6" d="M454.3 460.5 455 461.3 469.7 452.8 469.1 452z"/>
<path fill="#b4b4b4" stroke="#b4b4b4" stroke-width=".6" d="M462.6 475 463.5 475.5 478.2 467 477.3 466.5z"/>
<path fill="none" stroke="#2e2e2e" stroke-width="1.00" d="M461.4 472.3 476.1 463.8M455 461.3 469.7 452.8"/>
<path fill="#6f6f6f" stroke="#6f6f6f" stroke-width=".6" d="M457.9 467.7 459.5 467 474.2 458.5 472.6 459.2z"/>
<path fill="none" stroke="#2e2e2e" stroke-width="1.00" d="M466.4 480.6 481.1 472.1M463.5 475.5 478.2 467"/>
<path fill="#9c9c9c" stroke="#9c9c9c" stroke-width=".6" d="M468 484.1 470.1 484.7 484.8 476.2 482.7 475.6z"/>
<path fill="none" stroke="#2e2e2e" stroke-width="1.00" d="M471.5 488.5 486.3 480"/>
<path fill="#878787" stroke="#878787" stroke-width=".6" d="M462 470.3 461.4 472.3 476.1 463.8 476.7 461.8z"/>
<path fill="none" stroke="#2e2e2e" stroke-width="1.00" d="M459.5 467 474.2 458.5"/>
<path fill="#696969" stroke="#696969" stroke-width=".6" d="M467.4 479.1 466.4 480.6 481.1 472.1 482.1 470.6z"/>
<path fill="#818181" stroke="#818181" stroke-width=".6" d="M463.5 475.5 465.4 475.5 480.1 467 478.2 467z"/>
<path fill="#8a8a8a" stroke="#8a8a8a" stroke-width=".6" d="M471.8 487.5 471.5 488.5 486.3 480 486.5 479z"/>
<path fill="#a2a2a2" stroke="#a2a2a2" stroke-width=".6" d="M459.5 467 460.4 467.4 475.2 458.9 474.2 458.5z"/>
<path fill="none" stroke="#2e2e2e" stroke-width="1.00" d="M470.1 484.7 484.8 476.2M471.8 487.5 486.5 479M462 470.3 476.7 461.8"/>
<path fill="#e4e4e4" stroke="#e4e4e4" stroke-width=".6" d="M471.5 486.5 471.8 487.5 486.5 479 486.2 478z"/>
<path fill="#dedede" stroke="#dedede" stroke-width=".6" d="M470.1 484.7 471 485.6 485.8 477.1 484.8 476.2z"/>
<path fill="none" stroke="#2e2e2e" stroke-width="1.00" d="M460.4 467.4 475.2 458.9"/>
<path fill="#f0f0f0" stroke="#f0f0f0" stroke-width=".6" d="M471 485.6 471.5 486.5 486.2 478 485.8 477.1z"/>
<path fill="#d2d2d2" stroke="#d2d2d2" stroke-width=".6" d="M461.7 469 462 470.3 476.7 461.8 476.4 460.5z"/>
<path fill="none" stroke="#2e2e2e" stroke-width="1.00" d="M471 485.6 485.8 477.1"/>
<path fill="#f0f0f0" stroke="#f0f0f0" stroke-width=".6" d="M460.4 467.4 461.1 468.1 475.8 459.6 475.2 458.9z"/>
<path fill="none" stroke="#2e2e2e" stroke-width="1.00" d="M467.4 479.1 482.1 470.6M465.4 475.5 480.1 467"/>
<path fill="#f0f0f0" stroke="#f0f0f0" stroke-width=".6" d="M461.1 468.1 461.7 469 476.4 460.5 475.8 459.6z"/>
<path fill="none" stroke="#2e2e2e" stroke-width="1.00" d="M461.7 469 476.4 460.5"/>
<path fill="#aeaeae" stroke="#aeaeae" stroke-width=".6" d="M467.4 477.9 467.4 479.1 482.1 470.6 482.1 469.4z"/>
<path fill="#c0c0c0" stroke="#c0c0c0" stroke-width=".6" d="M465.4 475.5 466.4 476.1 481.1 467.6 480.1 467z"/>
<path fill="none" stroke="#2e2e2e" stroke-width="1.00" d="M467.4 477.9 482.1 469.4M466.4 476.1 481.1 467.6"/>
<path fill="#f0f0f0" stroke="#f0f0f0" stroke-width=".6" d="M467 477 467.4 477.9 482.1 469.4 481.7 468.5zM466.4 476.1 467 477 481.7 468.5 481.1 467.6z"/>
</g>
<clipPath id="c26"><path d="M435 483.5 435.1 481.8 435.4 480.4 436 479.1 436.8 478.1 437.8 477.3 438.9 476.9 440.2 476.7 441.6 476.8 443 477.3 444.5 478 446 479 447.4 480.2 448.8 481.7 450.1 483.3 451.2 485.1 452.2 487 453 488.9 453.6 490.8 453.9 492.7 454 494.5 453.9 496.2 453.6 497.6 453 498.9 452.2 499.9 451.2 500.7 450.1 501.1 448.8 501.3 447.4 501.2 446 500.7 444.5 500 443 499 441.6 497.8 440.2 496.3 438.9 494.7 437.8 492.9 436.8 491 436 489.1 435.4 487.2 435.1 485.3z"/></clipPath>
<g clip-path="url(#c26)">
<path fill="#fff" d="M435 483.5 435.1 481.8 435.4 480.4 436 479.1 436.8 478.1 437.8 477.3 438.9 476.9 440.2 476.7 441.6 476.8 443 477.3 444.5 478 446 479 447.4 480.2 448.8 481.7 450.1 483.3 451.2 485.1 452.2 487 453 488.9 453.6 490.8 453.9 492.7 454 494.5 453.9 496.2 453.6 497.6 453 498.9 452.2 499.9 451.2 500.7 450.1 501.1 448.8 501.3 447.4 501.2 446 500.7 444.5 500 443 499 441.6 497.8 440.2 496.3 438.9 494.7 437.8 492.9 436.8 491 436 489.1 435.4 487.2 435.1 485.3z"/>
<g stroke-width=".7" stroke-linejoin="round">
<path fill="#f0f0f0" stroke="#f0f0f0" d="M437.8 492.9 436.8 491 451.5 482.5 452.5 484.4zM438.9 494.7 437.8 492.9 452.5 484.4 453.6 486.2zM440.2 496.3 438.9 494.7 453.6 486.2 454.9 487.8zM436.8 491 436 489.1 450.7 480.6 451.5 482.5z"/>
<path fill="#eaeaea" stroke="#eaeaea" d="M441.6 497.8 440.2 496.3 454.9 487.8 456.3 489.3z"/>
<path fill="#e4e4e4" stroke="#e4e4e4" d="M436 489.1 435.4 487.2 450.2 478.7 450.7 480.6z"/>
<path fill="#cfcfcf" stroke="#cfcfcf" d="M435.4 487.2 435.1 485.3 449.8 476.8 450.2 478.7z"/>
<path fill="#dbdbdb" stroke="#dbdbdb" d="M443 499 441.6 497.8 456.3 489.3 457.7 490.5z"/>
<path fill="#bababa" stroke="#bababa" d="M435.1 485.3 435 483.5 449.7 475 449.8 476.8z"/>
<path fill="#c9c9c9" stroke="#c9c9c9" d="M444.5 500 443 499 457.7 490.5 459.2 491.5z"/>
<path fill="#a2a2a2" stroke="#a2a2a2" d="M435 483.5 435.1 481.8 449.8 473.3 449.7 475z"/>
<path fill="#b1b1b1" stroke="#b1b1b1" d="M446 500.7 444.5 500 459.2 491.5 460.7 492.2z"/>
<path fill="#8d8d8d" stroke="#8d8d8d" d="M435.1 481.8 435.4 480.4 450.2 471.9 449.8 473.3z"/>
<path fill="#9c9c9c" stroke="#9c9c9c" d="M447.4 501.2 446 500.7 460.7 492.2 462.2 492.7z"/>
<path fill="#787878" stroke="#787878" d="M435.4 480.4 436 479.1 450.7 470.6 450.2 471.9z"/>
<path fill="#8a8a8a" stroke="#8a8a8a" d="M448.8 501.3 447.4 501.2 462.2 492.7 463.5 492.8z"/>
<path fill="#666666" stroke="#666666" d="M436 479.1 436.8 478.1 451.5 469.6 450.7 470.6z"/>
<path fill="#7b7b7b" stroke="#7b7b7b" d="M450.1 501.1 448.8 501.3 463.5 492.8 464.8 492.6z"/>
<path fill="#636363" stroke="#636363" d="M436.8 478.1 437.8 477.3 452.5 468.8 451.5 469.6z"/>
<path fill="#6f6f6f" stroke="#6f6f6f" d="M451.2 500.7 450.1 501.1 464.8 492.6 466 492.2z"/>
</g>
</g>
<path d="M413.9 464.2 414.2 463.5 415 463.3 417.1 464.3 417.9 464.3 418.2 463.7 418.4 463.1 418 461.8 416.4 459.3 416.1 458 416.3 457.3 416.7 456.8 417.6 457 419.7 458.5 420.6 458.8 421.1 458.4 421.4 457.9 421.2 456.7 420 454 419.9 452.8 420.3 452.3 420.9 452 421.9 452.4 423.8 454.5 424.7 455 425.3 454.9 425.7 454.5 425.8 453.4 425 450.8 425.2 449.7 425.7 449.4 426.4 449.3 427.4 450.1 429.1 452.5 430 453.3 430.6 453.3 431.2 453.2 431.4 452.3 431.2 449.7 431.6 448.9 432.2 448.8 433 449 433.9 449.9 435.2 452.6 436.1 453.6 436.8 453.8 437.4 453.9 437.9 453.2 438.1 451 438.7 450.4 439.5 450.6 440.2 450.9 441 452.1 441.9 454.8 442.7 455.9 443.3 456.4 444 456.6 444.7 456.3 445.4 454.4 446.2 454.1 447 454.5 447.7 455.1 448.4 456.4 448.8 459 449.4 460.2 450 460.8 450.7 461.3 451.5 461.2 452.7 459.9 453.6 459.9 454.3 460.5 455 461.3 455.5 462.6 455.4 464.9 455.8 466.2 456.3 466.9 457 467.5 457.9 467.7 459.5 467 460.4 467.4 461.1 468.1 461.7 469 462 470.3 461.4 472.3 461.5 473.5 462 474.3 462.6 475 463.5 475.5 465.4 475.5 466.4 476.1 467 477 467.4 477.9 467.4 479.1 466.4 480.6 466.3 481.7 466.6 482.5 467.1 483.4 468 484.1 470.1 484.7 471 485.6 471.5 486.5 471.8 487.5 471.5 488.5 470.1 489.4 469.8 490.3 470 491.1 470.3 492 471.2 493 473.3 494.2 474.1 495.2 474.4 496.2 474.6 497.2 474.1 497.9 472.3 498.2 471.8 498.8 471.8 499.6 472 500.5 472.8 501.6 474.8 503.3 475.5 504.6 475.6 505.5 475.6 506.3 474.9 506.8 472.9 506.4 472.2 506.8 472.1 507.5 472.1 508.3 472.7 509.5 474.6 511.7 475.1 513 475.1 513.8 474.8 514.5 474 514.7 471.9 513.7 471.1 513.7 470.8 514.3 470.6 514.9 471 516.2 472.6 518.7 472.9 520 472.7 520.7 472.3 521.2 471.4 521 469.3 519.5 468.4 519.2 467.9 519.6 467.6 520.1 467.8 521.3 469 524 469.1 525.2 468.7 525.7 468.1 526 467.1 525.6 465.2 523.5 464.3 523 463.7 523.1 463.3 523.5 463.2 524.6 464 527.2 463.8 528.3 463.3 528.6 462.6 528.7 461.6 527.9 459.9 525.5 459 524.7 458.4 524.7 457.8 524.8 457.6 525.7 457.8 528.3 457.4 529.1 456.8 529.2 456 529 455.1 528.1 453.8 525.4 452.9 524.4 452.2 524.2 451.6 524.1 451.1 524.8 450.9 527 450.3 527.6 449.5 527.4 448.8 527.1 448 525.9 447.1 523.2 446.3 522.1 445.7 521.6 445 521.4 444.3 521.7 443.6 523.6 442.8 523.9 442 523.5 441.3 522.9 440.6 521.6 440.2 519 439.6 517.8 439 517.2 438.3 516.7 437.5 516.8 436.3 518.1 435.4 518.1 434.7 517.5 434 516.7 433.5 515.4 433.6 513.1 433.2 511.8 432.7 511.1 432 510.5 431.1 510.3 429.5 511 428.6 510.6 427.9 509.9 427.3 509 427 507.7 427.6 505.7 427.5 504.5 427 503.7 426.4 503 425.5 502.5 423.6 502.5 422.6 501.9 422 501 421.6 500.1 421.6 498.9 422.6 497.4 422.7 496.3 422.4 495.5 421.9 494.6 421 493.9 418.9 493.3 418 492.4 417.5 491.5 417.2 490.5 417.5 489.5 418.9 488.6 419.2 487.7 419 486.9 418.7 486 417.8 485 415.7 483.8 414.9 482.8 414.6 481.8 414.4 480.8 414.9 480.1 416.7 479.8 417.2 479.2 417.2 478.4 417 477.5 416.2 476.4 414.2 474.7 413.5 473.4 413.4 472.5 413.4 471.7 414.1 471.2 416.1 471.6 416.8 471.2 416.9 470.5 416.9 469.7 416.3 468.5 414.4 466.3 413.9 465zM435 483.5 435.1 481.8 435.4 480.4 436 479.1 436.8 478.1 437.8 477.3 438.9 476.9 440.2 476.7 441.6 476.8 443 477.3 444.5 478 446 479 447.4 480.2 448.8 481.7 450.1 483.3 451.2 485.1 452.2 487 453 488.9 453.6 490.8 453.9 492.7 454 494.5 453.9 496.2 453.6 497.6 453 498.9 452.2 499.9 451.2 500.7 450.1 501.1 448.8 501.3 447.4 501.2 446 500.7 444.5 500 443 499 441.6 497.8 440.2 496.3 438.9 494.7 437.8 492.9 436.8 491 436 489.1 435.4 487.2 435.1 485.3z" fill="#eeeeee" fill-rule="evenodd" stroke="#404040" stroke-width="1.1" stroke-linejoin="round"/>
<line x1="455.0" y1="482.9" x2="414.0" y2="506.6" stroke="#707070" stroke-width="1.2" stroke-dasharray="12.5 6 1.5 6"/>
<g stroke-width=".7" stroke-linejoin="round">
<path fill="#969696" stroke="#969696" d="M557.6 459.5 559.2 459.5 580.9 447 579.2 447z"/>
<path fill="#8a8a8a" stroke="#8a8a8a" d="M566.9 472.7 566 474.1 587.7 461.6 588.5 460.2z"/>
<path fill="#b1b1b1" stroke="#b1b1b1" d="M559.2 459.5 561.1 460.2 582.8 447.7 580.9 447z"/>
<path fill="#a8a8a8" stroke="#a8a8a8" d="M567.2 470.7 566.9 472.7 588.5 460.2 588.8 458.2z"/>
<path fill="#cfcfcf" stroke="#cfcfcf" d="M561.1 460.2 563 461.6 584.6 449.1 582.8 447.7z"/>
<path fill="#c9c9c9" stroke="#c9c9c9" d="M566.9 468.4 567.2 470.7 588.8 458.2 588.5 455.9z"/>
<path fill="#e7e7e7" stroke="#e7e7e7" d="M563 461.6 564.7 463.6 586.3 451.1 584.6 449.1zM564.7 463.6 566 465.9 587.7 453.4 586.3 451.1z"/>
<path fill="#e1e1e1" stroke="#e1e1e1" d="M566 465.9 566.9 468.4 588.5 455.9 587.7 453.4z"/>
</g>
<path d="M555.1 463.7 555.3 461.7 556.2 460.3 557.6 459.5 559.2 459.5 561.1 460.2 563 461.6 564.7 463.6 566 465.9 566.9 468.4 567.2 470.7 566.9 472.7 566 474.1 564.7 474.9 563 474.9 561.1 474.2 559.2 472.8 557.6 470.8 556.2 468.5 555.3 466z" fill="#dddddd" fill-rule="evenodd" stroke="#3a3a3a" stroke-width=".80" stroke-linejoin="round"/>
<path fill="none" stroke="#3a3a3a" stroke-width=".80" stroke-linejoin="round" d="M555 463.7 555.4 461.7 556.2 460.2 577.9 447.8 579.2 447 580.9 447 582.8 447.7 584.6 449.1 586.3 451.1 587.7 453.4 588.5 455.9 588.8 458.2 588.5 460.2 587.7 461.6 566 474.1 564.7 474.9 563 474.9 561.1 474.2 559.2 472.8 557.5 470.8 556.2 468.5 555.4 466z"/>
<g stroke-width=".7" stroke-linejoin="round">
<path fill="#999999" stroke="#999999" d="M531.6 466 533.7 465.7 556.2 452.7 554.1 453z"/>
<path fill="#8d8d8d" stroke="#8d8d8d" d="M548.7 491.7 547.4 493.4 569.9 480.4 571.3 478.7z"/>
<path fill="#ababab" stroke="#ababab" d="M533.7 465.7 536.1 466.1 558.6 453.1 556.2 452.7z"/>
<path fill="#9f9f9f" stroke="#9f9f9f" d="M549.6 489.4 548.7 491.7 571.3 478.7 572.1 476.4z"/>
<path fill="#bdbdbd" stroke="#bdbdbd" d="M536.1 466.1 538.6 467.2 561.1 454.2 558.6 453.1z"/>
<path fill="#b4b4b4" stroke="#b4b4b4" d="M549.9 486.7 549.6 489.4 572.1 476.4 572.4 473.7z"/>
<path fill="#d2d2d2" stroke="#d2d2d2" d="M538.6 467.2 541.1 469 563.6 456 561.1 454.2z"/>
<path fill="#c9c9c9" stroke="#c9c9c9" d="M549.6 483.6 549.9 486.7 572.4 473.7 572.1 470.6z"/>
<path fill="#dedede" stroke="#dedede" d="M548.7 480.4 549.6 483.6 572.1 470.6 571.3 467.4z"/>
<path fill="#e4e4e4" stroke="#e4e4e4" d="M541.1 469 543.5 471.3 566 458.3 563.6 456z"/>
<path fill="#eaeaea" stroke="#eaeaea" d="M547.4 477.2 548.7 480.4 571.3 467.4 569.9 464.2zM543.5 471.3 545.6 474.1 568.1 461.1 566 458.3zM545.6 474.1 547.4 477.2 569.9 464.2 568.1 461.1z"/>
</g>
<path d="M527.3 473.7 527.6 471 528.5 468.7 529.8 467 531.6 466 533.7 465.7 536.1 466.1 538.6 467.2 541.1 469 543.5 471.3 545.6 474.1 547.4 477.2 548.7 480.4 549.6 483.6 549.9 486.7 549.6 489.4 548.7 491.7 547.4 493.4 545.6 494.4 543.5 494.7 541.1 494.3 538.6 493.2 536.1 491.4 533.7 489.1 531.6 486.3 529.8 483.2 528.5 480 527.6 476.8z" fill="#eeeeee" fill-rule="evenodd" stroke="#3a3a3a" stroke-width=".80" stroke-linejoin="round"/>
<path fill="none" stroke="#3a3a3a" stroke-width=".80" stroke-linejoin="round" d="M527.3 473.7 527.6 471 528.5 468.7 529.8 467 531.6 466 552.3 454 554.1 453 556.2 452.7 558.6 453.1 561.1 454.2 563.6 456 566 458.3 568.1 461.1 569.9 464.2 571.3 467.4 572.1 470.6 572.4 473.7 572.1 476.4 571.3 478.7 569.9 480.4 545.6 494.4 543.5 494.7 541.1 494.3 538.6 493.2 536.1 491.4 533.7 489.1 531.6 486.3 529.8 483.2 528.5 480 527.6 476.8z"/>
<g stroke-width=".7" stroke-linejoin="round">
<path fill="#939393" stroke="#939393" d="M526.1 465.5 527.9 464.7 530.5 463.2 528.7 464zM548.5 494.5 547.4 496.4 550 494.9 551.1 493z"/>
<path fill="#8d8d8d" stroke="#8d8d8d" d="M547.4 496.4 545.9 497.9 548.5 496.4 550 494.9z"/>
<path fill="#9c9c9c" stroke="#9c9c9c" d="M527.9 464.7 530 464.4 532.6 462.9 530.5 463.2z"/>
<path fill="#a8a8a8" stroke="#a8a8a8" d="M530 464.4 532.3 464.7 534.9 463.2 532.6 462.9z"/>
<path fill="#a2a2a2" stroke="#a2a2a2" d="M549.2 492.2 548.5 494.5 551.1 493 551.8 490.7z"/>
<path fill="#b7b7b7" stroke="#b7b7b7" d="M532.3 464.7 534.8 465.6 537.4 464.1 534.9 463.2zM549.4 489.4 549.2 492.2 551.8 490.7 552 487.9z"/>
<path fill="#c9c9c9" stroke="#c9c9c9" d="M534.8 465.6 537.2 467 539.8 465.5 537.4 464.1zM549.2 486.5 549.4 489.4 552 487.9 551.8 485z"/>
<path fill="#d8d8d8" stroke="#d8d8d8" d="M537.2 467 539.7 468.9 542.3 467.4 539.8 465.5zM548.5 483.3 549.2 486.5 551.8 485 551.1 481.8z"/>
<path fill="#e7e7e7" stroke="#e7e7e7" d="M539.7 468.9 542 471.3 544.6 469.8 542.3 467.4zM547.4 480.1 548.5 483.3 551.1 481.8 550 478.6z"/>
<path fill="#eaeaea" stroke="#eaeaea" d="M542 471.3 544.1 474 546.7 472.5 544.6 469.8zM545.9 477 547.4 480.1 550 478.6 548.5 475.5zM544.1 474 545.9 477 548.5 475.5 546.7 472.5z"/>
</g>
<clipPath id="c27"><path d="M532.5 479.7 532.8 478.3 533.6 477.5 534.7 477.2 536 477.7 537.3 478.8 538.4 480.3 539.2 482 539.5 483.7 539.2 485.1 538.4 485.9 537.3 486.2 536 485.7 534.7 484.6 533.6 483.1 532.8 481.4z"/></clipPath>
<g clip-path="url(#c27)">
<path fill="#fff" d="M532.5 479.7 532.8 478.3 533.6 477.5 534.7 477.2 536 477.7 537.3 478.8 538.4 480.3 539.2 482 539.5 483.7 539.2 485.1 538.4 485.9 537.3 486.2 536 485.7 534.7 484.6 533.6 483.1 532.8 481.4z"/>
<g stroke-width=".7" stroke-linejoin="round">
<path fill="#eaeaea" stroke="#eaeaea" d="M533.6 483.1 532.8 481.4 536.3 479.4 537 481.1zM534.7 484.6 533.6 483.1 537 481.1 538.1 482.6z"/>
<path fill="#d2d2d2" stroke="#d2d2d2" d="M532.8 481.4 532.5 479.7 536 477.7 536.3 479.4z"/>
<path fill="#dbdbdb" stroke="#dbdbdb" d="M536 485.7 534.7 484.6 538.1 482.6 539.5 483.7z"/>
<path fill="#ababab" stroke="#ababab" d="M532.5 479.7 532.8 478.3 536.3 476.3 536 477.7z"/>
<path fill="#b7b7b7" stroke="#b7b7b7" d="M537.3 486.2 536 485.7 539.5 483.7 540.8 484.2z"/>
<path fill="#8d8d8d" stroke="#8d8d8d" d="M532.8 478.3 533.6 477.5 537 475.5 536.3 476.3z"/>
<path fill="#999999" stroke="#999999" d="M538.4 485.9 537.3 486.2 540.8 484.2 541.9 483.9z"/>
</g>
</g>
<path d="M522.6 473.9 522.8 471.2 523.5 468.9 524.6 467 526.1 465.5 527.9 464.7 530 464.4 532.3 464.7 534.8 465.6 537.2 467 539.7 468.9 542 471.3 544.1 474 545.9 477 547.4 480.1 548.5 483.3 549.2 486.5 549.4 489.4 549.2 492.2 548.5 494.5 547.4 496.4 545.9 497.9 544.1 498.7 542 499 539.7 498.7 537.2 497.8 534.8 496.4 532.3 494.5 530 492.1 527.9 489.4 526.1 486.4 524.6 483.3 523.5 480.1 522.8 476.9zM532.5 479.7 532.8 478.3 533.6 477.5 534.7 477.2 536 477.7 537.3 478.8 538.4 480.3 539.2 482 539.5 483.7 539.2 485.1 538.4 485.9 537.3 486.2 536 485.7 534.7 484.6 533.6 483.1 532.8 481.4z" fill="#eeeeee" fill-rule="evenodd" stroke="#3a3a3a" stroke-width=".80" stroke-linejoin="round"/>
<path fill="none" stroke="#3a3a3a" stroke-width=".80" stroke-linejoin="round" d="M522.6 473.9 522.8 471.2 523.5 468.9 524.6 466.9 526.1 465.5 528.7 464 530.5 463.2 532.6 462.9 534.9 463.2 537.4 464.1 539.8 465.5 542.3 467.4 544.6 469.8 546.7 472.5 548.5 475.5 550 478.6 551.1 481.8 551.8 485 552 487.9 551.8 490.7 551.1 493 550 494.9 548.5 496.4 545.9 497.9 544.1 498.7 542 499 539.7 498.7 537.2 497.9 534.8 496.4 532.3 494.5 530 492.1 527.9 489.4 526.1 486.4 524.6 483.3 523.5 480.1 522.8 476.9z"/>
<g stroke-width=".7" stroke-linejoin="round">
<path fill="#818181" stroke="#818181" d="M604.6 403.9 606.9 402.9 612.5 399.7 610.2 400.6zM642 454.4 640.7 456.7 646.3 453.5 647.7 451.1z"/>
<path fill="#787878" stroke="#787878" d="M639 458.6 637.1 460.1 642.7 456.9 644.7 455.4zM640.7 456.7 639 458.6 644.7 455.4 646.3 453.5z"/>
<path fill="#878787" stroke="#878787" d="M606.9 402.9 609.4 402.4 615 399.2 612.5 399.7z"/>
<path fill="#909090" stroke="#909090" d="M609.4 402.4 612 402.4 617.7 399.2 615 399.2zM643 451.7 642 454.4 647.7 451.1 648.6 448.4z"/>
<path fill="#9c9c9c" stroke="#9c9c9c" d="M612 402.4 614.9 403 620.5 399.7 617.7 399.2z"/>
<path fill="#9f9f9f" stroke="#9f9f9f" d="M643.6 448.6 643 451.7 648.6 448.4 649.2 445.3z"/>
<path fill="#ababab" stroke="#ababab" d="M614.9 403 617.8 404 623.5 400.7 620.5 399.7z"/>
<path fill="#bababa" stroke="#bababa" d="M617.8 404 620.8 405.5 626.5 402.2 623.5 400.7z"/>
<path fill="#aeaeae" stroke="#aeaeae" d="M643.8 445.2 643.6 448.6 649.2 445.3 649.4 442z"/>
<path fill="#c9c9c9" stroke="#c9c9c9" d="M620.8 405.5 623.8 407.5 629.5 404.2 626.5 402.2z"/>
<path fill="#bdbdbd" stroke="#bdbdbd" d="M643.6 441.7 643.8 445.2 649.4 442 649.2 438.4z"/>
<path fill="#d5d5d5" stroke="#d5d5d5" d="M623.8 407.5 626.8 409.8 632.4 406.6 629.5 404.2z"/>
<path fill="#cccccc" stroke="#cccccc" d="M643 437.9 643.6 441.7 649.2 438.4 648.6 434.7z"/>
<path fill="#e1e1e1" stroke="#e1e1e1" d="M626.8 409.8 629.6 412.6 635.2 409.3 632.4 406.6z"/>
<path fill="#dbdbdb" stroke="#dbdbdb" d="M642 434.1 643 437.9 648.6 434.7 647.7 430.9z"/>
<path fill="#eaeaea" stroke="#eaeaea" d="M629.6 412.6 632.3 415.7 637.9 412.4 635.2 409.3zM632.3 415.7 634.8 419 640.4 415.8 637.9 412.4zM639 426.4 640.7 430.2 646.3 427 644.7 423.1zM637.1 422.6 639 426.4 644.7 423.1 642.7 419.4zM634.8 419 637.1 422.6 642.7 419.4 640.4 415.8z"/>
<path fill="#e4e4e4" stroke="#e4e4e4" d="M640.7 430.2 642 434.1 647.7 430.9 646.3 427z"/>
</g>
<path d="M597.9 418.8 598.1 415.4 598.7 412.3 599.6 409.6 601 407.3 602.6 405.4 604.6 403.9 606.9 402.9 609.4 402.4 612 402.4 614.9 403 617.8 404 620.8 405.5 623.8 407.5 626.8 409.8 629.6 412.6 632.3 415.7 634.8 419 637.1 422.6 639 426.4 640.7 430.2 642 434.1 643 437.9 643.6 441.7 643.8 445.2 643.6 448.6 643 451.7 642 454.4 640.7 456.7 639 458.6 637.1 460.1 634.8 461.1 632.3 461.6 629.6 461.6 626.8 461 623.8 460 620.8 458.5 617.8 456.5 614.9 454.2 612 451.4 609.4 448.3 606.9 445 604.6 441.4 602.6 437.6 601 433.8 599.6 429.9 598.7 426.1 598.1 422.3z" fill="#eeeeee" fill-rule="evenodd" stroke="#3a3a3a" stroke-width=".80" stroke-linejoin="round"/>
<path fill="none" stroke="#3a3a3a" stroke-width=".80" stroke-linejoin="round" d="M597.9 418.8 598.1 415.4 598.7 412.3 599.6 409.6 601 407.3 602.6 405.4 604.6 403.9 610.2 400.6 612.5 399.7 615 399.2 617.7 399.2 620.5 399.7 623.5 400.8 626.5 402.2 629.5 404.2 632.4 406.6 635.2 409.3 637.9 412.4 640.4 415.8 642.7 419.4 644.7 423.1 646.3 427 647.7 430.9 648.6 434.7 649.2 438.4 649.4 442 649.2 445.4 648.6 448.4 647.7 451.1 646.3 453.5 644.7 455.4 642.7 456.9 637 460.1 634.8 461.1 632.3 461.6 629.6 461.6 626.8 461 623.8 460 620.8 458.5 617.8 456.5 614.9 454.2 612 451.4 609.4 448.3 606.9 445 604.6 441.4 602.6 437.6 601 433.8 599.6 429.9 598.7 426.1 598.1 422.3z"/>
<path fill="#bbb" stroke="#333" stroke-width="1.8" stroke-linejoin="round" d="M598.1 413.8 598.4 413 599.4 412.8 601.9 414.2 602.9 414.2 603.2 413.7 603.4 413 602.8 411.6 600.9 408.5 600.5 407 600.8 406.3 601.3 405.8 602.4 406.1 604.9 408.4 606 409 606.5 408.7 606.8 408.2 606.7 406.9 605.4 403.5 605.4 402.2 605.9 401.8 606.6 401.6 607.8 402.5 609.9 405.5 610.9 406.4 611.5 406.4 612.1 406.3 612.3 405.1 611.9 402 612.3 400.9 613 400.9 613.8 401.1 614.8 402.3 616.3 405.6 617.2 406.9 617.8 407.2 618.5 407.4 619.1 406.6 619.5 403.9 620.3 403.3 621.1 403.7 621.9 404.2 622.7 405.7 623.3 408.9 623.9 410.3 624.6 410.9 625.3 411.4 626.1 411.1 627.5 409.3 628.5 409.2 629.3 409.8 630 410.7 630.5 412.2 630.2 415 630.5 416.3 631 417.1 631.7 417.8 632.7 418 634.7 417.2 635.8 417.7 636.5 418.6 637.1 419.6 637.2 421 636 423 635.9 424.2 636.3 425.1 636.8 425.9 637.9 426.5 640.3 427 641.5 427.9 642 428.9 642.4 430 642 431.1 640.1 432 639.7 432.9 639.8 433.8 640.2 434.6 641.2 435.7 643.8 437.2 644.8 438.5 645 439.5 645.1 440.5 644.4 441.2 642 441 641.2 441.4 641.2 442.2 641.3 443 642.1 444.3 644.5 446.8 645.3 448.3 645.2 449.2 645 450 644 450.2 641.4 448.8 640.5 448.8 640.2 449.3 640 450 640.5 451.4 642.5 454.5 642.9 456 642.6 456.7 642.1 457.2 641 456.9 638.5 454.6 637.4 454 636.9 454.3 636.6 454.8 636.7 456.1 638 459.5 638 460.8 637.4 461.2 636.8 461.4 635.6 460.5 633.5 457.5 632.5 456.6 631.8 456.6 631.3 456.7 631.1 457.9 631.5 461 631.1 462.1 630.4 462.1 629.6 461.9 628.5 460.7 627.1 457.4 626.2 456.1 625.5 455.8 624.9 455.6 624.3 456.4 623.8 459.1 623.1 459.7 622.3 459.3 621.4 458.8 620.7 457.3 620.1 454.1 619.4 452.7 618.8 452.1 618.1 451.6 617.2 451.9 615.9 453.7 614.9 453.8 614.1 453.2 613.3 452.3 612.9 450.8 613.2 448 612.9 446.7 612.4 445.9 611.7 445.2 610.7 445 608.7 445.8 607.5 445.3 606.8 444.4 606.3 443.4 606.2 442 607.4 440 607.5 438.8 607.1 437.9 606.6 437.1 605.5 436.5 603 436 601.9 435.1 601.4 434.1 601 433 601.4 431.9 603.3 431 603.7 430.1 603.6 429.2 603.2 428.4 602.2 427.3 599.6 425.8 598.6 424.5 598.3 423.5 598.3 422.5 599 421.8 601.4 422 602.2 421.6 602.2 420.8 602.1 420 601.3 418.7 598.9 416.2 598.1 414.7z"/>
<g stroke-linejoin="round">
<path fill="none" stroke="#333" stroke-width=".80" d="M591 437.9 601.4 431.9"/>
<path fill="#515151" stroke="#515151" stroke-width=".6" d="M591 437.9 592.9 437 603.3 431 601.4 431.9z"/>
<path fill="none" stroke="#333" stroke-width=".80" d="M605.5 459.7 615.9 453.7M592.9 437 603.3 431"/>
<path fill="#4b4b4b" stroke="#4b4b4b" stroke-width=".6" d="M606.8 457.9 605.5 459.7 615.9 453.7 617.2 451.9z"/>
<path fill="none" stroke="#333" stroke-width=".80" d="M588.6 427.8 599 421.8M606.8 457.9 617.2 451.9"/>
<path fill="#6f6f6f" stroke="#6f6f6f" stroke-width=".6" d="M588.6 427.8 591 428 601.4 422 599 421.8z"/>
<path fill="none" stroke="#333" stroke-width=".80" d="M612.7 465.7 623.1 459.7M591 428 601.4 422"/>
<path fill="#515151" stroke="#515151" stroke-width=".6" d="M591 428 591.8 427.6 602.2 421.6 601.4 422z"/>
<path fill="#454545" stroke="#454545" stroke-width=".6" d="M613.5 465.1 612.7 465.7 623.1 459.7 623.8 459.1z"/>
<path fill="none" stroke="#333" stroke-width=".80" d="M591.8 427.6 602.2 421.6M613.5 465.1 623.8 459.1"/>
<path fill="#7e7e7e" stroke="#7e7e7e" stroke-width=".6" d="M613.9 462.4 613.5 465.1 623.8 459.1 624.3 456.4z"/>
<path fill="none" stroke="#333" stroke-width=".80" d="M588 419 598.4 413"/>
<path fill="#606060" stroke="#606060" stroke-width=".6" d="M588 419 589 418.8 599.4 412.8 598.4 413z"/>
<path fill="none" stroke="#333" stroke-width=".80" d="M613.9 462.4 624.3 456.4M589 418.8 599.4 412.8"/>
<path fill="#4b4b4b" stroke="#4b4b4b" stroke-width=".6" d="M614.5 461.6 613.9 462.4 624.3 456.4 624.9 455.6z"/>
<path fill="none" stroke="#333" stroke-width=".80" d="M614.5 461.6 624.9 455.6"/>
<path fill="#a5a5a5" stroke="#a5a5a5" stroke-width=".6" d="M589 418.8 591.5 420.2 601.9 414.2 599.4 412.8z"/>
<path fill="none" stroke="#333" stroke-width=".80" d="M591.5 420.2 601.9 414.2"/>
<path fill="#6f6f6f" stroke="#6f6f6f" stroke-width=".6" d="M591.5 420.2 592.5 420.2 602.9 414.2 601.9 414.2z"/>
<path fill="none" stroke="#333" stroke-width=".80" d="M592.5 420.2 602.9 414.2M620.7 468.1 631.1 462.1"/>
<path fill="#636363" stroke="#636363" stroke-width=".6" d="M621.1 467 620.7 468.1 631.1 462.1 631.5 461z"/>
<path fill="none" stroke="#333" stroke-width=".80" d="M621.1 467 631.5 461"/>
<path fill="#bababa" stroke="#bababa" stroke-width=".6" d="M620.7 463.9 621.1 467 631.5 461 631.1 457.9z"/>
<path fill="none" stroke="#333" stroke-width=".80" d="M620.7 463.9 631.1 457.9M590.9 411.8 601.3 405.8"/>
<path fill="#7b7b7b" stroke="#7b7b7b" stroke-width=".6" d="M620.9 462.7 620.7 463.9 631.1 457.9 631.3 456.7z"/>
<path fill="#8d8d8d" stroke="#8d8d8d" stroke-width=".6" d="M590.9 411.8 592 412.1 602.4 406.1 601.3 405.8z"/>
<path fill="none" stroke="#333" stroke-width=".80" d="M620.9 462.7 631.3 456.7M592 412.1 602.4 406.1"/>
<path fill="#d8d8d8" stroke="#d8d8d8" stroke-width=".6" d="M592 412.1 594.5 414.4 604.9 408.4 602.4 406.1z"/>
<path fill="none" stroke="#333" stroke-width=".80" d="M594.5 414.4 604.9 408.4"/>
<path fill="#a5a5a5" stroke="#a5a5a5" stroke-width=".6" d="M594.5 414.4 595.6 415 606 409 604.9 408.4z"/>
<path fill="none" stroke="#333" stroke-width=".80" d="M595.6 415 606 409"/>
<path fill="#515151" stroke="#515151" stroke-width=".6" d="M595.6 415 596.1 414.7 606.5 408.7 606 409z"/>
<path fill="none" stroke="#333" stroke-width=".80" d="M596.1 414.7 606.5 408.7M627.1 467.2 637.4 461.2"/>
<path fill="#454545" stroke="#454545" stroke-width=".6" d="M627.6 466.8 627.1 467.2 637.4 461.2 638 460.8z"/>
<path fill="none" stroke="#333" stroke-width=".80" d="M627.6 466.8 638 460.8"/>
<path fill="#9f9f9f" stroke="#9f9f9f" stroke-width=".6" d="M627.6 465.5 627.6 466.8 638 460.8 638 459.5z"/>
<path fill="none" stroke="#333" stroke-width=".80" d="M627.6 465.5 638 459.5"/>
<path fill="#e7e7e7" stroke="#e7e7e7" stroke-width=".6" d="M626.3 462.1 627.6 465.5 638 459.5 636.7 456.1z"/>
<path fill="none" stroke="#333" stroke-width=".80" d="M626.3 462.1 636.7 456.1"/>
<path fill="#bababa" stroke="#bababa" stroke-width=".6" d="M626.2 460.8 626.3 462.1 636.7 456.1 636.6 454.8z"/>
<path fill="none" stroke="#333" stroke-width=".80" d="M595.5 407.8 605.9 401.8M626.2 460.8 636.6 454.8"/>
<path fill="#484848" stroke="#484848" stroke-width=".6" d="M626.5 460.3 626.2 460.8 636.6 454.8 636.9 454.3z"/>
<path fill="#5d5d5d" stroke="#5d5d5d" stroke-width=".6" d="M595.5 407.8 596.2 407.6 606.6 401.6 605.9 401.8z"/>
<path fill="none" stroke="#333" stroke-width=".80" d="M626.5 460.3 636.9 454.3M596.2 407.6 606.6 401.6"/>
<path fill="#c3c3c3" stroke="#c3c3c3" stroke-width=".6" d="M596.2 407.6 597.4 408.5 607.8 402.5 606.6 401.6z"/>
<path fill="none" stroke="#333" stroke-width=".80" d="M597.4 408.5 607.8 402.5"/>
<path fill="#eaeaea" stroke="#eaeaea" stroke-width=".6" d="M597.4 408.5 599.5 411.5 609.9 405.5 607.8 402.5z"/>
<path fill="none" stroke="#333" stroke-width=".80" d="M599.5 411.5 609.9 405.5"/>
<path fill="#d8d8d8" stroke="#d8d8d8" stroke-width=".6" d="M599.5 411.5 600.5 412.4 610.9 406.4 609.9 405.5z"/>
<path fill="none" stroke="#333" stroke-width=".80" d="M600.5 412.4 610.9 406.4"/>
<path fill="#6c6c6c" stroke="#6c6c6c" stroke-width=".6" d="M600.5 412.4 601.1 412.4 611.5 406.4 610.9 406.4z"/>
<path fill="#575757" stroke="#575757" stroke-width=".6" d="M601.1 412.4 601.7 412.3 612.1 406.3 611.5 406.4z"/>
<path fill="none" stroke="#333" stroke-width=".80" d="M601.7 412.3 612.1 406.3M631.7 463.2 642.1 457.2"/>
<path fill="#454545" stroke="#454545" stroke-width=".6" d="M632.2 462.7 631.7 463.2 642.1 457.2 642.6 456.7z"/>
<path fill="none" stroke="#333" stroke-width=".80" d="M632.2 462.7 642.6 456.7"/>
<path fill="#606060" stroke="#606060" stroke-width=".6" d="M632.5 462 632.2 462.7 642.6 456.7 642.9 456z"/>
<path fill="none" stroke="#333" stroke-width=".80" d="M632.5 462 642.9 456"/>
<path fill="#d8d8d8" stroke="#d8d8d8" stroke-width=".6" d="M632.1 460.5 632.5 462 642.9 456 642.5 454.5z"/>
<path fill="none" stroke="#333" stroke-width=".80" d="M630.1 457.4 640.5 451.4"/>
<path fill="#eaeaea" stroke="#eaeaea" stroke-width=".6" d="M630.1 457.4 632.1 460.5 642.5 454.5 640.5 451.4z"/>
<path fill="#e7e7e7" stroke="#e7e7e7" stroke-width=".6" d="M629.6 456 630.1 457.4 640.5 451.4 640 450z"/>
<path fill="none" stroke="#333" stroke-width=".80" d="M632.1 460.5 642.5 454.5M629.6 456 640 450"/>
<path fill="#787878" stroke="#787878" stroke-width=".6" d="M629.8 455.3 629.6 456 640 450 640.2 449.3z"/>
<path fill="none" stroke="#333" stroke-width=".80" d="M601.9 406.9 612.3 400.9"/>
<path fill="#575757" stroke="#575757" stroke-width=".6" d="M630.1 454.8 629.8 455.3 640.2 449.3 640.5 448.8z"/>
<path fill="#666666" stroke="#666666" stroke-width=".6" d="M601.9 406.9 602.6 406.9 613 400.9 612.3 400.9z"/>
<path fill="none" stroke="#333" stroke-width=".80" d="M630.1 454.8 640.5 448.8M602.6 406.9 613 400.9"/>
<path fill="#878787" stroke="#878787" stroke-width=".6" d="M602.6 406.9 603.4 407.1 613.8 401.1 613 400.9z"/>
<path fill="none" stroke="#333" stroke-width=".80" d="M605.9 411.6 616.3 405.6"/>
<path fill="#eaeaea" stroke="#eaeaea" stroke-width=".6" d="M605.9 411.6 606.8 412.9 617.2 406.9 616.3 405.6z"/>
<path fill="none" stroke="#333" stroke-width=".80" d="M603.4 407.1 613.8 401.1M606.8 412.9 617.2 406.9"/>
<path fill="#eaeaea" stroke="#eaeaea" stroke-width=".6" d="M604.5 408.3 605.9 411.6 616.3 405.6 614.8 402.3zM603.4 407.1 604.5 408.3 614.8 402.3 613.8 401.1z"/>
<path fill="#a2a2a2" stroke="#a2a2a2" stroke-width=".6" d="M606.8 412.9 607.4 413.2 617.8 407.2 617.2 406.9z"/>
<path fill="none" stroke="#333" stroke-width=".80" d="M604.5 408.3 614.8 402.3"/>
<path fill="#7e7e7e" stroke="#7e7e7e" stroke-width=".6" d="M607.4 413.2 608.1 413.4 618.5 407.4 617.8 407.2z"/>
<path fill="none" stroke="#333" stroke-width=".80" d="M608.1 413.4 618.5 407.4M634.6 456 645 450M630.9 449 641.3 443"/>
<path fill="#eaeaea" stroke="#eaeaea" stroke-width=".6" d="M630.9 449 631.7 450.3 642.1 444.3 641.3 443z"/>
<path fill="none" stroke="#333" stroke-width=".80" d="M631.7 450.3 642.1 444.3"/>
<path fill="#6f6f6f" stroke="#6f6f6f" stroke-width=".6" d="M634.8 455.2 634.6 456 645 450 645.2 449.2z"/>
<path fill="#b7b7b7" stroke="#b7b7b7" stroke-width=".6" d="M630.8 448.2 630.9 449 641.3 443 641.2 442.2z"/>
<path fill="none" stroke="#333" stroke-width=".80" d="M634.8 455.2 645.2 449.2"/>
<path fill="#e1e1e1" stroke="#e1e1e1" stroke-width=".6" d="M631.7 450.3 634.1 452.8 644.5 446.8 642.1 444.3z"/>
<path fill="#909090" stroke="#909090" stroke-width=".6" d="M630.8 447.4 630.8 448.2 641.2 442.2 641.2 441.4z"/>
<path fill="#999999" stroke="#999999" stroke-width=".6" d="M634.9 454.3 634.8 455.2 645.2 449.2 645.3 448.3z"/>
<path fill="none" stroke="#333" stroke-width=".80" d="M630.8 447.4 641.2 441.4M634.9 454.3 645.3 448.3"/>
<path fill="#eaeaea" stroke="#eaeaea" stroke-width=".6" d="M634.1 452.8 634.9 454.3 645.3 448.3 644.5 446.8z"/>
<path fill="none" stroke="#333" stroke-width=".80" d="M634.1 452.8 644.5 446.8M613.5 416.3 623.9 410.3"/>
<path fill="#eaeaea" stroke="#eaeaea" stroke-width=".6" d="M612.9 414.9 613.5 416.3 623.9 410.3 623.3 408.9z"/>
<path fill="#d5d5d5" stroke="#d5d5d5" stroke-width=".6" d="M613.5 416.3 614.2 416.9 624.6 410.9 623.9 410.3z"/>
<path fill="none" stroke="#333" stroke-width=".80" d="M612.9 414.9 623.3 408.9M609.9 409.3 620.3 403.3"/>
<path fill="#b4b4b4" stroke="#b4b4b4" stroke-width=".6" d="M614.2 416.9 614.9 417.4 625.3 411.4 624.6 410.9z"/>
<path fill="#969696" stroke="#969696" stroke-width=".6" d="M609.9 409.3 610.7 409.7 621.1 403.7 620.3 403.3z"/>
<path fill="none" stroke="#333" stroke-width=".80" d="M614.9 417.4 625.3 411.4"/>
<path fill="#c6c6c6" stroke="#c6c6c6" stroke-width=".6" d="M612.3 411.7 612.9 414.9 623.3 408.9 622.7 405.7z"/>
<path fill="none" stroke="#333" stroke-width=".80" d="M610.7 409.7 621.1 403.7"/>
<path fill="#c0c0c0" stroke="#c0c0c0" stroke-width=".6" d="M610.7 409.7 611.5 410.2 621.9 404.2 621.1 403.7z"/>
<path fill="#575757" stroke="#575757" stroke-width=".6" d="M614.9 417.4 615.8 417.1 626.1 411.1 625.3 411.4z"/>
<path fill="none" stroke="#333" stroke-width=".80" d="M612.3 411.7 622.7 405.7"/>
<path fill="#eaeaea" stroke="#eaeaea" stroke-width=".6" d="M611.5 410.2 612.3 411.7 622.7 405.7 621.9 404.2z"/>
<path fill="none" stroke="#333" stroke-width=".80" d="M611.5 410.2 621.9 404.2M615.8 417.1 626.1 411.1M629.8 440.6 640.2 434.6"/>
<path fill="#e7e7e7" stroke="#e7e7e7" stroke-width=".6" d="M629.4 439.8 629.8 440.6 640.2 434.6 639.8 433.8z"/>
<path fill="#e1e1e1" stroke="#e1e1e1" stroke-width=".6" d="M629.8 440.6 630.8 441.7 641.2 435.7 640.2 434.6z"/>
<path fill="#c9c9c9" stroke="#c9c9c9" stroke-width=".6" d="M629.3 438.9 629.4 439.8 639.8 433.8 639.7 432.9z"/>
<path fill="none" stroke="#333" stroke-width=".80" d="M630.8 441.7 641.2 435.7M634 447.2 644.4 441.2M629.3 438.9 639.7 432.9M620.1 422.3 630.5 416.3"/>
<path fill="#eaeaea" stroke="#eaeaea" stroke-width=".6" d="M620.1 422.3 620.6 423.1 631 417.1 630.5 416.3z"/>
<path fill="#454545" stroke="#454545" stroke-width=".6" d="M634.7 446.5 634 447.2 644.4 441.2 645.1 440.5z"/>
<path fill="#545454" stroke="#545454" stroke-width=".6" d="M629.7 438 629.3 438.9 639.7 432.9 640.1 432z"/>
<path fill="#e4e4e4" stroke="#e4e4e4" stroke-width=".6" d="M620.6 423.1 621.3 423.8 631.7 417.8 631 417.1z"/>
<path fill="#c6c6c6" stroke="#c6c6c6" stroke-width=".6" d="M619.8 421 620.1 422.3 630.5 416.3 630.2 415z"/>
<path fill="none" stroke="#333" stroke-width=".80" d="M621.3 423.8 631.7 417.8"/>
<path fill="#b1b1b1" stroke="#b1b1b1" stroke-width=".6" d="M630.8 441.7 633.4 443.2 643.8 437.2 641.2 435.7z"/>
<path fill="none" stroke="#333" stroke-width=".80" d="M619.8 421 630.2 415M629.7 438 640.1 432M634.7 446.5 645.1 440.5"/>
<path fill="#7b7b7b" stroke="#7b7b7b" stroke-width=".6" d="M621.3 423.8 622.3 424 632.7 418 631.7 417.8z"/>
<path fill="#eaeaea" stroke="#eaeaea" stroke-width=".6" d="M625.9 431.1 626.4 431.9 636.8 425.9 636.3 425.1z"/>
<path fill="none" stroke="#333" stroke-width=".80" d="M626.4 431.9 636.8 425.9"/>
<path fill="#eaeaea" stroke="#eaeaea" stroke-width=".6" d="M625.5 430.2 625.9 431.1 636.3 425.1 635.9 424.2z"/>
<path fill="#ababab" stroke="#ababab" stroke-width=".6" d="M634.6 445.5 634.7 446.5 645.1 440.5 645 439.5z"/>
<path fill="none" stroke="#333" stroke-width=".80" d="M625.5 430.2 635.9 424.2M617.1 415.3 627.5 409.3M634.6 445.5 645 439.5"/>
<path fill="#b4b4b4" stroke="#b4b4b4" stroke-width=".6" d="M626.4 431.9 627.5 432.5 637.9 426.5 636.8 425.9z"/>
<path fill="none" stroke="#333" stroke-width=".80" d="M633.4 443.2 643.8 437.2M622.3 424 632.7 418"/>
<path fill="#8d8d8d" stroke="#8d8d8d" stroke-width=".6" d="M625.6 429 625.5 430.2 635.9 424.2 636 423z"/>
<path fill="#d2d2d2" stroke="#d2d2d2" stroke-width=".6" d="M634.4 444.5 634.6 445.5 645 439.5 644.8 438.5z"/>
<path fill="#eaeaea" stroke="#eaeaea" stroke-width=".6" d="M633.4 443.2 634.4 444.5 644.8 438.5 643.8 437.2z"/>
<path fill="#8a8a8a" stroke="#8a8a8a" stroke-width=".6" d="M620.1 418.2 619.8 421 630.2 415 630.5 412.2z"/>
<path fill="none" stroke="#333" stroke-width=".80" d="M634.4 444.5 644.8 438.5M627.5 432.5 637.9 426.5"/>
<path fill="#636363" stroke="#636363" stroke-width=".6" d="M617.1 415.3 618.1 415.2 628.5 409.2 627.5 409.3z"/>
<path fill="none" stroke="#333" stroke-width=".80" d="M625.6 429 636 423M618.1 415.2 628.5 409.2"/>
<path fill="#cccccc" stroke="#cccccc" stroke-width=".6" d="M618.1 415.2 618.9 415.8 629.3 409.8 628.5 409.2z"/>
<path fill="none" stroke="#333" stroke-width=".80" d="M620.1 418.2 630.5 412.2"/>
<path fill="#545454" stroke="#545454" stroke-width=".6" d="M622.3 424 624.3 423.2 634.7 417.2 632.7 418z"/>
<path fill="none" stroke="#333" stroke-width=".80" d="M618.9 415.8 629.3 409.8"/>
<path fill="#dbdbdb" stroke="#dbdbdb" stroke-width=".6" d="M619.6 416.7 620.1 418.2 630.5 412.2 630 410.7z"/>
<path fill="#7b7b7b" stroke="#7b7b7b" stroke-width=".6" d="M627.5 432.5 630 433 640.3 427 637.9 426.5z"/>
<path fill="#eaeaea" stroke="#eaeaea" stroke-width=".6" d="M618.9 415.8 619.6 416.7 630 410.7 629.3 409.8z"/>
<path fill="none" stroke="#333" stroke-width=".80" d="M619.6 416.7 630 410.7"/>
<path fill="#545454" stroke="#545454" stroke-width=".6" d="M626.8 427 625.6 429 636 423 637.2 421z"/>
<path fill="none" stroke="#333" stroke-width=".80" d="M631.6 437.1 642 431.1"/>
<path fill="#696969" stroke="#696969" stroke-width=".6" d="M632 436 631.6 437.1 642 431.1 642.4 430z"/>
<path fill="none" stroke="#333" stroke-width=".80" d="M624.3 423.2 634.7 417.2M630 433 640.3 427M632 436 642.4 430M626.8 427 637.2 421"/>
<path fill="#c9c9c9" stroke="#c9c9c9" stroke-width=".6" d="M630 433 631.1 433.9 641.5 427.9 640.3 427z"/>
<path fill="#939393" stroke="#939393" stroke-width=".6" d="M624.3 423.2 625.4 423.7 635.8 417.7 634.7 417.2z"/>
<path fill="#dedede" stroke="#dedede" stroke-width=".6" d="M631.6 434.9 632 436 642.4 430 642 428.9z"/>
<path fill="none" stroke="#333" stroke-width=".80" d="M631.6 434.9 642 428.9"/>
<path fill="#eaeaea" stroke="#eaeaea" stroke-width=".6" d="M631.1 433.9 631.6 434.9 642 428.9 641.5 427.9z"/>
<path fill="none" stroke="#333" stroke-width=".80" d="M631.1 433.9 641.5 427.9"/>
<path fill="#a5a5a5" stroke="#a5a5a5" stroke-width=".6" d="M626.7 425.6 626.8 427 637.2 421 637.1 419.6z"/>
<path fill="none" stroke="#333" stroke-width=".80" d="M625.4 423.7 635.8 417.7"/>
<path fill="#eaeaea" stroke="#eaeaea" stroke-width=".6" d="M625.4 423.7 626.2 424.6 636.5 418.6 635.8 417.7z"/>
<path fill="none" stroke="#333" stroke-width=".80" d="M626.7 425.6 637.1 419.6"/>
<path fill="#eaeaea" stroke="#eaeaea" stroke-width=".6" d="M626.2 424.6 626.7 425.6 637.1 419.6 636.5 418.6z"/>
<path fill="none" stroke="#333" stroke-width=".80" d="M626.2 424.6 636.5 418.6"/>
</g>
<clipPath id="c28"><path d="M599.6 430.8 599.8 428.7 600.2 426.9 600.9 425.4 601.8 424.1 603 423.2 604.4 422.6 606 422.4 607.7 422.6 609.5 423.1 611.3 424 613.1 425.2 614.9 426.7 616.6 428.5 618.2 430.5 619.6 432.7 620.8 435 621.7 437.4 622.4 439.7 622.8 442.1 623 444.2 622.8 446.3 622.4 448.1 621.7 449.6 620.8 450.9 619.6 451.8 618.2 452.4 616.6 452.6 614.9 452.4 613.1 451.9 611.3 451 609.5 449.8 607.7 448.3 606 446.5 604.4 444.5 603 442.3 601.8 440 600.9 437.6 600.2 435.3 599.8 432.9z"/></clipPath>
<g clip-path="url(#c28)">
<path fill="#fff" d="M599.6 430.8 599.8 428.7 600.2 426.9 600.9 425.4 601.8 424.1 603 423.2 604.4 422.6 606 422.4 607.7 422.6 609.5 423.1 611.3 424 613.1 425.2 614.9 426.7 616.6 428.5 618.2 430.5 619.6 432.7 620.8 435 621.7 437.4 622.4 439.7 622.8 442.1 623 444.2 622.8 446.3 622.4 448.1 621.7 449.6 620.8 450.9 619.6 451.8 618.2 452.4 616.6 452.6 614.9 452.4 613.1 451.9 611.3 451 609.5 449.8 607.7 448.3 606 446.5 604.4 444.5 603 442.3 601.8 440 600.9 437.6 600.2 435.3 599.8 432.9z"/>
<g stroke-width=".7" stroke-linejoin="round">
<path fill="#eaeaea" stroke="#eaeaea" d="M603 442.3 601.8 440 612.2 434 613.4 436.3zM604.4 444.5 603 442.3 613.4 436.3 614.8 438.5zM606 446.5 604.4 444.5 614.8 438.5 616.4 440.5zM601.8 440 600.9 437.6 611.3 431.6 612.2 434z"/>
<path fill="#e4e4e4" stroke="#e4e4e4" d="M607.7 448.3 606 446.5 616.4 440.5 618.1 442.3z"/>
<path fill="#dbdbdb" stroke="#dbdbdb" d="M600.9 437.6 600.2 435.3 610.6 429.3 611.3 431.6z"/>
<path fill="#c6c6c6" stroke="#c6c6c6" d="M600.2 435.3 599.8 432.9 610.1 426.9 610.6 429.3z"/>
<path fill="#d2d2d2" stroke="#d2d2d2" d="M609.5 449.8 607.7 448.3 618.1 442.3 619.9 443.8z"/>
<path fill="#ababab" stroke="#ababab" d="M599.8 432.9 599.6 430.8 610 424.8 610.1 426.9z"/>
<path fill="#bababa" stroke="#bababa" d="M611.3 451 609.5 449.8 619.9 443.8 621.7 445z"/>
<path fill="#909090" stroke="#909090" d="M599.6 430.8 599.8 428.7 610.1 422.7 610 424.8z"/>
<path fill="#a2a2a2" stroke="#a2a2a2" d="M613.1 451.9 611.3 451 621.7 445 623.5 445.9z"/>
<path fill="#757575" stroke="#757575" d="M599.8 428.7 600.2 426.9 610.6 420.9 610.1 422.7z"/>
<path fill="#8a8a8a" stroke="#8a8a8a" d="M614.9 452.4 613.1 451.9 623.5 445.9 625.3 446.4z"/>
<path fill="#5d5d5d" stroke="#5d5d5d" d="M600.2 426.9 600.9 425.4 611.3 419.4 610.6 420.9z"/>
<path fill="#727272" stroke="#727272" d="M616.6 452.6 614.9 452.4 625.3 446.4 627 446.6z"/>
<path fill="#484848" stroke="#484848" d="M600.9 425.4 601.8 424.1 612.2 418.1 611.3 419.4z"/>
<path fill="#606060" stroke="#606060" d="M618.2 452.4 616.6 452.6 627 446.6 628.6 446.4z"/>
<path fill="#454545" stroke="#454545" d="M601.8 424.1 603 423.2 613.4 417.2 612.2 418.1z"/>
<path fill="#545454" stroke="#545454" d="M619.6 451.8 618.2 452.4 628.6 446.4 630 445.8z"/>
</g>
</g>
<path d="M587.8 419.8 588 419 589 418.8 591.5 420.2 592.5 420.2 592.8 419.7 593 419 592.5 417.6 590.5 414.5 590.1 413 590.4 412.3 590.9 411.8 592 412.1 594.5 414.4 595.6 415 596.1 414.7 596.4 414.2 596.3 412.9 595 409.5 595 408.2 595.5 407.8 596.2 407.6 597.4 408.5 599.5 411.5 600.5 412.4 601.1 412.4 601.7 412.3 601.9 411.1 601.5 408 601.9 406.9 602.6 406.9 603.4 407.1 604.5 408.3 605.9 411.6 606.8 412.9 607.4 413.2 608.1 413.4 608.7 412.6 609.1 409.9 609.9 409.3 610.7 409.7 611.5 410.2 612.3 411.7 612.9 414.9 613.5 416.3 614.2 416.9 614.9 417.4 615.8 417.1 617.1 415.3 618.1 415.2 618.9 415.8 619.6 416.7 620.1 418.2 619.8 421 620.1 422.3 620.6 423.1 621.3 423.8 622.3 424 624.3 423.2 625.4 423.7 626.2 424.6 626.7 425.6 626.8 427 625.6 429 625.5 430.2 625.9 431.1 626.4 431.9 627.5 432.5 630 433 631.1 433.9 631.6 434.9 632 436 631.6 437.1 629.7 438 629.3 438.9 629.4 439.8 629.8 440.6 630.8 441.7 633.4 443.2 634.4 444.5 634.6 445.5 634.7 446.5 634 447.2 631.6 447 630.8 447.4 630.8 448.2 630.9 449 631.7 450.3 634.1 452.8 634.9 454.3 634.8 455.2 634.6 456 633.6 456.2 631.1 454.8 630.1 454.8 629.8 455.3 629.6 456 630.1 457.4 632.1 460.5 632.5 462 632.2 462.7 631.7 463.2 630.6 462.9 628.1 460.6 627 460 626.5 460.3 626.2 460.8 626.3 462.1 627.6 465.5 627.6 466.8 627.1 467.2 626.4 467.4 625.2 466.5 623.1 463.5 622.1 462.6 621.5 462.6 620.9 462.7 620.7 463.9 621.1 467 620.7 468.1 620 468.1 619.2 467.9 618.1 466.7 616.7 463.4 615.8 462.1 615.2 461.8 614.5 461.6 613.9 462.4 613.5 465.1 612.7 465.7 611.9 465.3 611.1 464.8 610.3 463.3 609.7 460.1 609.1 458.7 608.4 458.1 607.7 457.6 606.8 457.9 605.5 459.7 604.5 459.8 603.7 459.2 603 458.3 602.5 456.8 602.8 454 602.5 452.7 602 451.9 601.3 451.2 600.3 451 598.3 451.8 597.2 451.3 596.4 450.4 595.9 449.4 595.8 448 597 446 597.1 444.8 596.7 443.9 596.2 443.1 595.1 442.5 592.6 442 591.5 441.1 591 440.1 590.6 439 591 437.9 592.9 437 593.3 436.1 593.2 435.2 592.8 434.4 591.8 433.3 589.2 431.8 588.2 430.5 588 429.5 587.9 428.5 588.6 427.8 591 428 591.8 427.6 591.8 426.8 591.7 426 590.9 424.7 588.5 422.2 587.7 420.7zM599.6 430.8 599.8 428.7 600.2 426.9 600.9 425.4 601.8 424.1 603 423.2 604.4 422.6 606 422.4 607.7 422.6 609.5 423.1 611.3 424 613.1 425.2 614.9 426.7 616.6 428.5 618.2 430.5 619.6 432.7 620.8 435 621.7 437.4 622.4 439.7 622.8 442.1 623 444.2 622.8 446.3 622.4 448.1 621.7 449.6 620.8 450.9 619.6 451.8 618.2 452.4 616.6 452.6 614.9 452.4 613.1 451.9 611.3 451 609.5 449.8 607.7 448.3 606 446.5 604.4 444.5 603 442.3 601.8 440 600.9 437.6 600.2 435.3 599.8 432.9z" fill="#eeeeee" fill-rule="evenodd" stroke="#404040" stroke-width="1.1" stroke-linejoin="round"/>
<line x1="620.0" y1="432.5" x2="598.0" y2="445.2" stroke="#707070" stroke-width="1.2" stroke-dasharray="12.5 6 1.5 6"/>
<path d="M594.8 428 595 425.1 595.7 422.6 596.6 420.4 598 418.6 599.7 417.3 601.6 416.5 603.8 416.3 606.2 416.5 608.7 417.2 611.3 418.5 613.9 420.2 616.4 422.4 618.8 424.9 621 427.7 622.9 430.8 624.6 434 626 437.3 626.9 440.7 627.6 443.9 627.8 447 627.6 449.9 626.9 452.4 626 454.6 624.6 456.4 622.9 457.7 621 458.5 618.8 458.7 616.4 458.5 613.9 457.8 611.3 456.5 608.7 454.8 606.2 452.6 603.8 450.1 601.6 447.3 599.7 444.2 598 441 596.6 437.7 595.7 434.3 595 431.1z" fill="none" stroke="#3a3a3a" stroke-width="0.7"/>
<path fill="#bbb" stroke="#2a2a2a" stroke-width="2.2" stroke-linejoin="round" d="M665.6 423.6 665.9 422.7 667.8 422.9 669.7 423.2 670.1 422.4 669.9 421.3 668.1 419.1 666.3 416.9 666.2 415.7 666.6 415 668.6 415.5 670.6 416.2 671 415.6 671 414.6 669.3 412.2 667.8 409.7 667.7 408.6 668.3 408 670.3 409 672.4 410 673 409.6 673 408.6 671.6 406 670.2 403.5 670.3 402.5 671 402.1 673.1 403.4 675.1 404.7 675.8 404.4 675.9 403.6 674.8 400.9 673.6 398.3 673.9 397.4 674.6 397.2 676.7 398.8 678.7 400.5 679.4 400.4 679.7 399.6 678.8 397 678 394.3 678.3 393.5 679.2 393.5 681.1 395.4 683 397.4 683.8 397.4 684.2 396.8 683.6 394.2 683.1 391.6 683.6 391 684.4 391.1 686.3 393.3 688 395.5 688.9 395.7 689.4 395.2 689.1 392.7 688.8 390.2 689.4 389.7 690.4 390 692 392.4 693.6 394.8 694.5 395.2 695.1 394.9 695.1 392.5 695.1 390.1 695.9 389.9 696.8 390.3 698.2 392.9 699.6 395.4 700.5 396 701.2 395.8 701.5 393.6 701.9 391.5 702.7 391.4 703.6 392 704.8 394.6 706 397.3 706.8 397.9 707.6 397.9 708.2 396 708.8 394.1 709.7 394.2 710.6 395 711.6 397.7 712.4 400.3 713.3 401.1 714.1 401.3 715 399.6 715.9 398 716.8 398.3 717.7 399.2 718.3 401.9 718.9 404.5 719.7 405.4 720.6 405.7 721.7 404.4 722.9 403.2 723.9 403.6 724.7 404.6 725 407.2 725.3 409.7 726 410.7 726.9 411.2 728.3 410.2 729.7 409.4 730.7 409.9 731.4 411.1 731.4 413.5 731.4 415.8 732 416.9 732.9 417.5 734.5 416.9 736.2 416.5 737.1 417.2 737.7 418.4 737.4 420.6 737.1 422.8 737.7 423.9 738.5 424.6 740.3 424.4 742.1 424.4 743 425.2 743.5 426.4 742.9 428.4 742.3 430.3 742.7 431.5 743.5 432.3 745.4 432.5 747.4 432.9 748.2 433.8 748.6 435.1 747.7 436.8 746.8 438.4 747.1 439.5 747.8 440.4 749.8 441 751.9 441.8 752.6 442.8 752.9 444 751.8 445.4 750.6 446.7 750.8 447.8 751.4 448.8 753.5 449.8 755.5 450.9 756.2 452 756.3 453.2 754.9 454.2 753.5 455.1 753.6 456.1 754.1 457.2 756.2 458.5 758.2 460 758.8 461.2 758.8 462.2 757.2 462.9 755.6 463.4 755.5 464.3 755.9 465.5 757.9 467.1 759.9 468.9 760.4 470.1 760.2 471.1 758.4 471.3 756.7 471.5 756.4 472.3 756.8 473.4 758.7 475.4 760.6 477.4 760.9 478.6 760.6 479.5 758.7 479.3 756.8 479 756.4 479.8 756.7 480.9 758.4 483.1 760.2 485.3 760.4 486.5 759.9 487.2 757.9 486.7 755.9 486 755.5 486.6 755.6 487.6 757.2 490 758.8 492.5 758.8 493.6 758.2 494.2 756.2 493.2 754.1 492.2 753.6 492.6 753.5 493.6 754.9 496.2 756.3 498.7 756.2 499.7 755.5 500.1 753.5 498.8 751.4 497.5 750.8 497.8 750.6 498.6 751.8 501.3 752.9 503.9 752.6 504.8 751.9 505 749.8 503.4 747.8 501.7 747.1 501.8 746.8 502.6 747.7 505.2 748.6 507.9 748.2 508.7 747.4 508.7 745.4 506.8 743.5 504.8 742.7 504.8 742.3 505.4 742.9 508 743.5 510.6 743 511.2 742.1 511.1 740.3 508.9 738.5 506.7 737.7 506.5 737.1 507 737.4 509.5 737.7 512 737.1 512.5 736.2 512.2 734.5 509.8 732.9 507.4 732 507 731.4 507.3 731.4 509.7 731.4 512.1 730.7 512.3 729.7 511.9 728.3 509.3 726.9 506.8 726 506.2 725.3 506.4 725 508.6 724.7 510.7 723.9 510.8 722.9 510.2 721.7 507.6 720.6 504.9 719.7 504.3 718.9 504.3 718.3 506.2 717.7 508.1 716.8 508 715.9 507.2 715 504.5 714.1 501.9 713.3 501.1 712.4 500.9 711.6 502.6 710.6 504.2 709.7 503.9 708.8 503 708.2 500.3 707.6 497.7 706.8 496.8 706 496.5 704.8 497.8 703.6 499 702.7 498.6 701.9 497.6 701.5 495 701.2 492.5 700.5 491.5 699.6 491 698.2 492 696.8 492.8 695.9 492.3 695.1 491.1 695.1 488.7 695.1 486.4 694.5 485.3 693.6 484.7 692 485.3 690.4 485.7 689.4 485 688.8 483.8 689.1 481.6 689.4 479.4 688.9 478.3 688 477.6 686.3 477.8 684.4 477.8 683.6 477 683.1 475.8 683.6 473.8 684.2 471.9 683.8 470.7 683 469.9 681.1 469.7 679.2 469.3 678.3 468.4 678 467.1 678.8 465.4 679.7 463.8 679.4 462.7 678.7 461.8 676.7 461.2 674.6 460.4 673.9 459.4 673.6 458.2 674.8 456.8 675.9 455.5 675.8 454.4 675.1 453.4 673.1 452.4 671 451.3 670.3 450.2 670.2 449 671.6 448 673 447.1 673 446.1 672.4 445 670.3 443.7 668.3 442.2 667.7 441 667.8 440 669.3 439.3 671 438.8 671 437.9 670.6 436.7 668.6 435.1 666.6 433.3 666.2 432.1 666.3 431.1 668.1 430.9 669.9 430.7 670.1 429.9 669.7 428.8 667.8 426.8 665.9 424.8z"/>
<g stroke-linejoin="round">
<path fill="none" stroke="#2a2a2a" stroke-width="1.00" d="M685.5 499.3 696.8 492.8"/>
<path fill="#333333" stroke="#333333" stroke-width=".6" d="M687 498.5 685.5 499.3 696.8 492.8 698.2 492z"/>
<path fill="none" stroke="#2a2a2a" stroke-width="1.00" d="M656.5 446.5 667.8 440"/>
<path fill="#424242" stroke="#424242" stroke-width=".6" d="M656.5 446.5 658.1 445.8 669.3 439.3 667.8 440z"/>
<path fill="#333333" stroke="#333333" stroke-width=".6" d="M688.4 497.5 687 498.5 698.2 492 699.6 491z"/>
<path fill="none" stroke="#2a2a2a" stroke-width="1.00" d="M692.3 505.5 703.6 499M688.4 497.5 699.6 491"/>
<path fill="#333333" stroke="#333333" stroke-width=".6" d="M693.5 504.3 692.3 505.5 703.6 499 704.8 497.8z"/>
<path fill="#454545" stroke="#454545" stroke-width=".6" d="M658.1 445.8 659.7 445.3 671 438.8 669.3 439.3z"/>
<path fill="none" stroke="#2a2a2a" stroke-width="1.00" d="M655.1 437.6 666.3 431.1M659.7 445.3 671 438.8"/>
<path fill="#333333" stroke="#333333" stroke-width=".6" d="M694.7 503 693.5 504.3 704.8 497.8 706 496.5z"/>
<path fill="#4e4e4e" stroke="#4e4e4e" stroke-width=".6" d="M655.1 437.6 656.8 437.4 668.1 430.9 666.3 431.1z"/>
<path fill="none" stroke="#2a2a2a" stroke-width="1.00" d="M694.7 503 706 496.5M699.3 510.7 710.6 504.2"/>
<path fill="#515151" stroke="#515151" stroke-width=".6" d="M656.8 437.4 658.6 437.2 669.9 430.7 668.1 430.9z"/>
<path fill="#3f3f3f" stroke="#3f3f3f" stroke-width=".6" d="M700.3 509.1 699.3 510.7 710.6 504.2 711.6 502.6z"/>
<path fill="none" stroke="#2a2a2a" stroke-width="1.00" d="M658.6 437.2 669.9 430.7M654.7 429.2 665.9 422.7"/>
<path fill="#424242" stroke="#424242" stroke-width=".6" d="M701.2 507.4 700.3 509.1 711.6 502.6 712.4 500.9z"/>
<path fill="#606060" stroke="#606060" stroke-width=".6" d="M654.7 429.2 656.6 429.4 667.8 422.9 665.9 422.7z"/>
<path fill="none" stroke="#2a2a2a" stroke-width="1.00" d="M701.2 507.4 712.4 500.9M706.4 514.6 717.7 508.1"/>
<path fill="#666666" stroke="#666666" stroke-width=".6" d="M656.6 429.4 658.5 429.7 669.7 423.2 667.8 422.9z"/>
<path fill="#575757" stroke="#575757" stroke-width=".6" d="M707.1 512.7 706.4 514.6 717.7 508.1 718.3 506.2z"/>
<path fill="none" stroke="#2a2a2a" stroke-width="1.00" d="M658.5 429.7 669.7 423.2"/>
<path fill="#5d5d5d" stroke="#5d5d5d" stroke-width=".6" d="M707.7 510.8 707.1 512.7 718.3 506.2 718.9 504.3z"/>
<path fill="none" stroke="#2a2a2a" stroke-width="1.00" d="M655.3 421.5 666.6 415M707.7 510.8 718.9 504.3"/>
<path fill="#787878" stroke="#787878" stroke-width=".6" d="M655.3 421.5 657.3 422 668.6 415.5 666.6 415z"/>
<path fill="#7e7e7e" stroke="#7e7e7e" stroke-width=".6" d="M657.3 422 659.3 422.7 670.6 416.2 668.6 415.5z"/>
<path fill="none" stroke="#2a2a2a" stroke-width="1.00" d="M713.4 517.2 724.7 510.7M659.3 422.7 670.6 416.2"/>
<path fill="#727272" stroke="#727272" stroke-width=".6" d="M713.8 515.1 713.4 517.2 724.7 510.7 725 508.6z"/>
<path fill="#787878" stroke="#787878" stroke-width=".6" d="M714.1 512.9 713.8 515.1 725 508.6 725.3 506.4z"/>
<path fill="none" stroke="#2a2a2a" stroke-width="1.00" d="M657 414.5 668.3 408M714.1 512.9 725.3 506.4"/>
<path fill="#939393" stroke="#939393" stroke-width=".6" d="M657 414.5 659.1 415.5 670.3 409 668.3 408z"/>
<path fill="#999999" stroke="#999999" stroke-width=".6" d="M659.1 415.5 661.1 416.5 672.4 410 670.3 409z"/>
<path fill="none" stroke="#2a2a2a" stroke-width="1.00" d="M661.1 416.5 672.4 410M720.1 518.6 731.4 512.1"/>
<path fill="#8d8d8d" stroke="#8d8d8d" stroke-width=".6" d="M720.2 516.2 720.1 518.6 731.4 512.1 731.4 509.7z"/>
<path fill="#939393" stroke="#939393" stroke-width=".6" d="M720.2 513.8 720.2 516.2 731.4 509.7 731.4 507.3z"/>
<path fill="none" stroke="#2a2a2a" stroke-width="1.00" d="M720.2 513.8 731.4 507.3M659.7 408.6 671 402.1"/>
<path fill="#aeaeae" stroke="#aeaeae" stroke-width=".6" d="M659.7 408.6 661.8 409.9 673.1 403.4 671 402.1z"/>
<path fill="#b4b4b4" stroke="#b4b4b4" stroke-width=".6" d="M661.8 409.9 663.9 411.2 675.1 404.7 673.1 403.4z"/>
<path fill="none" stroke="#2a2a2a" stroke-width="1.00" d="M725.8 519 737.1 512.5M663.9 411.2 675.1 404.7"/>
<path fill="#333333" stroke="#333333" stroke-width=".6" d="M726.4 518.5 725.8 519 737.1 512.5 737.7 512z"/>
<path fill="#424242" stroke="#424242" stroke-width=".6" d="M663.9 411.2 664.5 410.9 675.8 404.4 675.1 404.7z"/>
<path fill="none" stroke="#2a2a2a" stroke-width="1.00" d="M726.4 518.5 737.7 512M664.5 410.9 675.8 404.4"/>
<path fill="#ababab" stroke="#ababab" stroke-width=".6" d="M726.2 516 726.4 518.5 737.7 512 737.4 509.5z"/>
<path fill="#b1b1b1" stroke="#b1b1b1" stroke-width=".6" d="M725.9 513.5 726.2 516 737.4 509.5 737.1 507z"/>
<path fill="none" stroke="#2a2a2a" stroke-width="1.00" d="M725.9 513.5 737.1 507M662.6 403.9 673.9 397.4"/>
<path fill="#333333" stroke="#333333" stroke-width=".6" d="M726.4 513 725.9 513.5 737.1 507 737.7 506.5z"/>
<path fill="#454545" stroke="#454545" stroke-width=".6" d="M662.6 403.9 663.4 403.7 674.6 397.2 673.9 397.4z"/>
<path fill="none" stroke="#2a2a2a" stroke-width="1.00" d="M726.4 513 737.7 506.5M663.4 403.7 674.6 397.2"/>
<path fill="#c6c6c6" stroke="#c6c6c6" stroke-width=".6" d="M663.4 403.7 665.4 405.3 676.7 398.8 674.6 397.2z"/>
<path fill="#cccccc" stroke="#cccccc" stroke-width=".6" d="M665.4 405.3 667.4 407 678.7 400.5 676.7 398.8z"/>
<path fill="none" stroke="#2a2a2a" stroke-width="1.00" d="M667.4 407 678.7 400.5M731.7 517.7 743 511.2"/>
<path fill="#4e4e4e" stroke="#4e4e4e" stroke-width=".6" d="M667.4 407 668.1 406.9 679.4 400.4 678.7 400.5z"/>
<path fill="#333333" stroke="#333333" stroke-width=".6" d="M732.2 517.1 731.7 517.7 743 511.2 743.5 510.6z"/>
<path fill="none" stroke="#2a2a2a" stroke-width="1.00" d="M668.1 406.9 679.4 400.4M732.2 517.1 743.5 510.6"/>
<path fill="#c3c3c3" stroke="#c3c3c3" stroke-width=".6" d="M731.7 514.5 732.2 517.1 743.5 510.6 742.9 508z"/>
<path fill="#c9c9c9" stroke="#c9c9c9" stroke-width=".6" d="M731 511.9 731.7 514.5 742.9 508 742.3 505.4z"/>
<path fill="none" stroke="#2a2a2a" stroke-width="1.00" d="M731 511.9 742.3 505.4"/>
<path fill="#3c3c3c" stroke="#3c3c3c" stroke-width=".6" d="M731.5 511.3 731 511.9 742.3 505.4 742.7 504.8z"/>
<path fill="none" stroke="#2a2a2a" stroke-width="1.00" d="M667.1 400 678.3 393.5M731.5 511.3 742.7 504.8"/>
<path fill="#545454" stroke="#545454" stroke-width=".6" d="M667.1 400 667.9 400 679.2 393.5 678.3 393.5z"/>
<path fill="none" stroke="#2a2a2a" stroke-width="1.00" d="M667.9 400 679.2 393.5"/>
<path fill="#dbdbdb" stroke="#dbdbdb" stroke-width=".6" d="M667.9 400 669.9 401.9 681.1 395.4 679.2 393.5z"/>
<path fill="#dedede" stroke="#dedede" stroke-width=".6" d="M669.9 401.9 671.8 403.9 683 397.4 681.1 395.4z"/>
<path fill="none" stroke="#2a2a2a" stroke-width="1.00" d="M671.8 403.9 683 397.4"/>
<path fill="#606060" stroke="#606060" stroke-width=".6" d="M671.8 403.9 672.5 403.9 683.8 397.4 683 397.4z"/>
<path fill="none" stroke="#2a2a2a" stroke-width="1.00" d="M672.5 403.9 683.8 397.4M736.9 515.2 748.2 508.7"/>
<path fill="#454545" stroke="#454545" stroke-width=".6" d="M737.3 514.4 736.9 515.2 748.2 508.7 748.6 507.9z"/>
<path fill="none" stroke="#2a2a2a" stroke-width="1.00" d="M737.3 514.4 748.6 507.9"/>
<path fill="#dbdbdb" stroke="#dbdbdb" stroke-width=".6" d="M736.5 511.7 737.3 514.4 748.6 507.9 747.7 505.2z"/>
<path fill="#dedede" stroke="#dedede" stroke-width=".6" d="M735.6 509.1 736.5 511.7 747.7 505.2 746.8 502.6z"/>
<path fill="none" stroke="#2a2a2a" stroke-width="1.00" d="M735.6 509.1 746.8 502.6"/>
<path fill="#545454" stroke="#545454" stroke-width=".6" d="M735.9 508.3 735.6 509.1 746.8 502.6 747.1 501.8z"/>
<path fill="none" stroke="#2a2a2a" stroke-width="1.00" d="M735.9 508.3 747.1 501.8M672.3 397.5 683.6 391"/>
<path fill="#696969" stroke="#696969" stroke-width=".6" d="M672.3 397.5 673.2 397.6 684.4 391.1 683.6 391z"/>
<path fill="none" stroke="#2a2a2a" stroke-width="1.00" d="M673.2 397.6 684.4 391.1"/>
<path fill="#e7e7e7" stroke="#e7e7e7" stroke-width=".6" d="M673.2 397.6 675 399.8 686.3 393.3 684.4 391.1zM675 399.8 676.8 402 688 395.5 686.3 393.3z"/>
<path fill="none" stroke="#2a2a2a" stroke-width="1.00" d="M676.8 402 688 395.5"/>
<path fill="#787878" stroke="#787878" stroke-width=".6" d="M676.8 402 677.6 402.2 688.9 395.7 688 395.5z"/>
<path fill="none" stroke="#2a2a2a" stroke-width="1.00" d="M677.6 402.2 688.9 395.7M741.4 511.3 752.6 504.8"/>
<path fill="#606060" stroke="#606060" stroke-width=".6" d="M741.6 510.4 741.4 511.3 752.6 504.8 752.9 503.9z"/>
<path fill="none" stroke="#2a2a2a" stroke-width="1.00" d="M741.6 510.4 752.9 503.9"/>
<path fill="#e7e7e7" stroke="#e7e7e7" stroke-width=".6" d="M740.5 507.8 741.6 510.4 752.9 503.9 751.8 501.3zM739.3 505.1 740.5 507.8 751.8 501.3 750.6 498.6z"/>
<path fill="none" stroke="#2a2a2a" stroke-width="1.00" d="M739.3 505.1 750.6 498.6"/>
<path fill="#6f6f6f" stroke="#6f6f6f" stroke-width=".6" d="M739.5 504.3 739.3 505.1 750.6 498.6 750.8 497.8z"/>
<path fill="none" stroke="#2a2a2a" stroke-width="1.00" d="M739.5 504.3 750.8 497.8M678.2 396.2 689.4 389.7"/>
<path fill="#818181" stroke="#818181" stroke-width=".6" d="M678.2 396.2 679.1 396.5 690.4 390 689.4 389.7z"/>
<path fill="none" stroke="#2a2a2a" stroke-width="1.00" d="M679.1 396.5 690.4 390"/>
<path fill="#e7e7e7" stroke="#e7e7e7" stroke-width=".6" d="M679.1 396.5 680.8 398.9 692 392.4 690.4 390zM680.8 398.9 682.4 401.3 693.6 394.8 692 392.4z"/>
<path fill="none" stroke="#2a2a2a" stroke-width="1.00" d="M682.4 401.3 693.6 394.8"/>
<path fill="#909090" stroke="#909090" stroke-width=".6" d="M682.4 401.3 683.2 401.7 694.5 395.2 693.6 394.8z"/>
<path fill="none" stroke="#2a2a2a" stroke-width="1.00" d="M683.2 401.7 694.5 395.2"/>
<path fill="#3f3f3f" stroke="#3f3f3f" stroke-width=".6" d="M683.2 401.7 683.8 401.4 695.1 394.9 694.5 395.2z"/>
<path fill="none" stroke="#2a2a2a" stroke-width="1.00" d="M744.3 506.6 755.5 500.1M683.8 401.4 695.1 394.9"/>
<path fill="#333333" stroke="#333333" stroke-width=".6" d="M744.9 506.2 744.3 506.6 755.5 500.1 756.2 499.7z"/>
<path fill="none" stroke="#2a2a2a" stroke-width="1.00" d="M744.9 506.2 756.2 499.7"/>
<path fill="#7b7b7b" stroke="#7b7b7b" stroke-width=".6" d="M745 505.2 744.9 506.2 756.2 499.7 756.3 498.7z"/>
<path fill="none" stroke="#2a2a2a" stroke-width="1.00" d="M745 505.2 756.3 498.7"/>
<path fill="#e7e7e7" stroke="#e7e7e7" stroke-width=".6" d="M743.7 502.7 745 505.2 756.3 498.7 754.9 496.2zM742.3 500.1 743.7 502.7 754.9 496.2 753.5 493.6z"/>
<path fill="none" stroke="#2a2a2a" stroke-width="1.00" d="M742.3 500.1 753.5 493.6"/>
<path fill="#8a8a8a" stroke="#8a8a8a" stroke-width=".6" d="M742.3 499.1 742.3 500.1 753.5 493.6 753.6 492.6z"/>
<path fill="none" stroke="#2a2a2a" stroke-width="1.00" d="M742.3 499.1 753.6 492.6"/>
<path fill="#333333" stroke="#333333" stroke-width=".6" d="M742.9 498.7 742.3 499.1 753.6 492.6 754.1 492.2z"/>
<path fill="none" stroke="#2a2a2a" stroke-width="1.00" d="M683.9 396.6 695.1 390.1M742.9 498.7 754.1 492.2"/>
<path fill="#424242" stroke="#424242" stroke-width=".6" d="M683.9 396.6 684.6 396.4 695.9 389.9 695.1 390.1z"/>
<path fill="none" stroke="#2a2a2a" stroke-width="1.00" d="M684.6 396.4 695.9 389.9"/>
<path fill="#9c9c9c" stroke="#9c9c9c" stroke-width=".6" d="M684.6 396.4 685.5 396.8 696.8 390.3 695.9 389.9z"/>
<path fill="none" stroke="#2a2a2a" stroke-width="1.00" d="M688.4 401.9 699.6 395.4"/>
<path fill="#e7e7e7" stroke="#e7e7e7" stroke-width=".6" d="M687 399.4 688.4 401.9 699.6 395.4 698.2 392.9zM685.5 396.8 687 399.4 698.2 392.9 696.8 390.3z"/>
<path fill="none" stroke="#2a2a2a" stroke-width="1.00" d="M685.5 396.8 696.8 390.3"/>
<path fill="#ababab" stroke="#ababab" stroke-width=".6" d="M688.4 401.9 689.2 402.5 700.5 396 699.6 395.4z"/>
<path fill="none" stroke="#2a2a2a" stroke-width="1.00" d="M689.2 402.5 700.5 396"/>
<path fill="#484848" stroke="#484848" stroke-width=".6" d="M689.2 402.5 689.9 402.3 701.2 395.8 700.5 396z"/>
<path fill="none" stroke="#2a2a2a" stroke-width="1.00" d="M689.9 402.3 701.2 395.8M747 500.7 758.2 494.2"/>
<path fill="#333333" stroke="#333333" stroke-width=".6" d="M747.5 500.1 747 500.7 758.2 494.2 758.8 493.6z"/>
<path fill="none" stroke="#2a2a2a" stroke-width="1.00" d="M747.5 500.1 758.8 493.6M744.3 494.1 755.6 487.6"/>
<path fill="#999999" stroke="#999999" stroke-width=".6" d="M747.5 499 747.5 500.1 758.8 493.6 758.8 492.5z"/>
<path fill="#e7e7e7" stroke="#e7e7e7" stroke-width=".6" d="M744.3 494.1 745.9 496.5 757.2 490 755.6 487.6z"/>
<path fill="#a8a8a8" stroke="#a8a8a8" stroke-width=".6" d="M744.2 493.1 744.3 494.1 755.6 487.6 755.5 486.6z"/>
<path fill="#e7e7e7" stroke="#e7e7e7" stroke-width=".6" d="M745.9 496.5 747.5 499 758.8 492.5 757.2 490z"/>
<path fill="none" stroke="#2a2a2a" stroke-width="1.00" d="M747.5 499 758.8 492.5M744.2 493.1 755.5 486.6"/>
<path fill="#363636" stroke="#363636" stroke-width=".6" d="M744.7 492.5 744.2 493.1 755.5 486.6 755.9 486z"/>
<path fill="none" stroke="#2a2a2a" stroke-width="1.00" d="M744.7 492.5 755.9 486M690.6 398 701.9 391.5"/>
<path fill="#4e4e4e" stroke="#4e4e4e" stroke-width=".6" d="M690.6 398 691.4 397.9 702.7 391.4 701.9 391.5z"/>
<path fill="none" stroke="#2a2a2a" stroke-width="1.00" d="M694.7 403.8 706 397.3M691.4 397.9 702.7 391.4"/>
<path fill="#e7e7e7" stroke="#e7e7e7" stroke-width=".6" d="M693.5 401.1 694.7 403.8 706 397.3 704.8 394.6z"/>
<path fill="#c3c3c3" stroke="#c3c3c3" stroke-width=".6" d="M694.7 403.8 695.5 404.4 706.8 397.9 706 397.3z"/>
<path fill="#b7b7b7" stroke="#b7b7b7" stroke-width=".6" d="M691.4 397.9 692.3 398.5 703.6 392 702.7 391.4z"/>
<path fill="none" stroke="#2a2a2a" stroke-width="1.00" d="M695.5 404.4 706.8 397.9"/>
<path fill="#e7e7e7" stroke="#e7e7e7" stroke-width=".6" d="M692.3 398.5 693.5 401.1 704.8 394.6 703.6 392z"/>
<path fill="none" stroke="#2a2a2a" stroke-width="1.00" d="M692.3 398.5 703.6 392"/>
<path fill="#575757" stroke="#575757" stroke-width=".6" d="M695.5 404.4 696.3 404.4 707.6 397.9 706.8 397.9z"/>
<path fill="none" stroke="#2a2a2a" stroke-width="1.00" d="M696.3 404.4 707.6 397.9M748.7 493.7 759.9 487.2M745.4 487.4 756.7 480.9"/>
<path fill="#3f3f3f" stroke="#3f3f3f" stroke-width=".6" d="M749.1 493 748.7 493.7 759.9 487.2 760.4 486.5z"/>
<path fill="#c3c3c3" stroke="#c3c3c3" stroke-width=".6" d="M745.2 486.3 745.4 487.4 756.7 480.9 756.4 479.8z"/>
<path fill="#e7e7e7" stroke="#e7e7e7" stroke-width=".6" d="M745.4 487.4 747.2 489.6 758.4 483.1 756.7 480.9z"/>
<path fill="none" stroke="#2a2a2a" stroke-width="1.00" d="M745.2 486.3 756.4 479.8M749.1 493 760.4 486.5"/>
<path fill="#b4b4b4" stroke="#b4b4b4" stroke-width=".6" d="M748.9 491.8 749.1 493 760.4 486.5 760.2 485.3z"/>
<path fill="#e7e7e7" stroke="#e7e7e7" stroke-width=".6" d="M747.2 489.6 748.9 491.8 760.2 485.3 758.4 483.1z"/>
<path fill="#4b4b4b" stroke="#4b4b4b" stroke-width=".6" d="M745.5 485.5 745.2 486.3 756.4 479.8 756.8 479z"/>
<path fill="none" stroke="#2a2a2a" stroke-width="1.00" d="M748.9 491.8 760.2 485.3M745.5 485.5 756.8 479M697.6 400.6 708.8 394.1M701.2 406.8 712.4 400.3"/>
<path fill="#d8d8d8" stroke="#d8d8d8" stroke-width=".6" d="M701.2 406.8 702 407.6 713.3 401.1 712.4 400.3z"/>
<path fill="#dedede" stroke="#dedede" stroke-width=".6" d="M700.3 404.2 701.2 406.8 712.4 400.3 711.6 397.7z"/>
<path fill="none" stroke="#2a2a2a" stroke-width="1.00" d="M702 407.6 713.3 401.1"/>
<path fill="#636363" stroke="#636363" stroke-width=".6" d="M697.6 400.6 698.4 400.7 709.7 394.2 708.8 394.1z"/>
<path fill="#6c6c6c" stroke="#6c6c6c" stroke-width=".6" d="M702 407.6 702.8 407.8 714.1 401.3 713.3 401.1z"/>
<path fill="none" stroke="#2a2a2a" stroke-width="1.00" d="M698.4 400.7 709.7 394.2"/>
<path fill="#e1e1e1" stroke="#e1e1e1" stroke-width=".6" d="M699.3 401.5 700.3 404.2 711.6 397.7 710.6 395z"/>
<path fill="#cfcfcf" stroke="#cfcfcf" stroke-width=".6" d="M698.4 400.7 699.3 401.5 710.6 395 709.7 394.2z"/>
<path fill="none" stroke="#2a2a2a" stroke-width="1.00" d="M702.8 407.8 714.1 401.3M699.3 401.5 710.6 395M745.5 479.9 756.8 473.4"/>
<path fill="#d8d8d8" stroke="#d8d8d8" stroke-width=".6" d="M745.2 478.8 745.5 479.9 756.8 473.4 756.4 472.3z"/>
<path fill="none" stroke="#2a2a2a" stroke-width="1.00" d="M745.2 478.8 756.4 472.3M749.3 486 760.6 479.5"/>
<path fill="#dedede" stroke="#dedede" stroke-width=".6" d="M745.5 479.9 747.4 481.9 758.7 475.4 756.8 473.4z"/>
<path fill="#636363" stroke="#636363" stroke-width=".6" d="M745.4 478 745.2 478.8 756.4 472.3 756.7 471.5z"/>
<path fill="#575757" stroke="#575757" stroke-width=".6" d="M749.6 485.1 749.3 486 760.6 479.5 760.9 478.6z"/>
<path fill="none" stroke="#2a2a2a" stroke-width="1.00" d="M745.4 478 756.7 471.5M749.6 485.1 760.9 478.6"/>
<path fill="#e1e1e1" stroke="#e1e1e1" stroke-width=".6" d="M747.4 481.9 749.3 483.9 760.6 477.4 758.7 475.4z"/>
<path fill="#cccccc" stroke="#cccccc" stroke-width=".6" d="M749.3 483.9 749.6 485.1 760.9 478.6 760.6 477.4z"/>
<path fill="none" stroke="#2a2a2a" stroke-width="1.00" d="M749.3 483.9 760.6 477.4M707.7 411 718.9 404.5"/>
<path fill="#e7e7e7" stroke="#e7e7e7" stroke-width=".6" d="M707.7 411 708.5 411.9 719.7 405.4 718.9 404.5z"/>
<path fill="none" stroke="#2a2a2a" stroke-width="1.00" d="M708.5 411.9 719.7 405.4"/>
<path fill="#c9c9c9" stroke="#c9c9c9" stroke-width=".6" d="M707.1 408.4 707.7 411 718.9 404.5 718.3 401.9z"/>
<path fill="#878787" stroke="#878787" stroke-width=".6" d="M708.5 411.9 709.3 412.2 720.6 405.7 719.7 405.4z"/>
<path fill="none" stroke="#2a2a2a" stroke-width="1.00" d="M704.7 404.5 715.9 398M709.3 412.2 720.6 405.7"/>
<path fill="#7b7b7b" stroke="#7b7b7b" stroke-width=".6" d="M704.7 404.5 705.6 404.8 716.8 398.3 715.9 398z"/>
<path fill="#cfcfcf" stroke="#cfcfcf" stroke-width=".6" d="M706.4 405.7 707.1 408.4 718.3 401.9 717.7 399.2z"/>
<path fill="none" stroke="#2a2a2a" stroke-width="1.00" d="M705.6 404.8 716.8 398.3"/>
<path fill="#e1e1e1" stroke="#e1e1e1" stroke-width=".6" d="M705.6 404.8 706.4 405.7 717.7 399.2 716.8 398.3z"/>
<path fill="none" stroke="#2a2a2a" stroke-width="1.00" d="M706.4 405.7 717.7 399.2M744.7 472 755.9 465.5"/>
<path fill="#e7e7e7" stroke="#e7e7e7" stroke-width=".6" d="M744.2 470.8 744.7 472 755.9 465.5 755.5 464.3z"/>
<path fill="none" stroke="#2a2a2a" stroke-width="1.00" d="M744.2 470.8 755.5 464.3"/>
<path fill="#7e7e7e" stroke="#7e7e7e" stroke-width=".6" d="M744.3 469.9 744.2 470.8 755.5 464.3 755.6 463.4z"/>
<path fill="#c9c9c9" stroke="#c9c9c9" stroke-width=".6" d="M744.7 472 746.7 473.6 757.9 467.1 755.9 465.5z"/>
<path fill="none" stroke="#2a2a2a" stroke-width="1.00" d="M744.3 469.9 755.6 463.4M748.9 477.6 760.2 471.1"/>
<path fill="#727272" stroke="#727272" stroke-width=".6" d="M749.1 476.6 748.9 477.6 760.2 471.1 760.4 470.1z"/>
<path fill="#cfcfcf" stroke="#cfcfcf" stroke-width=".6" d="M746.7 473.6 748.7 475.4 759.9 468.9 757.9 467.1z"/>
<path fill="none" stroke="#2a2a2a" stroke-width="1.00" d="M714.1 416.2 725.3 409.7"/>
<path fill="#e7e7e7" stroke="#e7e7e7" stroke-width=".6" d="M714.1 416.2 714.8 417.2 726 410.7 725.3 409.7z"/>
<path fill="none" stroke="#2a2a2a" stroke-width="1.00" d="M714.8 417.2 726 410.7M749.1 476.6 760.4 470.1"/>
<path fill="#e1e1e1" stroke="#e1e1e1" stroke-width=".6" d="M748.7 475.4 749.1 476.6 760.4 470.1 759.9 468.9z"/>
<path fill="#a2a2a2" stroke="#a2a2a2" stroke-width=".6" d="M714.8 417.2 715.6 417.7 726.9 411.2 726 410.7z"/>
<path fill="none" stroke="#2a2a2a" stroke-width="1.00" d="M748.7 475.4 759.9 468.9"/>
<path fill="#aeaeae" stroke="#aeaeae" stroke-width=".6" d="M713.8 413.7 714.1 416.2 725.3 409.7 725 407.2z"/>
<path fill="none" stroke="#2a2a2a" stroke-width="1.00" d="M715.6 417.7 726.9 411.2M711.7 409.7 722.9 403.2M742.9 463.7 754.1 457.2"/>
<path fill="#e7e7e7" stroke="#e7e7e7" stroke-width=".6" d="M742.3 462.6 742.9 463.7 754.1 457.2 753.6 456.1z"/>
<path fill="none" stroke="#2a2a2a" stroke-width="1.00" d="M742.3 462.6 753.6 456.1"/>
<path fill="#b4b4b4" stroke="#b4b4b4" stroke-width=".6" d="M713.4 411.1 713.8 413.7 725 407.2 724.7 404.6z"/>
<path fill="#969696" stroke="#969696" stroke-width=".6" d="M711.7 409.7 712.6 410.1 723.9 403.6 722.9 403.2z"/>
<path fill="#9c9c9c" stroke="#9c9c9c" stroke-width=".6" d="M742.3 461.6 742.3 462.6 753.6 456.1 753.5 455.1z"/>
<path fill="none" stroke="#2a2a2a" stroke-width="1.00" d="M742.3 461.6 753.5 455.1"/>
<path fill="#b1b1b1" stroke="#b1b1b1" stroke-width=".6" d="M742.9 463.7 744.9 465 756.2 458.5 754.1 457.2z"/>
<path fill="none" stroke="#2a2a2a" stroke-width="1.00" d="M712.6 410.1 723.9 403.6"/>
<path fill="#e7e7e7" stroke="#e7e7e7" stroke-width=".6" d="M712.6 410.1 713.4 411.1 724.7 404.6 723.9 403.6z"/>
<path fill="none" stroke="#2a2a2a" stroke-width="1.00" d="M713.4 411.1 724.7 404.6M720.2 422.3 731.4 415.8"/>
<path fill="#e7e7e7" stroke="#e7e7e7" stroke-width=".6" d="M720.2 422.3 720.8 423.4 732 416.9 731.4 415.8z"/>
<path fill="none" stroke="#2a2a2a" stroke-width="1.00" d="M720.8 423.4 732 416.9"/>
<path fill="#bababa" stroke="#bababa" stroke-width=".6" d="M720.8 423.4 721.6 424 732.9 417.5 732 416.9z"/>
<path fill="#333333" stroke="#333333" stroke-width=".6" d="M743.7 460.7 742.3 461.6 753.5 455.1 754.9 454.2z"/>
<path fill="none" stroke="#2a2a2a" stroke-width="1.00" d="M721.6 424 732.9 417.5M747.5 468.7 758.8 462.2"/>
<path fill="#939393" stroke="#939393" stroke-width=".6" d="M720.2 420 720.2 422.3 731.4 415.8 731.4 413.5z"/>
<path fill="#b7b7b7" stroke="#b7b7b7" stroke-width=".6" d="M744.9 465 747 466.5 758.2 460 756.2 458.5z"/>
<path fill="#909090" stroke="#909090" stroke-width=".6" d="M747.5 467.7 747.5 468.7 758.8 462.2 758.8 461.2z"/>
<path fill="none" stroke="#2a2a2a" stroke-width="1.00" d="M739.5 454.3 750.8 447.8"/>
<path fill="#e7e7e7" stroke="#e7e7e7" stroke-width=".6" d="M739.5 454.3 740.1 455.3 751.4 448.8 750.8 447.8z"/>
<path fill="none" stroke="#2a2a2a" stroke-width="1.00" d="M740.1 455.3 751.4 448.8"/>
<path fill="#b7b7b7" stroke="#b7b7b7" stroke-width=".6" d="M739.3 453.2 739.5 454.3 750.8 447.8 750.6 446.7z"/>
<path fill="none" stroke="#2a2a2a" stroke-width="1.00" d="M747.5 467.7 758.8 461.2"/>
<path fill="#e7e7e7" stroke="#e7e7e7" stroke-width=".6" d="M747 466.5 747.5 467.7 758.8 461.2 758.2 460z"/>
<path fill="none" stroke="#2a2a2a" stroke-width="1.00" d="M747 466.5 758.2 460M739.3 453.2 750.6 446.7"/>
<path fill="#454545" stroke="#454545" stroke-width=".6" d="M721.6 424 723.2 423.4 734.5 416.9 732.9 417.5z"/>
<path fill="none" stroke="#2a2a2a" stroke-width="1.00" d="M726.4 430.4 737.7 423.9"/>
<path fill="#e7e7e7" stroke="#e7e7e7" stroke-width=".6" d="M725.9 429.3 726.4 430.4 737.7 423.9 737.1 422.8z"/>
<path fill="#999999" stroke="#999999" stroke-width=".6" d="M740.1 455.3 742.2 456.3 753.5 449.8 751.4 448.8z"/>
<path fill="none" stroke="#2a2a2a" stroke-width="1.00" d="M725.9 429.3 737.1 422.8"/>
<path fill="#d2d2d2" stroke="#d2d2d2" stroke-width=".6" d="M726.4 430.4 727.2 431.1 738.5 424.6 737.7 423.9z"/>
<path fill="none" stroke="#2a2a2a" stroke-width="1.00" d="M727.2 431.1 738.5 424.6M735.9 446 747.1 439.5"/>
<path fill="#999999" stroke="#999999" stroke-width=".6" d="M720.1 417.6 720.2 420 731.4 413.5 731.4 411.1z"/>
<path fill="none" stroke="#2a2a2a" stroke-width="1.00" d="M718.5 415.9 729.7 409.4"/>
<path fill="#e7e7e7" stroke="#e7e7e7" stroke-width=".6" d="M735.9 446 736.6 446.9 747.8 440.4 747.1 439.5z"/>
<path fill="#cfcfcf" stroke="#cfcfcf" stroke-width=".6" d="M735.6 444.9 735.9 446 747.1 439.5 746.8 438.4z"/>
<path fill="none" stroke="#2a2a2a" stroke-width="1.00" d="M736.6 446.9 747.8 440.4M731.5 438 742.7 431.5"/>
<path fill="#333333" stroke="#333333" stroke-width=".6" d="M740.5 451.9 739.3 453.2 750.6 446.7 751.8 445.4z"/>
<path fill="#aeaeae" stroke="#aeaeae" stroke-width=".6" d="M718.5 415.9 719.4 416.4 730.7 409.9 729.7 409.4z"/>
<path fill="#333333" stroke="#333333" stroke-width=".6" d="M745 459.7 743.7 460.7 754.9 454.2 756.3 453.2z"/>
<path fill="#e4e4e4" stroke="#e4e4e4" stroke-width=".6" d="M731 436.8 731.5 438 742.7 431.5 742.3 430.3z"/>
<path fill="none" stroke="#2a2a2a" stroke-width="1.00" d="M735.6 444.9 746.8 438.4"/>
<path fill="#e4e4e4" stroke="#e4e4e4" stroke-width=".6" d="M731.5 438 732.2 438.8 743.5 432.3 742.7 431.5z"/>
<path fill="#757575" stroke="#757575" stroke-width=".6" d="M726.2 427.1 725.9 429.3 737.1 422.8 737.4 420.6z"/>
<path fill="none" stroke="#2a2a2a" stroke-width="1.00" d="M731 436.8 742.3 430.3M732.2 438.8 743.5 432.3M719.4 416.4 730.7 409.9"/>
<path fill="#e7e7e7" stroke="#e7e7e7" stroke-width=".6" d="M719.4 416.4 720.1 417.6 731.4 411.1 730.7 409.9z"/>
<path fill="none" stroke="#2a2a2a" stroke-width="1.00" d="M720.1 417.6 731.4 411.1"/>
<path fill="#515151" stroke="#515151" stroke-width=".6" d="M727.2 431.1 729 430.9 740.3 424.4 738.5 424.6z"/>
<path fill="#7e7e7e" stroke="#7e7e7e" stroke-width=".6" d="M736.6 446.9 738.6 447.5 749.8 441 747.8 440.4z"/>
<path fill="#9f9f9f" stroke="#9f9f9f" stroke-width=".6" d="M742.2 456.3 744.3 457.4 755.5 450.9 753.5 449.8z"/>
<path fill="#424242" stroke="#424242" stroke-width=".6" d="M736.5 443.3 735.6 444.9 746.8 438.4 747.7 436.8z"/>
<path fill="none" stroke="#2a2a2a" stroke-width="1.00" d="M745 459.7 756.3 453.2"/>
<path fill="#5a5a5a" stroke="#5a5a5a" stroke-width=".6" d="M731.7 434.9 731 436.8 742.3 430.3 742.9 428.4z"/>
<path fill="#454545" stroke="#454545" stroke-width=".6" d="M723.2 423.4 724.9 423 736.2 416.5 734.5 416.9z"/>
<path fill="#666666" stroke="#666666" stroke-width=".6" d="M732.2 438.8 734.1 439 745.4 432.5 743.5 432.3z"/>
<path fill="#ababab" stroke="#ababab" stroke-width=".6" d="M744.9 458.5 745 459.7 756.3 453.2 756.2 452z"/>
<path fill="none" stroke="#2a2a2a" stroke-width="1.00" d="M744.9 458.5 756.2 452"/>
<path fill="#e7e7e7" stroke="#e7e7e7" stroke-width=".6" d="M744.3 457.4 744.9 458.5 756.2 452 755.5 450.9z"/>
<path fill="none" stroke="#2a2a2a" stroke-width="1.00" d="M744.3 457.4 755.5 450.9"/>
<path fill="#7b7b7b" stroke="#7b7b7b" stroke-width=".6" d="M726.4 424.9 726.2 427.1 737.4 420.6 737.7 418.4z"/>
<path fill="#333333" stroke="#333333" stroke-width=".6" d="M741.6 450.5 740.5 451.9 751.8 445.4 752.9 444z"/>
<path fill="none" stroke="#2a2a2a" stroke-width="1.00" d="M724.9 423 736.2 416.5"/>
<path fill="#c9c9c9" stroke="#c9c9c9" stroke-width=".6" d="M724.9 423 725.8 423.7 737.1 417.2 736.2 416.5z"/>
<path fill="#848484" stroke="#848484" stroke-width=".6" d="M738.6 447.5 740.6 448.3 751.9 441.8 749.8 441z"/>
<path fill="#545454" stroke="#545454" stroke-width=".6" d="M729 430.9 730.8 430.9 742.1 424.4 740.3 424.4z"/>
<path fill="none" stroke="#2a2a2a" stroke-width="1.00" d="M726.4 424.9 737.7 418.4"/>
<path fill="#e7e7e7" stroke="#e7e7e7" stroke-width=".6" d="M725.8 423.7 726.4 424.9 737.7 418.4 737.1 417.2z"/>
<path fill="none" stroke="#2a2a2a" stroke-width="1.00" d="M725.8 423.7 737.1 417.2"/>
<path fill="#606060" stroke="#606060" stroke-width=".6" d="M732.2 432.9 731.7 434.9 742.9 428.4 743.5 426.4z"/>
<path fill="#484848" stroke="#484848" stroke-width=".6" d="M737.3 441.6 736.5 443.3 747.7 436.8 748.6 435.1z"/>
<path fill="none" stroke="#2a2a2a" stroke-width="1.00" d="M741.6 450.5 752.9 444"/>
<path fill="#6c6c6c" stroke="#6c6c6c" stroke-width=".6" d="M734.1 439 736.1 439.4 747.4 432.9 745.4 432.5z"/>
<path fill="#c6c6c6" stroke="#c6c6c6" stroke-width=".6" d="M741.4 449.3 741.6 450.5 752.9 444 752.6 442.8z"/>
<path fill="none" stroke="#2a2a2a" stroke-width="1.00" d="M740.6 448.3 751.9 441.8"/>
<path fill="#e7e7e7" stroke="#e7e7e7" stroke-width=".6" d="M740.6 448.3 741.4 449.3 752.6 442.8 751.9 441.8z"/>
<path fill="none" stroke="#2a2a2a" stroke-width="1.00" d="M741.4 449.3 752.6 442.8M730.8 430.9 742.1 424.4"/>
<path fill="#dbdbdb" stroke="#dbdbdb" stroke-width=".6" d="M730.8 430.9 731.7 431.7 743 425.2 742.1 424.4z"/>
<path fill="none" stroke="#2a2a2a" stroke-width="1.00" d="M732.2 432.9 743.5 426.4"/>
<path fill="#e7e7e7" stroke="#e7e7e7" stroke-width=".6" d="M731.7 431.7 732.2 432.9 743.5 426.4 743 425.2z"/>
<path fill="none" stroke="#2a2a2a" stroke-width="1.00" d="M737.3 441.6 748.6 435.1M731.7 431.7 743 425.2M736.1 439.4 747.4 432.9"/>
<path fill="#dbdbdb" stroke="#dbdbdb" stroke-width=".6" d="M736.9 440.3 737.3 441.6 748.6 435.1 748.2 433.8z"/>
<path fill="#e7e7e7" stroke="#e7e7e7" stroke-width=".6" d="M736.1 439.4 736.9 440.3 748.2 433.8 747.4 432.9z"/>
<path fill="none" stroke="#2a2a2a" stroke-width="1.00" d="M736.9 440.3 748.2 433.8"/>
</g>
<clipPath id="c29"><path d="M694.4 453.2 694.5 451.9 694.8 450.7 695.2 449.7 695.8 448.9 696.6 448.3 697.5 447.9 698.5 447.8 699.6 447.9 700.8 448.2 702 448.8 703.2 449.6 704.4 450.6 705.5 451.8 706.5 453.1 707.4 454.5 708.2 456 708.8 457.5 709.2 459.1 709.5 460.6 709.6 462 709.5 463.3 709.2 464.5 708.8 465.5 708.2 466.3 707.4 466.9 706.5 467.3 705.5 467.4 704.4 467.3 703.2 467 702 466.4 700.8 465.6 699.6 464.6 698.5 463.4 697.5 462.1 696.6 460.7 695.8 459.2 695.2 457.7 694.8 456.1 694.5 454.6z"/></clipPath>
<g clip-path="url(#c29)">
<path fill="#fff" d="M694.4 453.2 694.5 451.9 694.8 450.7 695.2 449.7 695.8 448.9 696.6 448.3 697.5 447.9 698.5 447.8 699.6 447.9 700.8 448.2 702 448.8 703.2 449.6 704.4 450.6 705.5 451.8 706.5 453.1 707.4 454.5 708.2 456 708.8 457.5 709.2 459.1 709.5 460.6 709.6 462 709.5 463.3 709.2 464.5 708.8 465.5 708.2 466.3 707.4 466.9 706.5 467.3 705.5 467.4 704.4 467.3 703.2 467 702 466.4 700.8 465.6 699.6 464.6 698.5 463.4 697.5 462.1 696.6 460.7 695.8 459.2 695.2 457.7 694.8 456.1 694.5 454.6z"/>
<g stroke-width=".7" stroke-linejoin="round">
<path fill="#e7e7e7" stroke="#e7e7e7" d="M697.5 462.1 696.6 460.7 707.9 454.2 708.8 455.6zM696.6 460.7 695.8 459.2 707.1 452.7 707.9 454.2zM698.5 463.4 697.5 462.1 708.8 455.6 709.8 456.9zM695.8 459.2 695.2 457.7 706.5 451.2 707.1 452.7z"/>
<path fill="#e1e1e1" stroke="#e1e1e1" d="M699.6 464.6 698.5 463.4 709.8 456.9 710.9 458.1z"/>
<path fill="#d8d8d8" stroke="#d8d8d8" d="M695.2 457.7 694.8 456.1 706 449.6 706.5 451.2z"/>
<path fill="#c0c0c0" stroke="#c0c0c0" d="M694.8 456.1 694.5 454.6 705.7 448.1 706 449.6z"/>
<path fill="#cccccc" stroke="#cccccc" d="M700.8 465.6 699.6 464.6 710.9 458.1 712.1 459.1z"/>
<path fill="#a2a2a2" stroke="#a2a2a2" d="M694.5 454.6 694.4 453.2 705.6 446.7 705.7 448.1z"/>
<path fill="#b4b4b4" stroke="#b4b4b4" d="M702 466.4 700.8 465.6 712.1 459.1 713.3 459.9z"/>
<path fill="#848484" stroke="#848484" d="M694.4 453.2 694.5 451.9 705.7 445.4 705.6 446.7z"/>
<path fill="#999999" stroke="#999999" d="M703.2 467 702 466.4 713.3 459.9 714.5 460.5z"/>
<path fill="#666666" stroke="#666666" d="M694.5 451.9 694.8 450.7 706 444.2 705.7 445.4z"/>
<path fill="#7b7b7b" stroke="#7b7b7b" d="M704.4 467.3 703.2 467 714.5 460.5 715.6 460.8z"/>
<path fill="#4b4b4b" stroke="#4b4b4b" d="M694.8 450.7 695.2 449.7 706.5 443.2 706 444.2z"/>
<path fill="#636363" stroke="#636363" d="M705.5 467.4 704.4 467.3 715.6 460.8 716.7 460.9z"/>
<path fill="#363636" stroke="#363636" d="M695.2 449.7 695.8 448.9 707.1 442.4 706.5 443.2z"/>
<path fill="#4e4e4e" stroke="#4e4e4e" d="M706.5 467.3 705.5 467.4 716.7 460.9 717.7 460.8z"/>
<path fill="#333333" stroke="#333333" d="M695.8 448.9 696.6 448.3 707.9 441.8 707.1 442.4z"/>
<path fill="#424242" stroke="#424242" d="M707.4 466.9 706.5 467.3 717.7 460.8 718.6 460.4z"/>
</g>
</g>
<path d="M654.4 430.1 654.7 429.2 656.6 429.4 658.5 429.7 658.8 428.9 658.6 427.8 656.8 425.6 655.1 423.4 654.9 422.2 655.3 421.5 657.3 422 659.3 422.7 659.8 422.1 659.7 421.1 658.1 418.7 656.5 416.2 656.5 415.1 657 414.5 659.1 415.5 661.1 416.5 661.7 416.1 661.7 415.1 660.3 412.5 659 410 659.1 409 659.7 408.6 661.8 409.9 663.9 411.2 664.5 410.9 664.7 410.1 663.5 407.4 662.4 404.8 662.6 403.9 663.4 403.7 665.4 405.3 667.4 407 668.1 406.9 668.4 406.1 667.5 403.5 666.7 400.8 667.1 400 667.9 400 669.9 401.9 671.8 403.9 672.5 403.9 673 403.3 672.3 400.7 671.8 398.1 672.3 397.5 673.2 397.6 675 399.8 676.8 402 677.6 402.2 678.1 401.7 677.8 399.2 677.6 396.7 678.2 396.2 679.1 396.5 680.8 398.9 682.4 401.3 683.2 401.7 683.8 401.4 683.8 399 683.9 396.6 684.6 396.4 685.5 396.8 687 399.4 688.4 401.9 689.2 402.5 689.9 402.3 690.2 400.1 690.6 398 691.4 397.9 692.3 398.5 693.5 401.1 694.7 403.8 695.5 404.4 696.3 404.4 696.9 402.5 697.6 400.6 698.4 400.7 699.3 401.5 700.3 404.2 701.2 406.8 702 407.6 702.8 407.8 703.7 406.1 704.7 404.5 705.6 404.8 706.4 405.7 707.1 408.4 707.7 411 708.5 411.9 709.3 412.2 710.5 410.9 711.7 409.7 712.6 410.1 713.4 411.1 713.8 413.7 714.1 416.2 714.8 417.2 715.6 417.7 717 416.7 718.5 415.9 719.4 416.4 720.1 417.6 720.2 420 720.2 422.3 720.8 423.4 721.6 424 723.2 423.4 724.9 423 725.8 423.7 726.4 424.9 726.2 427.1 725.9 429.3 726.4 430.4 727.2 431.1 729 430.9 730.8 430.9 731.7 431.7 732.2 432.9 731.7 434.9 731 436.8 731.5 438 732.2 438.8 734.1 439 736.1 439.4 736.9 440.3 737.3 441.6 736.5 443.3 735.6 444.9 735.9 446 736.6 446.9 738.6 447.5 740.6 448.3 741.4 449.3 741.6 450.5 740.5 451.9 739.3 453.2 739.5 454.3 740.1 455.3 742.2 456.3 744.3 457.4 744.9 458.5 745 459.7 743.7 460.7 742.3 461.6 742.3 462.6 742.9 463.7 744.9 465 747 466.5 747.5 467.7 747.5 468.7 745.9 469.4 744.3 469.9 744.2 470.8 744.7 472 746.7 473.6 748.7 475.4 749.1 476.6 748.9 477.6 747.2 477.8 745.4 478 745.2 478.8 745.5 479.9 747.4 481.9 749.3 483.9 749.6 485.1 749.3 486 747.4 485.8 745.5 485.5 745.2 486.3 745.4 487.4 747.2 489.6 748.9 491.8 749.1 493 748.7 493.7 746.7 493.2 744.7 492.5 744.2 493.1 744.3 494.1 745.9 496.5 747.5 499 747.5 500.1 747 500.7 744.9 499.7 742.9 498.7 742.3 499.1 742.3 500.1 743.7 502.7 745 505.2 744.9 506.2 744.3 506.6 742.2 505.3 740.1 504 739.5 504.3 739.3 505.1 740.5 507.8 741.6 510.4 741.4 511.3 740.6 511.5 738.6 509.9 736.6 508.2 735.9 508.3 735.6 509.1 736.5 511.7 737.3 514.4 736.9 515.2 736.1 515.2 734.1 513.3 732.2 511.3 731.5 511.3 731 511.9 731.7 514.5 732.2 517.1 731.7 517.7 730.8 517.6 729 515.4 727.2 513.2 726.4 513 725.9 513.5 726.2 516 726.4 518.5 725.8 519 724.9 518.7 723.2 516.3 721.6 513.9 720.8 513.5 720.2 513.8 720.2 516.2 720.1 518.6 719.4 518.8 718.5 518.4 717 515.8 715.6 513.3 714.8 512.7 714.1 512.9 713.8 515.1 713.4 517.2 712.6 517.3 711.7 516.7 710.5 514.1 709.3 511.4 708.5 510.8 707.7 510.8 707.1 512.7 706.4 514.6 705.6 514.5 704.7 513.7 703.7 511 702.8 508.4 702 507.6 701.2 507.4 700.3 509.1 699.3 510.7 698.4 510.4 697.6 509.5 696.9 506.8 696.3 504.2 695.5 503.3 694.7 503 693.5 504.3 692.3 505.5 691.4 505.1 690.6 504.1 690.2 501.5 689.9 499 689.2 498 688.4 497.5 687 498.5 685.5 499.3 684.6 498.8 683.9 497.6 683.8 495.2 683.8 492.9 683.2 491.8 682.4 491.2 680.8 491.8 679.1 492.2 678.2 491.5 677.6 490.3 677.8 488.1 678.1 485.9 677.6 484.8 676.8 484.1 675 484.3 673.2 484.3 672.3 483.5 671.8 482.3 672.3 480.3 673 478.4 672.5 477.2 671.8 476.4 669.9 476.2 667.9 475.8 667.1 474.9 666.7 473.6 667.5 471.9 668.4 470.3 668.1 469.2 667.4 468.3 665.4 467.7 663.4 466.9 662.6 465.9 662.4 464.7 663.5 463.3 664.7 462 664.5 460.9 663.9 459.9 661.8 458.9 659.7 457.8 659.1 456.7 659 455.5 660.3 454.5 661.7 453.6 661.7 452.6 661.1 451.5 659.1 450.2 657 448.7 656.5 447.5 656.5 446.5 658.1 445.8 659.7 445.3 659.8 444.4 659.3 443.2 657.3 441.6 655.3 439.8 654.9 438.6 655.1 437.6 656.8 437.4 658.6 437.2 658.8 436.4 658.5 435.3 656.6 433.3 654.7 431.3zM694.4 453.2 694.5 451.9 694.8 450.7 695.2 449.7 695.8 448.9 696.6 448.3 697.5 447.9 698.5 447.8 699.6 447.9 700.8 448.2 702 448.8 703.2 449.6 704.4 450.6 705.5 451.8 706.5 453.1 707.4 454.5 708.2 456 708.8 457.5 709.2 459.1 709.5 460.6 709.6 462 709.5 463.3 709.2 464.5 708.8 465.5 708.2 466.3 707.4 466.9 706.5 467.3 705.5 467.4 704.4 467.3 703.2 467 702 466.4 700.8 465.6 699.6 464.6 698.5 463.4 697.5 462.1 696.6 460.7 695.8 459.2 695.2 457.7 694.8 456.1 694.5 454.6z" fill="#eeeeee" fill-rule="evenodd" stroke="#404040" stroke-width="1.1" stroke-linejoin="round"/>
<line x1="712.0" y1="451.8" x2="657.0" y2="483.6" stroke="#707070" stroke-width="1.2" stroke-dasharray="12.5 6 1.5 6"/>
<polygon points="615.3,224.7 621.8,221.8 697.5,267.6 748,326 802.5,371.6 842.7,423.1 831,442.5 828,447.4 821.3,464.8 815.5,470.7 720,383 706.5,361 711,331 702,319 680,298.7 621.1,262.5 614.5,252.4" fill="#f3f3f3" stroke="#333" stroke-width="0.90" stroke-linejoin="round"/>
<polygon points="621.8,221.8 634.9,213.8 710.3,260.3 761,321.5 800.4,352 824.4,356.4 869.3,408.1 842.7,423.1 802.5,371.6 748,326 697.5,267.6" fill="#dadada" stroke="#333" stroke-width="0.90" stroke-linejoin="round"/>
<line x1="697.5" y1="267.6" x2="710.3" y2="260.3" stroke="#333" stroke-width="0.9"/>
<polygon points="800.4,352 824.4,356.4 811.3,362.9" fill="#8a8a8a" stroke="#333" stroke-width="0.90" stroke-linejoin="round"/>
<polygon points="842.7,423.1 869.3,408.1 859.2,425.1 852.4,432.8 831,442.5" fill="#2e2e2e" stroke="#333" stroke-width="0.90" stroke-linejoin="round"/>
<polygon points="828,447.4 853.3,433.8 840.7,457 836.9,457 821.3,464.8" fill="#262626" stroke="#333" stroke-width="0.90" stroke-linejoin="round"/>
<path d="M634.0,249.0 L690.0,283.0 L755.0,361.0" fill="none" stroke="#333" stroke-width="11.3" stroke-linecap="round" stroke-linejoin="round"/>
<path d="M634.0,249.0 L690.0,283.0 L755.0,361.0" fill="none" stroke="#d6d6d6" stroke-width="9.5" stroke-linecap="round" stroke-linejoin="round"/>
<path d="M718.5,358.5 L759.5,405.5" fill="none" stroke="#333" stroke-width="11.3" stroke-linecap="round" stroke-linejoin="round"/>
<path d="M718.5,358.5 L759.5,405.5" fill="none" stroke="#d6d6d6" stroke-width="9.5" stroke-linecap="round" stroke-linejoin="round"/>
<defs><linearGradient id="gb" x1="0" y1="0" x2="1" y2="1"><stop offset="0" stop-color="#7a7a7a"/><stop offset="0.55" stop-color="#d8d8d8"/><stop offset="1" stop-color="#f0f0f0"/></linearGradient></defs>
<path d="M773.6 392.7 773.8 389.2 774.6 386.2 775.8 383.5 777.4 381.4 779.4 379.8 781.8 378.8 784.5 378.5 787.3 378.8 790.4 379.7 793.5 381.2 796.6 383.3 799.7 385.9 802.5 388.9 805.2 392.4 807.6 396.1 809.6 400 811.2 404 812.4 408 813.2 412 813.4 415.7 813.2 419.2 812.4 422.2 811.2 424.9 809.6 427 807.6 428.6 805.2 429.6 802.5 429.9 799.7 429.6 796.6 428.7 793.5 427.2 790.4 425.1 787.3 422.5 784.5 419.5 781.8 416 779.4 412.3 777.4 408.4 775.8 404.4 774.6 400.4 773.8 396.4z" fill="url(#gb)" stroke="#333" stroke-width="0.9"/>
<clipPath id="cbore"><path d="M773.6 392.7 773.8 389.2 774.6 386.2 775.8 383.5 777.4 381.4 779.4 379.8 781.8 378.8 784.5 378.5 787.3 378.8 790.4 379.7 793.5 381.2 796.6 383.3 799.7 385.9 802.5 388.9 805.2 392.4 807.6 396.1 809.6 400 811.2 404 812.4 408 813.2 412 813.4 415.7 813.2 419.2 812.4 422.2 811.2 424.9 809.6 427 807.6 428.6 805.2 429.6 802.5 429.9 799.7 429.6 796.6 428.7 793.5 427.2 790.4 425.1 787.3 422.5 784.5 419.5 781.8 416 779.4 412.3 777.4 408.4 775.8 404.4 774.6 400.4 773.8 396.4z"/></clipPath>
<path clip-path="url(#cbore)" d="M792.8 383.5 793 380.3 793.7 377.5 794.8 375.1 796.3 373.2 798.1 371.7 800.3 370.8 802.7 370.5 805.4 370.8 808.2 371.6 811 373 813.8 374.9 816.6 377.3 819.3 380.1 821.7 383.2 823.9 386.6 825.7 390.2 827.2 393.8 828.3 397.5 829 401.1 829.2 404.5 829 407.7 828.3 410.5 827.2 412.9 825.7 414.8 823.9 416.3 821.7 417.2 819.3 417.5 816.6 417.2 813.8 416.4 811 415 808.2 413.1 805.4 410.7 802.7 407.9 800.3 404.8 798.1 401.4 796.3 397.8 794.8 394.2 793.7 390.5 793 386.9z" fill="#f2f2f2" stroke="#555" stroke-width="0.8"/>
<path d="M773.6 392.7 773.8 389.2 774.6 386.2 775.8 383.5 777.4 381.4 779.4 379.8 781.8 378.8 784.5 378.5 787.3 378.8 790.4 379.7 793.5 381.2 796.6 383.3 799.7 385.9 802.5 388.9 805.2 392.4 807.6 396.1 809.6 400 811.2 404 812.4 408 813.2 412 813.4 415.7 813.2 419.2 812.4 422.2 811.2 424.9 809.6 427 807.6 428.6 805.2 429.6 802.5 429.9 799.7 429.6 796.6 428.7 793.5 427.2 790.4 425.1 787.3 422.5 784.5 419.5 781.8 416 779.4 412.3 777.4 408.4 775.8 404.4 774.6 400.4 773.8 396.4z" fill="none" stroke="#333" stroke-width="0.9"/>
<line x1="811.6" y1="427" x2="831" y2="442.5" stroke="#333" stroke-width="0.9"/>
<path d="M838.9 398.7 839 397.6 839.2 396.7 839.6 395.9 840.1 395.3 840.7 394.8 841.4 394.5 842.2 394.4 843.1 394.5 844.1 394.7 845 395.2 845.9 395.8 846.9 396.6 847.8 397.6 848.6 398.6 849.3 399.7 849.9 400.9 850.4 402.1 850.8 403.4 851 404.6 851.1 405.7 851 406.8 850.8 407.7 850.4 408.5 849.9 409.1 849.3 409.6 848.6 409.9 847.8 410 846.9 409.9 845.9 409.7 845 409.2 844.1 408.6 843.1 407.8 842.2 406.8 841.4 405.8 840.7 404.7 840.1 403.5 839.6 402.3 839.2 401 839 399.8z" fill="#e4e4e4" stroke="#333" stroke-width="0.9"/>
<line x1="604.0" y1="271.0" x2="650.0" y2="244.5" stroke="#707070" stroke-width="1.2" stroke-dasharray="12.5 6 1.5 6"/>
<line x1="706.0" y1="337.4" x2="760.0" y2="306.3" stroke="#707070" stroke-width="1.2" stroke-dasharray="12.5 6 1.5 6"/>
<line x1="712.0" y1="380.1" x2="790.0" y2="335.1" stroke="#707070" stroke-width="1.2" stroke-dasharray="12.5 6 1.5 6"/>
<line x1="772.0" y1="417.2" x2="812.0" y2="394.1" stroke="#707070" stroke-width="1.2" stroke-dasharray="12.5 6 1.5 6"/>
<g stroke-width=".7" stroke-linejoin="round">
<path fill="#7b7b7b" stroke="#7b7b7b" d="M687.8 207.2 689.2 206.8 696.1 202.8 694.7 203.2z"/>
<path fill="#848484" stroke="#848484" d="M689.2 206.8 690.6 206.6 697.6 202.6 696.1 202.8zM690.6 206.6 692 206.5 698.9 202.5 697.6 202.6zM692 206.5 693.4 206.4 700.3 202.4 698.9 202.5zM693.4 206.4 694.8 206.2 701.8 202.2 700.3 202.4z"/>
<path fill="#9c9c9c" stroke="#9c9c9c" d="M705.5 227.1 705.2 229 712.2 225 712.4 223.1z"/>
<path fill="#b1b1b1" stroke="#b1b1b1" d="M705.5 225.1 705.5 227.1 712.4 223.1 712.4 221.1zM705.5 223.3 705.5 225.1 712.4 221.1 712.4 219.3zM705.5 221.5 705.5 223.3 712.4 219.3 712.4 217.5zM705.5 219.5 705.5 221.5 712.4 217.5 712.4 215.5z"/>
<path fill="#939393" stroke="#939393" d="M694.8 206.2 696.5 206.5 703.4 202.5 701.8 202.2z"/>
<path fill="#e4e4e4" stroke="#e4e4e4" d="M696.5 206.5 698.2 208.2 705.1 204.2 703.4 202.5z"/>
<path fill="#eaeaea" stroke="#eaeaea" d="M698.2 208.2 699.6 210 706.6 206 705.1 204.2zM699.6 210 701 211.7 707.9 207.7 706.6 206zM701 211.7 702.4 213.4 709.3 209.4 707.9 207.7zM702.4 213.4 703.8 215.2 710.8 211.2 709.3 209.4zM703.8 215.2 705.2 217.3 712.2 213.3 710.8 211.2z"/>
<path fill="#c6c6c6" stroke="#c6c6c6" d="M705.2 217.3 705.5 219.5 712.4 215.5 712.2 213.3z"/>
</g>
<clipPath id="c30"><path d="M692.2 215.6 692.5 213.9 693.4 212.8 694.8 212.5 696.5 213.1 698.2 214.4 699.6 216.3 700.5 218.5 700.8 220.6 700.5 222.3 699.6 223.4 698.2 223.7 696.5 223.1 694.8 221.8 693.4 219.9 692.5 217.7z"/></clipPath>
<g clip-path="url(#c30)">
<path fill="#fff" d="M692.2 215.6 692.5 213.9 693.4 212.8 694.8 212.5 696.5 213.1 698.2 214.4 699.6 216.3 700.5 218.5 700.8 220.6 700.5 222.3 699.6 223.4 698.2 223.7 696.5 223.1 694.8 221.8 693.4 219.9 692.5 217.7z"/>
<g stroke-width=".7" stroke-linejoin="round">
<path fill="#eaeaea" stroke="#eaeaea" d="M694.8 221.8 693.4 219.9 700.4 215.9 701.8 217.8zM693.4 219.9 692.5 217.7 699.4 213.7 700.4 215.9z"/>
<path fill="#d5d5d5" stroke="#d5d5d5" d="M696.5 223.1 694.8 221.8 701.8 217.8 703.4 219.1z"/>
<path fill="#c9c9c9" stroke="#c9c9c9" d="M692.5 217.7 692.2 215.6 699.1 211.6 699.4 213.7z"/>
<path fill="#969696" stroke="#969696" d="M692.2 215.6 692.5 213.9 699.4 209.9 699.1 211.6z"/>
<path fill="#a5a5a5" stroke="#a5a5a5" d="M698.2 223.7 696.5 223.1 703.4 219.1 705.1 219.7z"/>
<path fill="#6f6f6f" stroke="#6f6f6f" d="M692.5 213.9 693.4 212.8 700.4 208.8 699.4 209.9z"/>
<path fill="#7e7e7e" stroke="#7e7e7e" d="M699.6 223.4 698.2 223.7 705.1 219.7 706.5 219.4z"/>
</g>
</g>
<path d="M687.5 212.9 687.5 211.1 687.5 209.1 687.8 207.2 689.2 206.8 690.6 206.6 692 206.5 693.4 206.4 694.8 206.2 696.5 206.5 698.2 208.2 699.6 210 701 211.7 702.4 213.4 703.8 215.2 705.2 217.3 705.5 219.5 705.5 221.5 705.5 223.3 705.5 225.1 705.5 227.1 705.2 229 703.8 229.4 702.4 229.6 701 229.7 699.6 229.8 698.2 230 696.5 229.7 694.8 228 693.4 226.2 692 224.5 690.6 222.8 689.2 221 687.8 218.9 687.5 216.7 687.5 214.7zM692.2 215.6 692.5 213.9 693.4 212.8 694.8 212.5 696.5 213.1 698.2 214.4 699.6 216.3 700.5 218.5 700.8 220.6 700.5 222.3 699.6 223.4 698.2 223.7 696.5 223.1 694.8 221.8 693.4 219.9 692.5 217.7z" fill="#eeeeee" fill-rule="evenodd" stroke="#3a3a3a" stroke-width=".90" stroke-linejoin="round"/>
<path fill="none" stroke="#3a3a3a" stroke-width=".90" stroke-linejoin="round" d="M687.5 209.1 687.8 207.2 694.7 203.2 696.1 202.8 697.5 202.6 701.8 202.2 703.4 202.5 705.1 204.2 710.8 211.2 712.2 213.3 712.4 215.5 712.4 223.1 712.2 225 705.2 229 703.8 229.4 702.4 229.6 698.2 229.9 696.5 229.7 694.8 228 693.4 226.2 689.2 221 687.8 218.9 687.5 216.7z"/>
<path d="M687.6 212.9 687.7 211.4 688 210 688.5 208.8 689.3 207.9 690.2 207.2 691.2 206.7 692.4 206.6 693.7 206.7 695.1 207.1 696.5 207.8 697.9 208.7 699.3 209.9 700.6 211.2 701.8 212.8 702.8 214.5 703.7 216.2 704.5 218 705 219.8 705.3 221.6 705.4 223.3 705.3 224.8 705 226.2 704.5 227.4 703.7 228.3 702.8 229 701.8 229.5 700.6 229.6 699.3 229.5 697.9 229.1 696.5 228.4 695.1 227.5 693.7 226.3 692.4 225 691.2 223.4 690.2 221.7 689.3 220 688.5 218.2 688 216.4 687.7 214.6z" fill="none" stroke="#444" stroke-width="0.7"/>
<g stroke-width=".7" stroke-linejoin="round">
<path fill="#7b7b7b" stroke="#7b7b7b" d="M764.5 286.8 765.9 286.4 772.8 282.4 771.4 282.8z"/>
<path fill="#848484" stroke="#848484" d="M765.9 286.4 767.3 286.2 774.3 282.2 772.8 282.4zM767.3 286.2 768.7 286.1 775.6 282.1 774.3 282.2zM768.7 286.1 770.1 286 777 282 775.6 282.1zM770.1 286 771.5 285.8 778.5 281.8 777 282z"/>
<path fill="#9c9c9c" stroke="#9c9c9c" d="M782.2 306.7 781.9 308.6 788.9 304.6 789.1 302.7z"/>
<path fill="#b1b1b1" stroke="#b1b1b1" d="M782.2 304.7 782.2 306.7 789.1 302.7 789.1 300.7zM782.2 302.9 782.2 304.7 789.1 300.7 789.1 298.9zM782.2 301.1 782.2 302.9 789.1 298.9 789.1 297.1zM782.2 299.1 782.2 301.1 789.1 297.1 789.1 295.1z"/>
<path fill="#939393" stroke="#939393" d="M771.5 285.8 773.2 286.1 780.1 282.1 778.5 281.8z"/>
<path fill="#e4e4e4" stroke="#e4e4e4" d="M773.2 286.1 774.9 287.8 781.8 283.8 780.1 282.1z"/>
<path fill="#eaeaea" stroke="#eaeaea" d="M774.9 287.8 776.3 289.6 783.3 285.6 781.8 283.8zM776.3 289.6 777.7 291.3 784.6 287.3 783.3 285.6zM777.7 291.3 779.1 293 786 289 784.6 287.3zM779.1 293 780.5 294.8 787.5 290.8 786 289zM780.5 294.8 781.9 296.9 788.9 292.9 787.5 290.8z"/>
<path fill="#c6c6c6" stroke="#c6c6c6" d="M781.9 296.9 782.2 299.1 789.1 295.1 788.9 292.9z"/>
</g>
<clipPath id="c31"><path d="M768.9 295.2 769.2 293.5 770.1 292.4 771.5 292.1 773.2 292.7 774.9 294 776.3 295.9 777.2 298.1 777.5 300.2 777.2 301.9 776.3 303 774.9 303.3 773.2 302.7 771.5 301.4 770.1 299.5 769.2 297.3z"/></clipPath>
<g clip-path="url(#c31)">
<path fill="#fff" d="M768.9 295.2 769.2 293.5 770.1 292.4 771.5 292.1 773.2 292.7 774.9 294 776.3 295.9 777.2 298.1 777.5 300.2 777.2 301.9 776.3 303 774.9 303.3 773.2 302.7 771.5 301.4 770.1 299.5 769.2 297.3z"/>
<g stroke-width=".7" stroke-linejoin="round">
<path fill="#eaeaea" stroke="#eaeaea" d="M771.5 301.4 770.1 299.5 777.1 295.5 778.5 297.4zM770.1 299.5 769.2 297.3 776.1 293.3 777.1 295.5z"/>
<path fill="#d5d5d5" stroke="#d5d5d5" d="M773.2 302.7 771.5 301.4 778.5 297.4 780.1 298.7z"/>
<path fill="#c9c9c9" stroke="#c9c9c9" d="M769.2 297.3 768.9 295.2 775.8 291.2 776.1 293.3z"/>
<path fill="#969696" stroke="#969696" d="M768.9 295.2 769.2 293.5 776.1 289.5 775.8 291.2z"/>
<path fill="#a5a5a5" stroke="#a5a5a5" d="M774.9 303.3 773.2 302.7 780.1 298.7 781.8 299.3z"/>
<path fill="#6f6f6f" stroke="#6f6f6f" d="M769.2 293.5 770.1 292.4 777.1 288.4 776.1 289.5z"/>
<path fill="#7e7e7e" stroke="#7e7e7e" d="M776.3 303 774.9 303.3 781.8 299.3 783.2 299z"/>
</g>
</g>
<path d="M764.2 292.5 764.2 290.7 764.2 288.7 764.5 286.8 765.9 286.4 767.3 286.2 768.7 286.1 770.1 286 771.5 285.8 773.2 286.1 774.9 287.8 776.3 289.6 777.7 291.3 779.1 293 780.5 294.8 781.9 296.9 782.2 299.1 782.2 301.1 782.2 302.9 782.2 304.7 782.2 306.7 781.9 308.6 780.5 309 779.1 309.2 777.7 309.3 776.3 309.4 774.9 309.6 773.2 309.3 771.5 307.6 770.1 305.8 768.7 304.1 767.3 302.4 765.9 300.6 764.5 298.5 764.2 296.3 764.2 294.3zM768.9 295.2 769.2 293.5 770.1 292.4 771.5 292.1 773.2 292.7 774.9 294 776.3 295.9 777.2 298.1 777.5 300.2 777.2 301.9 776.3 303 774.9 303.3 773.2 302.7 771.5 301.4 770.1 299.5 769.2 297.3z" fill="#eeeeee" fill-rule="evenodd" stroke="#3a3a3a" stroke-width=".90" stroke-linejoin="round"/>
<path fill="none" stroke="#3a3a3a" stroke-width=".90" stroke-linejoin="round" d="M764.2 288.7 764.5 286.8 771.4 282.8 772.8 282.4 774.2 282.2 778.5 281.9 780.1 282.1 781.8 283.8 787.5 290.8 788.9 292.9 789.1 295.1 789.1 302.7 788.9 304.6 781.9 308.6 780.5 309 779.1 309.2 774.9 309.6 773.2 309.3 771.5 307.6 770.1 305.8 765.9 300.6 764.5 298.5 764.2 296.3z"/>
<path d="M764.3 292.5 764.4 291 764.7 289.6 765.2 288.4 766 287.5 766.9 286.8 767.9 286.3 769.1 286.2 770.4 286.3 771.8 286.7 773.2 287.4 774.6 288.3 776 289.5 777.3 290.8 778.5 292.4 779.5 294.1 780.4 295.8 781.2 297.6 781.7 299.4 782 301.2 782.1 302.9 782 304.4 781.7 305.8 781.2 307 780.4 307.9 779.5 308.6 778.5 309.1 777.3 309.2 776 309.1 774.6 308.7 773.2 308 771.8 307.1 770.4 305.9 769.1 304.6 767.9 303 766.9 301.3 766 299.6 765.2 297.8 764.7 296 764.4 294.2z" fill="none" stroke="#444" stroke-width="0.7"/>
<g stroke-width=".7" stroke-linejoin="round">
<path fill="#7b7b7b" stroke="#7b7b7b" d="M783.9 321.7 785.3 321.3 792.2 317.3 790.8 317.7z"/>
<path fill="#848484" stroke="#848484" d="M785.3 321.3 786.7 321.1 793.7 317.1 792.2 317.3zM786.7 321.1 788.1 321 795 317 793.7 317.1zM788.1 321 789.5 320.9 796.4 316.9 795 317zM789.5 320.9 790.9 320.7 797.9 316.7 796.4 316.9z"/>
<path fill="#9c9c9c" stroke="#9c9c9c" d="M801.6 341.6 801.3 343.5 808.3 339.5 808.5 337.6z"/>
<path fill="#b1b1b1" stroke="#b1b1b1" d="M801.6 339.6 801.6 341.6 808.5 337.6 808.5 335.6zM801.6 337.8 801.6 339.6 808.5 335.6 808.5 333.8zM801.6 336 801.6 337.8 808.5 333.8 808.5 332zM801.6 334 801.6 336 808.5 332 808.5 330z"/>
<path fill="#939393" stroke="#939393" d="M790.9 320.7 792.6 321 799.5 317 797.9 316.7z"/>
<path fill="#e4e4e4" stroke="#e4e4e4" d="M792.6 321 794.3 322.7 801.2 318.7 799.5 317z"/>
<path fill="#eaeaea" stroke="#eaeaea" d="M794.3 322.7 795.7 324.5 802.7 320.5 801.2 318.7zM795.7 324.5 797.1 326.2 804 322.2 802.7 320.5zM797.1 326.2 798.5 327.9 805.4 323.9 804 322.2zM798.5 327.9 799.9 329.7 806.9 325.7 805.4 323.9zM799.9 329.7 801.3 331.8 808.3 327.8 806.9 325.7z"/>
<path fill="#c6c6c6" stroke="#c6c6c6" d="M801.3 331.8 801.6 334 808.5 330 808.3 327.8z"/>
</g>
<clipPath id="c32"><path d="M788.3 330.1 788.6 328.4 789.5 327.3 790.9 327 792.6 327.6 794.3 328.9 795.7 330.8 796.6 333 796.9 335.1 796.6 336.8 795.7 337.9 794.3 338.2 792.6 337.6 790.9 336.3 789.5 334.4 788.6 332.2z"/></clipPath>
<g clip-path="url(#c32)">
<path fill="#fff" d="M788.3 330.1 788.6 328.4 789.5 327.3 790.9 327 792.6 327.6 794.3 328.9 795.7 330.8 796.6 333 796.9 335.1 796.6 336.8 795.7 337.9 794.3 338.2 792.6 337.6 790.9 336.3 789.5 334.4 788.6 332.2z"/>
<g stroke-width=".7" stroke-linejoin="round">
<path fill="#eaeaea" stroke="#eaeaea" d="M790.9 336.3 789.5 334.4 796.5 330.4 797.9 332.3zM789.5 334.4 788.6 332.2 795.5 328.2 796.5 330.4z"/>
<path fill="#d5d5d5" stroke="#d5d5d5" d="M792.6 337.6 790.9 336.3 797.9 332.3 799.5 333.6z"/>
<path fill="#c9c9c9" stroke="#c9c9c9" d="M788.6 332.2 788.3 330.1 795.2 326.1 795.5 328.2z"/>
<path fill="#969696" stroke="#969696" d="M788.3 330.1 788.6 328.4 795.5 324.4 795.2 326.1z"/>
<path fill="#a5a5a5" stroke="#a5a5a5" d="M794.3 338.2 792.6 337.6 799.5 333.6 801.2 334.2z"/>
<path fill="#6f6f6f" stroke="#6f6f6f" d="M788.6 328.4 789.5 327.3 796.5 323.3 795.5 324.4z"/>
<path fill="#7e7e7e" stroke="#7e7e7e" d="M795.7 337.9 794.3 338.2 801.2 334.2 802.6 333.9z"/>
</g>
</g>
<path d="M783.6 327.4 783.6 325.6 783.6 323.6 783.9 321.7 785.3 321.3 786.7 321.1 788.1 321 789.5 320.9 790.9 320.7 792.6 321 794.3 322.7 795.7 324.5 797.1 326.2 798.5 327.9 799.9 329.7 801.3 331.8 801.6 334 801.6 336 801.6 337.8 801.6 339.6 801.6 341.6 801.3 343.5 799.9 343.9 798.5 344.1 797.1 344.2 795.7 344.3 794.3 344.5 792.6 344.2 790.9 342.5 789.5 340.7 788.1 339 786.7 337.3 785.3 335.5 783.9 333.4 783.6 331.2 783.6 329.2zM788.3 330.1 788.6 328.4 789.5 327.3 790.9 327 792.6 327.6 794.3 328.9 795.7 330.8 796.6 333 796.9 335.1 796.6 336.8 795.7 337.9 794.3 338.2 792.6 337.6 790.9 336.3 789.5 334.4 788.6 332.2z" fill="#eeeeee" fill-rule="evenodd" stroke="#3a3a3a" stroke-width=".90" stroke-linejoin="round"/>
<path fill="none" stroke="#3a3a3a" stroke-width=".90" stroke-linejoin="round" d="M783.6 323.6 783.9 321.7 790.8 317.7 792.2 317.3 793.6 317.1 797.9 316.8 799.5 317 801.2 318.7 806.9 325.7 808.3 327.8 808.5 330 808.5 337.6 808.3 339.5 801.3 343.5 799.9 343.9 798.5 344.1 794.3 344.4 792.6 344.2 790.9 342.5 789.5 340.7 785.3 335.5 783.9 333.4 783.6 331.2z"/>
<path d="M783.7 327.4 783.8 325.9 784.1 324.5 784.6 323.3 785.4 322.4 786.3 321.7 787.3 321.2 788.5 321.1 789.8 321.2 791.2 321.6 792.6 322.3 794 323.2 795.4 324.4 796.7 325.7 797.9 327.3 798.9 329 799.8 330.7 800.6 332.5 801.1 334.3 801.4 336.1 801.5 337.8 801.4 339.3 801.1 340.7 800.6 341.9 799.8 342.8 798.9 343.5 797.9 344 796.7 344.1 795.4 344 794 343.6 792.6 342.9 791.2 342 789.8 340.8 788.5 339.5 787.3 337.9 786.3 336.2 785.4 334.5 784.6 332.7 784.1 330.9 783.8 329.1z" fill="none" stroke="#444" stroke-width="0.7"/>
<defs><linearGradient id="gs" x1="0" y1="0" x2="1" y2="0"><stop offset="0" stop-color="#bdbdbd"/><stop offset="0.35" stop-color="#f4f4f4"/><stop offset="0.75" stop-color="#d0d0d0"/><stop offset="1" stop-color="#8a8a8a"/></linearGradient></defs>
<path d="M705 542 L705 558 Q705 563 714 563.5 Q723 563 723 558 L723 542 Q722 536.5 714 534.5 Q706 536.5 705 542 Z" fill="url(#gs)" stroke="#3a3a3a" stroke-width=".9"/>
<path d="M705.5 542 Q714 546 722.5 542" fill="none" stroke="#888" stroke-width=".7"/>
<path d="M706 546 Q714 550.5 722 546 M706 549 Q714 553.5 722 549 M706 552 Q714 556.5 722 552 M706 555 Q714 559.5 722 555 M706 558 Q714 562 722 558" fill="none" stroke="#9a9a9a" stroke-width=".8"/>
<path d="M714 526 L714 531" stroke="#777" stroke-width="1.1"/>
<g stroke-width=".7" stroke-linejoin="round">
<path fill="#a2a2a2" stroke="#a2a2a2" d="M921.8 274.7 921 276.1 921 289.6 921.8 288.2zM906.2 276.1 905.4 274.7 905.4 288.2 906.2 289.6z"/>
<path fill="#bababa" stroke="#bababa" d="M921 276.1 919.5 277.3 919.5 290.8 921 289.6zM907.7 277.3 906.2 276.1 906.2 289.6 907.7 290.8z"/>
<path fill="#d5d5d5" stroke="#d5d5d5" d="M919.5 277.3 917.4 278.2 917.4 291.7 919.5 290.8zM909.8 278.2 907.7 277.3 907.7 290.8 909.8 291.7z"/>
<path fill="#e7e7e7" stroke="#e7e7e7" d="M917.4 278.2 914.9 278.6 914.9 292.1 917.4 291.7zM912.3 278.6 909.8 278.2 909.8 291.7 912.3 292.1z"/>
<path fill="#f0f0f0" stroke="#f0f0f0" d="M914.9 278.6 912.3 278.6 912.3 292.1 914.9 292.1z"/>
</g>
<path d="M907.7 270.5 909.8 269.6 912.3 269.2 914.9 269.2 917.4 269.6 919.5 270.5 921 271.7 921.8 273.1 921.8 274.7 921 276.1 919.5 277.3 917.4 278.2 914.9 278.6 912.3 278.6 909.8 278.2 907.7 277.3 906.2 276.1 905.4 274.7 905.4 273.1 906.2 271.7z" fill="#e6e6e6" fill-rule="evenodd" stroke="#3a3a3a" stroke-width=".80" stroke-linejoin="round"/>
<path fill="none" stroke="#3a3a3a" stroke-width=".80" stroke-linejoin="round" d="M905.4 273.1 906.2 271.7 907.7 270.5 909.8 269.6 912.3 269.1 914.9 269.1 917.4 269.6 919.5 270.5 921 271.7 921.8 273.1 921.8 288.1 921 289.6 919.5 290.8 917.4 291.7 914.9 292.1 912.3 292.1 909.8 291.7 907.7 290.8 906.2 289.6 905.4 288.1z"/>
<g stroke-width=".7" stroke-linejoin="round">
<path fill="#ababab" stroke="#ababab" d="M919.8 272 919.2 273 919.2 275.5 919.8 274.5zM908 273 907.4 272 907.4 274.5 908 275.5z"/>
<path fill="#c0c0c0" stroke="#c0c0c0" d="M919.2 273 918 273.9 918 276.4 919.2 275.5zM909.2 273.9 908 273 908 275.5 909.2 276.4z"/>
<path fill="#d8d8d8" stroke="#d8d8d8" d="M918 273.9 916.4 274.6 916.4 277.1 918 276.4zM910.8 274.6 909.2 273.9 909.2 276.4 910.8 277.1z"/>
<path fill="#eaeaea" stroke="#eaeaea" d="M916.4 274.6 914.6 275 914.6 277.5 916.4 277.1zM912.6 275 910.8 274.6 910.8 277.1 912.6 277.5z"/>
<path fill="#f0f0f0" stroke="#f0f0f0" d="M914.6 275 912.6 275 912.6 277.5 914.6 277.5z"/>
</g>
<clipPath id="c33"><path d="M911.2 270 912.3 269.6 913.6 269.5 914.9 269.6 916 270 916.7 270.7 916.9 271.4 916.7 272.1 916 272.8 914.9 273.2 913.6 273.3 912.3 273.2 911.2 272.8 910.5 272.1 910.3 271.4 910.5 270.7z"/></clipPath>
<g clip-path="url(#c33)">
<path fill="#fff" d="M911.2 270 912.3 269.6 913.6 269.5 914.9 269.6 916 270 916.7 270.7 916.9 271.4 916.7 272.1 916 272.8 914.9 273.2 913.6 273.3 912.3 273.2 911.2 272.8 910.5 272.1 910.3 271.4 910.5 270.7z"/>
<g stroke-width=".7" stroke-linejoin="round">
<path fill="#ededed" stroke="#ededed" d="M912.3 269.6 913.6 269.5 913.6 271.5 912.3 271.6zM913.6 269.5 914.9 269.6 914.9 271.6 913.6 271.5z"/>
<path fill="#d8d8d8" stroke="#d8d8d8" d="M914.9 269.6 916 270 916 272 914.9 271.6zM911.2 270 912.3 269.6 912.3 271.6 911.2 272z"/>
<path fill="#bdbdbd" stroke="#bdbdbd" d="M916 270 916.7 270.7 916.7 272.7 916 272zM910.5 270.7 911.2 270 911.2 272 910.5 272.7z"/>
<path fill="#a5a5a5" stroke="#a5a5a5" d="M916.7 270.7 916.9 271.4 916.9 273.4 916.7 272.7zM910.3 271.4 910.5 270.7 910.5 272.7 910.3 273.4z"/>
</g>
<path fill="#d8d8d8" stroke="#555" stroke-width=".6" d="M911.2 272 912.3 271.6 913.6 271.5 914.9 271.6 916 272 916.7 272.7 916.9 273.4 916.7 274.1 916 274.8 914.9 275.2 913.6 275.3 912.3 275.2 911.2 274.8 910.5 274.1 910.3 273.4 910.5 272.7z"/>
</g>
<path d="M909.2 268.8 910.8 268.2 912.6 267.8 914.6 267.8 916.4 268.2 918 268.8 919.2 269.8 919.8 270.8 919.8 272 919.2 273 918 273.9 916.4 274.6 914.6 275 912.6 275 910.8 274.6 909.2 273.9 908 273 907.4 272 907.4 270.8 908 269.8zM911.2 270 912.3 269.6 913.6 269.5 914.9 269.6 916 270 916.7 270.7 916.9 271.4 916.7 272.1 916 272.8 914.9 273.2 913.6 273.3 912.3 273.2 911.2 272.8 910.5 272.1 910.3 271.4 910.5 270.7z" fill="#ececec" fill-rule="evenodd" stroke="#3a3a3a" stroke-width=".80" stroke-linejoin="round"/>
<path fill="none" stroke="#3a3a3a" stroke-width=".80" stroke-linejoin="round" d="M907.4 270.8 908 269.8 909.2 268.9 910.8 268.2 912.6 267.8 914.6 267.8 916.4 268.2 918 268.9 919.2 269.8 919.8 270.8 919.8 274.5 919.2 275.5 918 276.4 916.4 277.1 914.6 277.5 912.6 277.5 910.8 277.1 909.2 276.4 908 275.5 907.4 274.5z"/>
<polyline points="913.6,271.7 915.8,271.9 917.8,272.5 919.5,273.3 920.8,274.3 921.6,275.3 921.9,276.5 921.6,277.5 920.8,278.5 919.5,279.3 917.8,279.9 915.8,280.1 913.6,280.1" fill="none" stroke="#7a7a7a" stroke-width="0.8"/>
<polyline points="913.6,273.9 915.8,274.1 917.8,274.7 919.5,275.5 920.8,276.5 921.6,277.5 921.9,278.7 921.6,279.7 920.8,280.7 919.5,281.5 917.8,282.1 915.8,282.3 913.6,282.3" fill="none" stroke="#7a7a7a" stroke-width="0.8"/>
<polyline points="913.6,276.1 915.8,276.3 917.8,276.9 919.5,277.7 920.8,278.7 921.6,279.7 921.9,280.9 921.6,281.9 920.8,282.9 919.5,283.7 917.8,284.3 915.8,284.5 913.6,284.5" fill="none" stroke="#7a7a7a" stroke-width="0.8"/>
<polyline points="913.6,278.3 915.8,278.5 917.8,279.1 919.5,279.9 920.8,280.9 921.6,281.9 921.9,283.1 921.6,284.1 920.8,285.1 919.5,285.9 917.8,286.5 915.8,286.7 913.6,286.7" fill="none" stroke="#7a7a7a" stroke-width="0.8"/>
<polyline points="913.6,280.5 915.8,280.7 917.8,281.3 919.5,282.1 920.8,283.1 921.6,284.1 921.9,285.3 921.6,286.3 920.8,287.3 919.5,288.1 917.8,288.7 915.8,288.9 913.6,288.9" fill="none" stroke="#7a7a7a" stroke-width="0.8"/>
<g stroke-width=".7" stroke-linejoin="round">
<path fill="#8a8a8a" stroke="#8a8a8a" d="M905.5 308 907.6 307.2 934.4 291.7 932.4 292.5zM939.4 353.8 938.2 355.9 965.1 340.4 966.3 338.3z"/>
<path fill="#818181" stroke="#818181" d="M936.7 357.6 934.9 359 961.8 343.5 963.6 342.1zM938.2 355.9 936.7 357.6 963.6 342.1 965.1 340.4z"/>
<path fill="#909090" stroke="#909090" d="M907.6 307.2 909.8 306.7 936.7 291.2 934.4 291.7z"/>
<path fill="#999999" stroke="#999999" d="M909.8 306.7 912.3 306.7 939.1 291.2 936.7 291.2zM940.3 351.3 939.4 353.8 966.3 338.3 967.2 335.8z"/>
<path fill="#a5a5a5" stroke="#a5a5a5" d="M912.3 306.7 914.9 307.2 941.7 291.7 939.1 291.2zM940.8 348.5 940.3 351.3 967.2 335.8 967.7 333z"/>
<path fill="#b4b4b4" stroke="#b4b4b4" d="M914.9 307.2 917.5 308.1 944.4 292.6 941.7 291.7zM941 345.5 940.8 348.5 967.7 333 967.9 330z"/>
<path fill="#c0c0c0" stroke="#c0c0c0" d="M917.5 308.1 920.2 309.5 947.1 294 944.4 292.6z"/>
<path fill="#cfcfcf" stroke="#cfcfcf" d="M920.2 309.5 923 311.3 949.8 295.8 947.1 294z"/>
<path fill="#c6c6c6" stroke="#c6c6c6" d="M940.8 342.3 941 345.5 967.9 330 967.7 326.8z"/>
<path fill="#dbdbdb" stroke="#dbdbdb" d="M923 311.3 925.6 313.4 952.5 297.9 949.8 295.8z"/>
<path fill="#d2d2d2" stroke="#d2d2d2" d="M940.3 338.9 940.8 342.3 967.7 326.8 967.2 323.4z"/>
<path fill="#e7e7e7" stroke="#e7e7e7" d="M925.6 313.4 928.2 315.9 955 300.4 952.5 297.9z"/>
<path fill="#e1e1e1" stroke="#e1e1e1" d="M939.4 335.4 940.3 338.9 967.2 323.4 966.3 319.9z"/>
<path fill="#f0f0f0" stroke="#f0f0f0" d="M928.2 315.9 930.6 318.7 957.5 303.2 955 300.4zM930.6 318.7 932.9 321.8 959.7 306.3 957.5 303.2zM936.7 328.4 938.2 331.9 965.1 316.4 963.6 312.9zM932.9 321.8 934.9 325 961.8 309.5 959.7 306.3zM934.9 325 936.7 328.4 963.6 312.9 961.8 309.5z"/>
<path fill="#eaeaea" stroke="#eaeaea" d="M938.2 331.9 939.4 335.4 966.3 319.9 965.1 316.4z"/>
</g>
<path d="M899.5 321.5 899.6 318.5 900.2 315.7 901 313.2 902.2 311.1 903.7 309.4 905.5 308 907.6 307.2 909.8 306.7 912.3 306.7 914.9 307.2 917.5 308.1 920.2 309.5 923 311.3 925.6 313.4 928.2 315.9 930.6 318.7 932.9 321.8 934.9 325 936.7 328.4 938.2 331.9 939.4 335.4 940.3 338.9 940.8 342.3 941 345.5 940.8 348.5 940.3 351.3 939.4 353.8 938.2 355.9 936.7 357.6 934.9 359 932.9 359.8 930.6 360.3 928.2 360.3 925.6 359.8 923 358.9 920.2 357.5 917.5 355.7 914.9 353.6 912.3 351.1 909.8 348.3 907.6 345.2 905.5 342 903.7 338.6 902.2 335.1 901 331.6 900.2 328.1 899.6 324.7z" fill="#eeeeee" fill-rule="evenodd" stroke="#3a3a3a" stroke-width=".80" stroke-linejoin="round"/>
<path fill="none" stroke="#3a3a3a" stroke-width=".80" stroke-linejoin="round" d="M899.5 321.5 899.6 318.5 900.2 315.7 901 313.2 902.2 311.1 903.8 309.4 905.5 308 932.4 292.5 934.4 291.6 936.7 291.2 939.1 291.2 941.7 291.7 944.4 292.6 947.1 294 949.8 295.8 952.5 297.9 955 300.4 957.5 303.2 959.7 306.3 961.8 309.5 963.6 312.9 965.1 316.4 966.3 319.9 967.2 323.4 967.7 326.8 967.9 330 967.7 333 967.2 335.8 966.3 338.3 965.1 340.4 963.6 342.1 961.8 343.5 934.9 359 932.9 359.9 930.6 360.3 928.2 360.3 925.6 359.8 923 358.9 920.2 357.5 917.5 355.7 914.9 353.6 912.3 351.1 909.9 348.3 907.6 345.2 905.5 342 903.8 338.6 902.2 335.1 901 331.6 900.2 328.1 899.6 324.7z"/>
<path d="M908.1 316.5 908.4 312.9 909.1 309.7 910.4 306.9 912.1 304.7 914.2 303 916.7 302 919.5 301.7 922.5 302 925.6 302.9 928.9 304.5 932.2 306.7 935.3 309.4 938.3 312.6 941.1 316.1 943.6 320 945.7 324.1 947.4 328.3 948.7 332.5 949.4 336.6 949.7 340.5 949.4 344.1 948.7 347.3 947.4 350.1 945.7 352.3 943.6 354 941.1 355 938.3 355.3 935.3 355 932.2 354.1 928.9 352.5 925.6 350.3 922.5 347.6 919.5 344.4 916.7 340.9 914.2 337 912.1 332.9 910.4 328.7 909.1 324.5 908.4 320.4z" fill="none" stroke="#555" stroke-width="0.8"/>
<path d="M910.7 315 911 311.4 911.7 308.2 913 305.4 914.7 303.2 916.8 301.5 919.3 300.5 922.1 300.2 925.1 300.5 928.2 301.4 931.5 303 934.7 305.2 937.9 307.9 940.9 311.1 943.7 314.6 946.2 318.5 948.3 322.6 950 326.8 951.3 331 952 335.1 952.3 339 952 342.6 951.3 345.8 950 348.6 948.3 350.8 946.2 352.5 943.7 353.5 940.9 353.8 937.9 353.5 934.7 352.6 931.5 351 928.2 348.8 925.1 346.1 922.1 342.9 919.3 339.4 916.8 335.5 914.7 331.4 913 327.2 911.7 323 911 318.9z" fill="none" stroke="#777" stroke-width="0.7"/>
<g stroke-width=".7" stroke-linejoin="round">
<path fill="#8a8a8a" stroke="#8a8a8a" d="M894.3 304.6 897 303.5 903.9 299.5 901.3 300.6zM938.1 363.7 936.6 366.4 943.5 362.4 945 359.7z"/>
<path fill="#818181" stroke="#818181" d="M934.6 368.7 932.3 370.4 939.2 366.4 941.5 364.7zM936.6 366.4 934.6 368.7 941.5 364.7 943.5 362.4z"/>
<path fill="#909090" stroke="#909090" d="M897 303.5 899.9 302.9 906.8 298.9 903.9 299.5z"/>
<path fill="#999999" stroke="#999999" d="M899.9 302.9 903 302.9 910 298.9 906.8 298.9zM939.2 360.5 938.1 363.7 945 359.7 946.2 356.5z"/>
<path fill="#a5a5a5" stroke="#a5a5a5" d="M903 302.9 906.4 303.5 913.3 299.5 910 298.9zM939.9 356.9 939.2 360.5 946.2 356.5 946.9 352.9z"/>
<path fill="#b4b4b4" stroke="#b4b4b4" d="M906.4 303.5 909.8 304.7 916.7 300.7 913.3 299.5zM940.2 353 939.9 356.9 946.9 352.9 947.1 349z"/>
<path fill="#c0c0c0" stroke="#c0c0c0" d="M909.8 304.7 913.3 306.5 920.2 302.5 916.7 300.7z"/>
<path fill="#cfcfcf" stroke="#cfcfcf" d="M913.3 306.5 916.8 308.8 923.7 304.8 920.2 302.5z"/>
<path fill="#c6c6c6" stroke="#c6c6c6" d="M939.9 348.8 940.2 353 947.1 349 946.9 344.8z"/>
<path fill="#dbdbdb" stroke="#dbdbdb" d="M916.8 308.8 920.3 311.6 927.2 307.6 923.7 304.8z"/>
<path fill="#d2d2d2" stroke="#d2d2d2" d="M939.2 344.4 939.9 348.8 946.9 344.8 946.2 340.4z"/>
<path fill="#e7e7e7" stroke="#e7e7e7" d="M920.3 311.6 923.6 314.8 930.5 310.8 927.2 307.6z"/>
<path fill="#e1e1e1" stroke="#e1e1e1" d="M938.1 340 939.2 344.4 946.2 340.4 945 336z"/>
<path fill="#f0f0f0" stroke="#f0f0f0" d="M923.6 314.8 926.7 318.4 933.7 314.4 930.5 310.8zM926.7 318.4 929.7 322.3 936.6 318.3 933.7 314.4zM934.6 330.9 936.6 335.4 943.5 331.4 941.5 326.9zM929.7 322.3 932.3 326.5 939.2 322.5 936.6 318.3zM932.3 326.5 934.6 330.9 941.5 326.9 939.2 322.5z"/>
<path fill="#eaeaea" stroke="#eaeaea" d="M936.6 335.4 938.1 340 945 336 943.5 331.4z"/>
</g>
<path d="M886.5 322 886.7 318.1 887.4 314.5 888.5 311.3 890.1 308.6 892 306.3 894.3 304.6 897 303.5 899.9 302.9 903 302.9 906.4 303.5 909.8 304.7 913.3 306.5 916.8 308.8 920.3 311.6 923.6 314.8 926.7 318.4 929.7 322.3 932.3 326.5 934.6 330.9 936.6 335.4 938.1 340 939.2 344.4 939.9 348.8 940.2 353 939.9 356.9 939.2 360.5 938.1 363.7 936.6 366.4 934.6 368.7 932.3 370.4 929.7 371.5 926.7 372.1 923.6 372.1 920.3 371.5 916.8 370.3 913.3 368.5 909.8 366.2 906.4 363.4 903 360.2 899.9 356.6 897 352.7 894.3 348.5 892 344.1 890.1 339.6 888.5 335 887.4 330.6 886.7 326.2z" fill="#eeeeee" fill-rule="evenodd" stroke="#3a3a3a" stroke-width=".80" stroke-linejoin="round"/>
<path fill="none" stroke="#3a3a3a" stroke-width=".80" stroke-linejoin="round" d="M886.5 322 886.7 318.1 887.4 314.5 888.5 311.3 890.1 308.6 892 306.3 894.3 304.6 901.3 300.6 903.9 299.5 906.8 298.9 910 298.9 913.3 299.5 916.7 300.7 920.2 302.5 923.7 304.8 927.2 307.6 930.5 310.8 933.7 314.4 936.6 318.3 939.2 322.5 941.5 326.9 943.5 331.4 945 336 946.2 340.4 946.9 344.8 947.1 349 946.9 352.9 946.2 356.5 945 359.7 943.5 362.4 941.5 364.7 939.2 366.4 932.3 370.4 929.6 371.5 926.7 372.1 923.6 372.1 920.3 371.5 916.8 370.3 913.3 368.5 909.8 366.2 906.4 363.4 903 360.2 899.9 356.6 897 352.7 894.3 348.5 892 344.1 890.1 339.6 888.5 335 887.4 330.6 886.7 326.2z"/>
<g stroke-width=".7" stroke-linejoin="round">
<path fill="#8a8a8a" stroke="#8a8a8a" d="M867.7 328.5 869.8 327.6 900.1 310.1 898 311zM903 376.1 901.8 378.3 932.1 360.8 933.3 358.6z"/>
<path fill="#818181" stroke="#818181" d="M900.2 380.1 898.3 381.5 928.6 364 930.5 362.6zM901.8 378.3 900.2 380.1 930.5 362.6 932.1 360.8z"/>
<path fill="#909090" stroke="#909090" d="M869.8 327.6 872.2 327.1 902.5 309.6 900.1 310.1z"/>
<path fill="#999999" stroke="#999999" d="M872.2 327.1 874.7 327.1 905 309.6 902.5 309.6zM903.9 373.5 903 376.1 933.3 358.6 934.2 356z"/>
<path fill="#a5a5a5" stroke="#a5a5a5" d="M874.7 327.1 877.4 327.6 907.7 310.1 905 309.6zM904.5 370.7 903.9 373.5 934.2 356 934.8 353.2z"/>
<path fill="#b4b4b4" stroke="#b4b4b4" d="M877.4 327.6 880.2 328.6 910.5 311.1 907.7 310.1zM904.7 367.5 904.5 370.7 934.8 353.2 935 350z"/>
<path fill="#c0c0c0" stroke="#c0c0c0" d="M880.2 328.6 883 330 913.3 312.5 910.5 311.1z"/>
<path fill="#cfcfcf" stroke="#cfcfcf" d="M883 330 885.8 331.8 916.1 314.3 913.3 312.5z"/>
<path fill="#c6c6c6" stroke="#c6c6c6" d="M904.5 364.1 904.7 367.5 935 350 934.8 346.6z"/>
<path fill="#dbdbdb" stroke="#dbdbdb" d="M885.8 331.8 888.6 334.1 918.9 316.6 916.1 314.3z"/>
<path fill="#d2d2d2" stroke="#d2d2d2" d="M903.9 360.6 904.5 364.1 934.8 346.6 934.2 343.1z"/>
<path fill="#e7e7e7" stroke="#e7e7e7" d="M888.6 334.1 891.3 336.7 921.6 319.2 918.9 316.6z"/>
<path fill="#e1e1e1" stroke="#e1e1e1" d="M903 357 903.9 360.6 934.2 343.1 933.3 339.5z"/>
<path fill="#f0f0f0" stroke="#f0f0f0" d="M891.3 336.7 893.8 339.6 924.1 322.1 921.6 319.2zM893.8 339.6 896.2 342.8 926.5 325.3 924.1 322.1zM900.2 349.7 901.8 353.3 932.1 335.8 930.5 332.2zM896.2 342.8 898.3 346.2 928.6 328.7 926.5 325.3zM898.3 346.2 900.2 349.7 930.5 332.2 928.6 328.7z"/>
<path fill="#eaeaea" stroke="#eaeaea" d="M901.8 353.3 903 357 933.3 339.5 932.1 335.8z"/>
</g>
<clipPath id="c34"><path d="M874.3 350 874.6 347.7 875.4 345.8 876.7 344.5 878.4 343.9 880.3 343.9 882.5 344.7 884.6 346.1 886.7 348.1 888.5 350.5 890 353.2 891.1 356 891.6 358.7 891.6 361.2 891.1 363.3 890 364.9 888.5 365.9 886.7 366.2 884.6 365.8 882.5 364.7 880.3 363 878.4 360.8 876.7 358.2 875.4 355.4 874.6 352.6z"/></clipPath>
<g clip-path="url(#c34)">
<path fill="#fff" d="M874.3 350 874.6 347.7 875.4 345.8 876.7 344.5 878.4 343.9 880.3 343.9 882.5 344.7 884.6 346.1 886.7 348.1 888.5 350.5 890 353.2 891.1 356 891.6 358.7 891.6 361.2 891.1 363.3 890 364.9 888.5 365.9 886.7 366.2 884.6 365.8 882.5 364.7 880.3 363 878.4 360.8 876.7 358.2 875.4 355.4 874.6 352.6z"/>
<g stroke-width=".7" stroke-linejoin="round">
<path fill="#f0f0f0" stroke="#f0f0f0" d="M878.4 360.8 876.7 358.2 887.1 352.2 888.8 354.8zM876.7 358.2 875.4 355.4 885.8 349.4 887.1 352.2zM880.3 363 878.4 360.8 888.8 354.8 890.7 357z"/>
<path fill="#e4e4e4" stroke="#e4e4e4" d="M875.4 355.4 874.6 352.6 885 346.6 885.8 349.4z"/>
<path fill="#dbdbdb" stroke="#dbdbdb" d="M882.5 364.7 880.3 363 890.7 357 892.8 358.7z"/>
<path fill="#cccccc" stroke="#cccccc" d="M874.6 352.6 874.3 350 884.7 344 885 346.6z"/>
<path fill="#c0c0c0" stroke="#c0c0c0" d="M884.6 365.8 882.5 364.7 892.8 358.7 895 359.8z"/>
<path fill="#aeaeae" stroke="#aeaeae" d="M874.3 350 874.6 347.7 885 341.7 884.7 344z"/>
<path fill="#a8a8a8" stroke="#a8a8a8" d="M886.7 366.2 884.6 365.8 895 359.8 897.1 360.2z"/>
<path fill="#939393" stroke="#939393" d="M874.6 347.7 875.4 345.8 885.8 339.8 885 341.7zM888.5 365.9 886.7 366.2 897.1 360.2 898.9 359.9z"/>
<path fill="#818181" stroke="#818181" d="M875.4 345.8 876.7 344.5 887.1 338.5 885.8 339.8z"/>
</g>
<path fill="#d8d8d8" stroke="#555" stroke-width=".6" d="M884.7 344 885 341.7 885.8 339.8 887.1 338.5 888.8 337.9 890.7 337.9 892.8 338.7 895 340.1 897.1 342.1 898.9 344.5 900.4 347.2 901.4 350 902 352.7 902 355.2 901.4 357.3 900.4 358.9 898.9 359.9 897.1 360.2 895 359.8 892.8 358.7 890.7 357 888.8 354.8 887.1 352.2 885.8 349.4 885 346.6z"/>
</g>
<path d="M861.3 342.5 861.5 339.3 862.1 336.5 863 333.9 864.2 331.7 865.8 329.9 867.7 328.5 869.8 327.6 872.2 327.1 874.7 327.1 877.4 327.6 880.2 328.6 883 330 885.8 331.8 888.6 334.1 891.3 336.7 893.8 339.6 896.2 342.8 898.3 346.2 900.2 349.7 901.8 353.3 903 357 903.9 360.6 904.5 364.1 904.7 367.5 904.5 370.7 903.9 373.5 903 376.1 901.8 378.3 900.2 380.1 898.3 381.5 896.2 382.4 893.8 382.9 891.3 382.9 888.6 382.4 885.8 381.4 883 380 880.2 378.2 877.4 375.9 874.7 373.3 872.2 370.4 869.8 367.2 867.7 363.8 865.8 360.3 864.2 356.7 863 353 862.1 349.4 861.5 345.9zM874.3 350 874.6 347.7 875.4 345.8 876.7 344.5 878.4 343.9 880.3 343.9 882.5 344.7 884.6 346.1 886.7 348.1 888.5 350.5 890 353.2 891.1 356 891.6 358.7 891.6 361.2 891.1 363.3 890 364.9 888.5 365.9 886.7 366.2 884.6 365.8 882.5 364.7 880.3 363 878.4 360.8 876.7 358.2 875.4 355.4 874.6 352.6z" fill="#eeeeee" fill-rule="evenodd" stroke="#3a3a3a" stroke-width=".80" stroke-linejoin="round"/>
<path fill="none" stroke="#3a3a3a" stroke-width=".80" stroke-linejoin="round" d="M861.4 342.5 861.5 339.3 862.1 336.5 863 333.9 864.2 331.7 865.8 329.9 867.7 328.5 898 311 900.1 310.1 902.5 309.6 905 309.6 907.7 310.1 910.5 311.1 913.3 312.5 916.1 314.4 918.9 316.6 921.6 319.2 924.1 322.1 926.5 325.3 928.6 328.7 930.5 332.2 932.1 335.8 933.3 339.5 934.2 343.1 934.8 346.6 935 350 934.8 353.2 934.2 356 933.3 358.6 932.1 360.8 930.5 362.6 928.6 364 898.3 381.5 896.2 382.4 893.8 382.9 891.3 382.9 888.6 382.4 885.8 381.4 883 380 880.2 378.1 877.4 375.9 874.7 373.3 872.2 370.4 869.8 367.2 867.7 363.8 865.8 360.3 864.2 356.7 863 353 862.1 349.4 861.5 345.9z"/>
<g stroke-width=".7" stroke-linejoin="round">
<path fill="#636363" stroke="#636363" d="M864.1 343.5 864.9 341.8 850.1 367.1 849.2 368.9z"/>
<path fill="#606060" stroke="#606060" d="M878 350.9 876.5 352.2 861.6 377.5 863.1 376.2z"/>
<path fill="#6f6f6f" stroke="#6f6f6f" d="M864 345.5 864.1 343.5 849.2 368.9 849.1 370.9z"/>
<path fill="#727272" stroke="#727272" d="M876.5 352.2 874.5 352.9 859.7 378.2 861.6 377.5z"/>
<path fill="#848484" stroke="#848484" d="M864.6 347.6 864 345.5 849.1 370.9 849.7 373z"/>
<path fill="#8a8a8a" stroke="#8a8a8a" d="M874.5 352.9 872.2 353 857.4 378.3 859.7 378.2z"/>
<path fill="#969696" stroke="#969696" d="M865.8 349.6 864.6 347.6 849.7 373 851 374.9z"/>
<path fill="#9f9f9f" stroke="#9f9f9f" d="M872.2 353 869.9 352.4 855 377.7 857.4 378.3z"/>
<path fill="#a5a5a5" stroke="#a5a5a5" d="M867.7 351.2 865.8 349.6 851 374.9 852.8 376.6z"/>
<path fill="#a8a8a8" stroke="#a8a8a8" d="M869.9 352.4 867.7 351.2 852.8 376.6 855 377.7z"/>
</g>
<path d="M866.4 340.5 868.4 339.8 870.7 339.7 873.1 340.3 875.3 341.4 877.1 343.1 878.4 345.1 879 347.1 878.8 349.1 878 350.9 876.5 352.2 874.5 352.9 872.2 353 869.9 352.4 867.7 351.2 865.8 349.6 864.6 347.6 864 345.5 864.1 343.5 864.9 341.8z" fill="#bbbbbb" fill-rule="evenodd" stroke="#3a3a3a" stroke-width=".80" stroke-linejoin="round"/>
<path fill="none" stroke="#3a3a3a" stroke-width=".80" stroke-linejoin="round" d="M849.1 370.9 849.2 368.9 850.1 367.1 864.9 341.8 866.4 340.5 868.4 339.8 870.7 339.7 873.1 340.3 875.3 341.4 877.1 343.1 878.4 345.1 879 347.1 878.8 349.1 878 350.9 863.1 376.2 861.6 377.5 859.6 378.2 857.4 378.3 855 377.7 852.8 376.6 851 374.9 849.7 373z"/>
<path stroke="#7a7a7a" stroke-width=".8" d="M870.6 341.2 869.4 356.5"/>
<path stroke="#7a7a7a" stroke-width=".8" d="M869 343.9 867.9 359.2"/>
<path stroke="#7a7a7a" stroke-width=".8" d="M867.4 346.5 866.3 361.8"/>
<path stroke="#7a7a7a" stroke-width=".8" d="M865.9 349.2 864.7 364.5"/>
<path stroke="#7a7a7a" stroke-width=".8" d="M864.3 351.9 863.2 367.2"/>
<path stroke="#7a7a7a" stroke-width=".8" d="M862.8 354.5 861.6 369.8"/>
<path stroke="#7a7a7a" stroke-width=".8" d="M861.2 357.2 860 372.5"/>
<path stroke="#7a7a7a" stroke-width=".8" d="M859.6 359.9 858.5 375.2"/>
<path stroke="#7a7a7a" stroke-width=".8" d="M858.1 362.5 856.9 377.8"/>
<g stroke-width=".7" stroke-linejoin="round">
<path fill="#7e7e7e" stroke="#7e7e7e" d="M878.9 318.2 879.8 316.5 864.9 341.8 864.1 343.5z"/>
<path fill="#787878" stroke="#787878" d="M892.8 325.5 891.3 326.8 876.5 352.2 878 350.9z"/>
<path fill="#878787" stroke="#878787" d="M878.8 320.2 878.9 318.2 864.1 343.5 864 345.5z"/>
<path fill="#8a8a8a" stroke="#8a8a8a" d="M891.3 326.8 889.3 327.6 874.5 352.9 876.5 352.2z"/>
<path fill="#999999" stroke="#999999" d="M879.4 322.3 878.8 320.2 864 345.5 864.6 347.6z"/>
<path fill="#a2a2a2" stroke="#a2a2a2" d="M889.3 327.6 887.1 327.6 872.2 353 874.5 352.9z"/>
<path fill="#aeaeae" stroke="#aeaeae" d="M880.7 324.3 879.4 322.3 864.6 347.6 865.8 349.6z"/>
<path fill="#b4b4b4" stroke="#b4b4b4" d="M887.1 327.6 884.7 327.1 869.9 352.4 872.2 353z"/>
<path fill="#bababa" stroke="#bababa" d="M882.5 325.9 880.7 324.3 865.8 349.6 867.7 351.2z"/>
<path fill="#bdbdbd" stroke="#bdbdbd" d="M884.7 327.1 882.5 325.9 867.7 351.2 869.9 352.4z"/>
</g>
<path d="M881.3 315.2 883.3 314.4 885.6 314.4 887.9 314.9 890.1 316.1 891.9 317.8 893.2 319.7 893.8 321.8 893.7 323.8 892.8 325.5 891.3 326.8 889.3 327.6 887.1 327.6 884.7 327.1 882.5 325.9 880.7 324.3 879.4 322.3 878.8 320.2 878.9 318.2 879.8 316.5z" fill="#cccccc" fill-rule="evenodd" stroke="#3a3a3a" stroke-width=".80" stroke-linejoin="round"/>
<path fill="none" stroke="#3a3a3a" stroke-width=".80" stroke-linejoin="round" d="M864 345.5 864.1 343.5 864.9 341.8 879.8 316.5 881.3 315.2 883.3 314.4 885.6 314.4 887.9 314.9 890.1 316.1 891.9 317.8 893.2 319.7 893.8 321.8 893.7 323.8 892.8 325.6 878 350.9 876.5 352.2 874.5 352.9 872.2 353 869.9 352.4 867.7 351.2 865.8 349.6 864.6 347.6z"/>
<g stroke-width=".7" stroke-linejoin="round">
<path fill="#8d8d8d" stroke="#8d8d8d" d="M903.1 318.8 901.7 321.1 897 329.1 898.4 326.8zM901.7 321.1 899.5 322.9 894.8 330.9 897 329.1z"/>
<path fill="#939393" stroke="#939393" d="M878.3 309.9 878.9 307.2 874.2 315.2 873.6 317.9z"/>
<path fill="#9f9f9f" stroke="#9f9f9f" d="M878.5 312.8 878.3 309.9 873.6 317.9 873.8 320.8z"/>
<path fill="#9c9c9c" stroke="#9c9c9c" d="M899.5 322.9 896.7 324 892.1 332 894.8 330.9z"/>
<path fill="#aeaeae" stroke="#aeaeae" d="M879.6 315.8 878.5 312.8 873.8 320.8 874.9 323.8z"/>
<path fill="#ababab" stroke="#ababab" d="M896.7 324 893.6 324.3 888.9 332.3 892.1 332z"/>
<path fill="#bdbdbd" stroke="#bdbdbd" d="M881.5 318.5 879.6 315.8 874.9 323.8 876.8 326.5z"/>
<path fill="#bababa" stroke="#bababa" d="M893.6 324.3 890.3 323.9 885.6 331.9 888.9 332.3z"/>
<path fill="#c6c6c6" stroke="#c6c6c6" d="M884 320.9 881.5 318.5 876.8 326.5 879.3 328.9zM890.3 323.9 887 322.7 882.3 330.7 885.6 331.9z"/>
<path fill="#c9c9c9" stroke="#c9c9c9" d="M887 322.7 884 320.9 879.3 328.9 882.3 330.7z"/>
</g>
<path d="M882.5 303.1 885.3 302 888.4 301.7 891.7 302.1 895 303.3 898 305.1 900.5 307.5 902.4 310.2 903.5 313.2 903.7 316.1 903.1 318.8 901.7 321.1 899.5 322.9 896.7 324 893.6 324.3 890.3 323.9 887 322.7 884 320.9 881.5 318.5 879.6 315.8 878.5 312.8 878.3 309.9 878.9 307.2 880.3 304.9z" fill="#eeeeee" fill-rule="evenodd" stroke="#3a3a3a" stroke-width=".80" stroke-linejoin="round"/>
<path fill="none" stroke="#3a3a3a" stroke-width=".80" stroke-linejoin="round" d="M873.6 317.9 874.2 315.2 878.9 307.2 880.3 304.9 882.5 303.1 885.2 302 888.4 301.7 891.7 302.1 895 303.3 898 305.1 900.5 307.5 902.4 310.2 903.5 313.2 903.8 316.1 903.1 318.8 898.4 326.8 897 329.1 894.8 330.9 892.1 332 888.9 332.3 885.6 331.9 882.3 330.7 879.3 328.9 876.8 326.5 874.9 323.8 873.8 320.8z"/>
<path fill="#c8c8c8" stroke="#3a3a3a" stroke-width=".8" stroke-linejoin="round" d="M889.6 306.8 896.2 310 897.6 316.2 892.4 319.2 885.8 316 884.4 309.8z"/>
<path fill="#e8e8e8" stroke="#777" stroke-width=".6" d="M888.3 310.7 893.6 313.3 894.7 318.2 890.6 320.6 885.3 318.1 884.1 313.1z"/>
<path stroke="#fff" stroke-width="5" stroke-linecap="round" d="M60.3 77.8 60.0 585.5"/>
<path stroke="#262626" stroke-width="1.65" stroke-linecap="round" d="M60.3 77.8 60.0 585.5"/>
<path stroke="#fff" stroke-width="5" stroke-linecap="round" d="M102.9 81.0 141.0 527.0"/>
<path stroke="#262626" stroke-width="1.65" stroke-linecap="round" d="M102.9 81.0 141.0 527.0"/>
<path stroke="#fff" stroke-width="5" stroke-linecap="round" d="M188.0 71.1 187.0 457.0"/>
<path stroke="#262626" stroke-width="1.65" stroke-linecap="round" d="M188.0 71.1 187.0 457.0"/>
<path stroke="#fff" stroke-width="5" stroke-linecap="round" d="M324.6 69.8 324.2 194.0"/>
<path stroke="#262626" stroke-width="1.65" stroke-linecap="round" d="M324.6 69.8 324.2 194.0"/>
<path stroke="#fff" stroke-width="5" stroke-linecap="round" d="M475.8 74.8 475.7 168.3"/>
<path stroke="#262626" stroke-width="1.65" stroke-linecap="round" d="M475.8 74.8 475.7 168.3"/>
<path stroke="#fff" stroke-width="5" stroke-linecap="round" d="M543.6 78.8 543.7 190.3"/>
<path stroke="#262626" stroke-width="1.65" stroke-linecap="round" d="M543.6 78.8 543.7 190.3"/>
<path stroke="#fff" stroke-width="5" stroke-linecap="round" d="M584.4 78.8 584.9 287.4"/>
<path stroke="#262626" stroke-width="1.65" stroke-linecap="round" d="M584.4 78.8 584.9 287.4"/>
<path stroke="#fff" stroke-width="5" stroke-linecap="round" d="M654.0 78.8 653.5 368.0"/>
<path stroke="#262626" stroke-width="1.65" stroke-linecap="round" d="M654.0 78.8 653.5 368.0"/>
<path stroke="#fff" stroke-width="5" stroke-linecap="round" d="M700.8 78.8 700.3 211.3"/>
<path stroke="#262626" stroke-width="1.65" stroke-linecap="round" d="M700.8 78.8 700.3 211.3"/>
<path stroke="#fff" stroke-width="5" stroke-linecap="round" d="M778.0 71.8 778.0 287.0"/>
<path stroke="#262626" stroke-width="1.65" stroke-linecap="round" d="M778.0 71.8 778.0 287.0"/>
<path stroke="#fff" stroke-width="5" stroke-linecap="round" d="M829.0 73.8 800.3 323.9"/>
<path stroke="#262626" stroke-width="1.65" stroke-linecap="round" d="M829.0 73.8 800.3 323.9"/>
<path stroke="#fff" stroke-width="5" stroke-linecap="round" d="M873.0 75.2 872.7 344.5"/>
<path stroke="#262626" stroke-width="1.65" stroke-linecap="round" d="M873.0 75.2 872.7 344.5"/>
<path stroke="#fff" stroke-width="5" stroke-linecap="round" d="M914.0 76.8 913.6 271.8"/>
<path stroke="#262626" stroke-width="1.65" stroke-linecap="round" d="M914.0 76.8 913.6 271.8"/>
<path stroke="#fff" stroke-width="5" stroke-linecap="round" d="M133.2 751.2 134.2 665.7"/>
<path stroke="#262626" stroke-width="1.65" stroke-linecap="round" d="M133.2 751.2 134.2 665.7"/>
<path stroke="#fff" stroke-width="5" stroke-linecap="round" d="M230.8 751.2 231.0 611.7"/>
<path stroke="#262626" stroke-width="1.65" stroke-linecap="round" d="M230.8 751.2 231.0 611.7"/>
<path stroke="#fff" stroke-width="5" stroke-linecap="round" d="M352.8 747.2 353.3 595.3"/>
<path stroke="#262626" stroke-width="1.65" stroke-linecap="round" d="M352.8 747.2 353.3 595.3"/>
<path stroke="#fff" stroke-width="5" stroke-linecap="round" d="M468.0 755.2 468.7 515.5"/>
<path stroke="#262626" stroke-width="1.65" stroke-linecap="round" d="M468.0 755.2 468.7 515.5"/>
<path stroke="#fff" stroke-width="5" stroke-linecap="round" d="M548.0 755.2 548.7 478.0"/>
<path stroke="#262626" stroke-width="1.65" stroke-linecap="round" d="M548.0 755.2 548.7 478.0"/>
<path stroke="#fff" stroke-width="5" stroke-linecap="round" d="M616.5 755.2 617.0 439.7"/>
<path stroke="#262626" stroke-width="1.65" stroke-linecap="round" d="M616.5 755.2 617.0 439.7"/>
<path stroke="#fff" stroke-width="5" stroke-linecap="round" d="M688.5 753.2 689.4 439.3"/>
<path stroke="#262626" stroke-width="1.65" stroke-linecap="round" d="M688.5 753.2 689.4 439.3"/>
<path stroke="#fff" stroke-width="5" stroke-linecap="round" d="M750.0 751.2 715.3 549.6"/>
<path stroke="#262626" stroke-width="1.65" stroke-linecap="round" d="M750.0 751.2 715.3 549.6"/>
<path stroke="#fff" stroke-width="5" stroke-linecap="round" d="M817.5 753.2 818.3 455.7"/>
<path stroke="#262626" stroke-width="1.65" stroke-linecap="round" d="M817.5 753.2 818.3 455.7"/>
<path stroke="#fff" stroke-width="5" stroke-linecap="round" d="M940.0 753.2 940.0 334.5"/>
<path stroke="#262626" stroke-width="1.65" stroke-linecap="round" d="M940.0 753.2 940.0 334.5"/>
<text x="0" y="0" class="num" font-size="33.4" fill="#0a0a0a" transform="translate(450.8,788) scale(0.82,1)">22</text>
</svg></body></html>
